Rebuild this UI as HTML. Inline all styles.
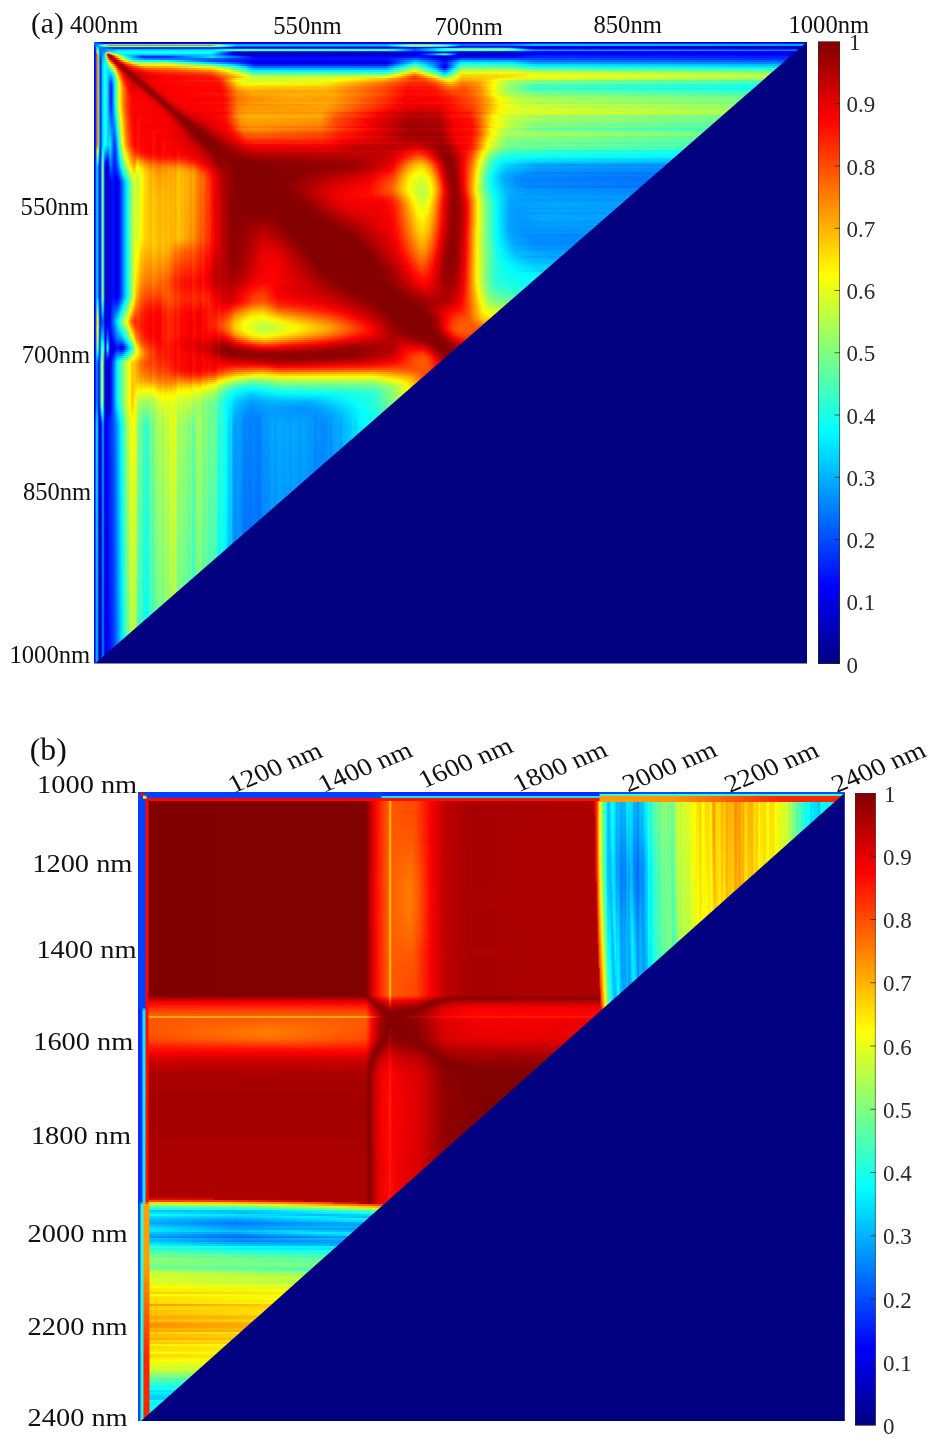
<!DOCTYPE html>
<html><head><meta charset="utf-8"><title>Figure</title>
<style>
html,body{margin:0;padding:0;background:#fff}
body{width:944px;height:1450px;position:relative;overflow:hidden;font-family:"Liberation Serif",serif}
.hm{position:absolute;overflow:hidden}
.hm i{display:block;width:100%}
svg text{font-family:"Liberation Serif",serif}
</style></head><body>
<div class="hm" style="left:93.5px;top:41.5px;width:714px;height:622px">
<i style="height:1px;background:linear-gradient(90deg,#007eff 0px,#0001ff 6px,#0000c5 9px,#0000b9 416px,#0000b4 713px)"></i>
<i style="height:1px;background:linear-gradient(90deg,#0065ff 0px,#007cff 1px,#000bff 11px,#000bff 359px,#000cff 417px,#003eff 441px,#0028ff 713px)"></i>
<i style="height:1px;background:linear-gradient(90deg,#004cff 0px,#007dff 2px,#007dff 3px,#00fdff 11px,#28ffd7 14px,#24ffdb 118px,#00fbff 125px,#0097ff 143px,#009bff 293px,#07fff8 317px,#15ffea 323px,#00f6ff 340px,#00caff 353px,#0076ff 368px,#007eff 416px,#00c5ff 440px,#00a1ff 713px)"></i>
<i style="height:1px;background:linear-gradient(90deg,#03f 0px,#009aff 3px,#0097ff 4px,#00f8ff 6px,#eaff15 11px,#ffe400 12px,#ff9400 14px,#ff8100 15px,#ff8000 117px,#fff600 124px,#c2ff3d 128px,#00feff 139px,#00cbff 142px,#00c5ff 292px,#00feff 297px,#fffe00 318px,#ffdf00 321px,#f6ff09 331px,#b7ff48 343px,#7cff83 351px,#07fff8 358px,#0070ff 367px,#0071ff 415px,#00bfff 440px,#009bff 713px)"></i>
<i style="height:1px;background:linear-gradient(90deg,#001aff 0px,#0072ff 2px,#00d2ff 3px,#00a0ff 4px,#008eff 5px,#00fcff 9px,#9eff61 15px,#adff52 17px,#adff52 117px,#01fffe 130px,#005eff 142px,#005eff 293px,#05fffa 315px,#2fffd0 321px,#00faff 342px,#00d4ff 351px,#0002ff 367px,#0000ed 712px)"></i>
<i style="height:1px;background:linear-gradient(90deg,#0001ff 0px,#006dff 2px,#0cfff3 3px,#00d4ff 4px,#008fff 5px,#007aff 8px,#0051ff 20px,#004dff 118px,#0000fb 133px,#0000c9 144px,#0000d0 302px,#0000da 334px,#0000d7 351px,#0005ff 357px,#0052ff 368px,#004cff 414px,#0000f9 429px,#0000c7 440px,#0000bd 711px)"></i>
<i style="height:1px;background:linear-gradient(90deg,#0000e7 0px,#0028ff 1px,#0068ff 2px,#4fb 3px,#0afff5 4px,#00a4ff 5px,#0079ff 6px,#0078ff 8px,#002eff 20px,#0035ff 124px,#0049ff 152px,#0041ff 302px,#0035ff 321px,#00afff 341px,#06fff9 350px,#21ffde 373px,#1dffe2 412px,#00f8ff 417px,#005dff 428px,#0000fe 435px,#0000d4 441px,#0000c9 710px)"></i>
<i style="height:1px;background:linear-gradient(90deg,#0000cf 0px,#0017ff 1px,#0063ff 2px,#7dff82 3px,#3fffc0 4px,#00b9ff 5px,#0070ff 6px,#009eff 16px,#00b2ff 24px,#00b6ff 118px,#03fffc 132px,#3bffc4 143px,#35ffca 293px,#00faff 300px,#0050ff 321px,#00deff 341px,#01fffe 344px,#6f9 354px,#cdff32 368px,#c9ff36 412px,#95ff6a 418px,#08fff7 427px,#0078ff 437px,#005eff 442px,#0045ff 708px)"></i>
<i style="height:1px;background:linear-gradient(90deg,#0000bf 0px,#0006ff 1px,#005eff 2px,#b6ff49 3px,#74ff8b 4px,#00ceff 5px,#0068ff 6px,#0084ff 8px,#008cff 11px,#00c8ff 19px,#00e5ff 24px,#00e9ff 118px,#08fff7 123px,#7aff85 143px,#79ff86 292px,#00fcff 304px,#004dff 321px,#00d7ff 341px,#03fffc 345px,#41ffbe 351px,#42ffbd 413px,#00f8ff 425px,#00a4ff 437px,#0096ff 448px,#0078ff 707px)"></i>
<i style="height:1px;background:linear-gradient(90deg,#0000bf 0px,#0000f9 1px,#0059ff 2px,#efff10 3px,#a9ff56 4px,#00e2ff 5px,#0060ff 6px,#0069ff 7px,#08f 8px,#0085ff 10px,#009dff 12px,#00d9ff 14px,#0df 19px,#0bfff4 24px,#0afff5 118px,#00d9ff 124px,#0047ff 143px,#0040ff 296px,#0015ff 322px,#005fff 343px,#0085ff 351px,#03f 368px,#002bff 421px,#0014ff 449px,#0004ff 706px)"></i>
<i style="height:1px;background:linear-gradient(90deg,#0000bf 0px,#0000f6 1px,#0054ff 2px,#ffd700 3px,#deff21 4px,#00f7ff 5px,#0057ff 6px,#0062ff 7px,#008cff 8px,#0090ff 10px,#00abff 11px,#28ffd7 12px,#6aff95 13px,#8f7 14px,#79ff86 15px,#35ffca 17px,#16ffe9 19px,#1bffe4 117px,#00f6ff 120px,#0000fd 139px,#0000d2 143px,#0000db 418px,#0000f0 449px,#0000e4 705px)"></i>
<i style="height:1px;background:linear-gradient(90deg,#0000bf 0px,#0000f6 1px,#0054ff 2px,#ff9e00 3px,#ffeb00 4px,#0dfff2 5px,#004fff 6px,#005bff 7px,#0090ff 8px,#009eff 10px,#00dfff 11px,#b7ff48 12px,#ff9d00 13px,#ff7e00 14px,#ff9000 15px,#ffc900 16px,#e6ff19 17px,#af5 18px,#84ff7b 19px,#40ffbf 23px,#02fffd 28px,#00fbff 117px,#0001ff 137px,#0000bd 143px,#0000c4 300px,#0000df 322px,#0008ff 328px,#0067ff 341px,#00cdff 351px,#0000fc 364px,#0000cd 367px,#0000cf 417px,#0000fd 442px,#0000ef 704px)"></i>
<i style="height:1px;background:linear-gradient(90deg,#0000bf 0px,#0000f6 1px,#05f 2px,#ff8100 3px,#ffb600 4px,#21ffde 5px,#0046ff 6px,#0054ff 7px,#0094ff 8px,#00b8ff 10px,#13ffec 11px,#e8ff17 12px,#ff4600 13px,#c70000 14px,#c20000 15px,#f80000 16px,#ff9600 18px,#ffd500 19px,#faff05 20px,#7fff80 24px,#00f9ff 29px,#00e8ff 30px,#00cbff 49px,#00cbff 117px,#0002ff 136px,#0000be 143px,#0000c5 300px,#0000dc 321px,#0001ff 325px,#0090ff 340px,#00faff 347px,#2effd1 351px,#01fffe 353px,#0004ff 364px,#0000c0 367px,#0000bf 415px,#0004ff 436px,#0009ff 491px,#0000fc 703px)"></i>
<i style="height:1px;background:linear-gradient(90deg,#0000bf 0px,#0000f6 1px,#05f 2px,#ff8000 3px,#ff8d00 4px,#36ffc9 5px,#003eff 6px,#004dff 7px,#0098ff 8px,#00c5ff 10px,#10ffef 11px,#d2ff2d 12px,#ff5300 13px,#b70000 14px,#900000 15px,#9f0000 16px,#c80000 17px,#ff0500 18px,#ff8200 20px,#ffde00 22px,#fbff04 23px,#12ffed 30px,#00f4ff 31px,#00c9ff 36px,#008bff 47px,#0092ff 75px,#00d1ff 118px,#000bff 144px,#0000e8 154px,#0000d3 163px,#0000db 305px,#0000ef 324px,#000bff 332px,#0048ff 346px,#005fff 351px,#0001ff 361px,#0000c6 368px,#0000cd 416px,#0006ff 432px,#0019ff 445px,#0009ff 702px)"></i>
<i style="height:2px;background:linear-gradient(90deg,#0000bf 0px,#0000f6 1px,#05f 2px,#ff8000 3px,#ff8b00 4px,#48ffb7 5px,#0032ff 6px,#0042ff 7px,#009eff 8px,#00c8ff 10px,#00f5ff 11px,#80ff7f 12px,#ffca00 13px,#f92600 14px,#be0000 15px,#9b0000 16px,#950000 17px,#a90000 18px,#d20000 19px,#f21800 20px,#ff7c00 22px,#ffd300 24px,#e5ff1a 26px,#23ffdc 32px,#0ef 34px,#0049ff 46px,#002bff 50px,#002fff 72px,#00deff 118px,#0053ff 146px,#0003f8 159px,#0007f9 300px,#001aff 323px,#00e 341px,#0000ce 352px,#0009f5 367px,#000efd 421px,#002dff 444px,#001bff 700px)"></i>
<i style="height:2px;background:linear-gradient(90deg,#0000bf 0px,#0000f6 1px,#05f 2px,#ff7f00 3px,#ff8b00 4px,#49ffb6 5px,#0029ff 6px,#0035ff 7px,#00a6ff 8px,#00efff 11px,#3cffc3 12px,#abff54 13px,#ffbe00 14px,#ff4600 15px,#ec1000 16px,#c40000 17px,#9f0000 18px,#930000 19px,#9e0000 20px,#e60900 22px,#ff2700 23px,#ffb400 26px,#f6f009 28px,#e5ff1a 29px,#15fbea 36px,#00e4ff 38px,#0086ff 51px,#0061ff 119px,#000dff 164px,#0013ff 294px,#006aff 321px,#0003f7 344px,#0000cd 351px,#000afb 358px,#0051ff 368px,#0032ff 698px)"></i>
<i style="height:2px;background:linear-gradient(90deg,#0000bf 0px,#0000f6 1px,#05f 2px,#ff7f00 3px,#ff8b00 4px,#49ffb6 5px,#0029ff 6px,#03f 7px,#00acff 8px,#00d3ff 9px,#02fdfd 11px,#2affd5 12px,#6fff90 13px,#dcff23 14px,#ffc100 15px,#ff4500 17px,#f11400 18px,#c00 19px,#a40000 20px,#910000 21px,#950000 22px,#ac0000 23px,#d20000 24px,#ff3100 26px,#ffa500 29px,#fede01 31px,#d0ff2f 34px,#39ffc6 40px,#23ffdc 42px,#18f3e7 74px,#00cbff 88px,#0042ff 120px,#0000f7 158px,#0000f7 293px,#00aeff 321px,#0045ff 341px,#0003f7 350px,#000eff 353px,#00aeff 367px,#00abff 416px,#0070ff 441px,#0056ff 696px)"></i>
<i style="height:2px;background:linear-gradient(90deg,#0000bf 0px,#0000f6 1px,#05f 2px,#ff8000 3px,#ff8b00 4px,#49ffb6 5px,#0029ff 6px,#03f 7px,#00adff 8px,#01fdfe 10px,#2fd 12px,#47ffb8 13px,#e6ff19 15px,#ffe500 16px,#ff4900 19px,#f51500 20px,#d00000 21px,#a70000 22px,#920000 23px,#900000 24px,#b90000 26px,#db0000 27px,#ff2300 29px,#ff8a00 33px,#f8e007 38px,#beff41 43px,#a9ff56 46px,#a3ff5c 72px,#1df9e2 102px,#00c7ff 119px,#0042ff 146px,#0002f7 157px,#0000e4 162px,#0000e6 292px,#0009ff 296px,#01effe 321px,#0070ff 341px,#01f 351px,#04f7fb 367px,#00f1ff 418px,#00a3ff 440px,#0083ff 694px)"></i>
<i style="height:2px;background:linear-gradient(90deg,#0000bf 0px,#0000f6 1px,#05f 2px,#ff8000 3px,#ff8b00 4px,#49ffb6 5px,#0029ff 6px,#03f 7px,#00adff 8px,#03fffc 10px,#1fffe0 11px,#21ffde 13px,#9f6 15px,#f0fb0f 17px,#ffde00 18px,#ff7d00 20px,#f30e00 22px,#cd0000 23px,#a80000 24px,#930000 25px,#950000 27px,#f10800 31px,#ff2b00 33px,#ffa100 41px,#fce803 47px,#faf105 60px,#f0f90f 76px,#57ffa8 119px,#18f7e7 130px,#00d5ff 139px,#001fff 161px,#0021ff 292px,#07f3f8 314px,#36ffc9 320px,#34ffcb 322px,#01f3fe 329px,#008fff 340px,#0003fb 350px,#000bff 352px,#00f4ff 364px,#2effd1 367px,#2cffd3 416px,#05f3fa 431px,#00e0ff 447px,#00bcff 691px)"></i>
<i style="height:2px;background:linear-gradient(90deg,#0000bf 0px,#0000f6 1px,#05f 2px,#ff8000 3px,#ff8b00 4px,#49ffb6 5px,#0029ff 6px,#03f 7px,#00adff 8px,#03fffc 10px,#1fffe0 11px,#02fbfd 13px,#16ffe9 14px,#af5 17px,#f5f60a 19px,#ffd300 20px,#ff2600 23px,#ee0300 24px,#a80000 26px,#8c0000 28px,#9b0000 30px,#ef0100 34px,#ff2000 37px,#ff9f00 51px,#ffac00 74px,#f6f209 103px,#d7ff28 118px,#0ef9f1 145px,#00d4ff 150px,#006eff 160px,#006cff 292px,#08f5f7 307px,#43ffbc 314px,#81ff7e 321px,#04f7fb 333px,#00a7ff 340px,#0003fc 349px,#0000e5 351px,#0001fa 352px,#07fbf8 363px,#60ff9f 367px,#61ff9e 415px,#12ffed 441px,#00e5ff 689px)"></i>
<i style="height:2px;background:linear-gradient(90deg,#0000bf 0px,#0000f6 1px,#05f 2px,#ff8000 3px,#ff8b00 4px,#49ffb6 5px,#0029ff 6px,#03f 7px,#00adff 8px,#03fffc 10px,#1fffe0 11px,#00f3ff 13px,#00e8ff 14px,#0af9f5 15px,#e3ff1c 20px,#ffe300 21px,#ff3a00 24px,#fe0f00 25px,#e70000 26px,#a70000 28px,#8c0000 30px,#930000 32px,#f30100 38px,#ff2600 44px,#f60 55px,#ff7000 75px,#ffd200 118px,#ecfc13 126px,#60ff9f 144px,#0ffbf0 152px,#00d4ff 157px,#00b2ff 161px,#00b3ff 292px,#08f5f7 300px,#42ffbd 307px,#c2ff3d 321px,#0bf8f4 338px,#00d5ff 341px,#002fff 350px,#0026ff 351px,#03f2fc 360px,#24ffdb 362px,#97ff68 367px,#97ff68 416px,#57ffa8 441px,#27ffd8 687px)"></i>
<i style="height:2px;background:linear-gradient(90deg,#0000bf 0px,#0000f6 1px,#05f 2px,#ff8000 3px,#ff8b00 4px,#49ffb6 5px,#0029ff 6px,#03f 7px,#00adff 8px,#03fffc 10px,#1fffe0 11px,#00f3ff 13px,#00e0ff 14px,#00deff 15px,#0ef 16px,#17ffe8 17px,#a0ff5f 20px,#dcff23 21px,#ffe300 22px,#ff6f00 24px,#f80600 27px,#a70000 30px,#8c0000 32px,#980000 35px,#e70000 41px,#ff0b00 47px,#ff3b00 60px,#ff4700 79px,#ff8900 118px,#f8f807 133px,#a5ff5a 144px,#09f7f6 159px,#06f4f9 293px,#40ffbf 301px,#e5ff1a 321px,#20ffdf 340px,#00edff 343px,#0079ff 350px,#0072ff 351px,#00f0ff 357px,#31ffce 360px,#c5ff3a 367px,#c5ff3a 417px,#96ff69 443px,#5fffa0 684px)"></i>
<i style="height:2px;background:linear-gradient(90deg,#0000bf 0px,#0000f6 1px,#05f 2px,#ff8000 3px,#ff8b00 4px,#49ffb6 5px,#0029ff 6px,#03f 7px,#00adff 8px,#03fffc 10px,#1fffe0 11px,#00f2ff 13px,#00cfff 15px,#00cdff 16px,#07f6f8 18px,#2bffd4 19px,#5cffa3 20px,#e4ff1b 22px,#ffd400 23px,#f90 24px,#ff0a00 28px,#ba0000 31px,#8c0000 34px,#920000 37px,#de0000 44px,#fe0600 54px,#ff1d00 66px,#ff3b00 97px,#ff5900 118px,#f9f606 140px,#d6ff29 145px,#3fffc0 160px,#3effc1 292px,#eafa15 311px,#fc0 318px,#ffb800 321px,#f6ed09 327px,#d1ff2e 332px,#72ff8d 340px,#0ef8f1 346px,#00c0ff 350px,#00b8ff 351px,#09f8f6 355px,#e6ff19 367px,#e6ff19 418px,#c0ff3f 446px,#85ff7a 682px)"></i>
<i style="height:2px;background:linear-gradient(90deg,#0000bf 0px,#0000f6 1px,#05f 2px,#ff8000 3px,#ff8b00 4px,#49ffb6 5px,#0029ff 6px,#03f 7px,#00adff 8px,#03fffc 10px,#1fffe0 11px,#00f1ff 13px,#00c1ff 15px,#00b3ff 16px,#00b7ff 17px,#00edff 19px,#1affe5 20px,#f8fb07 23px,#ff9100 25px,#ff0f00 29px,#f70000 30px,#970000 35px,#890000 38px,#d70000 47px,#ff0500 64px,#ff1d00 102px,#ff3100 118px,#fe0 145px,#e2ff1d 150px,#87ff78 161px,#8eff71 292px,#f6fb09 304px,#ffa500 314px,#ff6e00 321px,#f7fa08 335px,#bfff40 340px,#1fe 350px,#0dfbf2 351px,#a5ff5a 360px,#f8f707 365px,#ffd600 368px,#ffe000 419px,#fbfd04 442px,#beff41 680px)"></i>
<i style="height:2px;background:linear-gradient(90deg,#0000bf 0px,#0000f6 1px,#05f 2px,#ff8000 3px,#ff8b00 4px,#49ffb6 5px,#0029ff 6px,#03f 7px,#00adff 8px,#03fffc 10px,#1fffe0 11px,#14ffeb 12px,#00f1ff 13px,#09f 16px,#0095ff 17px,#00efff 20px,#27ffd8 21px,#ceff31 23px,#ffe700 24px,#ff8b00 26px,#ff2700 29px,#fa0100 31px,#970000 37px,#800 40px,#d70000 50px,#fd0000 71px,#ff1400 118px,#ffa100 140px,#f7f708 152px,#c3ff3c 161px,#d0ff2f 276px,#deff21 293px,#ffdc00 301px,#ff3b00 320px,#ff5000 324px,#f7ef08 340px,#d7ff28 343px,#6aff95 350px,#62ff9d 351px,#d0ff2f 360px,#faff05 363px,#ffca00 368px,#ffd500 405px,#f7ff08 438px,#b7ff48 677px)"></i>
<i style="height:2px;background:linear-gradient(90deg,#0000bf 0px,#0000f6 1px,#05f 2px,#ff8000 3px,#ff8b00 4px,#49ffb6 5px,#0029ff 6px,#03f 7px,#00adff 8px,#03fffc 10px,#1fffe0 11px,#14ffeb 12px,#00f0ff 13px,#0080ff 16px,#0072ff 17px,#00e5ff 20px,#1fe 21px,#4dffb2 22px,#f0ff0f 24px,#ffd500 25px,#ff5800 28px,#ff0e00 31px,#ec0000 33px,#8f0000 40px,#8c0000 43px,#e20000 51px,#fa0000 66px,#ff0f00 120px,#ff2c00 127px,#ffd200 141px,#edf912 149px,#c9ff36 163px,#df2 230px,#fdfb02 252px,#ffc100 290px,#ff3000 320px,#ff4b00 330px,#ffab00 342px,#fbe704 347px,#deff21 353px,#e3ff1c 356px,#ffec00 361px,#ffae00 368px,#ffc200 389px,#f6fc09 406px,#d9ff26 417px,#94ff6b 675px)"></i>
<i style="height:2px;background:linear-gradient(90deg,#0000bf 0px,#0000f6 1px,#05f 2px,#ff8000 3px,#ff8b00 4px,#49ffb6 5px,#0029ff 6px,#03f 7px,#00adff 8px,#03fffc 10px,#1fffe0 11px,#14ffeb 12px,#00efff 13px,#06f 16px,#0050ff 17px,#00deff 20px,#0efff1 21px,#87ff78 23px,#cf3 24px,#fff600 25px,#ff6d00 28px,#ff1c00 31px,#fa0000 33px,#9c0000 41px,#8d0000 45px,#e90000 53px,#fb0000 63px,#ff2000 124px,#ff3a00 128px,#ffe800 141px,#f5ff0a 145px,#cfff30 154px,#d2ff2d 198px,#e3ff1c 230px,#fff900 244px,#ffa500 287px,#ff3c00 318px,#ff4100 330px,#ff8300 342px,#fff100 354px,#ffe900 358px,#ff9800 368px,#ffb200 385px,#f7ff08 401px,#abff54 415px,#7fff80 445px,#4bffb4 673px)"></i>
<i style="height:2px;background:linear-gradient(90deg,#0000bf 0px,#0000f6 1px,#05f 2px,#ff7f00 3px,#ff8b00 4px,#49ffb6 5px,#0029ff 6px,#03f 7px,#00adff 8px,#03fffc 10px,#1fffe0 11px,#14ffeb 12px,#00efff 13px,#008bff 15px,#004eff 16px,#002eff 17px,#00d8ff 20px,#0cfff3 21px,#c2ff3d 24px,#efff10 25px,#ffe400 26px,#ff8200 28px,#ff2a00 31px,#ff0600 33px,#8d0000 46px,#9b0000 49px,#e80000 55px,#fb0000 63px,#ff0a00 124px,#ff2800 129px,#ffcf00 142px,#fef701 148px,#f6fc09 181px,#fe0 231px,#ff7300 289px,#ff2100 317px,#ff2700 332px,#ff5a00 343px,#ffb700 355px,#ffb000 359px,#ff7500 368px,#ff8f00 382px,#ffc000 392px,#fdff02 401px,#a8ff57 415px,#76ff89 442px,#46ffb9 671px)"></i>
<i style="height:2px;background:linear-gradient(90deg,#0000bf 0px,#0000f6 1px,#05f 2px,#ff8000 3px,#ff8b00 4px,#49ffb6 5px,#0029ff 6px,#03f 7px,#00adff 8px,#03fffc 10px,#1fffe0 11px,#14ffeb 12px,#00efff 13px,#008aff 15px,#0045ff 16px,#0013ff 17px,#0049ff 18px,#00d1ff 20px,#0afff5 21px,#c1ff3e 24px,#ebff14 25px,#fff300 26px,#ff7100 29px,#ff2000 32px,#ff0200 34px,#cf0000 40px,#cb0000 43px,#8e0000 48px,#980000 51px,#e70000 57px,#fb0000 64px,#ff0f00 125px,#ff2f00 130px,#fc0 143px,#ffef00 150px,#fe0 200px,#ffdf00 231px,#ff6500 289px,#ff1f00 316px,#ff2600 335px,#ff5800 346px,#ff9b00 356px,#ff8900 362px,#ff6b00 369px,#ff9800 385px,#fdff02 399px,#97ff68 414px,#47ffb8 440px,#1affe5 668px)"></i>
<i style="height:2px;background:linear-gradient(90deg,#0000bf 0px,#0000f6 1px,#05f 2px,#ff8000 3px,#ff8b00 4px,#49ffb6 5px,#0029ff 6px,#03f 7px,#00adff 8px,#03fffc 10px,#1fffe0 11px,#14ffeb 12px,#00efff 13px,#008aff 15px,#0045ff 16px,#000fff 17px,#003cff 18px,#00caff 20px,#08fff7 21px,#c1ff3e 24px,#ebff14 25px,#fff400 26px,#ff6200 30px,#ff1a00 33px,#fc0000 35px,#da0000 40px,#e40000 43px,#8f0000 50px,#950000 53px,#ed0000 60px,#fb0000 69px,#ff0700 127px,#ff3b00 133px,#ffab00 143px,#ffce00 151px,#ffc200 231px,#ff4e00 289px,#ff0c00 315px,#ff1200 337px,#ff4500 348px,#ff7400 357px,#ff5400 370px,#ff8c00 386px,#fbff04 400px,#97ff68 415px,#42ffbd 439px,#16ffe9 666px)"></i>
<i style="height:2px;background:linear-gradient(90deg,#0000bf 0px,#0000f6 1px,#05f 2px,#ff8000 3px,#ff8b00 4px,#49ffb6 5px,#0029ff 6px,#03f 7px,#00adff 8px,#03fffc 10px,#1fffe0 11px,#14ffeb 12px,#00efff 13px,#008aff 15px,#0045ff 16px,#000fff 17px,#003cff 18px,#00c6ff 20px,#06fff9 21px,#c1ff3e 24px,#ebff14 25px,#fff400 26px,#ff8b00 29px,#ff2400 33px,#ff0400 35px,#e00000 40px,#ed0000 44px,#c70000 48px,#920000 52px,#930000 55px,#ea0000 62px,#fb0000 70px,#ff0800 126px,#ff2d00 132px,#ff9f00 143px,#ffc100 152px,#ffbc00 232px,#ff4d00 290px,#ff0e00 315px,#ff1600 339px,#ff6400 357px,#ff5700 371px,#ff9600 387px,#faff05 399px,#94ff6b 414px,#31ffce 439px,#07fdf8 664px)"></i>
<i style="height:2px;background:linear-gradient(90deg,#0000bf 0px,#0000f6 1px,#05f 2px,#ff8000 3px,#ff8b00 4px,#49ffb6 5px,#0029ff 6px,#03f 7px,#00adff 8px,#03fffc 10px,#1fffe0 11px,#14ffeb 12px,#00efff 13px,#008aff 15px,#0045ff 16px,#000fff 17px,#003cff 18px,#00c5ff 20px,#06fff9 21px,#c1ff3e 24px,#ebff14 25px,#fff400 26px,#ff8b00 29px,#ff1b00 34px,#fe0100 36px,#e50000 40px,#f50000 44px,#d90000 49px,#940000 54px,#900000 57px,#e80000 64px,#fa0000 71px,#fb0400 128px,#f20 133px,#ff8200 143px,#ffa300 153px,#ffa700 233px,#ff3e00 290px,#fb0400 312px,#ff0a00 342px,#ff4500 357px,#ff4500 371px,#ff8600 387px,#fbfb04 400px,#a2ff5d 415px,#68ff97 440px,#3bffc4 661px)"></i>
<i style="height:2px;background:linear-gradient(90deg,#0000bf 0px,#0000f6 1px,#05f 2px,#ff8000 3px,#ff8b00 4px,#49ffb6 5px,#0029ff 6px,#03f 7px,#00adff 8px,#03fffc 10px,#1fffe0 11px,#14ffeb 12px,#00efff 13px,#008aff 15px,#0045ff 16px,#000fff 17px,#003cff 18px,#00c5ff 20px,#06fff9 21px,#c1ff3e 24px,#ebff14 25px,#fff400 26px,#ff8b00 29px,#ff2400 34px,#fb0000 37px,#ec0000 41px,#f80000 45px,#e70000 50px,#8f0000 57px,#960000 60px,#ec0000 67px,#fa0000 77px,#ff0d00 129px,#ff5000 137px,#ff8d00 145px,#ffa700 159px,#ffae00 234px,#f40 291px,#fc0a00 313px,#ff0f00 342px,#ff4000 357px,#ff5100 373px,#ff8d00 387px,#fbf704 399px,#a2ff5d 415px,#71ff8e 443px,#43ffbc 659px)"></i>
<i style="height:2px;background:linear-gradient(90deg,#0000bf 0px,#0000f6 1px,#05f 2px,#ff8000 3px,#ff8b00 4px,#49ffb6 5px,#0029ff 6px,#03f 7px,#00adff 8px,#03fffc 10px,#1fffe0 11px,#14ffeb 12px,#00efff 13px,#008aff 15px,#0045ff 16px,#000fff 17px,#003cff 18px,#00c5ff 20px,#06fff9 21px,#c1ff3e 24px,#ebff14 25px,#fff400 26px,#ff8b00 29px,#ff3800 33px,#ff0100 37px,#f00000 41px,#f90000 47px,#e90000 52px,#910000 59px,#930000 62px,#ea0000 69px,#fa0000 77px,#ff0e00 129px,#f40 136px,#ff8500 144px,#ffa300 158px,#ffb300 207px,#ffa900 240px,#ff4200 292px,#fe0700 314px,#ff0f00 343px,#ff3a00 359px,#ff5a00 376px,#ff9a00 389px,#fbfa04 400px,#acff53 415px,#7bff84 443px,#4cffb3 657px)"></i>
<i style="height:2px;background:linear-gradient(90deg,#0000bf 0px,#0000f6 1px,#05f 2px,#ff8000 3px,#ff8b00 4px,#49ffb6 5px,#0029ff 6px,#03f 7px,#00adff 8px,#03fffc 10px,#1fffe0 11px,#14ffeb 12px,#00efff 13px,#008aff 15px,#0045ff 16px,#000fff 17px,#003cff 18px,#00c5ff 20px,#06fff9 21px,#c1ff3e 24px,#ebff14 25px,#fff400 26px,#ff8b00 29px,#ff3800 33px,#fc0000 38px,#f30000 41px,#f80000 51px,#d70000 56px,#930000 61px,#910000 64px,#e70000 71px,#fa0000 78px,#ff0600 130px,#ff7800 144px,#ff9700 161px,#ffa800 201px,#ffa100 239px,#ff3100 293px,#fc0000 311px,#fd0100 343px,#ff5600 379px,#f90 391px,#fcfd03 403px,#b9ff46 419px,#9f6 446px,#6aff95 655px)"></i>
<i style="height:2px;background:linear-gradient(90deg,#0000bf 0px,#0000f6 1px,#05f 2px,#ff8000 3px,#ff8b00 4px,#49ffb6 5px,#0029ff 6px,#03f 7px,#00adff 8px,#03fffc 10px,#1fffe0 11px,#14ffeb 12px,#00efff 13px,#008aff 15px,#0045ff 16px,#000fff 17px,#003cff 18px,#00c5ff 20px,#06fff9 21px,#c1ff3e 24px,#ebff14 25px,#fff400 26px,#ff8b00 29px,#ff3800 33px,#ff0100 38px,#fa0000 42px,#f20000 55px,#cd0000 59px,#8e0000 64px,#970000 67px,#ec0000 74px,#fa0000 84px,#fa0000 128px,#ff1500 133px,#ff7000 143px,#ff8e00 156px,#ffa400 193px,#ff9e00 239px,#ff2b00 293px,#fa0000 309px,#f20000 338px,#ff0900 350px,#ff5300 380px,#ff9f00 393px,#fdff02 405px,#c1ff3e 422px,#a7ff58 449px,#79ff86 652px)"></i>
<i style="height:2px;background:linear-gradient(90deg,#0000bf 0px,#0000f6 1px,#05f 2px,#ff8000 3px,#ff8b00 4px,#49ffb6 5px,#0029ff 6px,#03f 7px,#00adff 8px,#03fffc 10px,#1fffe0 11px,#14ffeb 12px,#00efff 13px,#008aff 15px,#0045ff 16px,#000fff 17px,#003cff 18px,#00c5ff 20px,#06fff9 21px,#c1ff3e 24px,#ebff14 25px,#fff400 26px,#ff8b00 29px,#ff3800 33px,#ff0300 38px,#f30000 57px,#d10000 61px,#900000 66px,#940000 69px,#e90000 76px,#fa0000 84px,#fa0100 129px,#ff1a00 134px,#ff6e00 143px,#ff8900 154px,#ffa000 194px,#ff9c00 238px,#ff2100 294px,#f70000 308px,#eb0000 331px,#ff0900 353px,#ff4d00 380px,#ff9f00 394px,#fffb00 406px,#c8ff37 425px,#b3ff4c 458px,#86ff79 650px)"></i>
<i style="height:2px;background:linear-gradient(90deg,#0000bf 0px,#0000f6 1px,#05f 2px,#ff8000 3px,#ff8b00 4px,#49ffb6 5px,#0029ff 6px,#03f 7px,#00adff 8px,#03fffc 10px,#1fffe0 11px,#14ffeb 12px,#00efff 13px,#008aff 15px,#0045ff 16px,#000fff 17px,#003cff 18px,#00c5ff 20px,#06fff9 21px,#c1ff3e 24px,#ebff14 25px,#fff400 26px,#ff8c00 29px,#ff3800 33px,#ff0300 38px,#f40000 59px,#d40000 63px,#920000 68px,#920000 71px,#e60000 78px,#f90000 85px,#ff0c00 129px,#ff3200 135px,#ff8500 144px,#ff9d00 159px,#ffb000 215px,#ffa600 240px,#ff2600 296px,#fa0200 312px,#ff0800 348px,#ff5900 380px,#fa0 394px,#fdf902 404px,#bcff43 425px,#9fff60 446px,#6fff90 648px)"></i>
<i style="height:2px;background:linear-gradient(90deg,#0000bf 0px,#0000f6 1px,#05f 2px,#ff8000 3px,#ff8b00 4px,#49ffb6 5px,#0029ff 6px,#03f 7px,#00adff 8px,#03fffc 10px,#1fffe0 11px,#14ffeb 12px,#00efff 13px,#008dff 15px,#0049ff 16px,#0013ff 17px,#003dff 18px,#02fefd 21px,#bdff42 24px,#e7ff18 25px,#fff700 26px,#ff8e00 29px,#ff3900 33px,#ff0400 38px,#f10000 62px,#bc0000 67px,#8d0000 71px,#970000 74px,#e90000 81px,#f90000 91px,#fb0000 129px,#ff1800 134px,#f70 144px,#ff8c00 156px,#ff9d00 231px,#ff2000 290px,#f80000 304px,#e30000 320px,#ed0000 346px,#ff0b00 357px,#ff4500 380px,#ff9700 394px,#fff200 406px,#f0ff0f 413px,#d3ff2c 429px,#9aff65 645px)"></i>
<i style="height:2px;background:linear-gradient(90deg,#0000bf 0px,#0000f6 1px,#05f 2px,#ff8000 3px,#ff8b00 4px,#49ffb6 5px,#0029ff 6px,#03f 7px,#00adff 8px,#03fffc 10px,#1fffe0 11px,#14ffeb 12px,#00efff 13px,#0090ff 15px,#001dff 17px,#0042ff 18px,#00f6ff 21px,#b3ff4c 24px,#fefe01 26px,#ff9400 29px,#ff3c00 33px,#ff0900 37px,#ff0100 44px,#f20000 64px,#ce0000 68px,#8f0000 73px,#940000 76px,#e30000 83px,#f70000 91px,#ff0700 129px,#ff2c00 135px,#ff8400 144px,#ff9800 154px,#ffa400 231px,#f10 296px,#f30000 307px,#e60000 328px,#f30000 347px,#ff1400 358px,#ff4a00 380px,#ffab00 395px,#fefb01 406px,#d2ff2d 423px,#bf4 468px,#90ff6f 643px)"></i>
<i style="height:2px;background:linear-gradient(90deg,#0000bf 0px,#0000f6 1px,#05f 2px,#ff8000 3px,#ff8b00 4px,#49ffb6 5px,#0029ff 6px,#03f 7px,#00adff 8px,#03fffc 10px,#1fffe0 11px,#14ffeb 12px,#00efff 13px,#0094ff 15px,#0027ff 17px,#0047ff 18px,#00ecff 21px,#2bffd4 22px,#a8ff57 24px,#f7ff08 26px,#ff9a00 29px,#ff5000 32px,#ff0900 37px,#ff0200 43px,#f20000 66px,#d10000 70px,#900000 75px,#900000 78px,#e20000 86px,#f50000 96px,#ff0600 130px,#ff3200 136px,#ff8200 144px,#ff9600 153px,#ff9e00 229px,#f80200 298px,#d70000 318px,#e10000 346px,#ff0b00 358px,#ff3a00 379px,#ffa900 395px,#fff900 406px,#df2 422px,#a7ff58 641px)"></i>
<i style="height:2px;background:linear-gradient(90deg,#0000bf 0px,#0000f6 1px,#05f 2px,#ff8000 3px,#ff8b00 4px,#49ffb6 5px,#0029ff 6px,#03f 7px,#00adff 8px,#03fffc 10px,#1fffe0 11px,#14ffeb 12px,#00efff 13px,#0065ff 16px,#0031ff 17px,#004cff 18px,#00e2ff 21px,#20ffdf 22px,#9dff62 24px,#efff10 26px,#ffe700 27px,#ffa000 29px,#ff5300 32px,#ff0900 37px,#fe0000 42px,#f30000 68px,#d20000 72px,#900000 77px,#8c0000 80px,#e10000 89px,#f30000 101px,#ff0800 130px,#ff4200 137px,#ff8900 144px,#ff9d00 153px,#ffa100 228px,#ff2500 277px,#f80000 295px,#cf0000 316px,#d60000 345px,#ff0400 356px,#ff3100 378px,#ffa100 393px,#fff700 404px,#d9ff26 420px,#a7ff58 638px)"></i>
<i style="height:2px;background:linear-gradient(90deg,#0000bf 0px,#0000f6 1px,#05f 2px,#ff8000 3px,#ff8b00 4px,#49ffb6 5px,#0029ff 6px,#03f 7px,#00adff 8px,#03fffc 10px,#1fffe0 11px,#14ffeb 12px,#00efff 13px,#003bff 17px,#0052ff 18px,#00d8ff 21px,#14ffeb 22px,#92ff6d 24px,#e7ff18 26px,#fe0 27px,#ffa600 29px,#ff5700 32px,#ff0b00 37px,#f60000 41px,#fe0000 49px,#f30000 70px,#d20000 74px,#900000 79px,#890000 82px,#df0000 92px,#f20000 107px,#f60000 129px,#ff0c00 133px,#ff7e00 144px,#ff9300 152px,#ff9300 227px,#ff4b00 248px,#f80000 283px,#b40000 315px,#b00 345px,#f80000 359px,#ff1200 376px,#ff4e00 385px,#ffe400 402px,#f9ff06 409px,#e2ff1d 422px,#e3ff1c 467px,#b9ff46 636px)"></i>
<i style="height:2px;background:linear-gradient(90deg,#0000bf 0px,#0000f6 1px,#05f 2px,#ff7f00 3px,#ff8b00 4px,#49ffb6 5px,#0029ff 6px,#03f 7px,#00adff 8px,#03fffc 10px,#1fffe0 11px,#14ffeb 12px,#00efff 13px,#07f 16px,#04f 17px,#0057ff 18px,#009eff 20px,#09fff6 22px,#8f7 24px,#dfff20 26px,#fff500 27px,#ffac00 29px,#ff5b00 32px,#ff0d00 37px,#f50000 41px,#ff0600 45px,#f20000 72px,#c30000 77px,#8a0000 82px,#910000 86px,#d80000 94px,#f00000 109px,#ff0500 129px,#ff2f00 135px,#ff9400 144px,#ffab00 152px,#ffa900 226px,#ff5d00 244px,#f80000 286px,#bd0000 315px,#c40000 345px,#ff0400 357px,#f20 377px,#ff6b00 386px,#fff300 400px,#e6ff19 407px,#c5ff3a 421px,#adff52 463px,#84ff7b 634px)"></i>
<i style="height:2px;background:linear-gradient(90deg,#0000bf 0px,#0000f6 1px,#05f 2px,#ff8000 3px,#ff8b00 4px,#49ffb6 5px,#0029ff 6px,#03f 7px,#00adff 8px,#03fffc 10px,#1fffe0 11px,#14ffeb 12px,#00efff 13px,#0081ff 16px,#004eff 17px,#005cff 18px,#0097ff 20px,#00fdff 22px,#7dff82 24px,#fffc00 27px,#ffb200 29px,#ff5f00 32px,#ff0f00 37px,#f50000 41px,#ff0800 45px,#fb0000 59px,#f00000 74px,#c10000 79px,#890000 84px,#8c0000 88px,#d50000 97px,#f40000 118px,#ff0c00 130px,#ff4a00 137px,#ffa100 145px,#ffb400 153px,#ffad00 226px,#ff6000 242px,#f90300 283px,#b00 316px,#c20000 345px,#fd0600 356px,#ff2300 377px,#f60 385px,#fff900 399px,#beff41 416px,#94ff6b 446px,#68ff97 632px)"></i>
<i style="height:2px;background:linear-gradient(90deg,#0000bf 0px,#0000f6 1px,#05f 2px,#ff8000 3px,#ff8b00 4px,#49ffb6 5px,#0029ff 6px,#03f 7px,#00adff 8px,#03fffc 10px,#1fffe0 11px,#14ffeb 12px,#00efff 13px,#00a7ff 15px,#008aff 16px,#0058ff 17px,#07f 19px,#0090ff 20px,#00f2ff 22px,#72ff8d 24px,#fbff04 27px,#ff7c00 31px,#ff1f00 36px,#f80000 40px,#f40000 41px,#ff0b00 44px,#fa0000 51px,#f20000 75px,#c00 80px,#890000 86px,#890000 90px,#d00000 100px,#ed0000 116px,#ff0800 132px,#ff5800 140px,#ff9000 146px,#ffa100 156px,#ff9500 226px,#ff4700 242px,#fa0000 273px,#a40000 315px,#a00 345px,#f70000 359px,#ff0b00 377px,#ff4500 384px,#ffe300 398px,#f9fe06 403px,#c5ff3a 419px,#af5 450px,#81ff7e 629px)"></i>
<i style="height:2px;background:linear-gradient(90deg,#0000bf 0px,#0000f6 1px,#05f 2px,#ff8000 3px,#ff8b00 4px,#49ffb6 5px,#0029ff 6px,#03f 7px,#00adff 8px,#03fffc 10px,#1fffe0 11px,#14ffeb 12px,#00efff 13px,#0af 15px,#0094ff 16px,#0062ff 17px,#0075ff 19px,#08f 20px,#00b0ff 21px,#00e7ff 22px,#2affd5 23px,#9aff65 25px,#f5ff0a 27px,#ffa100 30px,#ff6700 32px,#ff1300 37px,#f40000 41px,#ff0900 43px,#fc0000 60px,#ef0000 77px,#c90000 82px,#890000 88px,#8b0000 93px,#cf0000 104px,#ed0000 119px,#ff0400 131px,#ff4000 138px,#ff9000 146px,#ffa400 155px,#ff9400 226px,#ff4900 242px,#f80000 275px,#a60000 315px,#ac0000 345px,#fa0000 359px,#ff0e00 377px,#ff4700 384px,#ffe200 397px,#f7ff08 402px,#bdff42 417px,#94ff6b 444px,#6bff94 627px)"></i>
<i style="height:2px;background:linear-gradient(90deg,#0000bf 0px,#0000f6 1px,#05f 2px,#ff8000 3px,#ff8b00 4px,#49ffb6 5px,#0029ff 6px,#03f 7px,#00adff 8px,#03fffc 10px,#1fffe0 11px,#14ffeb 12px,#00efff 13px,#00c7ff 14px,#009dff 16px,#006cff 17px,#0074ff 19px,#0081ff 20px,#00a6ff 21px,#00dcff 22px,#1fffe0 23px,#91ff6e 25px,#ef1 27px,#ffe400 28px,#ff6b00 32px,#ff1600 37px,#f40000 41px,#ff0a00 43px,#ff0d00 45px,#fe0000 48px,#f00000 78px,#c70000 84px,#890000 90px,#870000 95px,#db0000 111px,#ff0400 132px,#ff5900 141px,#ff9200 148px,#ff9d00 162px,#ff8b00 226px,#ff4200 243px,#f80000 274px,#a30000 315px,#a00 346px,#f60000 359px,#ff0900 377px,#ff4200 384px,#ffe200 397px,#f7ff08 402px,#b7ff48 418px,#8aff75 443px,#63ff9c 625px)"></i>
<i style="height:2px;background:linear-gradient(90deg,#0000bf 0px,#0000f6 1px,#05f 2px,#ff8000 3px,#ff8b00 4px,#49ffb6 5px,#0029ff 6px,#03f 7px,#00adff 8px,#03fffc 10px,#1fffe0 11px,#14ffeb 12px,#00efff 13px,#00c7ff 14px,#00a6ff 16px,#0076ff 17px,#0073ff 19px,#007aff 20px,#009cff 21px,#00d0ff 22px,#14ffeb 23px,#87ff78 25px,#e7ff18 27px,#ffeb00 28px,#ff6f00 32px,#ff1800 37px,#f40000 41px,#ff0b00 43px,#ff0f00 45px,#f80000 47px,#f80000 73px,#e40000 82px,#890000 92px,#800 98px,#e00000 116px,#f90000 131px,#ff1d00 136px,#ff8900 147px,#ff9b00 156px,#ff8600 226px,#ff4000 244px,#f90000 275px,#a50000 315px,#ab0000 346px,#fa0000 360px,#ff0a00 377px,#ff3600 383px,#ffe600 397px,#f9ff06 401px,#b1ff4e 417px,#78ff87 442px,#51ffae 622px)"></i>
<i style="height:2px;background:linear-gradient(90deg,#0000bf 0px,#0000f6 1px,#05f 2px,#ff8000 3px,#ff8b00 4px,#49ffb6 5px,#0029ff 6px,#03f 7px,#00adff 8px,#03fffc 10px,#1fffe0 11px,#14ffeb 12px,#00efff 13px,#00c7ff 14px,#00b0ff 16px,#0080ff 17px,#0073ff 20px,#0092ff 21px,#09fff6 23px,#7eff81 25px,#e0ff1f 27px,#fff100 28px,#ff7300 32px,#ff1a00 37px,#f50000 41px,#f10 44px,#f00 48px,#f40000 57px,#f00 60px,#ec0000 81px,#bf0000 88px,#800 94px,#800 101px,#de0000 118px,#f70000 133px,#ff1500 137px,#ff7500 147px,#ff8700 156px,#ff6d00 227px,#ff2d00 245px,#f80000 269px,#970000 315px,#9c0000 346px,#eb0000 360px,#ff0500 379px,#ff4b00 386px,#ffdb00 397px,#fdff02 402px,#b9ff46 417px,#8bff74 442px,#6f9 620px)"></i>
<i style="height:2px;background:linear-gradient(90deg,#0000bf 0px,#0000f6 1px,#05f 2px,#ff8000 3px,#ff8b00 4px,#49ffb6 5px,#0029ff 6px,#03f 7px,#00adff 8px,#03fffc 10px,#1fffe0 11px,#14ffeb 12px,#00efff 13px,#00c8ff 14px,#00b9ff 15px,#00b9ff 16px,#0089ff 17px,#006bff 20px,#08f 21px,#00baff 22px,#00fdff 23px,#a7ff58 26px,#fff700 28px,#f70 32px,#ff1d00 37px,#fd0000 40px,#f60000 41px,#f10 45px,#f80000 47px,#fb0000 50px,#fc0000 55px,#f30000 57px,#ff0100 60px,#ec0000 82px,#c40000 89px,#870000 96px,#870000 104px,#de0000 121px,#ff0500 135px,#ff8600 148px,#ff9800 157px,#ff7c00 227px,#ff4000 246px,#f70000 281px,#af0000 315px,#b60000 347px,#ff0100 359px,#ff1800 378px,#ff4b00 384px,#fff700 397px,#a3ff5c 414px,#60ff9f 442px,#3bffc4 618px)"></i>
<i style="height:2px;background:linear-gradient(90deg,#0000bf 0px,#0000f6 1px,#05f 2px,#ff8000 3px,#ff8b00 4px,#49ffb6 5px,#0029ff 6px,#03f 7px,#00adff 8px,#03fffc 10px,#1fffe0 11px,#14ffeb 12px,#00efff 13px,#00c8ff 14px,#00bdff 15px,#00c2ff 16px,#0093ff 17px,#0064ff 20px,#007eff 21px,#00afff 22px,#00f2ff 23px,#6bff94 25px,#fffe00 28px,#ff7b00 32px,#ff1f00 37px,#fe0000 40px,#f70000 41px,#f10 45px,#f80000 47px,#fb0000 50px,#fc0000 55px,#f20000 57px,#ff0800 59px,#f20000 80px,#ce0000 89px,#860000 98px,#870000 107px,#db0000 123px,#ff0600 137px,#ff7200 149px,#ff8000 159px,#ff6400 227px,#ff2c00 247px,#f60000 275px,#a20000 315px,#a70000 347px,#f80000 361px,#ff0700 377px,#ff3400 383px,#ffef00 397px,#f5ff0a 400px,#af5 414px,#83ff7c 446px,#5effa1 615px)"></i>
<i style="height:2px;background:linear-gradient(90deg,#0000bf 0px,#0000f6 1px,#05f 2px,#ff8000 3px,#ff8b00 4px,#49ffb6 5px,#0029ff 6px,#03f 7px,#00adff 8px,#03fffc 10px,#1fffe0 11px,#14ffeb 12px,#00efff 13px,#00c8ff 14px,#00c1ff 15px,#0cf 16px,#009dff 17px,#005dff 20px,#0074ff 21px,#00a4ff 22px,#00e7ff 23px,#27ffd8 24px,#faff05 28px,#ff7e00 32px,#ff2100 37px,#f00 40px,#f80000 41px,#ff1200 45px,#f80000 47px,#fb0000 50px,#fc0000 55px,#f10000 57px,#ff0900 59px,#f60000 66px,#fb0000 70px,#e10000 87px,#850000 100px,#800 110px,#d80000 125px,#ff0800 139px,#ff6000 150px,#ff6a00 163px,#ff4e00 228px,#ff1b00 248px,#f60000 270px,#9a0000 316px,#a10000 348px,#ef0000 361px,#ff0600 378px,#ff4900 385px,#ffed00 397px,#f7ff08 400px,#a9ff56 414px,#7f8 613px)"></i>
<i style="height:2px;background:linear-gradient(90deg,#0000bf 0px,#0000f6 1px,#05f 2px,#ff8000 3px,#ff8b00 4px,#49ffb6 5px,#0029ff 6px,#03f 7px,#00adff 8px,#03fffc 10px,#1fffe0 11px,#14ffeb 12px,#00efff 13px,#00c9ff 14px,#00c4ff 15px,#00d5ff 16px,#00a7ff 17px,#0056ff 20px,#006aff 21px,#09f 22px,#00dcff 23px,#1dffe2 24px,#f4ff0b 28px,#ffc600 30px,#ff8200 32px,#ff2400 37px,#ff0100 40px,#ff1200 45px,#f80000 47px,#fb0000 50px,#fc0000 55px,#f00000 57px,#f00 58px,#ff0b00 59px,#f60000 64px,#fc0000 70px,#e20000 88px,#840000 102px,#870000 112px,#d50000 127px,#fe0400 140px,#ff5100 151px,#ff5700 167px,#ff3f00 228px,#ff0f00 249px,#e60000 276px,#980000 316px,#9c0000 348px,#eb0000 361px,#ff0500 378px,#ff4b00 385px,#fff100 397px,#f3ff0c 400px,#a6ff59 413px,#a2ff5d 427px,#a2ff5d 474px,#83ff7c 611px)"></i>
<i style="height:2px;background:linear-gradient(90deg,#0000bf 0px,#0000f6 1px,#05f 2px,#ff8000 3px,#ff8b00 4px,#49ffb6 5px,#0029ff 6px,#03f 7px,#00adff 8px,#03fffc 10px,#1fffe0 11px,#14ffeb 12px,#00efff 13px,#00c9ff 14px,#00c8ff 15px,#00dfff 16px,#008eff 18px,#004eff 20px,#0060ff 21px,#008dff 22px,#00d1ff 23px,#12ffed 24px,#beff41 27px,#edff12 28px,#ffec00 29px,#ff8600 32px,#ff2600 37px,#f90000 41px,#ff1300 45px,#f90000 47px,#fb0000 50px,#fc0000 55px,#ef0000 57px,#f00 58px,#ff0c00 59px,#f80000 63px,#f30000 67px,#fd0000 70px,#df0000 90px,#840000 104px,#890000 115px,#d30000 130px,#ff0800 142px,#ff4c00 152px,#ff5600 167px,#ff4000 228px,#ff1200 251px,#e50000 285px,#a00 315px,#a90000 348px,#f60200 361px,#ff1000 377px,#ff4600 383px,#fff000 395px,#df2 400px,#8fff70 413px,#82ff7d 452px,#5fffa0 609px)"></i>
<i style="height:2px;background:linear-gradient(90deg,#0000bf 0px,#0000f6 1px,#05f 2px,#ff8000 3px,#ff8b00 4px,#49ffb6 5px,#0029ff 6px,#03f 7px,#00adff 8px,#03fffc 10px,#1fffe0 11px,#14ffeb 12px,#00efff 13px,#00c9ff 14px,#0cf 15px,#00e8ff 16px,#0047ff 20px,#05f 21px,#0082ff 22px,#07fff8 24px,#b7ff48 27px,#e7ff18 28px,#fff200 29px,#ff8a00 32px,#ff2800 37px,#fa0000 41px,#ff1300 45px,#f90000 47px,#ff0700 49px,#f70000 51px,#fc0000 55px,#ef0000 57px,#f00 58px,#ff0e00 59px,#f70000 63px,#f20000 67px,#fd0000 70px,#e10000 91px,#840000 106px,#800 117px,#ff0600 144px,#ff3b00 154px,#ff3900 207px,#ff2a00 230px,#fc0600 251px,#cf0000 292px,#ab0000 316px,#a30000 348px,#d20000 356px,#f60000 363px,#ff0d00 377px,#ff4700 383px,#fff400 395px,#daff25 400px,#8bff74 413px,#85ff7a 431px,#60ff9f 606px)"></i>
<i style="height:2px;background:linear-gradient(90deg,#0000bf 0px,#0000f6 1px,#05f 2px,#ff8000 3px,#ff8b00 4px,#49ffb6 5px,#0029ff 6px,#03f 7px,#00adff 8px,#03fffc 10px,#1fffe0 11px,#14ffeb 12px,#00efff 13px,#00caff 14px,#00d0ff 15px,#00f1ff 16px,#0040ff 20px,#004bff 21px,#07f 22px,#00fcff 24px,#b0ff4f 27px,#e1ff1e 28px,#fff800 29px,#ff8e00 32px,#ff2b00 37px,#fc0000 41px,#ff1400 45px,#f90000 47px,#ff0700 49px,#f70000 51px,#fc0000 55px,#ef0000 57px,#ff0100 58px,#ff0e00 59px,#fa0000 62px,#f10000 67px,#ff0600 69px,#f10000 81px,#df0000 93px,#850000 108px,#860000 119px,#ff0500 147px,#ff2800 157px,#ff1a00 229px,#f90000 245px,#ae0000 315px,#9b0000 348px,#c60000 356px,#f10000 364px,#ff0400 376px,#ff3a00 382px,#fff800 395px,#92ff6d 411px,#81ff7e 421px,#76ff89 514px,#62ff9d 604px)"></i>
<i style="height:2px;background:linear-gradient(90deg,#0000bf 0px,#0000f6 1px,#05f 2px,#ff8000 3px,#ff8b00 4px,#49ffb6 5px,#0029ff 6px,#03f 7px,#00adff 8px,#03fffc 10px,#1fffe0 11px,#14ffeb 12px,#00efff 13px,#00caff 14px,#00d4ff 15px,#00fbff 16px,#0039ff 20px,#0041ff 21px,#006cff 22px,#00f1ff 24px,#31ffce 25px,#a9ff56 27px,#fffe00 29px,#ff9200 32px,#ff2e00 37px,#fd0000 41px,#ff1600 44px,#fa0000 47px,#ff0800 49px,#f70000 51px,#fd0000 55px,#ef0000 57px,#ff0100 58px,#ff0f00 59px,#fa0000 62px,#f00000 67px,#ff0800 69px,#f90000 73px,#fb0000 76px,#de0000 95px,#860000 110px,#870000 122px,#e20000 144px,#ff0a00 151px,#ff2400 163px,#ff1900 230px,#f70000 249px,#c60000 311px,#c50000 328px,#a70000 346px,#bf0000 354px,#fe0000 364px,#ff1500 376px,#ff4f00 382px,#fff800 393px,#a4ff5b 404px,#6eff91 415px,#54ffab 482px,#3bffc4 602px)"></i>
<i style="height:2px;background:linear-gradient(90deg,#0000bf 0px,#0000f6 1px,#05f 2px,#ff8900 3px,#ff9500 4px,#42ffbd 5px,#0026ff 6px,#03f 7px,#00afff 8px,#00e0ff 9px,#01fefe 10px,#18ffe7 11px,#0dfff2 12px,#00c5ff 14px,#00d2ff 15px,#01fefe 16px,#009fff 18px,#03f 20px,#0039ff 21px,#0062ff 22px,#00e6ff 24px,#27ffd8 25px,#a0ff5f 27px,#f7ff08 29px,#ffe400 30px,#f90 32px,#f30 37px,#ff0200 41px,#ff1700 44px,#fb0000 47px,#ff0800 49px,#f70000 51px,#fd0000 55px,#ef0000 57px,#ff0100 58px,#ff0f00 59px,#fa0000 62px,#ef0000 67px,#ff0900 69px,#f90000 73px,#fb0000 76px,#f20000 82px,#e90000 92px,#c40000 102px,#860000 112px,#860000 124px,#c90000 143px,#fb0000 155px,#f70000 231px,#c40000 268px,#ba0000 307px,#c40000 326px,#930000 346px,#a50000 354px,#ec0000 365px,#ff0600 376px,#ff4300 382px,#fdfd02 394px,#a7ff58 405px,#7f8 416px,#57ffa8 599px)"></i>
<i style="height:2px;background:linear-gradient(90deg,#0000be 0px,#0000f6 1px,#0057ff 2px,#ffad00 3px,#ffbc00 4px,#2affd5 5px,#001dff 6px,#0036ff 7px,#00baff 8px,#00f5ff 9px,#02f9fd 11px,#00efff 12px,#00aeff 14px,#00c1ff 15px,#00f3ff 16px,#09f 18px,#0030ff 20px,#0036ff 21px,#005cff 22px,#00daff 24px,#19ffe6 25px,#90ff6f 27px,#e7ff18 29px,#fff500 30px,#ffab00 32px,#ff4100 37px,#ff0a00 41px,#ff1800 45px,#fc0000 47px,#ff0900 49px,#f00 52px,#fd0000 55px,#ef0000 57px,#ff0100 58px,#ff0f00 59px,#fa0000 62px,#ef0000 67px,#fe0000 68px,#ff0a00 69px,#f50000 72px,#fc0000 76px,#f20000 82px,#f40000 86px,#d50000 101px,#840000 115px,#8b0000 129px,#c30000 145px,#ec0000 157px,#ea0000 232px,#bd0000 268px,#bf0000 304px,#d90000 325px,#930000 346px,#a00000 354px,#ed0000 366px,#ff0b00 376px,#ff4d00 382px,#fdff02 393px,#b2ff4d 401px,#6fff90 414px,#48ffb7 597px)"></i>
<i style="height:2px;background:linear-gradient(90deg,#0000bd 0px,#0000f7 1px,#0059ff 2px,#ffd400 3px,#ffe600 4px,#10ffef 5px,#0014ff 6px,#0039ff 7px,#00c5ff 8px,#0bfff4 9px,#00deff 11px,#00d1ff 12px,#0096ff 14px,#00afff 15px,#00e6ff 16px,#0092ff 18px,#002eff 20px,#03f 21px,#0057ff 22px,#00ceff 24px,#0cfff3 25px,#b0ff4f 28px,#f8ff07 30px,#ffbd00 32px,#ff5000 37px,#ff3a00 39px,#ff1400 41px,#ff1b00 45px,#f00 47px,#ff0b00 49px,#fa0000 51px,#fe0000 55px,#ef0000 57px,#ff0100 58px,#ff0f00 59px,#fa0000 62px,#ef0000 67px,#fe0000 68px,#ff0b00 69px,#f50000 72px,#fd0000 76px,#e00 81px,#fc0000 85px,#ef0000 88px,#d40000 103px,#840000 117px,#8a0000 131px,#d90000 157px,#d70000 234px,#b30000 268px,#bd0000 302px,#eb0000 324px,#c10000 335px,#8d0000 347px,#900 355px,#e90000 367px,#ff0700 375px,#f40 381px,#fbfa04 392px,#a5ff5a 401px,#64ff9b 414px,#41ffbe 595px)"></i>
<i style="height:2px;background:linear-gradient(90deg,#0000bc 0px,#0000f7 1px,#005cff 2px,#fdf802 3px,#ef1 4px,#00f6ff 5px,#000aff 6px,#003bff 7px,#00cfff 8px,#21ffde 9px,#00e4ff 10px,#00c0ff 11px,#00b3ff 12px,#007fff 14px,#009dff 15px,#00d9ff 16px,#008bff 18px,#002cff 20px,#0030ff 21px,#0051ff 22px,#01fcfe 25px,#a0ff5f 28px,#e6ff19 30px,#fff000 31px,#ffa100 34px,#ff6000 37px,#ff4800 39px,#ff1f00 41px,#ff2100 45px,#ff0500 47px,#ff1000 49px,#fd0000 51px,#ff0100 55px,#f10000 57px,#f10 59px,#fc0000 62px,#ef0000 67px,#f00 68px,#ff0c00 69px,#f60000 72px,#f00 76px,#f90000 78px,#f30000 82px,#ff0100 85px,#f10000 88px,#d80000 104px,#870000 118px,#800 131px,#ba0000 150px,#d50000 166px,#d00 235px,#c40000 270px,#d30000 301px,#fe0a00 317px,#ff1400 326px,#ed0000 334px,#a20000 346px,#a10000 354px,#fb0100 368px,#ff2800 376px,#ff7300 382px,#f8fc07 390px,#96ff69 398px,#4dffb2 410px,#36ffc9 424px,#2fd 463px,#0dfbf2 593px)"></i>
<i style="height:2px;background:linear-gradient(90deg,#00b 0px,#0000f7 1px,#005eff 2px,#df2 3px,#c4ff3b 4px,#00dcff 5px,#0002fe 6px,#003eff 7px,#00daff 8px,#37ffc8 9px,#00daff 10px,#00a3ff 11px,#0095ff 12px,#0067ff 14px,#008bff 15px,#0cf 16px,#0085ff 18px,#002aff 20px,#002dff 21px,#004bff 22px,#00f0ff 25px,#2affd5 26px,#8fff70 28px,#fbfe04 31px,#ff6f00 37px,#ff5600 39px,#ff2d00 41px,#ff2d00 45px,#ff1000 47px,#ff1900 49px,#ff0600 51px,#ff0600 55px,#f60000 57px,#ff1500 59px,#fe0100 62px,#f20000 67px,#ff0f00 69px,#f90000 72px,#ff0a00 75px,#fc0000 78px,#f10000 81px,#ff0700 85px,#f50000 88px,#d70000 106px,#870000 120px,#870000 132px,#bf0000 162px,#c40000 239px,#b00 275px,#ce0000 300px,#ff0700 314px,#ff2600 324px,#ff0900 332px,#e10000 337px,#960000 347px,#910000 354px,#c30000 362px,#fd0500 371px,#ff3c00 378px,#ffae00 385px,#fff900 389px,#8bff74 398px,#4affb5 408px,#32ffcd 419px,#13ffec 590px)"></i>
<i style="height:2px;background:linear-gradient(90deg,#0000ba 0px,#0000f7 1px,#0060ff 2px,#b7ff48 3px,#9bff64 4px,#00c2ff 5px,#0000f6 6px,#0041ff 7px,#00e5ff 8px,#4dffb2 9px,#00d1ff 10px,#0085ff 11px,#004fff 14px,#0078ff 15px,#00bfff 16px,#007eff 18px,#0028ff 20px,#002aff 21px,#0046ff 22px,#00e2ff 25px,#1bffe4 26px,#7eff81 28px,#eaff15 31px,#fff300 32px,#ff7f00 37px,#ff4000 41px,#ff4a00 44px,#ff3200 46px,#ff2300 47px,#ff2a00 49px,#ff1500 51px,#f10 55px,#fd0100 57px,#ff1d00 59px,#ff0400 63px,#f90000 67px,#ff1500 69px,#fd0000 71px,#ff1000 75px,#fd0000 77px,#ff0900 79px,#f70000 81px,#ff1000 85px,#fd0000 88px,#da0000 107px,#8a0000 121px,#860000 133px,#b10000 163px,#b80000 246px,#c70000 293px,#e70000 304px,#ff0b00 311px,#ff4200 324px,#ff2b00 331px,#f70100 337px,#900 347px,#8d0000 354px,#b20000 361px,#ff0600 371px,#ff5600 379px,#fff800 388px,#80ff7f 397px,#41ffbe 405px,#1effe1 417px,#07faf8 588px)"></i>
<i style="height:2px;background:linear-gradient(90deg,#0000b9 0px,#0000f7 1px,#0062ff 2px,#90ff6f 3px,#71ff8e 4px,#00a8ff 5px,#0000ed 6px,#04f 7px,#00f0ff 8px,#63ff9c 9px,#00c7ff 10px,#0068ff 11px,#0040ff 13px,#0037ff 14px,#06f 15px,#00b2ff 16px,#07f 18px,#0026ff 20px,#0027ff 21px,#0040ff 22px,#00d4ff 25px,#0cfff3 26px,#6dff92 28px,#f9ff06 32px,#ff8f00 37px,#ff5300 41px,#ff6c00 43px,#ff6300 45px,#ff4000 47px,#ff4300 49px,#ff2a00 51px,#ff2100 55px,#ff0f00 57px,#ff2b00 59px,#f10 63px,#ff0500 67px,#ff2000 69px,#ff0900 71px,#ff1b00 75px,#ff0900 77px,#ff1500 79px,#ff0300 81px,#ff1e00 85px,#ff0700 87px,#ff0a00 90px,#e60000 105px,#b80000 114px,#8d0000 122px,#860000 135px,#a40000 163px,#b80000 275px,#d50000 299px,#ff0700 308px,#ff5900 323px,#ff5000 329px,#fd0400 338px,#9c0000 347px,#870000 354px,#a70000 361px,#ff0500 371px,#ff5e00 379px,#f8ff07 388px,#7cff83 396px,#3bffc4 403px,#12ffed 414px,#01f9fe 586px)"></i>
<i style="height:2px;background:linear-gradient(90deg,#0000b8 0px,#0000f7 1px,#0065ff 2px,#6aff95 3px,#47ffb8 4px,#008eff 5px,#0000e3 6px,#0047ff 7px,#00fbff 8px,#79ff86 9px,#00beff 10px,#004bff 11px,#0024ff 13px,#001fff 14px,#0054ff 15px,#00a5ff 16px,#0070ff 18px,#0024ff 20px,#0024ff 21px,#003bff 22px,#00c7ff 25px,#00fcff 26px,#80ff7f 29px,#e7ff18 32px,#fcfd03 33px,#ff9f00 37px,#ff8500 39px,#ff6d00 40px,#ff6800 41px,#ff8d00 43px,#ff8400 45px,#ff5f00 47px,#ff6000 49px,#ff4600 51px,#ff3800 55px,#ff2500 57px,#ff4000 59px,#ff2800 62px,#ff1800 67px,#ff3200 69px,#ff1a00 71px,#ff2c00 75px,#ff1b00 77px,#ff2700 79px,#ff1500 81px,#ff3200 85px,#ff1900 87px,#ff1b00 90px,#fe0200 98px,#d50000 111px,#920000 122px,#850000 137px,#9a0000 164px,#b10000 268px,#d80000 298px,#ff0400 305px,#ff7200 322px,#ff7300 328px,#ff3f00 335px,#fc0300 340px,#9f0000 348px,#800 355px,#a30000 361px,#fd0000 370px,#ff5b00 378px,#faff05 387px,#7f8 395px,#2fffd0 402px,#03fefc 412px,#00e6ff 459px,#00d3ff 583px)"></i>
<i style="height:2px;background:linear-gradient(90deg,#0000b7 0px,#0000f7 1px,#0067ff 2px,#43ffbc 3px,#1dffe2 4px,#0075ff 5px,#0000da 6px,#0049ff 7px,#07fff8 8px,#8fff70 9px,#00b5ff 10px,#002dff 11px,#0008ff 13px,#0007ff 14px,#0042ff 15px,#0098ff 16px,#0069ff 18px,#02f 20px,#0021ff 21px,#0035ff 22px,#00b9ff 25px,#00edff 26px,#20ffdf 27px,#b5ff4a 31px,#fff900 34px,#ffaf00 37px,#ff7e00 40px,#ff7c00 41px,#ff9d00 42px,#ffae00 43px,#ffa500 45px,#ff8000 47px,#ff8000 49px,#ff6300 51px,#ff5300 55px,#ff3e00 57px,#ff5800 59px,#ff4000 62px,#ff3000 67px,#ff4a00 69px,#ff3200 71px,#f40 75px,#f30 77px,#ff4000 79px,#ff2d00 81px,#ff4c00 85px,#ff3000 87px,#ff3900 89px,#ff2a00 92px,#ff1200 98px,#ff1200 100px,#f80000 105px,#c40000 115px,#940000 123px,#830000 139px,#920000 172px,#a60000 262px,#d00 298px,#ff0a00 304px,#f80 321px,#ff9200 327px,#ff6500 334px,#f80000 342px,#a10000 349px,#800 355px,#9f0000 361px,#fd0100 370px,#ff6300 378px,#fffd00 386px,#68ff97 395px,#21ffde 402px,#00fbff 409px,#00e4ff 426px,#00c7ff 581px)"></i>
<i style="height:2px;background:linear-gradient(90deg,#0000b6 0px,#0000f7 1px,#0069ff 2px,#1dffe2 3px,#00f3ff 4px,#005bff 5px,#0000d0 6px,#004cff 7px,#12ffed 8px,#a5ff5a 9px,#00abff 10px,#0010ff 11px,#0000ea 13px,#0000ef 14px,#0030ff 15px,#008bff 16px,#0062ff 18px,#0020ff 20px,#001eff 21px,#0030ff 22px,#00acff 25px,#00deff 26px,#10ffef 27px,#c2ff3d 32px,#f3ff0c 34px,#ffd700 36px,#ff8e00 40px,#ff9000 41px,#ffb900 42px,#ffce00 43px,#ffc400 45px,#ff9e00 47px,#ff9d00 49px,#ff8000 51px,#ff6d00 55px,#ff5700 57px,#ff7100 59px,#ff5900 62px,#ff4a00 67px,#ff6400 69px,#ff4c00 71px,#ff5f00 75px,#ff4e00 77px,#ff5c00 79px,#ff4a00 81px,#ff6a00 85px,#ff4c00 87px,#ff5400 89px,#f40 92px,#ff2900 98px,#ff2900 100px,#fe0300 106px,#d00 113px,#9a0000 123px,#820000 141px,#9c0000 259px,#c10000 283px,#e10000 298px,#ff0c00 303px,#ff9400 319px,#ffac00 326px,#ff9100 332px,#ff3f00 339px,#f90400 343px,#a10000 350px,#870000 356px,#a30000 362px,#fb0100 370px,#ff6a00 378px,#fff300 385px,#e2ff1d 387px,#5cffa3 395px,#0ffff0 403px,#00ebff 410px,#00beff 443px,#00adff 579px)"></i>
<i style="height:2px;background:linear-gradient(90deg,#0000b6 0px,#0000f7 1px,#006bff 2px,#00f5ff 3px,#00c9ff 4px,#0041ff 5px,#0000c7 6px,#004fff 7px,#1dffe2 8px,#bf4 9px,#00a2ff 10px,#0000f1 11px,#0000ce 13px,#0000d7 14px,#001eff 15px,#007eff 16px,#005bff 18px,#001eff 20px,#001bff 21px,#002aff 22px,#0070ff 24px,#02fdfd 27px,#b0ff4f 32px,#fbff04 35px,#ffcf00 37px,#ff9e00 40px,#ffa200 41px,#ffd200 42px,#ffea00 43px,#ffe000 45px,#ffb900 47px,#ffb800 49px,#f90 51px,#ff8300 55px,#ff6d00 57px,#ff8600 59px,#ff6f00 62px,#ff6100 67px,#ff7d00 69px,#f60 71px,#ff7900 75px,#ff6900 77px,#f70 79px,#f60 81px,#ff8900 85px,#ff6900 87px,#ff7200 89px,#ff6000 92px,#ff4e00 96px,#ff4100 97px,#ff4b00 99px,#ff0b00 107px,#f70000 111px,#9e0000 124px,#810000 143px,#9e0000 258px,#c20000 280px,#ef0000 298px,#ff0900 301px,#ff9b00 316px,#ffc800 324px,#ffbe00 330px,#ff7b00 337px,#ff0800 344px,#9f0000 352px,#8e0000 357px,#b10000 363px,#ff0500 370px,#ff8900 379px,#faff05 385px,#6f9 393px,#15ffea 400px,#00f7ff 404px,#00caff 415px,#009cff 443px,#008bff 576px)"></i>
<i style="height:2px;background:linear-gradient(90deg,#0000b5 0px,#0000f7 1px,#00dcff 3px,#00adff 4px,#0030ff 5px,#0000c0 6px,#0051ff 7px,#24ffdb 8px,#c9ff36 9px,#009cff 10px,#0000de 11px,#00b 13px,#0000c7 14px,#000fff 15px,#006fff 16px,#0053ff 18px,#001cff 20px,#0017ff 21px,#0024ff 22px,#0063ff 24px,#00ecff 27px,#16ffe9 28px,#9cff63 32px,#fffa00 36px,#ffaf00 40px,#ffb300 41px,#ffe400 42px,#fefc01 43px,#fff500 45px,#ffd000 47px,#ffce00 49px,#ffae00 51px,#ff9600 55px,#ff7e00 57px,#ff9700 59px,#ff8000 62px,#ff7400 67px,#ff9000 69px,#ff7a00 71px,#ff8f00 75px,#ff7f00 77px,#ff8e00 79px,#ff7e00 81px,#ffa300 85px,#ff8400 87px,#ff8d00 89px,#ff7900 92px,#ff7400 95px,#ff5a00 97px,#ff6800 99px,#ff1d00 107px,#ff1200 110px,#f80000 113px,#a20000 125px,#800000 144px,#980000 256px,#be0000 279px,#f40000 298px,#ff1000 301px,#ffa200 315px,#ffd700 324px,#ffcf00 330px,#f90 336px,#ff0300 345px,#9f0000 352px,#8a0000 357px,#a10000 362px,#fe0000 370px,#ff8b00 379px,#fff300 384px,#e0ff1f 386px,#51ffae 394px,#08fff7 401px,#00c6ff 414px,#00a2ff 445px,#0092ff 574px)"></i>
<i style="height:2px;background:linear-gradient(90deg,#0000b5 0px,#0000f7 1px,#00daff 3px,#00acff 4px,#002fff 5px,#0000c0 6px,#0051ff 7px,#25ffda 8px,#caff35 9px,#009bff 10px,#00d 11px,#0000ba 13px,#0000c5 14px,#0007ff 15px,#005dff 16px,#004aff 18px,#0019ff 20px,#0013ff 21px,#0032ff 23px,#007cff 25px,#02fbfd 28px,#9cff63 33px,#ef1 36px,#fff600 37px,#ffc100 40px,#ffc500 41px,#fff400 42px,#f0ff0f 43px,#f7ff08 45px,#ffe200 47px,#ffe000 49px,#ffbf00 51px,#ffa400 55px,#ff8c00 57px,#ffa400 59px,#ff8c00 62px,#ff8100 67px,#ff9d00 69px,#f80 71px,#ff9e00 75px,#ff8f00 77px,#ff9e00 79px,#ff8f00 81px,#ffb600 85px,#ff9800 87px,#ffa200 89px,#ff8e00 91px,#ff8a00 95px,#ff7000 97px,#ff8200 99px,#ff3100 107px,#ff2500 110px,#f90000 115px,#a90000 125px,#800000 144px,#8d0000 217px,#a30000 261px,#c60000 279px,#fe0300 298px,#ffba00 316px,#ffe900 325px,#ffda00 331px,#ff9e00 337px,#fc0100 346px,#a40000 352px,#8a0000 357px,#9f0000 362px,#f00 370px,#ff9100 379px,#fffb00 384px,#56ffa9 393px,#07fff8 400px,#00bfff 413px,#009aff 444px,#008bff 572px)"></i>
<i style="height:2px;background:linear-gradient(90deg,#0000b5 0px,#0000f7 1px,#00daff 3px,#00acff 4px,#002fff 5px,#0000c0 6px,#0051ff 7px,#25ffda 8px,#caff35 9px,#009bff 10px,#00d 11px,#0000ba 13px,#0000c4 14px,#0000fd 15px,#004bff 16px,#0040ff 18px,#0016ff 20px,#0014ff 22px,#0042ff 24px,#00e6ff 28px,#09fff6 29px,#83ff7c 33px,#f3ff0c 37px,#ffed00 39px,#ffd300 40px,#ffd600 41px,#faff05 42px,#e2ff1d 43px,#ebff14 45px,#fefe01 46px,#ffed00 47px,#ffeb00 49px,#ffca00 51px,#ffaf00 55px,#ff9600 57px,#ffae00 59px,#ff9500 62px,#ff8900 67px,#ffa600 69px,#ff9000 71px,#ffa700 75px,#ff9800 77px,#ffa800 79px,#f90 81px,#ffc100 85px,#ffa400 87px,#ffb000 89px,#ff9d00 91px,#ff9b00 95px,#ff8000 97px,#ff9500 99px,#ff4300 107px,#ff3700 110px,#fd0200 116px,#ac0000 126px,#800000 144px,#890000 204px,#ae0000 263px,#d40000 280px,#fc0100 294px,#ff1600 299px,#ffc100 315px,#fff500 324px,#ffef00 330px,#fb0 336px,#ff4600 343px,#f70000 347px,#a90000 352px,#8a0000 357px,#9e0000 362px,#f00 370px,#ff9600 379px,#fcff03 384px,#5effa1 392px,#08fff7 399px,#00b9ff 412px,#0096ff 441px,#0087ff 570px)"></i>
<i style="height:2px;background:linear-gradient(90deg,#0000b5 0px,#0000f7 1px,#00daff 3px,#00acff 4px,#002fff 5px,#0000c0 6px,#0051ff 7px,#25ffda 8px,#caff35 9px,#009bff 10px,#00d 11px,#0000ba 13px,#0000c4 14px,#0000f6 15px,#0039ff 16px,#0036ff 18px,#000bff 21px,#0019ff 23px,#0056ff 25px,#00efff 29px,#1fe 30px,#df2 37px,#fcfd03 39px,#ffe500 40px,#ffe600 41px,#ecff13 42px,#d5ff2a 43px,#e1ff1e 45px,#fff500 47px,#fff200 49px,#ffd100 51px,#ffb600 55px,#ff9e00 57px,#ffb500 59px,#ff9c00 62px,#ff8f00 67px,#ffab00 69px,#ff9500 71px,#ffac00 75px,#ff9d00 77px,#ffad00 79px,#ff9f00 81px,#ffc800 85px,#ffac00 87px,#ffb800 89px,#ffa600 91px,#ffa600 95px,#ff8b00 97px,#ffa300 99px,#ff5100 107px,#ff5300 109px,#ff1d00 114px,#f40000 118px,#a80000 128px,#800000 144px,#890000 201px,#c10000 269px,#ff0600 290px,#ff2500 299px,#ffcf00 315px,#fdfe02 323px,#fff800 331px,#ffbe00 337px,#ff4100 344px,#ff0300 347px,#a30000 353px,#8b0000 358px,#a60000 363px,#f00 370px,#ff9c00 379px,#fff400 383px,#deff21 385px,#45ffba 393px,#01fefe 399px,#00b7ff 410px,#0085ff 436px,#0073ff 567px)"></i>
<i style="height:2px;background:linear-gradient(90deg,#0000b5 0px,#0000f7 1px,#00daff 3px,#00acff 4px,#002fff 5px,#0000c0 6px,#0051ff 7px,#25ffda 8px,#caff35 9px,#009bff 10px,#00d 11px,#0000ba 13px,#0000c3 14px,#00e 15px,#0026ff 16px,#002dff 18px,#0006ff 21px,#000cff 23px,#0043ff 25px,#00d7ff 29px,#00f7ff 30px,#c8ff37 37px,#fff700 40px,#fff600 41px,#cbff34 43px,#d9ff26 45px,#fffa00 47px,#fff600 49px,#ffd500 51px,#fb0 55px,#ffa300 57px,#fb0 59px,#ffa100 62px,#ff9300 67px,#ffaf00 69px,#f90 71px,#ffaf00 75px,#ffa000 77px,#ffb000 79px,#ffa200 81px,#ffcb00 85px,#ffaf00 87px,#ffbc00 89px,#ffab00 91px,#ffac00 95px,#ff9100 97px,#fa0 99px,#ff5a00 107px,#ff6000 109px,#ff2f00 113px,#ff1a00 116px,#fd0000 118px,#a80000 129px,#810000 144px,#800 200px,#d30000 273px,#ff0900 287px,#ff3200 299px,#ffdc00 315px,#fbff04 321px,#ef1 328px,#fff700 333px,#ffae00 339px,#f80000 348px,#a70000 353px,#8c0000 357px,#9c0000 362px,#f00000 369px,#f00 370px,#ffa100 379px,#fffa00 383px,#4effb1 392px,#03fffc 398px,#00b1ff 410px,#008eff 430px,#007bff 565px)"></i>
<i style="height:2px;background:linear-gradient(90deg,#0000b5 0px,#0000f7 1px,#00daff 3px,#00acff 4px,#002fff 5px,#0000c0 6px,#0051ff 7px,#25ffda 8px,#caff35 9px,#009bff 10px,#00d 11px,#0000ba 13px,#0000c2 14px,#0000e6 15px,#0014ff 16px,#0023ff 18px,#0000fc 22px,#0001fd 23px,#01f 24px,#00dfff 30px,#03fcfc 31px,#b3ff4c 37px,#d8ff27 39px,#f6ff09 40px,#fbff04 41px,#d8ff27 42px,#c6ff39 43px,#d6ff29 45px,#fffd00 47px,#fff800 49px,#ffd700 51px,#ffbf00 55px,#ffa700 57px,#ffbf00 59px,#ffa600 62px,#ff9700 67px,#ffb200 69px,#ff9c00 71px,#ffb100 75px,#ffa200 77px,#ffb200 79px,#ffa400 81px,#ffcd00 85px,#ffb100 87px,#ffbe00 89px,#ffad00 91px,#ffae00 95px,#ff9300 97px,#ffae00 99px,#ff5f00 107px,#ff6800 109px,#ff3700 113px,#ff2300 116px,#ff0500 118px,#f30000 120px,#ac0000 129px,#820000 143px,#800 199px,#b60000 238px,#e20000 275px,#ff0700 284px,#ff3f00 299px,#ffe700 315px,#fbff04 319px,#e2ff1d 327px,#fffa00 334px,#fa0 340px,#ff0200 348px,#ab0000 353px,#8d0000 357px,#9b0000 362px,#ef0000 369px,#f00 370px,#ffa600 379px,#fefe01 383px,#59ffa6 391px,#08fff7 397px,#00baff 407px,#0090ff 422px,#007fff 482px,#0076ff 563px)"></i>
<i style="height:2px;background:linear-gradient(90deg,#0000b5 0px,#0000f7 1px,#00daff 3px,#00acff 4px,#002fff 5px,#0000c0 6px,#0051ff 7px,#25ffda 8px,#caff35 9px,#009bff 10px,#00d 11px,#0000ba 13px,#0000c1 14px,#0003fe 16px,#0019ff 18px,#0000f4 22px,#0000f1 23px,#0002fd 24px,#00e6ff 31px,#05fefa 32px,#9eff61 37px,#c6ff39 39px,#e5ff1a 40px,#ef1 41px,#d1ff2e 42px,#c3ff3c 43px,#d4ff2b 45px,#fffe00 47px,#fff900 49px,#ffd800 51px,#ffc100 55px,#ffa900 57px,#ffc200 59px,#ffa900 62px,#ff9a00 67px,#ffb500 69px,#ff9e00 71px,#ffb300 75px,#ffa400 77px,#ffb400 79px,#ffa500 81px,#ffce00 85px,#ffb200 87px,#ffbf00 89px,#ffaf00 91px,#ffb000 95px,#ff9500 97px,#ffaf00 99px,#ff6200 107px,#ff6e00 109px,#ff4300 112px,#ff2a00 116px,#ff0900 118px,#f80000 120px,#ae0000 129px,#820000 143px,#800 198px,#bd0000 236px,#eb0000 275px,#ff0800 282px,#ff4900 299px,#fff000 315px,#f3ff0c 319px,#d9ff26 327px,#f0ff0f 333px,#fff000 336px,#ff8f00 342px,#ff0b00 348px,#e10000 350px,#9b0000 355px,#8f0000 360px,#b70000 365px,#fe0000 370px,#fa0 379px,#faff05 383px,#56ffa9 391px,#05fffa 397px,#0af 410px,#0084ff 429px,#0072ff 560px)"></i>
<i style="height:2px;background:linear-gradient(90deg,#0000b5 0px,#0000f7 1px,#00daff 3px,#00acff 4px,#002fff 5px,#0000c0 6px,#0051ff 7px,#25ffda 8px,#caff35 9px,#009bff 10px,#00d 11px,#0000ba 13px,#0000c1 14px,#0002fe 17px,#0013ff 19px,#0000ec 22px,#0000e4 23px,#000aff 25px,#00e9ff 32px,#06fff9 33px,#89ff76 37px,#b5ff4a 39px,#d6ff29 40px,#e2ff1d 41px,#c1ff3e 43px,#d2ff2d 45px,#ff0 47px,#fff900 49px,#ffd800 51px,#ffc200 55px,#ffab00 57px,#ffc500 59px,#ffac00 62px,#ff9d00 67px,#ffb800 69px,#ffa100 71px,#ffb500 75px,#ffa500 77px,#ffb500 79px,#ffa600 81px,#ffcf00 85px,#ffb300 87px,#ffc000 89px,#ffaf00 91px,#ffb000 95px,#ff9500 97px,#ffb000 99px,#ff7d00 104px,#ff7300 106px,#ff6200 107px,#ff7000 109px,#ff4500 112px,#ff2e00 116px,#ff0c00 118px,#fb0000 120px,#d00 123px,#a50000 131px,#810000 144px,#890000 197px,#c50000 237px,#f20000 275px,#ff0f00 282px,#ff5200 299px,#fff700 315px,#d2ff2d 326px,#e0ff1f 332px,#fffa00 336px,#f90 342px,#fd0000 349px,#a90000 354px,#8e0000 358px,#a10000 363px,#fe0000 370px,#ffae00 379px,#f6ff09 383px,#5fa 391px,#06fff9 397px,#00abff 410px,#0086ff 428px,#0075ff 558px)"></i>
<i style="height:2px;background:linear-gradient(90deg,#0000b5 0px,#0000f7 1px,#00daff 3px,#00acff 4px,#002fff 5px,#0000c0 6px,#0051ff 7px,#25ffda 8px,#caff35 9px,#009bff 10px,#00d 11px,#0000ba 13px,#0000d3 15px,#0000f9 17px,#0010ff 19px,#0000f7 21px,#0000de 23px,#0000e7 24px,#0001ff 25px,#0df 32px,#00f9ff 33px,#38ffc7 35px,#7fff80 37px,#acff53 39px,#ceff31 40px,#dcff23 41px,#bfff40 43px,#d1ff2e 45px,#ff0 47px,#fff900 49px,#ffd800 51px,#ffc300 55px,#ffad00 57px,#ffc700 59px,#ffaf00 62px,#ff9f00 67px,#ffba00 69px,#ffa300 71px,#ffb600 75px,#ffa600 77px,#ffb600 79px,#ffa700 81px,#ffcf00 85px,#ffb400 87px,#ffc000 89px,#ffaf00 91px,#ffb000 95px,#ff9500 97px,#ffb000 99px,#ff7c00 104px,#ff7300 106px,#ff6200 107px,#ff7200 109px,#ff4600 112px,#ff3100 116px,#ff0d00 118px,#fc0000 120px,#e30000 122px,#a10000 132px,#810000 145px,#890000 195px,#ce0000 238px,#f80000 275px,#ff5200 298px,#fffc00 315px,#cbff34 326px,#d9ff26 332px,#fcff03 336px,#ffb600 341px,#ff0700 349px,#a30000 355px,#8f0000 359px,#a90000 364px,#fd0000 370px,#ffb100 379px,#fff500 382px,#c7ff38 385px,#46ffb9 392px,#00feff 398px,#00afff 410px,#008aff 427px,#0079ff 556px)"></i>
<i style="height:2px;background:linear-gradient(90deg,#0000b5 0px,#0000f7 1px,#00daff 3px,#00acff 4px,#002fff 5px,#0000c0 6px,#0051ff 7px,#25ffda 8px,#caff35 9px,#009bff 10px,#00d 11px,#0000ba 13px,#0000d3 15px,#0000f9 17px,#0010ff 19px,#0000f7 21px,#0000de 23px,#0000e7 24px,#0001ff 25px,#0df 32px,#00f9ff 33px,#37ffc8 35px,#7eff81 37px,#abff54 39px,#cdff32 40px,#dbff24 41px,#bfff40 43px,#d1ff2e 45px,#ff0 47px,#fff900 49px,#ffd800 51px,#ffc300 55px,#ffae00 57px,#ffc800 59px,#ffb100 62px,#ffa200 67px,#ffbc00 69px,#ffa400 71px,#ffb700 75px,#ffa700 77px,#ffb600 79px,#ffa700 81px,#ffd000 85px,#ffb400 87px,#ffc000 89px,#ffaf00 91px,#ffb000 95px,#ff9400 97px,#ffaf00 99px,#ff7c00 104px,#ff7200 106px,#ff6100 107px,#ff7200 109px,#ff4600 112px,#f30 116px,#ff0d00 118px,#fd0000 120px,#e30000 122px,#c00 126px,#b20000 129px,#850000 141px,#870000 193px,#d50000 239px,#ff0500 277px,#ff5f00 299px,#feff01 315px,#c8ff37 325px,#cf3 331px,#fffd00 337px,#ff9500 343px,#fa0000 350px,#a80000 355px,#900000 359px,#a70000 364px,#fc0000 370px,#ff9e00 378px,#fff800 382px,#48ffb7 392px,#02fffd 398px,#00b0ff 411px,#0089ff 429px,#0076ff 553px)"></i>
<i style="height:2px;background:linear-gradient(90deg,#0000b5 0px,#0000f7 1px,#00daff 3px,#00acff 4px,#002fff 5px,#0000c0 6px,#0051ff 7px,#25ffda 8px,#caff35 9px,#009bff 10px,#00d 11px,#0000ba 13px,#0000d3 15px,#0000f9 17px,#0010ff 19px,#0000f7 21px,#0000de 23px,#0000e7 24px,#0001ff 25px,#0df 32px,#00f9ff 33px,#37ffc8 35px,#7eff81 37px,#af5 39px,#cf3 40px,#daff25 41px,#bfff40 43px,#d2ff2d 45px,#ff0 47px,#fff900 49px,#ffd800 51px,#ffc400 55px,#ffaf00 57px,#ffca00 59px,#ffb300 62px,#ffa400 67px,#ffbe00 69px,#ffa600 71px,#ffb800 75px,#ffa800 77px,#ffb700 79px,#ffa700 81px,#ffd000 85px,#ffb400 87px,#ffc000 89px,#ffaf00 91px,#ffaf00 95px,#ff9400 97px,#ffae00 99px,#ff7b00 104px,#ff7200 106px,#ff6000 107px,#ff7200 109px,#ff4500 112px,#ff3400 116px,#ff1900 117px,#fd0000 120px,#e20000 122px,#ce0000 126px,#b40000 128px,#840000 142px,#860000 193px,#db0000 238px,#ff0600 276px,#ff6300 299px,#fffa00 314px,#c1ff3e 326px,#cf3 332px,#fbff04 337px,#ffb000 342px,#ff0200 350px,#ac0000 355px,#910000 359px,#a60000 364px,#fb0000 370px,#ffa000 378px,#fffa00 382px,#5affa5 391px,#07fff8 398px,#00adff 413px,#007fff 434px,#006eff 551px)"></i>
<i style="height:2px;background:linear-gradient(90deg,#0000b5 0px,#0000f7 1px,#00daff 3px,#00acff 4px,#002fff 5px,#0000c0 6px,#0051ff 7px,#25ffda 8px,#caff35 9px,#009bff 10px,#00d 11px,#0000ba 13px,#0000d3 15px,#0000f9 17px,#0010ff 19px,#0000f7 21px,#0000de 23px,#0000e7 24px,#0001ff 25px,#0df 32px,#00f9ff 33px,#37ffc8 35px,#7eff81 37px,#af5 39px,#cf3 40px,#daff25 41px,#c0ff3f 43px,#d2ff2d 45px,#fffe00 47px,#fff800 49px,#ffd800 51px,#ffc400 55px,#ffaf00 57px,#ffcb00 59px,#ffb500 62px,#ffa600 67px,#ffc000 69px,#ffa700 71px,#ffb900 75px,#ffa800 77px,#ffb700 79px,#ffa800 81px,#ffd000 85px,#ffb300 87px,#ffc000 89px,#ffaf00 91px,#ffaf00 95px,#ff9300 97px,#ffae00 99px,#ff7a00 104px,#ff7100 106px,#ff6000 107px,#ff7100 109px,#f40 112px,#ff3400 116px,#ff1800 117px,#ff0b00 118px,#ff0d00 119px,#fd0000 120px,#e80000 121px,#d00000 126px,#b30000 128px,#840000 142px,#860000 194px,#e00000 238px,#ff0600 275px,#ff5d00 298px,#fdff02 315px,#c1ff3e 325px,#c3ff3c 331px,#fffa00 338px,#ff7500 345px,#ff0700 350px,#a40000 356px,#910000 360px,#ae0000 365px,#f90000 370px,#ff7300 376px,#fffa00 382px,#5dffa2 391px,#03fffc 399px,#00aeff 414px,#0093ff 433px,#0086ff 549px)"></i>
<i style="height:2px;background:linear-gradient(90deg,#0000b5 0px,#0000f7 1px,#00daff 3px,#00acff 4px,#002fff 5px,#0000c0 6px,#0051ff 7px,#25ffda 8px,#caff35 9px,#009bff 10px,#00d 11px,#0000ba 13px,#0000d3 15px,#0000f9 17px,#0010ff 19px,#0000f7 21px,#0000de 23px,#0000e7 24px,#0001ff 25px,#0df 32px,#00f9ff 33px,#37ffc8 35px,#7eff81 37px,#af5 39px,#cf3 40px,#daff25 41px,#c0ff3f 43px,#d3ff2c 45px,#fffe00 47px,#fff800 49px,#ffd800 51px,#ffc400 55px,#ffb000 57px,#fc0 59px,#ffb700 62px,#ffa800 67px,#ffc200 69px,#ffa900 71px,#ffb900 75px,#ffa900 77px,#ffb800 79px,#ffa800 81px,#ffd000 85px,#ffb300 87px,#ffc000 89px,#ffae00 91px,#ffae00 95px,#ff9300 97px,#ffad00 99px,#ff7a00 104px,#ff7000 106px,#ff5f00 107px,#ff7100 109px,#f40 112px,#ff3500 116px,#ff1800 117px,#ff0b00 118px,#ff0d00 119px,#fd0000 120px,#e70000 121px,#d10000 126px,#b30000 128px,#860000 141px,#860000 195px,#e70000 240px,#ff0800 275px,#ff5900 298px,#fffe00 315px,#bdff42 326px,#c6ff39 332px,#fffb00 338px,#f70 345px,#ff0a00 350px,#d00000 353px,#9d0000 357px,#920000 361px,#b80000 366px,#ff0800 371px,#fff800 382px,#62ff9d 391px,#08fff7 399px,#00c2ff 410px,#009aff 424px,#0084ff 547px)"></i>
<i style="height:2px;background:linear-gradient(90deg,#0000b5 0px,#0000f7 1px,#00daff 3px,#00acff 4px,#002fff 5px,#0000c0 6px,#0051ff 7px,#25ffda 8px,#caff35 9px,#009bff 10px,#00d 11px,#0000ba 13px,#0000d3 15px,#0000f9 17px,#0010ff 19px,#0000f7 21px,#0000de 23px,#0000e7 24px,#0001ff 25px,#0df 32px,#00f9ff 33px,#37ffc8 35px,#7eff81 37px,#af5 39px,#cf3 40px,#dbff24 41px,#c1ff3e 43px,#d3ff2c 45px,#fffd00 47px,#fff700 49px,#ffd700 51px,#ffc500 55px,#ffb100 57px,#ffcd00 59px,#ffb900 62px,#fa0 67px,#ffc300 69px,#fa0 71px,#ffba00 75px,#ffa900 77px,#ffb800 79px,#ffa800 81px,#ffd000 85px,#ffb300 87px,#ffbf00 89px,#ffae00 91px,#ffae00 95px,#ff9200 97px,#ffac00 99px,#ff7900 104px,#ff7000 106px,#ff5e00 107px,#ff7000 109px,#f40 112px,#ff3500 116px,#ff1800 117px,#ff0b00 118px,#ff0e00 119px,#fe0000 120px,#e60000 121px,#d30000 126px,#b20000 128px,#860000 141px,#870000 197px,#ed0000 242px,#ff0900 275px,#ff5000 298px,#fefe01 316px,#beff41 326px,#c2ff3d 331px,#fff800 338px,#ff7500 345px,#ff0900 350px,#c00000 354px,#970000 358px,#900 363px,#cf0000 368px,#ff0200 371px,#fff400 382px,#e0ff1f 384px,#69ff96 391px,#06fff9 400px,#00abff 416px,#0098ff 437px,#008cff 544px)"></i>
<i style="height:2px;background:linear-gradient(90deg,#0000b5 0px,#0000f7 1px,#00daff 3px,#00acff 4px,#002fff 5px,#0000c0 6px,#0051ff 7px,#25ffda 8px,#caff35 9px,#009bff 10px,#00d 11px,#0000ba 13px,#0000d3 15px,#0000f9 17px,#0010ff 19px,#0000f7 21px,#0000de 23px,#0000e7 24px,#0001ff 25px,#0df 32px,#00f9ff 33px,#37ffc8 35px,#7eff81 37px,#af5 39px,#cf3 40px,#dbff24 41px,#c2ff3d 43px,#d4ff2b 45px,#fffc00 47px,#fff700 49px,#ffd700 51px,#ffc500 55px,#ffb200 57px,#ffcf00 59px,#ffba00 62px,#ffac00 67px,#ffc500 69px,#ffab00 71px,#fb0 75px,#fa0 77px,#ffb800 79px,#ffa800 81px,#ffd000 85px,#ffb300 87px,#ffbf00 89px,#ffae00 91px,#ffad00 95px,#ff9100 97px,#ffac00 99px,#ff7800 104px,#ff6f00 106px,#ff5e00 107px,#ff6f00 109px,#ff4300 112px,#ff3500 116px,#ff1800 117px,#ff0b00 118px,#ff0e00 119px,#fe0000 120px,#e60000 121px,#d40000 126px,#b20000 128px,#8a0000 140px,#800000 166px,#890000 200px,#f10000 244px,#ff0b00 278px,#ff3d00 297px,#ff8d00 306px,#fefd01 317px,#c2ff3d 326px,#c5ff3a 331px,#fdff02 337px,#f90 343px,#ff0500 350px,#a70000 356px,#910000 361px,#b00000 366px,#f90000 371px,#ff6200 376px,#fcff03 383px,#7fff80 390px,#14ffeb 399px,#00faff 402px,#00adff 415px,#009aff 432px,#0090ff 542px)"></i>
<i style="height:2px;background:linear-gradient(90deg,#0000b5 0px,#0000f7 1px,#00daff 3px,#00acff 4px,#002fff 5px,#0000c0 6px,#0051ff 7px,#25ffda 8px,#caff35 9px,#009bff 10px,#00d 11px,#0000ba 13px,#0000d3 15px,#0000f9 17px,#0010ff 19px,#0000f7 21px,#0000de 23px,#0000e7 24px,#0001ff 25px,#0df 32px,#00f9ff 33px,#37ffc8 35px,#7eff81 37px,#af5 39px,#cf3 40px,#dbff24 41px,#c2ff3d 43px,#d5ff2a 45px,#fffc00 47px,#fff600 49px,#ffd700 51px,#ffc500 55px,#ffb200 57px,#ffcf00 59px,#ffb800 63px,#ffad00 67px,#ffc600 69px,#ffac00 71px,#fb0 75px,#fa0 77px,#ffb900 79px,#ffa900 81px,#ffd000 85px,#ffb300 87px,#ffbf00 89px,#ffad00 91px,#ffad00 95px,#ff9100 97px,#ffab00 99px,#ff7800 104px,#ff6e00 106px,#ff5d00 107px,#ff6f00 109px,#ff4300 112px,#ff3500 116px,#ff1800 117px,#ff0b00 118px,#ff0e00 119px,#fe0000 120px,#e60000 121px,#d60000 126px,#b10000 128px,#b10000 130px,#890000 138px,#800000 172px,#890000 202px,#f20000 245px,#ff0e00 286px,#ff3400 298px,#ff8700 307px,#fffc00 318px,#c4ff3b 327px,#d0ff2f 332px,#fffa00 337px,#ff9100 343px,#fe0000 350px,#b10000 355px,#920000 360px,#a30000 365px,#e00000 370px,#ff0300 372px,#fffb00 383px,#79ff86 391px,#07fff8 401px,#00a9ff 416px,#00a3ff 433px,#009bff 540px)"></i>
<i style="height:2px;background:linear-gradient(90deg,#0000b5 0px,#0000f7 1px,#00daff 3px,#00acff 4px,#002fff 5px,#0000c0 6px,#0051ff 7px,#25ffda 8px,#caff35 9px,#009bff 10px,#00d 11px,#0000ba 13px,#0000d3 15px,#0000f9 17px,#0010ff 19px,#0000f7 21px,#0000de 23px,#0000e7 24px,#0001ff 25px,#0df 32px,#00f9ff 33px,#37ffc8 35px,#7eff81 37px,#af5 39px,#cf3 40px,#dbff24 41px,#c3ff3c 43px,#d5ff2a 45px,#fffb00 47px,#fff600 49px,#ffd600 51px,#ffc500 55px,#ffb200 57px,#ffd000 59px,#ffb900 63px,#ffae00 67px,#ffc700 69px,#ffad00 71px,#ffbc00 75px,#ffab00 77px,#ffb900 79px,#ffa900 81px,#ffd000 85px,#ffb300 87px,#ffbf00 89px,#ffad00 91px,#ffac00 95px,#ff9000 97px,#fa0 99px,#f70 104px,#ff6e00 106px,#ff5c00 107px,#ff6e00 109px,#ff4200 112px,#ff3400 116px,#ff1800 117px,#ff0b00 118px,#ff0e00 119px,#fe0000 120px,#e60000 121px,#d70000 126px,#b10000 128px,#b10000 130px,#890000 138px,#800000 176px,#8a0000 205px,#f10000 245px,#fe0100 283px,#ff1c00 296px,#ff5700 304px,#fffb00 319px,#caff35 327px,#d7ff28 332px,#fefe01 336px,#ff9e00 342px,#ff0c00 349px,#e60000 351px,#a50000 356px,#910000 361px,#a80000 366px,#e90000 371px,#fa0000 372px,#ff6700 377px,#fff300 383px,#e2ff1d 385px,#65ff9a 393px,#02fffd 402px,#00a7ff 416px,#009cff 433px,#0093ff 537px)"></i>
<i style="height:2px;background:linear-gradient(90deg,#0000b5 0px,#0000f7 1px,#00daff 3px,#00acff 4px,#002fff 5px,#0000c0 6px,#0051ff 7px,#25ffda 8px,#caff35 9px,#009bff 10px,#00d 11px,#0000ba 13px,#0000d3 15px,#0000f9 17px,#0010ff 19px,#0000f7 21px,#0000de 23px,#0000e7 24px,#0001ff 25px,#0df 32px,#00f9ff 33px,#37ffc8 35px,#7eff81 37px,#af5 39px,#cdff32 40px,#dcff23 41px,#c4ff3b 43px,#d6ff29 45px,#fffb00 47px,#fff500 49px,#ffd600 51px,#ffc500 55px,#ffb300 57px,#ffd000 59px,#ffba00 63px,#ffaf00 67px,#ffc800 69px,#ffae00 71px,#ffbc00 75px,#ffab00 77px,#ffb900 79px,#ffa900 81px,#ffd000 85px,#ffb300 87px,#ffbf00 89px,#ffad00 91px,#ffac00 95px,#ff8f00 97px,#fa0 99px,#ff7600 104px,#ff6d00 106px,#ff5c00 107px,#ff6e00 109px,#ff4200 112px,#ff3400 116px,#ff1800 117px,#ff0b00 118px,#ff0e00 119px,#fe0000 120px,#e60000 121px,#d70000 126px,#b10000 128px,#b20000 130px,#890000 138px,#800000 179px,#8a0000 207px,#f00000 246px,#fb0000 278px,#ff0700 293px,#ff3700 302px,#fffc00 320px,#d0ff2f 327px,#df2 332px,#fff800 336px,#ff9700 342px,#ff0600 349px,#a50000 356px,#910000 361px,#a50000 366px,#e30000 371px,#ff0800 373px,#fbff04 384px,#7f8 392px,#05fffa 402px,#00a5ff 416px,#009cff 431px,#0095ff 535px)"></i>
<i style="height:2px;background:linear-gradient(90deg,#0000b5 0px,#0000f7 1px,#00daff 3px,#00acff 4px,#002fff 5px,#0000c0 6px,#0051ff 7px,#25ffda 8px,#caff35 9px,#009bff 10px,#00d 11px,#0000ba 13px,#0000d3 15px,#0000f9 17px,#0010ff 19px,#0000f7 21px,#0000de 23px,#0000e7 24px,#0001ff 25px,#0df 32px,#00f9ff 33px,#37ffc8 35px,#7eff81 37px,#af5 39px,#cdff32 40px,#dcff23 41px,#c4ff3b 43px,#d6ff29 45px,#fffa00 47px,#fff500 49px,#ffd600 51px,#ffc500 55px,#ffb300 57px,#ffd000 59px,#ffba00 63px,#ffaf00 67px,#ffc800 69px,#ffae00 71px,#ffbd00 75px,#ffac00 77px,#ffba00 79px,#ffa900 81px,#ffd000 85px,#ffb300 87px,#ffbe00 89px,#ffac00 91px,#ffab00 95px,#ff8f00 97px,#ffa900 99px,#ff7500 104px,#ff6c00 106px,#ff5b00 107px,#ff6d00 109px,#ff4100 112px,#ff3400 116px,#ff1800 117px,#ff0b00 118px,#ff0e00 119px,#fe0000 120px,#e60000 121px,#d80000 126px,#b20000 128px,#b30000 130px,#890000 138px,#800000 183px,#8b0000 210px,#ed0000 247px,#f90000 277px,#f80000 290px,#ff1400 298px,#ff5600 306px,#fffe00 321px,#d6ff29 327px,#e3ff1c 332px,#fffe00 335px,#ffa400 341px,#ff0200 349px,#ac0000 355px,#910000 361px,#a40000 366px,#df0000 371px,#ff0400 373px,#feff01 384px,#7aff85 392px,#06fff9 402px,#00a4ff 416px,#00a2ff 430px,#0af 460px,#00a0ff 533px)"></i>
<i style="height:2px;background:linear-gradient(90deg,#0000b5 0px,#0000f7 1px,#00daff 3px,#00acff 4px,#002fff 5px,#0000c0 6px,#0051ff 7px,#25ffda 8px,#caff35 9px,#009bff 10px,#00d 11px,#0000ba 13px,#0000d3 15px,#0000f9 17px,#0010ff 19px,#0000f7 21px,#0000de 23px,#0000e7 24px,#0001ff 25px,#0df 32px,#00f9ff 33px,#37ffc8 35px,#7eff81 37px,#af5 39px,#cdff32 40px,#dcff23 41px,#c5ff3a 43px,#d7ff28 45px,#fffa00 47px,#fff400 49px,#ffd500 51px,#ffc500 55px,#ffb300 57px,#ffd100 59px,#ffba00 63px,#ffaf00 67px,#ffc800 69px,#ffae00 71px,#ffbd00 75px,#ffac00 77px,#ffba00 79px,#ffa900 81px,#ffd000 85px,#ffb300 87px,#ffbe00 89px,#ffac00 91px,#fa0 95px,#ff8e00 97px,#ffa800 99px,#ff7500 104px,#ff6b00 106px,#ff5a00 107px,#ff6c00 109px,#ff4100 112px,#ff3400 116px,#ff1700 117px,#ff0b00 118px,#ff0e00 119px,#fe0000 120px,#e60000 121px,#d80000 126px,#b20000 128px,#b30000 130px,#800 138px,#800000 190px,#8e0000 214px,#e90000 248px,#f60000 277px,#f40000 290px,#ff0b00 297px,#ff4500 305px,#fdff02 322px,#dbff24 328px,#f2ff0d 333px,#ffec00 336px,#ff7800 343px,#fe0000 349px,#ac0000 355px,#910000 361px,#a30000 366px,#de0000 371px,#ff0200 373px,#fffe00 384px,#7cff83 392px,#07fff8 402px,#00a3ff 416px,#00a0ff 430px,#00a7ff 461px,#009eff 531px)"></i>
<i style="height:2px;background:linear-gradient(90deg,#0000b5 0px,#0000f7 1px,#00daff 3px,#00acff 4px,#002fff 5px,#0000c0 6px,#0051ff 7px,#25ffda 8px,#caff35 9px,#009bff 10px,#00d 11px,#0000ba 13px,#0000d3 15px,#0000f9 17px,#0010ff 19px,#0000f7 21px,#0000de 23px,#0000e7 24px,#0001ff 25px,#0df 32px,#00f9ff 33px,#37ffc8 35px,#7eff81 37px,#af5 39px,#cdff32 40px,#dcff23 41px,#c6ff39 43px,#d8ff27 45px,#fff900 47px,#fff400 49px,#ffd500 51px,#ffc500 55px,#ffb300 57px,#ffd100 59px,#ffba00 63px,#ffaf00 67px,#ffc800 69px,#ffaf00 71px,#ffbe00 75px,#ffac00 77px,#ffba00 79px,#fa0 81px,#ffd000 85px,#ffb200 87px,#ffbe00 89px,#ffac00 91px,#fa0 95px,#ff8d00 97px,#ffa700 99px,#ff7400 104px,#ff6b00 106px,#ff5a00 107px,#ff6c00 109px,#ff4100 112px,#ff3400 116px,#ff1700 117px,#ff0b00 118px,#ff0e00 119px,#fe0000 120px,#e70000 121px,#d90000 126px,#b30000 128px,#b40000 130px,#800 138px,#890000 141px,#820000 159px,#870000 213px,#e60000 250px,#f20000 278px,#f40000 291px,#ff0c00 298px,#ff4c00 306px,#fffb00 322px,#e2ff1d 328px,#fffc00 334px,#ff9a00 341px,#fc0000 349px,#ab0000 355px,#910000 361px,#a20000 366px,#d00 371px,#ff0100 373px,#fffe00 384px,#7dff82 392px,#07fff8 402px,#00a2ff 416px,#009eff 429px,#00a6ff 457px,#009eff 528px)"></i>
<i style="height:2px;background:linear-gradient(90deg,#0000b5 0px,#0000f7 1px,#00daff 3px,#00acff 4px,#002fff 5px,#0000c0 6px,#0051ff 7px,#25ffda 8px,#caff35 9px,#009bff 10px,#00d 11px,#0000ba 13px,#0000d3 15px,#0000f9 17px,#0010ff 19px,#0000f7 21px,#0000de 23px,#0000e7 24px,#0001ff 25px,#0df 32px,#00f9ff 33px,#37ffc8 35px,#7eff81 37px,#abff54 39px,#cdff32 40px,#df2 41px,#c6ff39 43px,#d8ff27 45px,#fff800 47px,#fff300 49px,#ffd500 51px,#ffc500 55px,#ffb300 57px,#ffd100 59px,#fb0 63px,#ffb000 67px,#ffc900 69px,#ffaf00 71px,#ffbe00 75px,#ffad00 77px,#ffba00 79px,#fa0 81px,#ffd000 85px,#ffb200 87px,#ffbe00 89px,#ffab00 91px,#ffa900 95px,#ff8d00 97px,#ffa700 99px,#ff7300 104px,#ff6a00 106px,#ff5900 107px,#ff6b00 109px,#ff4000 112px,#ff3400 116px,#ff1700 117px,#ff0b00 118px,#ff0e00 119px,#f00 120px,#e70000 121px,#d90000 126px,#b30000 128px,#b40000 130px,#800 138px,#8a0000 141px,#820000 156px,#870000 215px,#e30000 252px,#ef0000 279px,#f60000 292px,#ff0f00 299px,#ff5300 307px,#fffd00 323px,#e9ff16 329px,#fff600 334px,#ff9500 341px,#fa0000 349px,#ab0000 355px,#910000 361px,#a20000 366px,#d00 371px,#ff0100 373px,#fffd00 384px,#7dff82 392px,#07fff8 402px,#00a0ff 416px,#009aff 430px,#009eff 473px,#0098ff 526px)"></i>
<i style="height:2px;background:linear-gradient(90deg,#0000b5 0px,#0000f7 1px,#00daff 3px,#00acff 4px,#002fff 5px,#0000c0 6px,#0051ff 7px,#25ffda 8px,#caff35 9px,#009bff 10px,#00d 11px,#0000ba 13px,#0000d3 15px,#0000f9 17px,#0010ff 19px,#0000f7 21px,#0000de 23px,#0000e7 24px,#0001ff 25px,#0df 32px,#00f9ff 33px,#37ffc8 35px,#7eff81 37px,#abff54 39px,#cdff32 40px,#df2 41px,#c7ff38 43px,#d9ff26 45px,#fff800 47px,#fff300 49px,#ffd400 51px,#ffc500 55px,#ffb300 57px,#ffd100 59px,#fb0 63px,#ffb000 67px,#ffc900 69px,#ffaf00 71px,#ffbe00 75px,#ffad00 77px,#fb0 79px,#fa0 81px,#ffd000 85px,#ffb200 87px,#ffbd00 89px,#ffab00 91px,#ffa900 95px,#ff8c00 97px,#ffa600 99px,#ff7200 104px,#ff6900 106px,#ff5800 107px,#ff6b00 109px,#ff4000 112px,#f30 116px,#ff1700 117px,#ff0b00 118px,#ff0e00 119px,#f00 120px,#e70000 121px,#d90000 126px,#b30000 128px,#b50000 130px,#890000 138px,#8a0000 141px,#830000 156px,#870000 218px,#df0000 254px,#eb0000 281px,#ff0800 298px,#ff4500 306px,#fff700 323px,#f0ff0f 329px,#fff900 333px,#ffa200 340px,#f80000 349px,#a00 355px,#910000 361px,#a20000 366px,#d00 371px,#ff0100 373px,#fffd00 384px,#7dff82 392px,#07fff8 402px,#00a4ff 415px,#009bff 426px,#0af 450px,#00a1ff 524px)"></i>
<i style="height:2px;background:linear-gradient(90deg,#0000b5 0px,#0000f7 1px,#00daff 3px,#00acff 4px,#002fff 5px,#0000c0 6px,#0051ff 7px,#25ffda 8px,#caff35 9px,#009bff 10px,#00d 11px,#0000ba 13px,#0000d3 15px,#0000f9 17px,#0010ff 19px,#0000f7 21px,#0000de 23px,#0000e7 24px,#0001ff 25px,#0df 32px,#00f9ff 33px,#37ffc8 35px,#7eff81 37px,#abff54 39px,#cdff32 40px,#df2 41px,#c8ff37 43px,#daff25 45px,#fff700 47px,#fff300 49px,#ffd400 51px,#ffc500 55px,#ffb300 57px,#ffd100 59px,#fb0 63px,#ffb000 67px,#ffc900 69px,#ffb000 71px,#ffbf00 75px,#ffad00 77px,#fb0 79px,#fa0 81px,#ffd000 85px,#ffb200 87px,#ffbd00 89px,#ffab00 91px,#ffa800 95px,#ff8c00 97px,#ffa500 99px,#ff7200 104px,#ff6900 106px,#ff5800 107px,#ff6a00 109px,#ff3f00 112px,#f30 116px,#ff1700 117px,#ff0b00 118px,#ff0f00 119px,#f00 120px,#e70000 121px,#da0000 126px,#b40000 128px,#b50000 130px,#890000 138px,#8b0000 141px,#850000 155px,#840000 174px,#800 221px,#db0000 255px,#f60000 293px,#ff1000 300px,#ff6200 309px,#fff100 323px,#f7ff08 327px,#fffb00 332px,#ffad00 339px,#ff0900 348px,#ca0000 352px,#970000 358px,#970000 364px,#c00000 369px,#ff0100 373px,#fffe00 384px,#7dff82 392px,#07fff8 402px,#009eff 416px,#0096ff 430px,#0098ff 487px,#0094ff 521px)"></i>
<i style="height:2px;background:linear-gradient(90deg,#0000b5 0px,#0000f7 1px,#00daff 3px,#00acff 4px,#002fff 5px,#0000c0 6px,#0051ff 7px,#25ffda 8px,#caff35 9px,#009bff 10px,#00d 11px,#0000ba 13px,#0000d3 15px,#0000f9 17px,#0010ff 19px,#0000f7 21px,#0000de 23px,#0000e7 24px,#0001ff 25px,#0df 32px,#00f9ff 33px,#37ffc8 35px,#7eff81 37px,#abff54 39px,#cdff32 40px,#df2 41px,#c8ff37 43px,#daff25 45px,#fff700 47px,#fff200 49px,#ffd400 51px,#ffc500 55px,#ffb300 57px,#ffd100 59px,#fb0 63px,#ffb000 67px,#ffca00 69px,#ffb000 71px,#ffbf00 75px,#ffae00 77px,#fb0 79px,#fa0 81px,#ffd000 85px,#ffb200 87px,#ffbd00 89px,#fa0 91px,#ffa800 95px,#ff8b00 97px,#ffa500 99px,#ff7100 104px,#ff6800 106px,#ff5700 107px,#ff6a00 109px,#ff3f00 112px,#f30 116px,#ff1700 117px,#ff0b00 118px,#ff0f00 119px,#f00 120px,#e70000 121px,#da0000 126px,#b40000 128px,#b60000 130px,#890000 138px,#8b0000 141px,#870000 155px,#8a0000 172px,#800000 213px,#9b0000 233px,#d60000 256px,#f70000 294px,#ff0e00 300px,#ff5f00 309px,#fff200 324px,#fcff03 329px,#ffe400 334px,#f80 341px,#ff0600 348px,#a90000 355px,#910000 361px,#a20000 366px,#d00 371px,#ff0200 373px,#fffe00 384px,#7dff82 392px,#07fff8 402px,#00a2ff 415px,#09f 426px,#00a8ff 450px,#009fff 519px)"></i>
<i style="height:2px;background:linear-gradient(90deg,#0000b5 0px,#0000f7 1px,#00daff 3px,#00acff 4px,#002fff 5px,#0000c0 6px,#0051ff 7px,#25ffda 8px,#caff35 9px,#009bff 10px,#00d 11px,#0000ba 13px,#0000d3 15px,#0000f9 17px,#0010ff 19px,#0000f7 21px,#0000de 23px,#0000e7 24px,#0001ff 25px,#0df 32px,#00f9ff 33px,#37ffc8 35px,#7eff81 37px,#abff54 39px,#cdff32 40px,#deff21 41px,#c9ff36 43px,#dbff24 45px,#fff600 47px,#fff200 49px,#ffd300 51px,#ffc500 55px,#ffb300 57px,#ffd100 59px,#fb0 63px,#ffb100 67px,#ffca00 69px,#ffb000 71px,#ffbf00 75px,#ffae00 77px,#ffbc00 79px,#ffab00 81px,#ffd000 85px,#ffb200 87px,#ffbd00 89px,#fa0 91px,#ffa700 95px,#ff8a00 97px,#ffa400 99px,#ff7000 104px,#ff6700 106px,#ff5600 107px,#ff6900 109px,#ff3e00 112px,#f30 116px,#ff1700 117px,#ff0b00 118px,#ff0f00 119px,#f00 120px,#e80000 121px,#db0000 126px,#b50000 128px,#b60000 130px,#8a0000 138px,#8c0000 141px,#8a0000 154px,#8f0000 172px,#800000 196px,#8a0000 228px,#d30000 259px,#f50000 294px,#ff0c00 300px,#ff5b00 309px,#ffec00 324px,#fffc00 329px,#ffd500 335px,#ff7200 342px,#ff0400 348px,#a90000 355px,#910000 361px,#a30000 366px,#de0000 371px,#ff0200 373px,#fffe00 384px,#7dff82 392px,#07fff8 402px,#00a2ff 415px,#0098ff 425px,#00a8ff 449px,#00a0ff 517px)"></i>
<i style="height:2px;background:linear-gradient(90deg,#0000b5 0px,#0000f7 1px,#00daff 3px,#00acff 4px,#002fff 5px,#0000c0 6px,#0051ff 7px,#25ffda 8px,#caff35 9px,#009bff 10px,#00d 11px,#0000ba 13px,#0000d3 15px,#0000f9 17px,#0010ff 19px,#0000f7 21px,#0000de 23px,#0000e7 24px,#0001ff 25px,#0df 32px,#00f9ff 33px,#37ffc8 35px,#7eff81 37px,#abff54 39px,#cdff32 40px,#deff21 41px,#caff35 43px,#dbff24 45px,#fff500 47px,#fff100 49px,#ffd300 51px,#ffc500 55px,#ffb300 57px,#ffd100 59px,#fb0 63px,#ffb100 67px,#ffca00 69px,#ffb100 71px,#ffc000 75px,#ffae00 77px,#ffbc00 79px,#ffab00 81px,#ffd000 85px,#ffb200 87px,#ffbd00 89px,#fa0 91px,#ffa600 95px,#ff8a00 97px,#ffa300 99px,#ff7000 104px,#ff6700 106px,#ff5600 107px,#ff6800 109px,#ff3e00 112px,#f30 116px,#ff1700 117px,#ff0b00 118px,#ff0f00 119px,#f00 120px,#e80000 121px,#db0000 126px,#b50000 128px,#b70000 130px,#8a0000 138px,#8c0000 141px,#8c0000 152px,#940000 172px,#800000 193px,#890000 230px,#d00000 262px,#f60000 295px,#ff0a00 300px,#ff5700 309px,#ffe700 324px,#fff600 329px,#ffcf00 335px,#ff6e00 342px,#ff0200 348px,#b00000 354px,#910000 360px,#a30000 366px,#de0000 371px,#ff0300 373px,#ff0 384px,#7cff83 392px,#07fff8 402px,#00a2ff 415px,#009aff 425px,#00abff 448px,#00a3ff 514px)"></i>
<i style="height:2px;background:linear-gradient(90deg,#0000b5 0px,#0000f7 1px,#00daff 3px,#00acff 4px,#002fff 5px,#0000c0 6px,#0051ff 7px,#25ffda 8px,#caff35 9px,#009bff 10px,#00d 11px,#0000ba 13px,#0000d3 15px,#0000f9 17px,#0010ff 19px,#0000f7 21px,#0000de 23px,#0000e7 24px,#0001ff 25px,#0df 32px,#00f9ff 33px,#37ffc8 35px,#7eff81 37px,#abff54 39px,#cdff32 40px,#deff21 41px,#caff35 43px,#dcff23 45px,#fff500 47px,#fff100 49px,#ffd300 51px,#ffc500 55px,#ffb300 57px,#ffd100 59px,#fb0 63px,#ffb100 67px,#ffca00 69px,#ffb100 71px,#ffc000 75px,#ffaf00 77px,#ffbc00 79px,#ffab00 81px,#ffd000 85px,#ffb200 87px,#ffbc00 89px,#ffa900 91px,#ffa600 95px,#ff8900 97px,#ffa200 99px,#ff6f00 104px,#f60 106px,#f50 107px,#ff6800 109px,#ff3e00 112px,#f30 116px,#ff1700 117px,#ff0b00 118px,#ff0f00 119px,#f00 120px,#e80000 121px,#dc0000 126px,#b60000 128px,#b70000 130px,#8a0000 138px,#8d0000 141px,#8d0000 150px,#9a0000 172px,#800000 192px,#890000 233px,#d00000 267px,#f70000 296px,#ff0d00 301px,#ff7e00 313px,#ffe800 325px,#fe0 330px,#ffc000 336px,#ff5800 343px,#fe0000 348px,#af0000 354px,#910000 360px,#a40000 366px,#df0000 371px,#ff0400 373px,#feff01 384px,#7cff83 392px,#00fcff 403px,#00a2ff 415px,#0096ff 426px,#00a1ff 455px,#009aff 512px)"></i>
<i style="height:2px;background:linear-gradient(90deg,#0000b5 0px,#0000f7 1px,#00daff 3px,#00acff 4px,#002fff 5px,#0000c0 6px,#0051ff 7px,#25ffda 8px,#caff35 9px,#009bff 10px,#00d 11px,#0000ba 13px,#0000d3 15px,#0000f9 17px,#0010ff 19px,#0000f7 21px,#0000de 23px,#0000e7 24px,#0001ff 25px,#0df 32px,#00f9ff 33px,#37ffc8 35px,#7eff81 37px,#abff54 39px,#ceff31 40px,#deff21 41px,#cbff34 43px,#df2 45px,#fff400 47px,#fff000 49px,#ffd200 51px,#ffc500 55px,#ffb300 57px,#ffd200 59px,#fb0 63px,#ffb100 67px,#ffcb00 69px,#ffb100 71px,#ffc100 75px,#ffaf00 77px,#ffbc00 79px,#ffab00 81px,#ffd000 85px,#ffb200 87px,#ffbc00 89px,#ffa900 91px,#ffa500 95px,#f80 97px,#ffa200 99px,#ff6e00 104px,#ff6500 106px,#ff5400 107px,#ff6700 109px,#ff3d00 112px,#f30 116px,#ff1700 117px,#ff0b00 118px,#ff0f00 119px,#ff0100 120px,#e80000 121px,#dc0000 126px,#b60000 128px,#b80000 130px,#8b0000 138px,#8d0000 141px,#8e0000 149px,#a20000 171px,#800000 193px,#890000 236px,#d40000 275px,#fc0000 298px,#ff2900 305px,#fd0 324px,#ffec00 329px,#ffc500 335px,#ff6500 342px,#fb0000 348px,#ae0000 354px,#900000 360px,#a40000 366px,#e10000 371px,#ff0600 373px,#fcff03 384px,#7cff83 392px,#00fcff 403px,#00a3ff 415px,#0095ff 426px,#009dff 461px,#0097ff 510px)"></i>
<i style="height:2px;background:linear-gradient(90deg,#0000b5 0px,#0000f7 1px,#00daff 3px,#00acff 4px,#002fff 5px,#0000c0 6px,#0051ff 7px,#25ffda 8px,#caff35 9px,#009bff 10px,#00d 11px,#0000ba 13px,#0000d3 15px,#0000f9 17px,#0010ff 19px,#0000f7 21px,#0000de 23px,#0000e7 24px,#0001ff 25px,#0df 32px,#00f9ff 33px,#37ffc8 35px,#7eff81 37px,#abff54 39px,#ceff31 40px,#dfff20 41px,#cf3 43px,#df2 45px,#f5ff0a 46px,#fff000 49px,#ffd200 51px,#ffc500 55px,#ffb400 57px,#ffd200 59px,#ffbc00 63px,#ffb100 67px,#ffcb00 69px,#ffb200 71px,#ffc100 75px,#ffaf00 77px,#ffbd00 79px,#ffab00 81px,#ffd000 85px,#ffb100 87px,#ffbc00 89px,#ffa900 91px,#ffa500 95px,#f80 97px,#ffa100 99px,#ff6d00 104px,#ff6500 106px,#ff5400 107px,#ff6700 109px,#ff3d00 112px,#f30 116px,#ff1700 117px,#ff0b00 118px,#ff0f00 119px,#ff0100 120px,#e90000 121px,#dc0000 126px,#b70000 128px,#b80000 130px,#8b0000 138px,#8e0000 141px,#900000 149px,#a80000 171px,#800000 194px,#890000 239px,#ff0300 300px,#ff4d00 309px,#ffd800 324px,#ffe700 329px,#ffc100 335px,#ff6100 342px,#f80000 348px,#ac0000 354px,#900000 360px,#a50000 366px,#e20000 371px,#ff0800 373px,#ffef00 383px,#fbff04 384px,#7cff83 392px,#00fcff 403px,#00a4ff 415px,#0098ff 426px,#00a1ff 457px,#009bff 508px)"></i>
<i style="height:2px;background:linear-gradient(90deg,#0000b5 0px,#0000f7 1px,#00daff 3px,#00acff 4px,#002fff 5px,#0000c0 6px,#0051ff 7px,#25ffda 8px,#caff35 9px,#009bff 10px,#00d 11px,#0000ba 13px,#0000d3 15px,#0000f9 17px,#0010ff 19px,#0000f7 21px,#0000de 23px,#0000e7 24px,#0001ff 25px,#0df 32px,#00f9ff 33px,#37ffc8 35px,#7eff81 37px,#abff54 39px,#ceff31 40px,#dfff20 41px,#cf3 43px,#deff21 45px,#f6ff09 46px,#ffef00 49px,#ffd200 51px,#ffc500 55px,#ffb400 57px,#ffd200 59px,#ffbc00 63px,#ffb200 67px,#ffcb00 69px,#ffb200 71px,#ffc100 75px,#ffb000 77px,#ffbd00 79px,#ffac00 81px,#ffd000 85px,#ffb100 87px,#ffbc00 89px,#ffa800 91px,#ffa400 95px,#ff8700 97px,#ffa000 99px,#ff6d00 104px,#ff6400 106px,#ff5300 107px,#f60 109px,#ff3c00 112px,#ff3200 116px,#ff1700 117px,#ff0b00 118px,#ff0f00 119px,#ff0100 120px,#e90000 121px,#d00 126px,#b70000 128px,#b90000 130px,#8b0000 138px,#8e0000 141px,#8f0000 148px,#ae0000 171px,#800000 195px,#800 242px,#fc0000 299px,#ff2c00 306px,#ffd300 324px,#ffe200 329px,#ffbc00 335px,#ff5c00 342px,#ff0700 347px,#a30000 355px,#900000 361px,#ae0000 367px,#f50000 372px,#ff1e00 374px,#fff100 383px,#f9ff06 384px,#7cff83 392px,#00fdff 403px,#00a4ff 415px,#0095ff 426px,#09f 478px,#0096ff 505px)"></i>
<i style="height:2px;background:linear-gradient(90deg,#0000b5 0px,#0000f7 1px,#00daff 3px,#00acff 4px,#002fff 5px,#0000c0 6px,#0051ff 7px,#25ffda 8px,#caff35 9px,#009bff 10px,#00d 11px,#0000ba 13px,#0000d3 15px,#0000f9 17px,#0010ff 19px,#0000f7 21px,#0000de 23px,#0000e7 24px,#0001ff 25px,#0df 32px,#00f9ff 33px,#37ffc8 35px,#7eff81 37px,#abff54 39px,#ceff31 40px,#dfff20 41px,#cdff32 43px,#dfff20 45px,#f7ff08 46px,#ffef00 49px,#ffd200 51px,#ffc500 55px,#ffb400 57px,#ffd200 59px,#ffbc00 63px,#ffb200 67px,#ffcb00 69px,#ffb200 71px,#ffc200 75px,#ffb000 77px,#ffbd00 79px,#ffac00 81px,#ffd000 85px,#ffb100 87px,#fb0 89px,#ffa800 91px,#ffa400 95px,#ff8600 97px,#ffa000 99px,#ff6c00 104px,#ff6300 106px,#ff5200 107px,#f60 109px,#ff3c00 112px,#ff3200 116px,#ff1700 117px,#ff0b00 118px,#ff0f00 119px,#ff0100 120px,#e90000 121px,#d00 126px,#b80000 128px,#b90000 130px,#8c0000 138px,#8e0000 141px,#910000 148px,#b40000 170px,#800000 197px,#890000 246px,#fa0000 299px,#ff2100 305px,#ffcf00 324px,#fd0 329px,#ffb700 335px,#ff5800 342px,#ff0300 347px,#a00 354px,#8f0000 360px,#a60000 366px,#e50000 371px,#ff0b00 373px,#fff200 383px,#e5ff1a 385px,#5fa 395px,#00fdff 403px,#00a6ff 415px,#0096ff 427px,#0098ff 492px,#0096ff 503px)"></i>
<i style="height:2px;background:linear-gradient(90deg,#0000b5 0px,#0000f7 1px,#00daff 3px,#00acff 4px,#002fff 5px,#0000c0 6px,#0051ff 7px,#25ffda 8px,#caff35 9px,#009bff 10px,#00d 11px,#0000ba 13px,#0000d3 15px,#0000f9 17px,#0010ff 19px,#0000f7 21px,#0000de 23px,#0000e7 24px,#0001ff 25px,#0df 32px,#00f9ff 33px,#37ffc8 35px,#7eff81 37px,#dfff20 41px,#ceff31 43px,#dfff20 45px,#f7ff08 46px,#fff100 48px,#fe0 49px,#ffd100 51px,#ffc500 55px,#ffb400 57px,#ffd200 59px,#ffbc00 63px,#ffb200 67px,#fc0 69px,#ffb300 71px,#ffc200 75px,#ffb000 77px,#ffbe00 79px,#ffac00 81px,#ffd000 85px,#ffb100 87px,#fb0 89px,#ffa800 91px,#ffa300 95px,#ff8600 97px,#ff9f00 99px,#ff6b00 104px,#ff6300 106px,#ff5200 107px,#ff6500 109px,#ff3c00 112px,#ff3200 116px,#ff1700 117px,#ff0b00 118px,#ff0f00 119px,#ff0100 120px,#e90000 121px,#de0000 126px,#b80000 128px,#ba0000 130px,#8c0000 138px,#8f0000 141px,#920000 148px,#ba0000 170px,#810000 198px,#890000 250px,#f80000 299px,#ff1600 304px,#ffd000 325px,#ffd600 330px,#ffa700 336px,#ff3200 344px,#f00 347px,#a80000 354px,#8f0000 360px,#a70000 366px,#e60000 371px,#ff0d00 373px,#fff400 383px,#e4ff1b 385px,#5fa 395px,#00feff 403px,#00a6ff 415px,#0093ff 427px,#0090ff 501px)"></i>
<i style="height:2px;background:linear-gradient(90deg,#0000b5 0px,#0000f7 1px,#00daff 3px,#00acff 4px,#002fff 5px,#0000c0 6px,#0051ff 7px,#25ffda 8px,#caff35 9px,#009bff 10px,#00d 11px,#0000ba 13px,#0000d3 15px,#0000f9 17px,#0010ff 19px,#0000f7 21px,#0000de 23px,#0000e7 24px,#0001ff 25px,#0df 32px,#00f9ff 33px,#37ffc8 35px,#7eff81 37px,#e0ff1f 41px,#ceff31 43px,#e0ff1f 45px,#f8ff07 46px,#fff000 48px,#fe0 49px,#ffd100 51px,#ffc500 55px,#ffb400 57px,#ffd200 59px,#ffbc00 63px,#ffb200 67px,#fc0 69px,#ffb300 71px,#ffc300 75px,#ffb100 77px,#ffbe00 79px,#ffac00 81px,#ffd000 85px,#ffb100 87px,#fb0 89px,#ffa700 91px,#ffa200 95px,#ff8500 97px,#ff9e00 99px,#ff6a00 104px,#ff6200 106px,#ff5100 107px,#ff6400 109px,#ff3b00 112px,#ff3200 116px,#ff1700 117px,#ff0b00 118px,#ff0f00 119px,#ff0100 120px,#e90000 121px,#de0000 126px,#b90000 128px,#ba0000 130px,#8c0000 138px,#8f0000 141px,#940000 148px,#c00000 170px,#810000 200px,#890000 254px,#f20000 298px,#ff0c00 303px,#ffca00 325px,#ffd000 330px,#ffa200 336px,#ff1c00 345px,#fb0000 347px,#a60000 354px,#8e0000 360px,#a70000 366px,#e80000 371px,#fa0000 372px,#ff6a00 377px,#fff500 383px,#d2ff2d 386px,#3effc1 397px,#00feff 403px,#00a9ff 415px,#0097ff 427px,#0095ff 498px)"></i>
<i style="height:2px;background:linear-gradient(90deg,#0000b5 0px,#0000f7 1px,#00daff 3px,#00acff 4px,#002fff 5px,#0000c0 6px,#0051ff 7px,#25ffda 8px,#caff35 9px,#009bff 10px,#00d 11px,#0000ba 13px,#0000d3 15px,#0000f9 17px,#0010ff 19px,#0000f7 21px,#0000de 23px,#0000e7 24px,#0001ff 25px,#0df 32px,#00f9ff 33px,#37ffc8 35px,#7eff81 37px,#e0ff1f 41px,#cfff30 43px,#e1ff1e 45px,#f9ff06 46px,#fff000 48px,#ffed00 49px,#ffd000 51px,#ffc500 55px,#ffb400 57px,#ffd200 59px,#ffbc00 63px,#ffb200 67px,#fc0 69px,#ffb300 71px,#ffc300 75px,#ffb100 77px,#ffbe00 79px,#ffac00 81px,#ffcf00 85px,#ffb000 87px,#ffba00 89px,#ffa600 91px,#ffa100 95px,#ff8400 97px,#ff9d00 99px,#ff6900 104px,#ff6100 106px,#ff5000 107px,#ff6400 109px,#ff3b00 112px,#ff3200 116px,#ff1600 117px,#ff0b00 118px,#ff0f00 119px,#ff0100 120px,#e90000 121px,#df0000 126px,#b90000 128px,#b00 130px,#8d0000 138px,#900000 141px,#950000 148px,#c50000 169px,#a90000 183px,#810000 202px,#890000 257px,#ec0000 297px,#ff0900 303px,#ffc400 325px,#ffcb00 330px,#ff9c00 336px,#ff1700 345px,#f70000 347px,#a40000 354px,#8e0000 360px,#a80000 366px,#e90000 371px,#fb0000 372px,#ff6b00 377px,#fff600 383px,#c2ff3d 387px,#28ffd7 399px,#01fffe 403px,#00a5ff 416px,#0089ff 433px,#0082ff 496px)"></i>
<i style="height:2px;background:linear-gradient(90deg,#0000b5 0px,#0000f7 1px,#00daff 3px,#00acff 4px,#002fff 5px,#0000c0 6px,#0051ff 7px,#25ffda 8px,#caff35 9px,#009bff 10px,#00d 11px,#0000ba 13px,#0000d3 15px,#0000f9 17px,#0010ff 19px,#0000f7 21px,#0000de 23px,#0000e7 24px,#0001ff 25px,#0df 32px,#00f9ff 33px,#37ffc8 35px,#7eff81 37px,#e0ff1f 41px,#d0ff2f 43px,#e2ff1d 45px,#faff05 46px,#fff000 47px,#ffec00 49px,#ffd000 51px,#ffc500 55px,#ffb400 57px,#ffd200 59px,#ffbc00 63px,#ffb300 67px,#fc0 69px,#ffb400 71px,#ffc300 75px,#ffb100 77px,#ffbd00 79px,#ffab00 81px,#ffcd00 85px,#ffae00 87px,#ffb800 89px,#ffa400 91px,#ffa000 95px,#ff8200 97px,#ff9b00 99px,#ff6800 104px,#ff5f00 106px,#ff4f00 107px,#ff6200 109px,#ff3a00 112px,#ff3100 116px,#ff1600 117px,#ff0a00 118px,#ff0f00 119px,#ff0100 120px,#e90000 121px,#df0000 126px,#b90000 128px,#b00 130px,#8d0000 138px,#900000 141px,#960000 148px,#c90000 169px,#b30000 182px,#820000 202px,#870000 259px,#e30000 295px,#ff0600 303px,#ffbe00 325px,#ffc400 330px,#ff9500 336px,#ff0200 346px,#a00 353px,#8d0000 359px,#a10000 365px,#da0000 370px,#fc0000 372px,#ff9d00 379px,#fff600 383px,#b2ff4d 388px,#1fffe0 400px,#00f9ff 404px,#00a5ff 417px,#008eff 437px,#08f 494px)"></i>
<i style="height:2px;background:linear-gradient(90deg,#0000b5 0px,#0000f7 1px,#00daff 3px,#00acff 4px,#002fff 5px,#0000c0 6px,#0051ff 7px,#25ffda 8px,#caff35 9px,#009bff 10px,#00d 11px,#0000ba 13px,#0000d3 15px,#0000f9 17px,#0010ff 19px,#0000f7 21px,#0000de 23px,#0000e7 24px,#0001ff 25px,#0df 32px,#00f9ff 33px,#37ffc8 35px,#7eff81 37px,#e1ff1e 41px,#d1ff2e 43px,#e3ff1c 45px,#fbff04 46px,#fe0 47px,#ffeb00 49px,#ffce00 51px,#ffc400 55px,#ffb400 57px,#ffd200 59px,#ffbc00 63px,#ffb300 67px,#ffcd00 69px,#ffb400 71px,#ffc200 75px,#ffb000 77px,#fb0 79px,#ffa800 81px,#ffca00 85px,#fa0 87px,#ffb400 89px,#ffa000 91px,#ff9c00 95px,#ff7f00 97px,#ff9800 99px,#ff6500 104px,#ff5d00 106px,#ff4c00 107px,#ff6000 109px,#ff3800 112px,#ff3000 116px,#ff1500 117px,#ff0900 118px,#ff0e00 119px,#ff0100 120px,#e90000 121px,#df0000 126px,#ba0000 128px,#b00 130px,#8d0000 138px,#900000 141px,#940000 147px,#ce0000 169px,#bd0000 181px,#830000 203px,#800 262px,#e00 299px,#ff0900 304px,#ffb700 325px,#ffbd00 330px,#ff8f00 336px,#fc0000 346px,#a70000 353px,#8c0000 359px,#a10000 365px,#ec0000 371px,#fe0000 372px,#fff700 383px,#a4ff5b 389px,#17ffe8 401px,#00f3ff 405px,#00a9ff 417px,#0090ff 437px,#0089ff 492px)"></i>
<i style="height:2px;background:linear-gradient(90deg,#0000b5 0px,#0000f7 1px,#00daff 3px,#00acff 4px,#002fff 5px,#0000c0 6px,#0051ff 7px,#25ffda 8px,#caff35 9px,#009bff 10px,#00d 11px,#0000ba 13px,#0000d3 15px,#0000f9 17px,#0010ff 19px,#0000f7 21px,#0000de 23px,#0000e7 24px,#0001ff 25px,#0df 32px,#00f9ff 33px,#37ffc8 35px,#7eff81 37px,#e2ff1d 41px,#d4ff2b 43px,#e6ff19 45px,#feff01 46px,#ffeb00 47px,#ffe800 49px,#fc0 51px,#ffc300 55px,#ffb300 57px,#ffd200 59px,#ffbc00 63px,#ffb300 67px,#ffcd00 69px,#ffb300 71px,#ffc100 75px,#ffad00 77px,#ffb700 79px,#ffa300 81px,#ffc200 85px,#ffa200 87px,#ffac00 89px,#ff9800 91px,#ff9500 95px,#ff7800 97px,#ff9200 99px,#ff6000 104px,#ff5800 106px,#ff4800 107px,#ff5c00 109px,#ff3400 112px,#ff2d00 116px,#ff1300 117px,#ff0700 118px,#ff0d00 119px,#fe0000 120px,#e80000 121px,#df0000 126px,#ba0000 128px,#b00 130px,#8e0000 138px,#900000 141px,#950000 147px,#d20000 169px,#c50000 181px,#840000 204px,#870000 264px,#ef0000 300px,#ff0500 304px,#ffb000 325px,#ffb600 330px,#f80 336px,#ff0600 345px,#a30000 353px,#8b0000 359px,#a20000 365px,#ed0000 371px,#f00 372px,#fff700 383px,#a4ff5b 389px,#19ffe6 401px,#00f6ff 405px,#0af 418px,#008eff 440px,#0089ff 489px)"></i>
<i style="height:2px;background:linear-gradient(90deg,#0000b5 0px,#0000f7 1px,#00daff 3px,#00acff 4px,#002fff 5px,#0000c0 6px,#0051ff 7px,#25ffda 8px,#caff35 9px,#009bff 10px,#00d 11px,#0000ba 13px,#0000d3 15px,#0000f9 17px,#0010ff 19px,#0000f7 21px,#0000de 23px,#0000e7 24px,#0001ff 25px,#0df 32px,#00f9ff 33px,#37ffc8 35px,#7fff80 37px,#e4ff1b 41px,#dbff24 43px,#fffa00 46px,#ffe600 47px,#ffe400 49px,#ffc900 51px,#ffc200 55px,#ffb200 57px,#ffd100 59px,#ffbc00 63px,#ffb200 67px,#fc0 69px,#ffb300 71px,#ffbe00 75px,#ffa900 77px,#ffb100 79px,#ff9a00 81px,#ffb600 85px,#ff9600 87px,#ffa000 89px,#ff8d00 91px,#ff8b00 95px,#ff6f00 97px,#ff8a00 99px,#ff5900 104px,#ff5200 106px,#ff4200 107px,#ff5600 109px,#ff2f00 112px,#ff2a00 116px,#ff0f00 117px,#ff0400 118px,#ff0a00 119px,#fc0000 120px,#e60000 121px,#de0000 126px,#b90000 128px,#b00 130px,#8e0000 138px,#910000 141px,#950000 147px,#d60000 169px,#c00 181px,#840000 206px,#870000 266px,#f00000 301px,#ff0800 305px,#ffae00 326px,#ffab00 331px,#ff6800 338px,#fe0100 345px,#a80000 352px,#8b0000 358px,#9b0000 364px,#de0000 370px,#ff0100 372px,#fff700 383px,#a4ff5b 389px,#1bffe4 401px,#00f9ff 405px,#00adff 418px,#0089ff 439px,#0083ff 487px)"></i>
<i style="height:2px;background:linear-gradient(90deg,#0000b5 0px,#0000f7 1px,#00daff 3px,#00acff 4px,#002fff 5px,#0000c0 6px,#0051ff 7px,#25ffda 8px,#caff35 9px,#009bff 10px,#00d 11px,#0000ba 13px,#0000d3 15px,#0000f9 17px,#0010ff 19px,#0000f7 21px,#0000de 23px,#0000e7 24px,#0001ff 25px,#0df 32px,#00f9ff 33px,#37ffc8 35px,#7fff80 37px,#e7ff18 41px,#e8ff17 44px,#fff400 46px,#ffe000 47px,#ffdf00 49px,#ffc500 51px,#ffc000 55px,#ffb100 57px,#ffd000 59px,#fb0 63px,#ffb100 67px,#ffcb00 69px,#ffb100 71px,#ffba00 75px,#ffa300 77px,#ffa900 79px,#ff9000 81px,#ffa800 85px,#f80 87px,#ff9100 89px,#ff7f00 91px,#ff7f00 95px,#ff6500 97px,#ff8000 99px,#ff5100 104px,#ff4a00 106px,#ff3a00 107px,#ff4f00 109px,#ff2900 112px,#ff2500 116px,#ff0b00 117px,#ff0100 118px,#f90000 120px,#e30000 121px,#d00 126px,#b90000 128px,#b00 130px,#8e0000 138px,#910000 141px,#960000 147px,#d90000 169px,#d40000 181px,#850000 207px,#870000 268px,#f20000 302px,#ff0b00 306px,#ffa700 326px,#ffa400 331px,#ff6100 338px,#f80000 345px,#a40000 352px,#890000 358px,#9c0000 364px,#e00000 370px,#ff0200 372px,#fff700 383px,#a4ff5b 389px,#1dffe2 401px,#00fcff 405px,#00b2ff 418px,#0090ff 440px,#008bff 485px)"></i>
<i style="height:2px;background:linear-gradient(90deg,#0000b5 0px,#0000f7 1px,#00daff 3px,#00acff 4px,#002fff 5px,#0000c0 6px,#0051ff 7px,#25ffda 8px,#caff35 9px,#009bff 10px,#00d 11px,#0000ba 13px,#0000d3 15px,#0000f9 17px,#0010ff 19px,#0000f7 21px,#0000de 23px,#0000e7 24px,#0001ff 25px,#0df 32px,#00f9ff 33px,#37ffc8 35px,#7fff80 37px,#eaff15 41px,#faff05 45px,#ffda00 47px,#ffda00 49px,#ffc100 51px,#ffbd00 55px,#ffae00 57px,#ffcf00 59px,#ffba00 63px,#ffb000 67px,#ffc900 69px,#ffaf00 71px,#ffb600 75px,#ff9d00 77px,#ffa100 79px,#ff8600 81px,#ff9b00 85px,#ff7900 87px,#ff8300 89px,#ff7200 91px,#ff7400 95px,#ff5a00 97px,#ff7600 99px,#ff4900 104px,#ff4300 106px,#f30 107px,#ff4900 109px,#ff2400 112px,#ff2100 116px,#ff0700 117px,#f50000 120px,#e00000 121px,#db0000 126px,#b80000 128px,#b00 130px,#8e0000 138px,#910000 141px,#970000 147px,#d00 169px,#d80000 182px,#850000 209px,#870000 270px,#ef0000 302px,#ff0700 306px,#ffa000 326px,#ff9d00 331px,#ff5a00 338px,#ff0200 344px,#a10000 352px,#800 358px,#9c0000 364px,#e10000 370px,#ff0400 372px,#fff700 383px,#97ff68 390px,#17ffe8 402px,#00f8ff 406px,#00b5ff 419px,#0098ff 442px,#0093ff 482px)"></i>
<i style="height:2px;background:linear-gradient(90deg,#0000b5 0px,#0000f7 1px,#00daff 3px,#00acff 4px,#002fff 5px,#0000c0 6px,#0051ff 7px,#25ffda 8px,#caff35 9px,#009bff 10px,#00d 11px,#0000ba 13px,#0000d3 15px,#0000f9 17px,#0010ff 19px,#0000f7 21px,#0000de 23px,#0000e7 24px,#0001ff 25px,#0df 32px,#00f9ff 33px,#37ffc8 35px,#7fff80 37px,#aeff51 39px,#ecff13 41px,#fffe00 45px,#ffd400 47px,#ffd500 49px,#ffbc00 51px,#ffba00 55px,#ffac00 57px,#fc0 59px,#ffb700 63px,#ffad00 67px,#ffc600 69px,#ffac00 71px,#ffb100 75px,#ff9700 77px,#f90 79px,#ff7c00 81px,#ff8f00 85px,#ff6d00 87px,#f70 89px,#f60 91px,#ff6a00 95px,#ff5100 97px,#ff6e00 99px,#ff4200 104px,#ff3c00 106px,#ff2d00 107px,#ff4300 109px,#ff1f00 112px,#ff1c00 116px,#ff0200 117px,#f70000 118px,#fe0000 119px,#dc0000 121px,#d90000 126px,#b70000 128px,#ba0000 130px,#8f0000 138px,#920000 141px,#970000 147px,#e00000 169px,#df0000 182px,#860000 210px,#850000 271px,#de0000 299px,#ff0900 307px,#ff9800 326px,#ff9500 331px,#ff5300 338px,#fb0000 344px,#a60000 351px,#800 357px,#960000 363px,#d40000 369px,#ff0500 372px,#fff700 383px,#97ff68 390px,#21ffde 401px,#00fbff 406px,#00b5ff 420px,#0092ff 441px,#008dff 480px)"></i>
<i style="height:2px;background:linear-gradient(90deg,#0000b5 0px,#0000f7 1px,#00daff 3px,#00acff 4px,#002fff 5px,#0000c0 6px,#0051ff 7px,#25ffda 8px,#caff35 9px,#009bff 10px,#00d 11px,#0000ba 13px,#0000d3 15px,#0000f9 17px,#0010ff 19px,#0000f7 21px,#0000de 23px,#0000e7 24px,#0001ff 25px,#0df 32px,#00f9ff 33px,#37ffc8 35px,#7fff80 37px,#afff50 39px,#edff12 41px,#fffa00 45px,#ffd000 47px,#ffd000 49px,#ffb800 51px,#ffb600 55px,#ffa800 57px,#ffc900 59px,#ffb400 63px,#ffa900 67px,#ffc300 69px,#ffa800 71px,#ffac00 75px,#ff9100 77px,#ff9200 79px,#ff7400 81px,#ff8600 85px,#ff6400 87px,#ff6e00 89px,#ff5d00 91px,#ff6200 95px,#ff4900 97px,#ff6700 99px,#ff3d00 104px,#ff3700 106px,#ff2800 107px,#ff3f00 109px,#ff1a00 112px,#ff1800 116px,#fd0000 117px,#f30000 118px,#fa0000 119px,#d90000 121px,#d70000 126px,#b50000 128px,#ba0000 130px,#8f0000 138px,#920000 141px,#980000 147px,#e30000 169px,#e20000 183px,#850000 212px,#850000 273px,#e20000 301px,#ff0400 307px,#ff9000 326px,#ff8e00 331px,#ff4b00 338px,#ff0500 343px,#a20000 351px,#870000 357px,#970000 363px,#d50000 369px,#ff0600 372px,#fff700 383px,#7eff81 392px,#13ffec 403px,#00f8ff 407px,#00bcff 420px,#00a1ff 443px,#009dff 478px)"></i>
<i style="height:2px;background:linear-gradient(90deg,#0000b5 0px,#0000f7 1px,#00daff 3px,#00acff 4px,#002fff 5px,#0000c0 6px,#0051ff 7px,#25ffda 8px,#caff35 9px,#009bff 10px,#00d 11px,#0000ba 13px,#0000d3 15px,#0000f9 17px,#0010ff 19px,#0000f7 21px,#0000de 23px,#0000e7 24px,#0001ff 25px,#0df 32px,#00f9ff 33px,#37ffc8 35px,#7fff80 37px,#afff50 39px,#efff10 41px,#fff600 45px,#ffcb00 47px,#ffcb00 49px,#ffb400 51px,#ffb200 55px,#ffa400 57px,#ffc500 59px,#ffb000 63px,#ffa500 67px,#ffbe00 69px,#ffa300 71px,#ffa700 75px,#ff8b00 77px,#ff8c00 79px,#ff6e00 81px,#ff7e00 85px,#ff5c00 87px,#ff6700 89px,#ff5600 91px,#ff5c00 95px,#ff4300 97px,#ff6100 99px,#ff3800 104px,#f30 106px,#ff2400 107px,#ff3b00 109px,#ff1700 112px,#ff1400 116px,#fa0000 117px,#f00000 118px,#f60000 119px,#d50000 121px,#d50000 126px,#b40000 128px,#b90000 130px,#8f0000 138px,#920000 141px,#900 147px,#e70000 169px,#e70000 183px,#850000 214px,#860000 275px,#e20000 302px,#ff0500 308px,#f80 326px,#ff8500 331px,#f40 338px,#fe0000 343px,#a00000 351px,#870000 357px,#980000 363px,#d60000 369px,#ff0700 372px,#fff700 383px,#73ff8c 393px,#0efff1 404px,#00f0ff 409px,#00beff 422px,#00a6ff 446px,#00a3ff 475px)"></i>
<i style="height:2px;background:linear-gradient(90deg,#0000b5 0px,#0000f7 1px,#00daff 3px,#00acff 4px,#002fff 5px,#0000c0 6px,#0051ff 7px,#25ffda 8px,#caff35 9px,#009bff 10px,#00d 11px,#0000ba 13px,#0000d3 15px,#0000f9 17px,#0010ff 19px,#0000f7 21px,#0000de 23px,#0000e7 24px,#0001ff 25px,#0df 32px,#00f9ff 33px,#37ffc8 35px,#7fff80 37px,#afff50 39px,#f0ff0f 41px,#fffc00 44px,#ffdb00 46px,#ffc700 47px,#ffc700 49px,#ffb000 51px,#ffae00 55px,#ffa100 57px,#ffc100 59px,#ffab00 63px,#ffa100 67px,#ffba00 69px,#ff9e00 71px,#ffa200 75px,#ff8600 77px,#ff8600 79px,#ff6800 81px,#ff7800 85px,#ff5600 87px,#ff6000 89px,#ff5000 91px,#ff5600 95px,#ff3e00 97px,#ff5c00 99px,#ff3400 104px,#ff3000 106px,#ff2100 107px,#ff3800 109px,#ff1400 112px,#f10 116px,#f60000 117px,#ec0000 118px,#f20000 119px,#d20000 121px,#d30000 126px,#b30000 128px,#b80000 130px,#900000 138px,#930000 141px,#9a0000 147px,#ea0000 169px,#eb0000 183px,#840000 216px,#870000 277px,#e20000 303px,#ff0500 309px,#ff7f00 326px,#ff7c00 331px,#ff3c00 338px,#f80000 343px,#9e0000 351px,#870000 357px,#900 363px,#d70000 369px,#ff0800 372px,#fff800 383px,#73ff8c 393px,#17ffe8 403px,#00f9ff 408px,#00c1ff 423px,#0af 446px,#00a7ff 473px)"></i>
<i style="height:2px;background:linear-gradient(90deg,#0000b5 0px,#0000f7 1px,#00daff 3px,#00acff 4px,#002fff 5px,#0000c0 6px,#0051ff 7px,#25ffda 8px,#caff35 9px,#009bff 10px,#00d 11px,#0000ba 13px,#0000d3 15px,#0000f9 17px,#0010ff 19px,#0000f7 21px,#0000de 23px,#0000e7 24px,#0001ff 25px,#0df 32px,#00f9ff 33px,#37ffc8 35px,#80ff7f 37px,#b0ff4f 39px,#f1ff0e 41px,#fff800 44px,#ffd700 46px,#ffc300 47px,#ffc300 49px,#ffab00 51px,#fa0 55px,#ff9d00 57px,#ffbd00 59px,#ffa700 63px,#ff9c00 67px,#ffb500 69px,#ff9a00 71px,#ff9d00 75px,#ff8100 77px,#ff8100 79px,#ff6200 81px,#ff7200 85px,#ff5000 87px,#ff5a00 89px,#ff4a00 91px,#ff5000 95px,#ff3900 97px,#ff5700 99px,#ff3000 104px,#ff2c00 106px,#ff1d00 107px,#ff3400 109px,#ff1000 112px,#ff0d00 116px,#e80000 118px,#ef0000 119px,#ce0000 121px,#d10000 126px,#b20000 128px,#b80000 130px,#900000 138px,#930000 141px,#9b0000 147px,#ed0000 169px,#ef0000 183px,#840000 217px,#860000 278px,#d00000 300px,#ff0500 310px,#ff7600 326px,#ff7300 331px,#ff3500 338px,#ff0100 342px,#a40000 350px,#800 357px,#a20000 364px,#e70000 370px,#ff0900 372px,#fff800 383px,#73ff8c 393px,#18ffe7 403px,#00f7ff 409px,#00b2ff 429px,#009fff 447px,#009cff 471px)"></i>
<i style="height:2px;background:linear-gradient(90deg,#0000b5 0px,#0000f7 1px,#00daff 3px,#00acff 4px,#002fff 5px,#0000c0 6px,#0051ff 7px,#25ffda 8px,#caff35 9px,#009bff 10px,#00d 11px,#0000ba 13px,#0000d3 15px,#0000f9 17px,#0010ff 19px,#0000f7 21px,#0000de 23px,#0000e7 24px,#0001ff 25px,#0df 32px,#00f9ff 33px,#37ffc8 35px,#80ff7f 37px,#b0ff4f 39px,#f3ff0c 41px,#fffa00 43px,#ffea00 45px,#ffbf00 47px,#ffbf00 49px,#ffa700 51px,#ffa600 55px,#f90 57px,#ffb900 59px,#ffa300 63px,#ff9700 67px,#ffb000 69px,#ff9500 71px,#ff9800 75px,#ff7b00 77px,#ff7b00 79px,#ff5c00 81px,#ff6c00 85px,#ff4a00 87px,#ff5400 89px,#f40 91px,#ff4b00 95px,#ff3400 97px,#ff5300 99px,#ff2c00 104px,#ff2900 106px,#ff1a00 107px,#ff3100 109px,#ff0d00 112px,#ff0a00 116px,#e50000 118px,#eb0000 119px,#cb0000 121px,#cf0000 126px,#b00000 128px,#b80000 130px,#910000 138px,#940000 141px,#9c0000 147px,#ef0000 169px,#f10000 183px,#ae0000 205px,#830000 219px,#870000 280px,#ce0000 301px,#ff0500 311px,#ff6c00 326px,#ff6a00 331px,#ff2d00 338px,#fa0000 342px,#a20000 350px,#800 357px,#a30000 364px,#e80000 370px,#ff0a00 372px,#fff800 383px,#73ff8c 393px,#19ffe6 403px,#00f7ff 410px,#00c1ff 429px,#00b1ff 455px,#00afff 469px)"></i>
<i style="height:2px;background:linear-gradient(90deg,#0000b5 0px,#0000f7 1px,#00daff 3px,#00acff 4px,#002fff 5px,#0000c0 6px,#0051ff 7px,#25ffda 8px,#caff35 9px,#009bff 10px,#00d 11px,#0000ba 13px,#0000d3 15px,#0000f9 17px,#0010ff 19px,#0000f7 21px,#0000de 23px,#0000e7 24px,#0001ff 25px,#0df 32px,#00f9ff 33px,#37ffc8 35px,#80ff7f 37px,#b0ff4f 39px,#f4ff0b 41px,#fff600 43px,#ffe600 45px,#fb0 47px,#fb0 49px,#ffa300 51px,#ffa200 55px,#ff9400 57px,#ffb500 59px,#ff9e00 63px,#ff9300 67px,#ffab00 69px,#ff9000 71px,#ff9300 75px,#ff7600 77px,#ff7600 79px,#ff5600 81px,#f60 85px,#f40 87px,#ff4e00 89px,#ff3f00 91px,#ff4600 95px,#ff2f00 97px,#ff4e00 99px,#ff2900 104px,#ff2500 106px,#ff1700 107px,#ff2e00 109px,#ff0a00 112px,#ff0600 116px,#e10000 118px,#e80000 119px,#c70000 121px,#cd0000 126px,#af0000 128px,#b70000 130px,#920000 138px,#960000 141px,#9e0000 147px,#f10000 169px,#f40000 183px,#b00000 206px,#830000 221px,#870000 281px,#c40000 300px,#ff0400 312px,#ff6300 326px,#ff6100 331px,#ff1a00 339px,#ff0200 341px,#a10000 350px,#890000 357px,#a50000 364px,#e90000 370px,#ff0c00 372px,#fff900 383px,#73ff8c 393px,#1bffe4 403px,#00f8ff 411px,#00beff 434px,#00b3ff 466px)"></i>
<i style="height:2px;background:linear-gradient(90deg,#0000b5 0px,#0000f7 1px,#00daff 3px,#00acff 4px,#002fff 5px,#0000c0 6px,#0051ff 7px,#25ffda 8px,#caff35 9px,#009bff 10px,#00d 11px,#0000ba 13px,#0000d3 15px,#0000f9 17px,#0010ff 19px,#0000f7 21px,#0000de 23px,#0000e7 24px,#0001ff 25px,#0df 32px,#00f9ff 33px,#37ffc8 35px,#80ff7f 37px,#b1ff4e 39px,#f6ff09 41px,#ffed00 44px,#ffca00 46px,#ffb700 47px,#ffb600 49px,#ff9f00 51px,#ff9e00 55px,#ff9000 57px,#ffb000 59px,#ff9a00 63px,#ff8e00 67px,#ffa700 69px,#ff8b00 71px,#ff8e00 75px,#ff7100 77px,#ff7000 79px,#ff5100 81px,#ff6000 85px,#ff3e00 87px,#ff4800 89px,#ff3900 91px,#ff4000 95px,#ff2900 97px,#ff4900 99px,#ff2500 104px,#f20 106px,#ff1300 107px,#ff2b00 109px,#ff0700 112px,#ff0300 116px,#de0000 118px,#e40000 119px,#c40000 121px,#c00 126px,#ae0000 128px,#b70000 130px,#940000 138px,#980000 141px,#a00000 147px,#f10000 168px,#f70000 182px,#b60000 206px,#830000 222px,#870000 283px,#c60000 302px,#ff0300 313px,#ff5a00 326px,#ff5700 331px,#ff1300 339px,#ef0000 342px,#9f0000 350px,#8a0000 357px,#a60000 364px,#ea0000 370px,#ff0d00 372px,#fff900 383px,#73ff8c 393px,#2fd 402px,#00faff 412px,#00c1ff 437px,#0bf 464px)"></i>
<i style="height:2px;background:linear-gradient(90deg,#0000b5 0px,#0000f7 1px,#00daff 3px,#00acff 4px,#002fff 5px,#0000c0 6px,#0051ff 7px,#25ffda 8px,#caff35 9px,#009bff 10px,#00d 11px,#0000ba 13px,#0000d3 15px,#0000f9 17px,#0010ff 19px,#0000f7 21px,#0000de 23px,#0000e7 24px,#0001ff 25px,#0df 32px,#00f9ff 33px,#37ffc8 35px,#80ff7f 37px,#b1ff4e 39px,#f7ff08 41px,#ffde00 45px,#ffb200 47px,#ffb200 49px,#ff9b00 51px,#ff9a00 55px,#ff8c00 57px,#ffac00 59px,#ff9500 63px,#ff8900 67px,#ffa200 69px,#ff8600 71px,#ff8900 75px,#ff6b00 77px,#ff6b00 79px,#ff4b00 81px,#ff5a00 85px,#ff3800 87px,#ff4300 89px,#f30 91px,#ff3b00 95px,#ff2400 97px,#f40 99px,#ff2100 104px,#ff1e00 106px,#ff1000 107px,#ff2800 109px,#ff0400 112px,#fe0000 116px,#e40000 117px,#da0000 118px,#e10000 119px,#c10000 121px,#ca0000 126px,#ae0000 128px,#b70000 130px,#960000 138px,#9a0000 141px,#a30000 147px,#f20000 168px,#f70000 183px,#b70000 207px,#840000 223px,#870000 284px,#c40000 303px,#ff0200 314px,#ff5000 326px,#ff4e00 331px,#ff0c00 339px,#e90000 342px,#9e0000 350px,#8b0000 357px,#a80000 364px,#eb0000 370px,#ff0e00 372px,#fffa00 383px,#73ff8c 393px,#23ffdc 402px,#00fcff 413px,#0cf 439px,#00c8ff 462px)"></i>
<i style="height:2px;background:linear-gradient(90deg,#0000b5 0px,#0000f7 1px,#00daff 3px,#00acff 4px,#002fff 5px,#0000c0 6px,#0051ff 7px,#25ffda 8px,#caff35 9px,#009bff 10px,#00d 11px,#0000ba 13px,#0000d3 15px,#0000f9 17px,#0010ff 19px,#0000f7 21px,#0000de 23px,#0000e7 24px,#0001ff 25px,#0df 32px,#00f9ff 33px,#38ffc7 35px,#80ff7f 37px,#b1ff4e 39px,#f8ff07 41px,#ffda00 45px,#ffae00 47px,#ffae00 49px,#ff9700 51px,#ff9600 55px,#f80 57px,#ffa800 59px,#ff9100 63px,#ff8500 67px,#ff9d00 69px,#ff8100 71px,#ff8300 75px,#f60 77px,#ff6500 79px,#ff4500 81px,#ff5400 85px,#ff3200 87px,#ff3d00 89px,#ff2d00 91px,#ff3600 95px,#ff1f00 97px,#ff4000 99px,#ff1d00 104px,#ff1b00 106px,#ff0d00 107px,#ff2500 109px,#ff0100 112px,#fc0000 116px,#e10000 117px,#d70000 118px,#de0000 119px,#be0000 121px,#c90000 126px,#ad0000 128px,#b70000 130px,#980000 138px,#9d0000 141px,#a60000 147px,#f10000 167px,#fa0000 182px,#b00 207px,#850000 224px,#860000 285px,#c20000 304px,#ff0200 315px,#ff4a00 327px,#ff3b00 333px,#fa0000 340px,#9d0000 350px,#8c0000 357px,#a90000 364px,#ec0000 370px,#fc0000 371px,#ff7900 377px,#fffa00 383px,#73ff8c 393px,#24ffdb 402px,#00fcff 415px,#00d4ff 442px,#00d1ff 459px)"></i>
<i style="height:2px;background:linear-gradient(90deg,#0000b5 0px,#0000f7 1px,#00daff 3px,#00acff 4px,#002fff 5px,#0000c0 6px,#0051ff 7px,#25ffda 8px,#caff35 9px,#009bff 10px,#00d 11px,#0000ba 13px,#0000d3 15px,#0000f9 17px,#0010ff 19px,#0000f7 21px,#0000de 23px,#0000e7 24px,#0001ff 25px,#0df 32px,#00f9ff 33px,#38ffc7 35px,#80ff7f 37px,#b2ff4d 39px,#faff05 41px,#ffd600 45px,#fa0 47px,#fa0 49px,#ff9300 51px,#ff9200 55px,#ff8400 57px,#ffa400 59px,#ff8d00 63px,#ff8000 67px,#ff9800 69px,#ff7d00 71px,#ff7e00 75px,#ff6100 77px,#ff6000 79px,#ff4000 81px,#ff4e00 85px,#ff2c00 87px,#ff3700 89px,#ff2800 91px,#ff3100 95px,#ff1a00 97px,#ff3b00 99px,#ff1900 104px,#ff1700 106px,#ff0a00 107px,#f20 109px,#fe0000 112px,#f90000 116px,#df0000 117px,#d40000 118px,#db0000 119px,#bc0000 121px,#c80000 126px,#ad0000 128px,#b80000 130px,#9a0000 138px,#9f0000 141px,#a80000 147px,#f00000 166px,#fc0000 181px,#bf0000 207px,#860000 225px,#860000 286px,#bd0000 304px,#ff0800 317px,#ff4000 327px,#f30 333px,#fe0100 339px,#9c0000 350px,#8e0000 357px,#ab0000 364px,#e00 370px,#fe0000 371px,#ff9000 378px,#fffa00 383px,#73ff8c 393px,#24ffdb 402px,#00fcff 417px,#00d7ff 444px,#00d5ff 457px)"></i>
<i style="height:2px;background:linear-gradient(90deg,#0000b5 0px,#0000f7 1px,#00daff 3px,#00acff 4px,#002fff 5px,#0000c0 6px,#0051ff 7px,#25ffda 8px,#caff35 9px,#009bff 10px,#00d 11px,#0000ba 13px,#0000d3 15px,#0000f9 17px,#0010ff 19px,#0000f7 21px,#0000de 23px,#0000e7 24px,#0001ff 25px,#0df 32px,#00f9ff 33px,#38ffc7 35px,#80ff7f 37px,#b2ff4d 39px,#fbff04 41px,#ffd200 45px,#ffa600 47px,#ffa600 49px,#ff8e00 51px,#ff8e00 55px,#ff8000 57px,#ffa000 59px,#f80 63px,#ff7b00 67px,#ff9400 69px,#ff7800 71px,#ff7900 75px,#ff5c00 77px,#ff5a00 79px,#ff3a00 81px,#ff4900 85px,#ff2700 87px,#ff3200 89px,#f20 91px,#ff2b00 95px,#ff1500 97px,#ff3600 99px,#ff1600 104px,#ff1400 106px,#ff0700 107px,#ff2000 109px,#fb0000 112px,#f70000 116px,#d00 117px,#d20000 118px,#d90000 119px,#ba0000 121px,#c70000 126px,#ad0000 128px,#b80000 130px,#9c0000 138px,#a20000 141px,#ab0000 147px,#f20000 166px,#fd0000 181px,#c30000 207px,#860000 227px,#860000 287px,#bc0000 305px,#ff0700 318px,#ff3700 328px,#ff2600 334px,#fb0000 339px,#9d0000 350px,#8f0000 357px,#ad0000 364px,#ef0000 370px,#f00 371px,#fffa00 383px,#73ff8c 393px,#25ffda 402px,#00fbff 419px,#00d8ff 444px,#00d7ff 455px)"></i>
<i style="height:2px;background:linear-gradient(90deg,#0000b5 0px,#0000f7 1px,#00daff 3px,#00acff 4px,#002fff 5px,#0000c0 6px,#0051ff 7px,#25ffda 8px,#caff35 9px,#009bff 10px,#00d 11px,#0000ba 13px,#0000d3 15px,#0000f9 17px,#0010ff 19px,#0000f7 21px,#0000de 23px,#0000e7 24px,#0001ff 25px,#0df 32px,#00f9ff 33px,#38ffc7 35px,#80ff7f 37px,#b2ff4d 39px,#fcff03 41px,#ffdf00 43px,#ffce00 45px,#ffa200 47px,#ffa100 49px,#ff8a00 51px,#ff8a00 55px,#ff7c00 57px,#ff9c00 59px,#ff8400 63px,#f70 67px,#ff8f00 69px,#ff7300 71px,#ff7400 75px,#ff5700 77px,#f50 79px,#ff3500 81px,#ff4300 85px,#ff2100 87px,#ff2c00 89px,#ff1d00 91px,#ff2600 95px,#f10 97px,#ff3200 99px,#ff1200 104px,#f10 106px,#ff0300 107px,#ff1d00 109px,#ff0100 111px,#f40000 114px,#f50000 116px,#db0000 117px,#d10000 118px,#d80000 119px,#b90000 121px,#c70000 126px,#ad0000 128px,#b90000 130px,#9f0000 138px,#a40000 141px,#ae0000 147px,#f10000 165px,#fe0000 180px,#c60000 207px,#800 228px,#820000 282px,#9e0000 298px,#ec0000 315px,#ff0b00 320px,#ff2e00 329px,#ff1900 335px,#f70000 339px,#9d0000 350px,#910000 357px,#b00000 364px,#ff0200 371px,#fffa00 383px,#73ff8c 393px,#25ffda 402px,#01fefe 421px,#0ef 452px)"></i>
<i style="height:2px;background:linear-gradient(90deg,#0000b5 0px,#0000f7 1px,#00daff 3px,#00acff 4px,#002fff 5px,#0000c0 6px,#0051ff 7px,#25ffda 8px,#caff35 9px,#009bff 10px,#00d 11px,#0000ba 13px,#0000d3 15px,#0000f9 17px,#0010ff 19px,#0000f7 21px,#0000de 23px,#0000e7 24px,#0001ff 25px,#0df 32px,#00f9ff 33px,#38ffc7 35px,#80ff7f 37px,#b3ff4c 39px,#feff01 41px,#ffdb00 43px,#ffca00 45px,#ff9e00 47px,#ff9d00 49px,#ff8600 51px,#ff8600 55px,#ff7800 57px,#ff9700 59px,#ff7f00 63px,#ff7200 67px,#ff8a00 69px,#ff6e00 71px,#ff6f00 75px,#ff5100 77px,#ff5000 79px,#ff3000 81px,#ff3e00 85px,#ff1c00 87px,#ff2700 89px,#ff1800 91px,#ff2100 95px,#ff0b00 97px,#ff2d00 99px,#ff0e00 104px,#ff0d00 106px,#f00 107px,#ff1a00 109px,#fe0000 111px,#f20000 114px,#f40000 116px,#da0000 117px,#d00000 118px,#d70000 119px,#b90000 121px,#c80000 126px,#ae0000 128px,#ba0000 130px,#a10000 138px,#a70000 141px,#b10000 147px,#f30000 165px,#f00 181px,#c60000 208px,#890000 230px,#800000 279px,#980000 297px,#e60000 315px,#ff0900 321px,#ff2400 330px,#fc0000 338px,#9e0000 350px,#950000 358px,#ba0000 365px,#ff0400 371px,#fffa00 383px,#73ff8c 393px,#2bffd4 401px,#10ffef 412px,#00f6ff 437px,#00f3ff 450px)"></i>
<i style="height:2px;background:linear-gradient(90deg,#0000b5 0px,#0000f7 1px,#00daff 3px,#00acff 4px,#002fff 5px,#0000c0 6px,#0051ff 7px,#25ffda 8px,#caff35 9px,#009bff 10px,#00d 11px,#0000ba 13px,#0000d3 15px,#0000f9 17px,#0010ff 19px,#0000f7 21px,#0000de 23px,#0000e7 24px,#0001ff 25px,#0df 32px,#00f9ff 33px,#38ffc7 35px,#81ff7e 37px,#b3ff4c 39px,#ff0 41px,#ffd700 43px,#ffc600 45px,#f90 47px,#f90 49px,#ff8100 51px,#ff8100 55px,#ff7300 57px,#ff9300 59px,#ff7a00 63px,#ff6d00 67px,#ff8400 69px,#ff6800 71px,#ff6900 75px,#ff4c00 77px,#ff4a00 79px,#ff2a00 81px,#ff3800 85px,#ff1600 87px,#ff2100 89px,#ff1200 91px,#ff1c00 95px,#ff0600 97px,#ff2700 99px,#fb0000 107px,#ff1700 109px,#fb0000 111px,#f00000 114px,#f20000 116px,#d80000 117px,#cf0000 118px,#d60000 119px,#b80000 121px,#c80000 126px,#af0000 128px,#b00 130px,#a30000 138px,#a90000 141px,#b40000 147px,#f30000 164px,#ff0100 180px,#cd0000 207px,#8a0000 232px,#800000 277px,#950000 297px,#e60000 316px,#ff0700 322px,#ff1b00 331px,#f80000 338px,#a00000 350px,#980000 358px,#bc0000 365px,#ff0500 371px,#fffa00 383px,#73ff8c 393px,#2bffd4 401px,#13ffec 411px,#01fefe 448px)"></i>
<i style="height:2px;background:linear-gradient(90deg,#0000b5 0px,#0000f7 1px,#00daff 3px,#00acff 4px,#002fff 5px,#0000c0 6px,#0051ff 7px,#25ffda 8px,#caff35 9px,#009bff 10px,#00d 11px,#0000ba 13px,#0000d3 15px,#0000f9 17px,#0010ff 19px,#0000f7 21px,#0000de 23px,#0000e7 24px,#0001ff 25px,#0df 32px,#00f9ff 33px,#38ffc7 35px,#81ff7e 37px,#b4ff4b 39px,#fffd00 41px,#ffd300 43px,#ffc100 45px,#ff9500 47px,#ff9400 49px,#ff7d00 51px,#ff7d00 55px,#ff6f00 57px,#ff8e00 59px,#ff7500 63px,#ff6700 67px,#ff7f00 69px,#ff6300 71px,#ff6400 75px,#ff4600 77px,#ff4500 79px,#ff2400 81px,#f30 85px,#ff1000 87px,#ff1c00 89px,#ff0d00 91px,#ff1600 95px,#ff0100 97px,#f20 99px,#ff0500 104px,#f80000 107px,#ff0100 108px,#ff1300 109px,#f20000 112px,#f00000 116px,#d70000 117px,#cd0000 118px,#d50000 119px,#b80000 121px,#c90000 126px,#b00000 128px,#bc0000 130px,#a60000 138px,#ad0000 141px,#b80000 147px,#f60000 164px,#fe0000 183px,#c50000 211px,#860000 237px,#860000 290px,#b00000 306px,#ff0500 323px,#ff1300 331px,#fa0000 337px,#a10000 350px,#9a0000 358px,#bf0000 365px,#ff0700 371px,#ffa800 379px,#fffa00 383px,#73ff8c 393px,#2cffd3 401px,#15ffea 411px,#00feff 446px)"></i>
<i style="height:2px;background:linear-gradient(90deg,#0000b5 0px,#0000f7 1px,#00daff 3px,#00acff 4px,#002fff 5px,#0000c0 6px,#0051ff 7px,#25ffda 8px,#caff35 9px,#009bff 10px,#00d 11px,#0000ba 13px,#0000d3 15px,#0000f9 17px,#0010ff 19px,#0000f7 21px,#0000de 23px,#0000e7 24px,#0001ff 25px,#0df 32px,#00f9ff 33px,#38ffc7 35px,#81ff7e 37px,#b4ff4b 39px,#fffc00 41px,#ffde00 42px,#ffbd00 45px,#ff9000 47px,#ff8f00 49px,#ff7800 51px,#f70 55px,#ff6900 57px,#f80 59px,#ff6f00 63px,#ff6200 67px,#ff7a00 69px,#ff5e00 71px,#ff5f00 75px,#ff4200 77px,#ff4100 79px,#ff2100 81px,#ff2f00 85px,#ff0d00 87px,#ff1800 89px,#ff0900 91px,#ff1300 95px,#fc0000 97px,#ff1f00 99px,#ff0300 104px,#f60000 107px,#fe0000 108px,#ff1200 109px,#f10000 112px,#f10000 116px,#d80000 117px,#ce0000 118px,#d60000 119px,#b90000 121px,#ca0000 126px,#b10000 128px,#be0000 130px,#a90000 138px,#b10000 141px,#c10000 148px,#fb0000 164px,#f80000 187px,#c00000 214px,#830000 243px,#870000 292px,#b40000 308px,#ff0300 324px,#ff0b00 332px,#f50000 337px,#a20000 350px,#9d0000 358px,#c10000 365px,#f90000 370px,#ff3e00 374px,#fffa00 383px,#74ff8b 393px,#2dffd2 401px,#17ffe8 411px,#08fff7 443px)"></i>
<i style="height:2px;background:linear-gradient(90deg,#0000b5 0px,#0000f7 1px,#00daff 3px,#00acff 4px,#002fff 5px,#0000c0 6px,#0051ff 7px,#25ffda 8px,#caff35 9px,#009bff 10px,#00d 11px,#0000ba 13px,#0000d3 15px,#0000f9 17px,#0010ff 19px,#0000f7 21px,#0000de 23px,#0000e7 24px,#0001ff 25px,#0df 32px,#00f9ff 33px,#38ffc7 35px,#81ff7e 37px,#b4ff4b 39px,#fffa00 41px,#ffda00 42px,#ffb700 45px,#ff8b00 47px,#ff8a00 49px,#ff7200 51px,#ff7200 55px,#ff6400 57px,#ff8300 59px,#ff6a00 63px,#ff5d00 67px,#ff7500 69px,#ff5a00 71px,#ff5d00 75px,#ff4000 77px,#ff3f00 79px,#ff2000 81px,#ff2e00 85px,#ff0c00 87px,#ff1700 89px,#ff0800 91px,#ff1200 95px,#fb0000 97px,#ff1e00 99px,#ff0300 104px,#f70000 107px,#ff0100 108px,#ff1400 109px,#f30000 112px,#f40000 116px,#db0000 117px,#d20000 118px,#d90000 119px,#bc0000 121px,#cd0000 126px,#b40000 128px,#c00000 130px,#ae0000 138px,#b60000 141px,#c80000 148px,#fd0000 162px,#ff0700 176px,#d40000 208px,#850000 245px,#870000 293px,#b20000 309px,#ff0200 326px,#f50000 336px,#a20000 350px,#9f0000 358px,#cd0000 366px,#fb0000 370px,#ff5300 375px,#fff900 383px,#6aff95 394px,#2affd5 402px,#0efff1 426px,#05fcfa 441px)"></i>
<i style="height:2px;background:linear-gradient(90deg,#0000b5 0px,#0000f7 1px,#00daff 3px,#00acff 4px,#002fff 5px,#0000c0 6px,#0051ff 7px,#25ffda 8px,#caff35 9px,#009bff 10px,#00d 11px,#0000ba 13px,#0000d3 15px,#0000f9 17px,#0010ff 19px,#0000f7 21px,#0000de 23px,#0000e7 24px,#0001ff 25px,#0df 32px,#00f9ff 33px,#38ffc7 35px,#81ff7e 37px,#b5ff4a 39px,#fff800 41px,#ffd600 42px,#ffb200 45px,#ff8500 47px,#ff8400 49px,#ff6d00 51px,#ff6d00 55px,#ff5e00 57px,#ff7d00 59px,#ff6400 63px,#ff5800 67px,#ff7100 69px,#ff5700 71px,#ff5c00 75px,#ff4000 77px,#ff4000 79px,#ff2000 81px,#ff2f00 85px,#ff0d00 87px,#ff1800 89px,#ff0900 91px,#ff1300 95px,#fc0000 97px,#ff2000 99px,#fa0000 107px,#ff0400 108px,#ff1700 109px,#fe0000 111px,#f50000 114px,#f90000 116px,#e00000 117px,#d70000 118px,#de0000 119px,#c10000 121px,#d10000 126px,#b70000 128px,#c30000 130px,#b20000 138px,#bc0000 141px,#d00000 148px,#ff0200 160px,#ff1000 173px,#f60000 185px,#c70000 215px,#850000 249px,#870000 295px,#b40000 311px,#fd0000 328px,#f00000 336px,#a30000 350px,#a50000 359px,#d00000 366px,#fe0000 370px,#ff6800 376px,#fff600 383px,#c6ff39 387px,#58ffa7 396px,#2affd5 403px,#07fff8 439px)"></i>
<i style="height:2px;background:linear-gradient(90deg,#0000b5 0px,#0000f7 1px,#00daff 3px,#00acff 4px,#002fff 5px,#0000c0 6px,#0051ff 7px,#25ffda 8px,#caff35 9px,#009bff 10px,#00d 11px,#0000ba 13px,#0000d3 15px,#0000f9 17px,#0010ff 19px,#0000f7 21px,#0000de 23px,#0000e7 24px,#0001ff 25px,#0df 32px,#00f9ff 33px,#38ffc7 35px,#81ff7e 37px,#b5ff4a 39px,#fff600 41px,#ffd100 42px,#ffac00 45px,#ff7f00 47px,#ff7e00 49px,#ff6700 51px,#ff6700 55px,#ff5900 57px,#f70 59px,#ff5e00 63px,#ff5400 67px,#ff6e00 69px,#f50 71px,#ff5c00 75px,#ff4100 77px,#ff4200 79px,#ff2300 81px,#ff3200 85px,#ff1000 87px,#ff1b00 89px,#ff0c00 91px,#ff1500 95px,#f00 97px,#f20 99px,#fe0000 107px,#ff1c00 109px,#fd0000 112px,#fe0100 116px,#e60000 117px,#d00 118px,#e50000 119px,#c70000 121px,#d50000 126px,#ba0000 128px,#c60000 130px,#b80000 138px,#c30000 141px,#d80000 148px,#ff0300 157px,#ff1b00 170px,#f60000 183px,#c70000 217px,#840000 253px,#870000 297px,#b40000 313px,#f30000 329px,#e60000 337px,#a30000 351px,#ac0000 360px,#d00 367px,#ff0200 370px,#ff7c00 377px,#faff05 384px,#7cff83 393px,#39ffc6 401px,#27ffd8 413px,#1fe 436px)"></i>
<i style="height:2px;background:linear-gradient(90deg,#0000b5 0px,#0000f7 1px,#00daff 3px,#00acff 4px,#002fff 5px,#0000c0 6px,#0051ff 7px,#25ffda 8px,#caff35 9px,#009bff 10px,#00d 11px,#0000ba 13px,#0000d3 15px,#0000f9 17px,#0010ff 19px,#0000f7 21px,#0000de 23px,#0000e7 24px,#0001ff 25px,#0df 32px,#00f9ff 33px,#38ffc7 35px,#81ff7e 37px,#b6ff49 39px,#fff400 41px,#ffcd00 42px,#ffb200 44px,#ff7900 47px,#ff7800 49px,#ff6100 51px,#ff6100 55px,#ff5200 57px,#ff7100 59px,#ff5c00 62px,#ff4f00 67px,#ff6b00 69px,#ff5300 71px,#ff5d00 75px,#ff4300 77px,#ff4500 79px,#ff2600 81px,#ff3500 85px,#ff1300 87px,#ff1f00 89px,#ff0f00 91px,#ff1900 95px,#ff0400 97px,#ff2600 99px,#ff0d00 104px,#ff1000 106px,#ff0500 107px,#f20 109px,#ff0500 112px,#ff0800 116px,#e40000 118px,#ec0000 119px,#ce0000 121px,#da0000 126px,#be0000 128px,#c90000 130px,#bd0000 138px,#ca0000 141px,#e10000 148px,#ff0600 155px,#ff2400 169px,#f70000 182px,#c50000 221px,#840000 257px,#870000 300px,#b60000 316px,#e90000 331px,#d30000 340px,#a40000 352px,#b50000 361px,#eb0000 368px,#ff0500 370px,#ff7a00 377px,#fffe00 384px,#76ff89 394px,#41ffbe 401px,#15ffea 434px)"></i>
<i style="height:2px;background:linear-gradient(90deg,#0000b5 0px,#0000f7 1px,#00daff 3px,#00acff 4px,#002fff 5px,#0000c0 6px,#0051ff 7px,#25ffda 8px,#caff35 9px,#009bff 10px,#00d 11px,#0000ba 13px,#0000d3 15px,#0000f9 17px,#0010ff 19px,#0000f7 21px,#0000de 23px,#0000e7 24px,#0001ff 25px,#0df 32px,#00f9ff 33px,#38ffc7 35px,#82ff7d 37px,#b7ff48 39px,#fff200 41px,#ffc800 42px,#ffb300 43px,#ffa000 45px,#ff7300 47px,#ff7200 49px,#ff5a00 51px,#ff5a00 55px,#ff4c00 57px,#ff6a00 59px,#f50 62px,#ff4b00 67px,#ff6700 69px,#ff5100 71px,#ff5e00 75px,#ff4500 77px,#ff4800 79px,#ff2a00 81px,#ff3900 85px,#ff1800 87px,#ff2300 89px,#ff1400 91px,#ff1d00 95px,#ff0800 97px,#ff2a00 99px,#ff1200 104px,#ff1500 106px,#ff0a00 107px,#ff2800 109px,#ff0b00 112px,#ff0f00 116px,#f50000 117px,#ec0000 118px,#f30000 119px,#d50000 121px,#df0000 126px,#c20000 128px,#c00 130px,#c30000 138px,#d10000 141px,#ff0600 153px,#ff2e00 167px,#ff1a00 175px,#fb0000 181px,#ba0000 232px,#860000 259px,#860000 302px,#b70000 319px,#d00 333px,#be0000 344px,#a70000 354px,#c50000 363px,#ff0800 370px,#ff8b00 378px,#fff700 384px,#93ff6c 392px,#54ffab 399px,#3effc1 408px,#1dffe2 431px,#1bffe4 432px)"></i>
<i style="height:2px;background:linear-gradient(90deg,#0000b5 0px,#0000f7 1px,#00daff 3px,#00acff 4px,#002fff 5px,#0000c0 6px,#0051ff 7px,#25ffda 8px,#caff35 9px,#009bff 10px,#00d 11px,#0000ba 13px,#0000d3 15px,#0000f9 17px,#0010ff 19px,#0000f7 21px,#0000de 23px,#0000e7 24px,#0001ff 25px,#0df 32px,#00f9ff 33px,#38ffc7 35px,#82ff7d 37px,#b7ff48 39px,#e2ff1d 40px,#ffef00 41px,#ffc300 42px,#ffad00 43px,#ff9a00 45px,#ff6d00 47px,#ff6b00 49px,#ff5400 51px,#ff5300 55px,#f40 57px,#ff6300 59px,#ff4e00 62px,#ff4600 67px,#ff6400 69px,#ff4f00 71px,#ff5e00 75px,#ff4700 77px,#ff4b00 79px,#ff2e00 81px,#ff3d00 85px,#ff1c00 87px,#ff2700 89px,#ff1800 91px,#ff2100 95px,#ff0c00 97px,#ff2e00 99px,#ff1600 104px,#ff1a00 106px,#ff0e00 107px,#ff2d00 109px,#f10 112px,#ff1600 116px,#fc0000 117px,#f30000 118px,#fa0000 119px,#db0000 121px,#e40000 126px,#c60000 128px,#cf0000 130px,#c70000 138px,#d70000 141px,#ff0500 151px,#ff3400 164px,#ff2f00 172px,#fa0000 182px,#c00000 233px,#800 261px,#850000 304px,#d00000 334px,#a00 354px,#c90000 363px,#fe0000 369px,#f70 377px,#fefe01 385px,#83ff7c 394px,#54ffab 401px,#32ffcd 423px,#1dffe2 430px)"></i>
<i style="height:2px;background:linear-gradient(90deg,#0000b5 0px,#0000f7 1px,#00daff 3px,#00acff 4px,#002fff 5px,#0000c0 6px,#0051ff 7px,#25ffda 8px,#caff35 9px,#009bff 10px,#00d 11px,#0000ba 13px,#0000d3 15px,#0000f9 17px,#0010ff 19px,#0000f7 21px,#0000de 23px,#0000e7 24px,#0001ff 25px,#0df 32px,#00f9ff 33px,#38ffc7 35px,#83ff7c 37px,#b9ff46 39px,#e3ff1c 40px,#ffec00 41px,#ffbe00 42px,#ffa600 43px,#ff9400 45px,#f60 47px,#ff6500 49px,#ff4d00 51px,#ff4c00 55px,#ff3d00 57px,#ff5b00 59px,#ff4600 62px,#ff4000 67px,#ff5f00 69px,#ff4c00 71px,#ff5f00 75px,#ff4900 77px,#ff4e00 79px,#ff3100 81px,#ff4100 85px,#ff1f00 87px,#ff2a00 89px,#ff1b00 91px,#ff2400 95px,#ff0f00 97px,#ff3100 99px,#ff1a00 104px,#ff1d00 106px,#ff1200 107px,#ff3000 109px,#ff1600 112px,#ff1c00 116px,#ff0400 117px,#f60000 120px,#e20000 121px,#e80000 126px,#ca0000 128px,#d30000 130px,#ca0000 138px,#db0000 141px,#ff0600 150px,#ff3800 162px,#ff3900 171px,#fb0000 183px,#c50000 234px,#8a0000 263px,#830000 304px,#a50000 320px,#c40000 336px,#ac0000 354px,#cd0000 363px,#ff0300 369px,#ff8500 378px,#fff800 385px,#81ff7e 395px,#5bffa4 402px,#42ffbd 422px,#3fc 427px)"></i>
<i style="height:2px;background:linear-gradient(90deg,#0000b5 0px,#0000f7 1px,#00deff 3px,#00afff 4px,#0031ff 5px,#0000c0 6px,#0051ff 7px,#2fd 8px,#c6ff39 9px,#009aff 10px,#00d 11px,#0000ba 13px,#0000d3 15px,#0000f9 17px,#01f 19px,#0000f9 21px,#0000e0 23px,#0004ff 25px,#00e0ff 32px,#00fcff 33px,#62ff9d 36px,#bdff42 39px,#e8ff17 40px,#ffe700 41px,#ffb700 42px,#ff9f00 43px,#ff8d00 45px,#ff6000 47px,#ff5e00 49px,#ff4600 51px,#f40 55px,#ff3400 57px,#ff5200 59px,#ff3d00 62px,#ff3a00 67px,#ff5b00 69px,#ff4900 71px,#ff5e00 75px,#ff4900 77px,#ff4f00 79px,#f30 81px,#ff4300 85px,#ff2100 87px,#ff2d00 89px,#ff1d00 91px,#ff2600 95px,#f10 97px,#f30 99px,#ff1400 107px,#f30 109px,#ff1900 112px,#ff2100 116px,#ff0900 117px,#fe0000 118px,#ff0700 119px,#fb0000 120px,#e70000 121px,#ed0000 126px,#ce0000 128px,#d60000 130px,#c00 134px,#cd0000 138px,#d00 141px,#ff0500 149px,#ff3d00 161px,#ff4000 171px,#fe0000 184px,#c90000 236px,#8e0000 265px,#810000 303px,#900 319px,#ba0000 336px,#ad0000 354px,#d90000 364px,#ff0700 369px,#ff9300 379px,#fefe01 386px,#8f7 395px,#6f9 402px,#53ffac 419px,#3effc1 425px)"></i>
<i style="height:2px;background:linear-gradient(90deg,#0000b5 0px,#0000f7 1px,#006dff 2px,#00f4ff 3px,#00c8ff 4px,#003bff 5px,#0000c0 6px,#004fff 7px,#13ffec 8px,#acff53 9px,#0093ff 10px,#00d 11px,#0000bd 13px,#0000d4 15px,#0000fd 17px,#0018ff 19px,#0000f2 23px,#0002fb 24px,#0039ff 26px,#00f2ff 32px,#0dfff2 33px,#9f6 37px,#ceff31 39px,#f8ff07 40px,#ffad00 42px,#ff9700 43px,#ff8500 45px,#ff5800 47px,#ff5700 49px,#ff3f00 51px,#ff3c00 55px,#ff2c00 57px,#ff4a00 59px,#ff3500 62px,#f30 67px,#f50 69px,#f40 71px,#ff5c00 75px,#ff4900 77px,#ff4f00 79px,#f30 81px,#f40 85px,#f20 87px,#ff2d00 89px,#ff1e00 91px,#ff2700 95px,#ff1200 97px,#ff3400 99px,#ff1400 107px,#f30 109px,#ff1a00 112px,#ff2400 116px,#ff0c00 117px,#ff0400 118px,#ff0c00 119px,#ff0100 120px,#ec0000 121px,#f10000 126px,#d20000 128px,#d90000 130px,#cf0000 134px,#d00000 138px,#e10000 141px,#ff0200 148px,#ff4000 160px,#ff4900 170px,#ff0400 185px,#d20000 235px,#910000 267px,#800000 300px,#910000 319px,#b10000 336px,#b10000 355px,#e40000 365px,#f00 368px,#ff8000 378px,#fff800 386px,#90ff6f 395px,#72ff8d 402px,#61ff9e 418px,#50ffaf 423px)"></i>
<i style="height:2px;background:linear-gradient(90deg,#0000b5 0px,#0000f7 1px,#006eff 2px,#10ffef 3px,#00e5ff 4px,#0046ff 5px,#0000c0 6px,#004cff 7px,#03fefc 8px,#8dff72 9px,#008cff 10px,#00d 11px,#0000bf 13px,#0000d6 15px,#0001ff 17px,#001fff 19px,#0008ff 23px,#002fff 25px,#0ef 31px,#08fff7 32px,#64ff9b 35px,#aeff51 37px,#e2ff1d 39px,#fff300 40px,#ffa100 42px,#ff8e00 43px,#ff7d00 45px,#ff5100 47px,#ff5000 49px,#ff3800 51px,#ff3400 55px,#ff2400 57px,#ff4100 59px,#ff2d00 62px,#ff2c00 67px,#ff4f00 69px,#ff3f00 71px,#ff5900 75px,#ff4600 77px,#ff4d00 79px,#ff3100 81px,#ff4200 85px,#ff2100 87px,#ff2c00 89px,#ff1c00 91px,#ff2500 95px,#ff1000 97px,#ff3200 99px,#ff1200 107px,#ff3100 109px,#ff1a00 112px,#ff2500 116px,#ff0e00 117px,#ff0600 118px,#ff0f00 119px,#ff0400 120px,#e00 122px,#fb0000 125px,#f60000 126px,#d60000 128px,#de0000 130px,#d40000 134px,#d70000 138px,#e90000 141px,#ff0a00 148px,#ff4800 160px,#ff5300 170px,#ff0d00 185px,#ed0000 220px,#bc0000 249px,#910000 272px,#800000 299px,#8c0000 320px,#ad0000 337px,#b50000 355px,#e90000 365px,#ff0d00 369px,#ffa900 381px,#feff01 387px,#9aff65 395px,#7fff80 402px,#70ff8f 417px,#65ff9a 420px)"></i>
<i style="height:2px;background:linear-gradient(90deg,#0000b5 0px,#0000f7 1px,#006fff 2px,#2affd5 3px,#05fdfa 4px,#0052ff 5px,#0000c0 6px,#004aff 7px,#00f0ff 8px,#6fff90 9px,#0084ff 10px,#00d 11px,#0000c2 13px,#0000d7 15px,#0005ff 17px,#0026ff 19px,#001dff 23px,#0046ff 25px,#05fffa 31px,#53ffac 34px,#c4ff3b 37px,#f7ff08 39px,#ff9500 42px,#ff7400 45px,#ff4900 47px,#ff4900 49px,#ff3100 51px,#ff2c00 55px,#ff1c00 57px,#ff3900 59px,#ff2400 62px,#ff2500 67px,#ff4800 69px,#ff3900 71px,#ff5300 75px,#ff4100 77px,#ff4800 79px,#ff2d00 81px,#ff3e00 85px,#ff1c00 87px,#ff2800 89px,#ff1800 91px,#ff2100 95px,#ff0b00 97px,#ff2d00 99px,#ff0d00 107px,#ff2d00 109px,#ff1600 112px,#ff2500 116px,#ff0e00 117px,#ff0700 118px,#ff1000 119px,#f10000 122px,#fb0000 126px,#dc0000 128px,#e50000 130px,#de0000 134px,#e40000 138px,#f80000 141px,#ff1300 147px,#ff5600 160px,#ff6300 170px,#ff1800 185px,#f60000 219px,#c30000 250px,#8d0000 279px,#800000 306px,#900000 324px,#ae0000 341px,#bf0000 356px,#ff0700 368px,#f80 379px,#fff900 387px,#a5ff5a 395px,#8dff72 402px,#7eff81 417px,#7bff84 418px)"></i>
<i style="height:2px;background:linear-gradient(90deg,#0000b5 0px,#0000f7 1px,#006fff 2px,#4fb 3px,#20ffdf 4px,#005eff 5px,#0000c0 6px,#0048ff 7px,#00dfff 8px,#50ffaf 9px,#007cff 10px,#00d 11px,#0000c4 13px,#0000d9 15px,#0009ff 17px,#002eff 19px,#0032ff 23px,#005dff 25px,#01fbfe 30px,#67ff98 34px,#daff25 37px,#fff300 39px,#f80 42px,#ff6b00 45px,#ff4200 47px,#ff4200 49px,#ff2a00 51px,#ff2500 55px,#ff1400 57px,#ff3100 59px,#ff1c00 62px,#ff1d00 67px,#ff4100 69px,#ff3100 71px,#ff4d00 75px,#ff3a00 77px,#ff4200 79px,#ff2700 81px,#ff3800 85px,#ff1600 87px,#f20 89px,#ff1200 91px,#ff1b00 95px,#ff0500 97px,#ff2700 99px,#ff0700 107px,#ff2700 109px,#ff1200 112px,#ff2300 116px,#ff0e00 117px,#ff0700 118px,#f10 119px,#f50000 122px,#ff0200 126px,#e40000 128px,#e00 130px,#eb0000 134px,#ff0500 139px,#ff6e00 161px,#f70 170px,#ff2700 185px,#f70000 227px,#be0000 255px,#800000 292px,#800 323px,#b60000 344px,#d50000 359px,#ff0300 367px,#ff6b00 377px,#fdff02 388px,#b2ff4d 395px,#9cff63 403px,#8fff70 416px)"></i>
<i style="height:2px;background:linear-gradient(90deg,#0000b5 0px,#0000f7 1px,#0070ff 2px,#5fffa0 3px,#3dffc2 4px,#0069ff 5px,#0000c0 6px,#0045ff 7px,#00cdff 8px,#31ffce 9px,#0074ff 10px,#00d 11px,#0000c7 13px,#0000da 15px,#000dff 17px,#0035ff 19px,#0047ff 23px,#0074ff 25px,#00f4ff 29px,#31ffce 31px,#5affa5 33px,#efff10 37px,#fff800 38px,#ff7c00 42px,#ff6300 45px,#ff3a00 47px,#ff3b00 49px,#ff2300 51px,#ff1e00 55px,#ff0d00 57px,#ff2900 59px,#ff1500 62px,#ff1600 67px,#ff3a00 69px,#ff2a00 71px,#ff4600 75px,#ff3400 77px,#ff3c00 79px,#ff2100 81px,#ff3200 85px,#f10 87px,#ff1c00 89px,#ff0d00 91px,#ff1500 95px,#fe0000 97px,#ff2100 99px,#ff0100 107px,#f20 109px,#ff0e00 112px,#f20 116px,#ff0e00 117px,#ff0800 118px,#ff1300 119px,#f90000 122px,#ff0a00 126px,#ed0000 128px,#f90000 130px,#ff0d00 138px,#ff2600 141px,#ff8400 160px,#ff8f00 170px,#ff3c00 185px,#f70000 235px,#820000 290px,#870000 325px,#cb0000 350px,#ff0300 366px,#ff5100 375px,#f9ff06 389px,#bf4 396px,#acff53 408px,#a9ff56 413px)"></i>
<i style="height:2px;background:linear-gradient(90deg,#0000b5 0px,#0000f7 1px,#0070ff 2px,#79ff86 3px,#5affa5 4px,#0075ff 5px,#0000c0 6px,#0043ff 7px,#00bcff 8px,#13ffec 9px,#006dff 10px,#00d 11px,#00c 12px,#0000cd 14px,#0000f5 16px,#003cff 19px,#005cff 23px,#008bff 25px,#00edff 28px,#0cfff3 29px,#5dffa2 32px,#6dff92 33px,#e5ff1a 36px,#fff900 37px,#ffc900 39px,#ff8400 41px,#f60 43px,#ff5a00 45px,#ff3200 47px,#ff3400 49px,#ff1c00 51px,#ff1700 55px,#ff0600 57px,#f20 59px,#ff0e00 62px,#ff0f00 67px,#f30 69px,#ff2400 71px,#ff4000 75px,#ff2e00 77px,#ff3600 79px,#ff1b00 81px,#ff2d00 85px,#ff0c00 87px,#ff1700 89px,#ff0700 91px,#ff1000 95px,#f90000 97px,#ff0600 98px,#ff1c00 99px,#ff0200 104px,#ff0700 108px,#ff1c00 109px,#ff0a00 112px,#f20 116px,#ff0e00 117px,#ff0a00 118px,#ff1600 119px,#fd0000 121px,#ff1200 126px,#fd0100 127px,#ff0d00 134px,#f40 142px,#ff9d00 159px,#fa0 169px,#ff5400 185px,#f90000 241px,#820000 292px,#870000 327px,#e50000 355px,#ff0600 365px,#ff4600 374px,#fffd00 389px,#c7ff38 397px,#beff41 411px)"></i>
<i style="height:2px;background:linear-gradient(90deg,#0000b5 0px,#0000f7 1px,#0071ff 2px,#93ff6c 3px,#78ff87 4px,#0081ff 5px,#0000bf 6px,#0041ff 7px,#00abff 8px,#00f3ff 9px,#0065ff 10px,#00d 11px,#00c 12px,#0000cf 14px,#0000f8 16px,#0051ff 20px,#0070ff 23px,#00a2ff 25px,#05fffa 28px,#72ff8d 32px,#80ff7f 33px,#a2ff5d 34px,#fafe05 36px,#ffb400 39px,#ff7200 41px,#ff5c00 43px,#ff5200 45px,#ff2b00 47px,#ff2e00 49px,#ff1600 51px,#f10 55px,#fe0000 57px,#ff1c00 59px,#ff0700 62px,#ff0900 67px,#ff2d00 69px,#ff1e00 71px,#ff3b00 75px,#ff2900 77px,#ff3100 79px,#ff1700 81px,#ff2800 85px,#ff0700 87px,#ff1200 89px,#ff0300 91px,#ff0b00 95px,#f40000 97px,#ff0100 98px,#ff1700 99px,#fc0000 104px,#ff0100 106px,#f60000 107px,#ff0200 108px,#ff1800 109px,#ff0700 112px,#f20 116px,#ff1000 117px,#ff0c00 118px,#ff1900 119px,#ff0300 121px,#ff1b00 126px,#ff0300 128px,#ff1200 130px,#ff1d00 134px,#ff5c00 142px,#ffb500 158px,#ffc300 169px,#ff6c00 186px,#ff0900 241px,#cb0000 263px,#810000 295px,#890000 330px,#f80000 356px,#ff1e00 368px,#ff5b00 376px,#fff500 389px,#dfff20 395px,#d0ff2f 407px,#d0ff2f 409px)"></i>
<i style="height:2px;background:linear-gradient(90deg,#0000b5 0px,#0000f7 1px,#0071ff 2px,#aeff51 3px,#95ff6a 4px,#008cff 5px,#0000bf 6px,#003eff 7px,#09f 8px,#00d4ff 9px,#005dff 10px,#00d 11px,#00c 12px,#0000d1 14px,#0000de 15px,#0000fb 16px,#005cff 20px,#009bff 24px,#01fafe 27px,#87ff78 32px,#93ff6c 33px,#b6ff49 34px,#e9ff16 35px,#ffec00 36px,#ff9f00 39px,#ff6100 41px,#ff4a00 45px,#ff2500 47px,#ff2800 49px,#f10 51px,#ff0c00 55px,#fa0000 57px,#ff1700 59px,#ff0200 62px,#ff0400 67px,#ff2800 69px,#ff1a00 71px,#ff3700 75px,#ff2500 77px,#ff2d00 79px,#ff1300 81px,#ff2500 85px,#ff0300 87px,#ff0f00 89px,#ff0300 92px,#fd0000 96px,#f00000 97px,#fc0000 98px,#ff1300 99px,#f80000 104px,#fc0000 106px,#f20000 107px,#fd0000 108px,#ff1500 109px,#ff0500 112px,#ff2300 116px,#f10 117px,#ff0e00 118px,#ff1c00 119px,#ff0800 121px,#ff2400 126px,#ff0e00 128px,#ff1f00 130px,#ff2e00 134px,#ff4c00 138px,#ff6e00 141px,#ffca00 157px,#ffda00 169px,#ff8700 186px,#ff1f00 239px,#f60000 252px,#820000 295px,#860000 331px,#ba0000 342px,#ff0300 355px,#ff3b00 372px,#f80 380px,#ffec00 389px,#f7ff08 393px,#e2ff1d 403px,#e2ff1d 407px)"></i>
<i style="height:2px;background:linear-gradient(90deg,#0000b5 0px,#0000f7 1px,#0072ff 2px,#c8ff37 3px,#b2ff4d 4px,#0098ff 5px,#0000bf 6px,#003cff 7px,#08f 8px,#00b6ff 9px,#05f 10px,#00d 11px,#00c 12px,#0000e0 15px,#0000fd 16px,#06f 20px,#00b2ff 24px,#00f1ff 26px,#3fc 28px,#89ff76 31px,#a6ff59 33px,#c9ff36 34px,#fcfc03 35px,#ffb700 37px,#ff8b00 39px,#ff5000 41px,#ff4300 45px,#ff2000 47px,#ff2400 49px,#ff0e00 51px,#ff0900 55px,#f60000 57px,#ff1400 59px,#fe0000 62px,#ff0100 67px,#ff2500 69px,#ff1700 71px,#ff3400 75px,#f20 77px,#ff2a00 79px,#ff1000 81px,#f20 85px,#ff0100 87px,#ff0c00 89px,#f00 92px,#fa0000 96px,#e00 97px,#fa0000 98px,#ff1000 99px,#f50000 104px,#f90000 106px,#ef0000 107px,#fb0000 108px,#ff1300 109px,#ff0400 112px,#ff2400 116px,#ff1300 117px,#f10 118px,#ff1f00 119px,#ff0d00 121px,#ff2d00 126px,#ff1800 128px,#ff2b00 130px,#ff3e00 134px,#ff5f00 138px,#ff8300 141px,#ffdf00 157px,#ffef00 169px,#ffa000 187px,#ff3600 237px,#f90000 256px,#a00 283px,#820000 297px,#860000 333px,#b10000 342px,#ff0200 353px,#ff2e00 365px,#ff4c00 374px,#ff9d00 382px,#ffea00 390px,#f9ff06 397px,#f5ff0a 404px)"></i>
<i style="height:2px;background:linear-gradient(90deg,#0000b5 0px,#0000f7 1px,#0072ff 2px,#e2ff1d 3px,#cfff30 4px,#00a4ff 5px,#0000bf 6px,#003aff 7px,#07f 8px,#0097ff 9px,#004dff 10px,#00d 11px,#0000cd 12px,#0000e1 15px,#0001ff 16px,#0071ff 20px,#00c8ff 24px,#09fff6 26px,#9fff60 31px,#b9ff46 33px,#df2 34px,#ffe900 35px,#ffa100 37px,#ff4100 41px,#ff3e00 45px,#ff1c00 47px,#ff2100 49px,#ff0b00 51px,#ff0700 55px,#f40000 57px,#ff1200 59px,#fc0000 62px,#fe0000 67px,#ff2300 69px,#ff1500 71px,#ff3200 75px,#ff2000 77px,#ff2900 79px,#ff0f00 81px,#ff2100 85px,#f00 87px,#ff0b00 89px,#ff0100 94px,#ec0000 97px,#f80000 98px,#ff0f00 99px,#f80000 103px,#f80000 106px,#e00 107px,#fa0000 108px,#f10 109px,#ff0400 112px,#ff2600 116px,#ff1500 117px,#ff1400 118px,#ff2300 119px,#ff1200 121px,#ff3600 126px,#ff2300 128px,#ff3800 130px,#ff4d00 134px,#ff7100 138px,#ff9600 141px,#ffef00 156px,#fbfe04 169px,#ffe300 177px,#ffb300 190px,#ff4b00 236px,#f80000 261px,#b30000 283px,#840000 297px,#870000 335px,#b00000 343px,#ff0600 353px,#ff3700 363px,#f50 375px,#ffd800 389px,#fff400 399px,#fff500 402px)"></i>
<i style="height:2px;background:linear-gradient(90deg,#0000b5 0px,#0000f7 1px,#0073ff 2px,#fafd05 3px,#ecff13 4px,#00afff 5px,#0000bf 6px,#0037ff 7px,#06f 8px,#0078ff 9px,#0046ff 10px,#00d 11px,#0000cd 12px,#0000e2 15px,#0003ff 16px,#0094ff 21px,#02fcfd 25px,#b5ff4a 31px,#cdff32 33px,#f0ff0f 34px,#ffd300 35px,#ff8c00 37px,#ff3200 41px,#ff3f00 44px,#ff2800 46px,#ff1900 47px,#ff2000 49px,#ff0a00 51px,#ff0600 55px,#f30000 57px,#f10 59px,#fb0000 62px,#fd0000 67px,#ff2300 69px,#ff1400 71px,#ff3100 75px,#ff2000 77px,#ff2800 79px,#ff0e00 81px,#ff2000 85px,#fe0000 87px,#ff0a00 89px,#f00 94px,#ec0000 97px,#f70000 98px,#ff0e00 99px,#f70000 103px,#f70000 106px,#ed0000 107px,#f90000 108px,#f10 109px,#ff0400 112px,#ff2800 116px,#ff1700 117px,#ff1600 118px,#ff2600 119px,#ff1600 121px,#ff3f00 126px,#ff2e00 128px,#f40 130px,#ff5c00 134px,#ff8200 138px,#ffa800 141px,#fffb00 155px,#eaff15 169px,#fff400 178px,#fb0 197px,#ff5f00 236px,#fa0000 265px,#bd0000 283px,#850000 298px,#870000 336px,#b30000 344px,#fe0000 352px,#ff3e00 362px,#ff5b00 376px,#ffc900 389px,#ffde00 400px)"></i>
<i style="height:2px;background:linear-gradient(90deg,#0000b5 0px,#0000f7 1px,#0074ff 2px,#ffe700 3px,#fff500 4px,#0bf 5px,#0000bf 6px,#0035ff 7px,#0054ff 8px,#005aff 9px,#003eff 10px,#00d 11px,#0000cd 12px,#0000e4 15px,#0006ff 16px,#00bdff 22px,#00f5ff 24px,#37ffc8 26px,#cbff34 31px,#dfff20 33px,#fffa00 34px,#ffbe00 35px,#ff7900 37px,#ff2500 41px,#ff3b00 44px,#ff2500 46px,#ff1700 47px,#ff1e00 49px,#ff0900 51px,#ff0500 55px,#f30000 57px,#f10 59px,#fb0000 62px,#fd0000 67px,#f20 69px,#ff1400 71px,#ff3100 75px,#ff1f00 77px,#ff2800 79px,#ff0e00 81px,#ff2000 85px,#fe0000 87px,#ff0a00 89px,#f00 94px,#eb0000 97px,#ff0d00 100px,#fc0000 102px,#ed0000 107px,#f90000 108px,#f10 109px,#ff0500 112px,#ff2900 116px,#ff1900 117px,#ff1900 118px,#ff2900 119px,#ff1a00 121px,#ff4700 126px,#ff3700 128px,#ff4f00 130px,#ff6a00 134px,#ff9100 138px,#ffb700 141px,#fdfe02 153px,#dbff24 167px,#f1ff0e 177px,#ffed00 186px,#ff7200 236px,#fc0000 269px,#c60000 283px,#870000 299px,#860000 336px,#b10000 344px,#f00 352px,#ff4100 361px,#ff6300 378px,#ffb900 390px,#ffc500 397px)"></i>
<i style="height:2px;background:linear-gradient(90deg,#0000b5 0px,#0000f7 1px,#0074ff 2px,#ffe100 3px,#fe0 4px,#00beff 5px,#0000bf 6px,#003bff 7px,#05f 8px,#0054ff 9px,#0042ff 10px,#00d 11px,#0000ce 12px,#0000e4 13px,#0000e9 15px,#0005ff 16px,#00dbff 23px,#00f7ff 24px,#c7ff38 31px,#dbff24 33px,#fcfc03 34px,#ffc200 35px,#ff7c00 37px,#ff2600 41px,#ff3a00 44px,#ff2400 46px,#ff1600 47px,#ff1e00 49px,#ff0900 51px,#ff0a00 54px,#f30000 57px,#ff1000 59px,#fb0000 62px,#fd0000 67px,#f20 69px,#ff1400 71px,#ff3100 75px,#ff1f00 77px,#ff2800 79px,#ff0e00 81px,#ff2000 85px,#fe0000 87px,#ff0a00 89px,#f00 94px,#eb0000 97px,#ff0d00 100px,#fc0000 102px,#ed0000 107px,#f90000 108px,#f10 109px,#ff0500 112px,#ff2a00 116px,#ff1a00 117px,#ff1900 118px,#ff2a00 119px,#ff1c00 121px,#ff4c00 126px,#ff3e00 128px,#ff5800 130px,#ff7400 134px,#ff9c00 138px,#ffc300 141px,#fdff02 151px,#d0ff2f 165px,#d7ff28 175px,#fff800 190px,#ff8400 236px,#fd0100 272px,#ca0000 284px,#890000 300px,#810000 333px,#900 341px,#ff0300 352px,#ff4700 361px,#ff6100 379px,#ffa400 391px,#fa0 395px)"></i>
<i style="height:2px;background:linear-gradient(90deg,#0000b5 0px,#0000f7 1px,#0073ff 2px,#ffeb00 3px,#fff700 4px,#0bf 5px,#0000c0 6px,#0049ff 7px,#0065ff 8px,#0064ff 9px,#004fff 10px,#00d 11px,#0000d0 12px,#0000f7 13px,#0000f0 15px,#0002ff 16px,#00e8ff 24px,#05fffa 25px,#adff52 31px,#c5ff3a 33px,#e9ff16 34px,#ffda00 35px,#ff9400 37px,#ff3400 41px,#ff3500 45px,#ff1600 47px,#ff1d00 49px,#ff0900 51px,#ff0a00 54px,#f30000 57px,#ff1000 59px,#fb0000 62px,#fd0000 67px,#f20 69px,#ff1400 71px,#ff3100 75px,#ff1f00 77px,#ff2800 79px,#ff0e00 81px,#ff2000 85px,#fe0000 87px,#ff0a00 89px,#f00 94px,#eb0000 97px,#ff0d00 100px,#fc0000 102px,#ed0000 107px,#f90000 108px,#f10 109px,#ff0400 112px,#ff2900 116px,#ff1900 117px,#ff1800 118px,#ff2900 119px,#ff1b00 121px,#ff4e00 126px,#ff4100 128px,#ff5c00 130px,#ff7a00 134px,#ffa300 138px,#ffcb00 141px,#faff05 150px,#c9ff36 164px,#c9ff36 175px,#fff700 197px,#ff9400 236px,#fe0100 275px,#970000 297px,#800000 312px,#800 338px,#b70000 345px,#ff0600 352px,#ff4700 360px,#ff5700 369px,#ff5d00 380px,#ff8e00 393px)"></i>
<i style="height:2px;background:linear-gradient(90deg,#0000b5 0px,#0000f7 1px,#0073ff 2px,#fff500 3px,#fdff02 4px,#00b8ff 5px,#0000c1 6px,#0056ff 7px,#0075ff 8px,#0074ff 9px,#005cff 10px,#00d 11px,#0000d2 12px,#000bff 13px,#000eff 14px,#0000fe 16px,#00f2ff 25px,#26ffd9 27px,#93ff6c 31px,#aeff51 33px,#fff400 35px,#ffad00 37px,#ff8000 39px,#f40 41px,#ff3700 45px,#ff1700 47px,#ff1e00 49px,#ff0900 51px,#ff0500 55px,#f30000 57px,#ff1000 59px,#fb0000 62px,#fd0000 67px,#f20 69px,#ff1400 71px,#ff3100 75px,#ff1f00 77px,#ff2800 79px,#ff0e00 81px,#ff2000 85px,#fe0000 87px,#ff0a00 89px,#f00 94px,#eb0000 97px,#ff0d00 100px,#fc0000 102px,#ed0000 107px,#f80000 108px,#ff1000 109px,#ff0300 112px,#ff2600 116px,#ff1500 117px,#ff1500 118px,#ff2500 119px,#ff1700 121px,#ff4a00 126px,#ff3e00 128px,#ff5900 130px,#ff7900 134px,#ffa400 138px,#fc0 141px,#f8ff07 150px,#c2ff3d 165px,#c2ff3d 176px,#fff800 201px,#ff9e00 236px,#ff0400 276px,#d40000 285px,#980000 299px,#800000 314px,#800 339px,#bc0000 346px,#ff0600 352px,#ff4600 359px,#ff5b00 367px,#ff5800 381px,#ff7100 390px)"></i>
<i style="height:2px;background:linear-gradient(90deg,#0000b5 0px,#0000f7 1px,#0073ff 2px,#fefe01 3px,#f3ff0c 4px,#00b4ff 5px,#0000c2 6px,#0064ff 7px,#0084ff 8px,#0083ff 9px,#0069ff 10px,#00d 11px,#0000d4 12px,#001fff 13px,#02f 14px,#0001fe 15px,#0000fb 16px,#00f7ff 26px,#3fffc0 29px,#8dff72 32px,#96ff69 33px,#baff45 34px,#f1ff0e 35px,#ffe500 36px,#ff9800 39px,#f50 41px,#ff3f00 43px,#ff3a00 45px,#ff1900 47px,#ff1f00 49px,#ff0900 51px,#ff0500 55px,#f30000 57px,#ff1000 59px,#fb0000 62px,#fd0000 67px,#f20 69px,#ff1400 71px,#ff3100 75px,#ff1f00 77px,#ff2800 79px,#ff0e00 81px,#ff2000 85px,#fe0000 87px,#ff0a00 89px,#f00 94px,#eb0000 97px,#ff0d00 100px,#fc0000 102px,#f70000 106px,#ec0000 107px,#f80000 108px,#ff0f00 109px,#ff0100 112px,#ff2100 116px,#ff1000 117px,#ff0f00 118px,#ff1e00 119px,#ff0f00 121px,#ff4200 126px,#ff3500 128px,#ff5100 130px,#ff7100 134px,#ff9d00 138px,#ffc600 141px,#fcff03 150px,#c3ff3c 165px,#c1ff3e 176px,#fff700 202px,#ff9c00 237px,#f00 278px,#a60000 296px,#800000 314px,#800 340px,#b20000 346px,#fd0100 352px,#ff4c00 360px,#ff5c00 368px,#f50 383px,#ff5d00 388px)"></i>
<i style="height:2px;background:linear-gradient(90deg,#0000b5 0px,#0000f7 1px,#0073ff 2px,#f5ff0a 3px,#e9ff16 4px,#00b1ff 5px,#0000c2 6px,#0072ff 7px,#0094ff 8px,#0093ff 9px,#0076ff 10px,#00d 11px,#0000d6 12px,#0032ff 13px,#0035ff 14px,#0008ff 15px,#0000f8 16px,#0024ff 18px,#0bf 24px,#00f6ff 27px,#24ffdb 29px,#74ff8b 32px,#7fff80 33px,#a2ff5d 34px,#d7ff28 35px,#fcfc03 36px,#ffb000 39px,#ff6800 41px,#ff4900 43px,#ff4100 45px,#ff1d00 47px,#ff2100 49px,#ff0a00 51px,#ff0600 55px,#f30000 57px,#f10 59px,#fb0000 62px,#fd0000 67px,#f20 69px,#ff1400 71px,#ff3100 75px,#ff1f00 77px,#ff2800 79px,#ff0e00 81px,#ff2000 85px,#fe0000 87px,#ff0a00 89px,#f00 94px,#eb0000 97px,#ff0d00 100px,#fc0000 102px,#f60000 106px,#ec0000 107px,#f70000 108px,#ff0e00 109px,#fd0000 112px,#ff1b00 116px,#ff0a00 117px,#ff0800 118px,#ff1600 119px,#ff0600 121px,#ff3500 126px,#ff2800 128px,#ff4300 130px,#ff6300 134px,#ff8f00 138px,#ffb800 141px,#fcff03 152px,#c6ff39 167px,#cdff32 178px,#fff700 199px,#ff9700 236px,#f00 278px,#a00 296px,#810000 317px,#870000 341px,#b00000 347px,#fc0100 353px,#ff4b00 361px,#ff5a00 369px,#ff5100 386px)"></i>
<i style="height:2px;background:linear-gradient(90deg,#0000b5 0px,#0000f7 1px,#0073ff 2px,#ebff14 3px,#dfff20 4px,#00adff 5px,#0000c3 6px,#007fff 7px,#00a4ff 8px,#00a3ff 9px,#0083ff 10px,#00d 11px,#0000d8 12px,#0045ff 13px,#0049ff 14px,#0010ff 15px,#0000f5 16px,#001bff 18px,#00acff 24px,#00f0ff 28px,#09fff6 29px,#5bffa4 32px,#68ff97 33px,#8bff74 34px,#e5ff1a 36px,#fef901 37px,#ffc800 39px,#ff6100 42px,#ff4a00 45px,#f20 47px,#ff2400 49px,#ff0c00 51px,#ff0600 55px,#f30000 57px,#f10 59px,#fb0000 62px,#fd0000 67px,#f20 69px,#ff1400 71px,#ff3100 75px,#ff1f00 77px,#ff2800 79px,#ff0e00 81px,#ff2000 85px,#fe0000 87px,#ff0a00 89px,#f00 94px,#eb0000 97px,#ff0d00 100px,#fc0000 102px,#f60000 106px,#eb0000 107px,#ff0b00 110px,#fa0000 112px,#ff1500 116px,#ff0300 117px,#fe0100 118px,#ff0d00 119px,#fe0200 122px,#ff2600 126px,#ff1800 128px,#ff3100 130px,#ff5000 134px,#ff7c00 138px,#ffa500 141px,#fefb01 154px,#d1ff2e 170px,#fff600 193px,#ff8700 236px,#ff0300 275px,#d90000 286px,#a00 297px,#820000 319px,#860000 342px,#ac0000 348px,#fe0400 355px,#ff4300 362px,#ff5300 370px,#ff4b00 384px)"></i>
<i style="height:2px;background:linear-gradient(90deg,#0000b5 0px,#0000f7 1px,#0072ff 2px,#e1ff1e 3px,#d5ff2a 4px,#0af 5px,#0000c4 6px,#008dff 7px,#00b4ff 8px,#00b2ff 9px,#0090ff 10px,#00d 11px,#0000db 12px,#0059ff 13px,#005dff 14px,#0018ff 15px,#0000f2 16px,#0001fe 17px,#009dff 24px,#00d6ff 28px,#0dfff2 30px,#42ffbd 32px,#51ffae 33px,#73ff8c 34px,#caff35 36px,#fdfb02 38px,#ffe100 39px,#ff7200 42px,#ff5400 45px,#ff2900 47px,#ff2900 49px,#ff1000 51px,#ff0800 55px,#f40000 57px,#f10 59px,#fb0000 62px,#fd0000 67px,#f20 69px,#ff1400 71px,#ff3100 75px,#ff1f00 77px,#ff2800 79px,#ff0d00 81px,#ff2000 85px,#fd0000 87px,#ff0a00 89px,#fe0000 94px,#f80000 96px,#eb0000 97px,#ff0c00 100px,#fb0000 102px,#f50000 106px,#eb0000 107px,#ff0900 110px,#fa0000 113px,#ff0f00 116px,#fb0000 117px,#fd0100 120px,#ef0000 121px,#ff0700 124px,#ff1500 126px,#ff0500 128px,#ff1c00 130px,#ff3800 134px,#ff6300 138px,#ff8c00 141px,#ffef00 156px,#edff12 166px,#ef1 175px,#ffea00 188px,#f70 234px,#ff0b00 268px,#e70000 282px,#ac0000 297px,#9c0000 309px,#850000 321px,#850000 343px,#a60000 349px,#fd0400 357px,#ff3f00 365px,#ff4600 377px,#f40 381px)"></i>
<i style="height:2px;background:linear-gradient(90deg,#0000b5 0px,#0000f7 1px,#0072ff 2px,#d7ff28 3px,#cbff34 4px,#00a6ff 5px,#0000c5 6px,#009aff 7px,#00c4ff 8px,#00c2ff 9px,#009dff 10px,#00d 11px,#00d 12px,#006cff 13px,#0071ff 14px,#001fff 15px,#0000ef 16px,#000aff 18px,#0080ff 23px,#00bcff 28px,#00f2ff 30px,#29ffd6 32px,#3affc5 33px,#d0ff2f 37px,#fef901 39px,#ff8400 42px,#ff6000 45px,#f30 47px,#ff3000 49px,#ff1500 51px,#ff0b00 55px,#f70000 57px,#ff1300 59px,#fc0000 62px,#fd0000 67px,#f20 69px,#ff1300 71px,#ff2f00 75px,#ff1d00 77px,#ff2500 79px,#ff0b00 81px,#ff1d00 85px,#fb0000 87px,#fe0000 90px,#fa0000 92px,#fe0000 95px,#e80000 97px,#ff0b00 99px,#ef0000 104px,#f20000 106px,#e80000 107px,#ff0800 109px,#f50000 113px,#ff0700 116px,#ed0000 118px,#f90000 119px,#e20000 121px,#fd0400 126px,#ed0000 128px,#fd0500 130px,#ff1c00 134px,#f40 138px,#ff6c00 141px,#ffd500 157px,#fef801 170px,#ff5e00 233px,#fe0400 263px,#cb0000 288px,#ac0000 298px,#ab0000 308px,#8c0000 320px,#820000 343px,#9f0000 350px,#fe0600 360px,#ff3400 368px,#ff3a00 379px)"></i>
<i style="height:2px;background:linear-gradient(90deg,#0000b5 0px,#0000f7 1px,#0072ff 2px,#c9ff36 3px,#bfff40 4px,#00a2ff 5px,#0000c6 6px,#00acff 7px,#00d8ff 8px,#00d6ff 9px,#00aeff 10px,#00d 11px,#0000df 12px,#0085ff 13px,#008bff 14px,#0029ff 15px,#0000eb 16px,#0001fd 18px,#006fff 23px,#009aff 28px,#00efff 31px,#09fff6 32px,#1cffe3 33px,#aeff51 37px,#e4ff1b 39px,#ffef00 40px,#ff9800 42px,#ff8200 43px,#ff6e00 45px,#ff3e00 47px,#ff3900 49px,#ff1c00 51px,#ff1000 55px,#fb0000 57px,#ff1700 59px,#fe0000 62px,#fd0000 67px,#ff2100 69px,#f10 71px,#ff2c00 75px,#ff1900 77px,#ff2100 79px,#ff0600 81px,#ff1800 85px,#f60000 87px,#fa0000 90px,#f50000 92px,#f90000 95px,#e30000 97px,#ff0600 99px,#ea0000 104px,#ed0000 106px,#e20000 107px,#ff0200 109px,#eb0000 112px,#fd0000 116px,#e70000 117px,#e20000 118px,#ed0000 119px,#d40000 121px,#ec0000 126px,#d50000 128px,#e70000 130px,#ff0800 135px,#ff2000 138px,#ff4700 141px,#ffaf00 157px,#ffd300 170px,#ff4100 232px,#f90000 256px,#bf0000 290px,#ae0000 299px,#b70000 308px,#970000 320px,#800000 342px,#970000 351px,#fc0400 363px,#ff2900 373px,#ff2b00 377px)"></i>
<i style="height:2px;background:linear-gradient(90deg,#0000b5 0px,#0000f7 1px,#0072ff 2px,#b9ff46 3px,#afff50 4px,#009cff 5px,#0000c7 6px,#00c2ff 7px,#00f2ff 8px,#00f0ff 9px,#00c3ff 10px,#00d 11px,#0000e2 12px,#00a4ff 13px,#00abff 14px,#0036ff 15px,#0000e6 16px,#0003fe 19px,#005aff 23px,#0070ff 28px,#00a5ff 30px,#00f6ff 33px,#17ffe8 34px,#85ff7a 37px,#bdff42 39px,#eaff15 40px,#ffe300 41px,#ffb100 42px,#ff9600 43px,#ff7f00 45px,#ff4d00 47px,#ff4500 49px,#ff2600 51px,#ff1700 55px,#ff0300 57px,#ff1c00 59px,#ff0400 62px,#fe0000 67px,#ff2100 69px,#ff0f00 71px,#ff2800 75px,#ff1400 77px,#ff1b00 79px,#ff0100 81px,#ff1300 85px,#ff0500 86px,#f00000 87px,#fb0000 89px,#eb0000 91px,#f30000 95px,#dc0000 97px,#fd0000 99px,#da0000 107px,#f90000 109px,#e20000 112px,#f20000 116px,#d00 117px,#d60000 118px,#e10000 119px,#c70000 121px,#d70000 126px,#be0000 128px,#c00 130px,#d40000 133px,#f80200 138px,#ff2c00 143px,#ff8a00 159px,#ffa700 171px,#f60 200px,#ff1b00 233px,#f20000 248px,#cf0000 271px,#b50000 292px,#b10000 300px,#c20000 309px,#a60000 321px,#800000 341px,#910000 352px,#fb0300 367px,#ff1500 374px)"></i>
<i style="height:2px;background:linear-gradient(90deg,#0000b5 0px,#0000f7 1px,#0071ff 2px,#a9ff56 3px,#9fff60 4px,#0097ff 5px,#0000c8 6px,#00d8ff 7px,#0cfff3 8px,#0afff5 9px,#00d9ff 10px,#00d 11px,#0000e6 12px,#00c4ff 13px,#0cf 14px,#0042ff 15px,#0000e1 16px,#0000e3 18px,#0008ff 20px,#0045ff 23px,#0045ff 28px,#007aff 30px,#00f0ff 34px,#16ffe9 35px,#96ff69 39px,#f8fe07 41px,#ffce00 42px,#ffb000 43px,#ff9400 45px,#ff5d00 47px,#ff5300 49px,#ff3200 51px,#f20 55px,#ff0c00 57px,#ff2500 59px,#ff0a00 62px,#ff0100 67px,#ff2100 69px,#ff0f00 71px,#ff2500 75px,#ff1000 77px,#ff1700 79px,#fb0000 81px,#ff0e00 85px,#ff0100 86px,#ec0000 87px,#f70000 89px,#e60000 91px,#ed0000 95px,#d60000 97px,#f70000 99px,#d20000 107px,#f10000 109px,#d90000 112px,#e80000 116px,#d20000 117px,#cb0000 118px,#d50000 119px,#ba0000 121px,#c60000 126px,#a90000 128px,#b50000 130px,#b80000 133px,#d70000 138px,#f60100 141px,#ff5f00 161px,#ff7600 171px,#ff4200 195px,#f70000 233px,#c00000 264px,#af0000 293px,#b60000 301px,#ce0000 310px,#a80000 329px,#820000 341px,#8c0000 353px,#f60000 371px,#f90000 372px)"></i>
<i style="height:2px;background:linear-gradient(90deg,#0000b5 0px,#0000f7 1px,#0071ff 2px,#98ff67 3px,#8fff70 4px,#0091ff 5px,#0000c9 6px,#0ef 7px,#26ffd9 8px,#23ffdc 9px,#0ef 10px,#00d 11px,#0000e9 12px,#00e3ff 13px,#00ecff 14px,#004fff 15px,#0000dc 16px,#0000d5 18px,#0000f6 20px,#0030ff 23px,#001bff 28px,#002eff 29px,#00ecff 35px,#1fe 36px,#71ff8e 39px,#d8ff27 41px,#ffeb00 42px,#ffca00 43px,#fa0 45px,#ff7000 47px,#ff6200 49px,#ff4100 51px,#ff2d00 55px,#ff1600 57px,#ff2e00 59px,#f10 62px,#ff0400 67px,#f20 69px,#ff0e00 71px,#ff2300 75px,#ff0e00 77px,#ff1500 79px,#f90000 81px,#ff0d00 85px,#fe0000 86px,#eb0000 87px,#f50000 89px,#e40000 91px,#e90000 95px,#d20000 97px,#f20000 99px,#cb0000 107px,#e90000 109px,#d10000 112px,#de0000 116px,#c80000 117px,#c10000 118px,#cb0000 119px,#af0000 121px,#b80000 126px,#9a0000 128px,#a40000 130px,#a60000 134px,#d70000 142px,#fe0b00 153px,#f40 170px,#ff1600 195px,#e00 223px,#b40000 254px,#af0000 299px,#dc0000 310px,#c60000 328px,#860000 341px,#800 354px,#da0000 370px)"></i>
<i style="height:2px;background:linear-gradient(90deg,#0000b5 0px,#0000f7 1px,#0071ff 2px,#8f7 3px,#7fff80 4px,#008cff 5px,#0000ca 6px,#05fffa 7px,#3fffc0 8px,#3dffc2 9px,#04fefb 10px,#00d 11px,#0000ec 12px,#05fdfa 13px,#0dfff2 14px,#005bff 15px,#0000d8 16px,#0000c7 18px,#0000f8 21px,#001bff 23px,#0000f1 28px,#0007fc 29px,#00e8ff 36px,#0dfff2 37px,#4dffb2 39px,#f8ff07 42px,#ffe200 43px,#ffbf00 45px,#ff8200 47px,#ff7300 49px,#ff5000 51px,#ff3900 55px,#ff2100 57px,#ff3700 59px,#ff1800 62px,#ff0700 67px,#ff2400 69px,#ff0f00 71px,#f20 75px,#ff0d00 77px,#ff1400 79px,#fa0000 81px,#ff1000 85px,#ff0200 86px,#ed0000 87px,#f80000 89px,#e60000 91px,#ea0000 95px,#d20000 97px,#f10000 99px,#c80000 107px,#e50000 109px,#cb0000 112px,#d70000 116px,#c00000 117px,#ba0000 118px,#c30000 119px,#a70000 121px,#b50000 125px,#af0000 126px,#900000 128px,#980000 130px,#950000 134px,#b70000 142px,#fb0800 164px,#ff0f00 174px,#ed0000 195px,#bf0000 231px,#9f0000 260px,#b10000 299px,#ea0000 311px,#e30000 328px,#8a0000 342px,#850000 355px,#ba0000 368px)"></i>
<i style="height:2px;background:linear-gradient(90deg,#0000b5 0px,#0000f6 1px,#006eff 2px,#71ff8e 3px,#61ff9e 4px,#007eff 5px,#0000d6 6px,#12ffed 7px,#56ffa9 8px,#4fffb0 9px,#05fffa 10px,#00d 11px,#0000ec 12px,#04f8fb 13px,#09fcf6 14px,#0057ff 15px,#0000d6 16px,#0000c7 18px,#0001f9 21px,#0020ff 23px,#0002f3 28px,#000afc 29px,#00e7ff 36px,#0bfff4 37px,#4affb5 39px,#e6ff19 42px,#fff700 43px,#ffd300 45px,#ff9600 47px,#ff8500 49px,#ff5f00 51px,#f40 55px,#ff2a00 57px,#ff3e00 59px,#ff1e00 62px,#ff0a00 67px,#ff2600 69px,#ff1000 71px,#ff2100 75px,#ff0d00 77px,#ff1500 79px,#fc0000 81px,#ff1500 85px,#f50000 88px,#fd0000 89px,#ec0000 91px,#ef0000 95px,#d70000 97px,#f60000 99px,#ca0000 107px,#e60000 109px,#cb0000 112px,#d40000 116px,#bd0000 117px,#b60000 118px,#bf0000 119px,#a30000 121px,#b00000 125px,#ab0000 126px,#8b0000 128px,#930000 130px,#8b0000 134px,#a80000 146px,#e40000 172px,#c60000 205px,#940000 253px,#b40000 299px,#f90000 312px,#fa0200 329px,#8f0000 343px,#830000 355px,#9c0000 365px)"></i>
<i style="height:2px;background:linear-gradient(90deg,#0000b5 0px,#0000f5 1px,#006aff 2px,#54ffab 3px,#3fc 4px,#0069ff 5px,#0000ec 6px,#15ffea 7px,#68ff97 8px,#59ffa6 9px,#00efff 10px,#00d 11px,#0000e8 12px,#00cdff 13px,#00d3ff 14px,#0041ff 15px,#0000d9 16px,#0000d6 18px,#0001fa 20px,#003fff 23px,#002cff 28px,#003eff 29px,#00d5ff 34px,#0ef 35px,#10ffef 36px,#8eff71 40px,#dfff20 42px,#f8ff07 43px,#ffe300 45px,#ffa500 47px,#ff9400 49px,#ff6c00 51px,#ff4d00 55px,#ff3100 57px,#f40 59px,#ff2300 62px,#ff0d00 67px,#ff2800 69px,#f10 71px,#ff2100 75px,#ff0d00 77px,#ff1500 79px,#fd0000 81px,#ff1900 85px,#f90000 87px,#fc0000 90px,#f50000 92px,#f60000 95px,#de0000 97px,#fd0000 99px,#d10000 107px,#ed0000 109px,#d00000 112px,#d60000 116px,#bf0000 117px,#b80000 118px,#c00000 119px,#a40000 121px,#b10000 125px,#ab0000 126px,#8c0000 128px,#920000 130px,#800 134px,#a70000 159px,#bd0000 174px,#940000 234px,#920000 266px,#b90000 299px,#ff0200 311px,#ff1d00 328px,#fb0300 333px,#950000 344px,#810000 354px,#8c0000 363px)"></i>
<i style="height:2px;background:linear-gradient(90deg,#0000b5 0px,#0000f3 1px,#06f 2px,#36ffc9 3px,#09fcf6 4px,#0053ff 5px,#0005fe 6px,#18ffe7 7px,#7bff84 8px,#63ff9c 9px,#00d9ff 10px,#00d 11px,#0000e4 12px,#009fff 13px,#00a2ff 14px,#002cff 15px,#0000db 16px,#0000e5 18px,#0000f7 19px,#005fff 23px,#0063ff 28px,#0095ff 30px,#00ebff 33px,#1bffe4 35px,#eaff15 42px,#fdfe02 43px,#ffe400 45px,#ffac00 47px,#ff9c00 49px,#ff7400 51px,#ff5200 55px,#ff3500 57px,#ff4800 59px,#ff2700 62px,#ff1000 67px,#ff2a00 69px,#ff1200 71px,#ff2000 75px,#ff0c00 77px,#ff1500 79px,#fe0000 81px,#ff1b00 85px,#fc0000 87px,#ff0900 89px,#fc0000 95px,#e40000 97px,#ff0500 99px,#e60000 104px,#e60000 106px,#da0000 107px,#f60000 109px,#d90000 112px,#de0000 116px,#c70000 117px,#bf0000 118px,#c80000 119px,#ab0000 121px,#b70000 125px,#b20000 126px,#910000 128px,#970000 130px,#840000 138px,#8e0000 141px,#9e0000 166px,#940000 223px,#8a0000 254px,#ba0000 297px,#f70000 308px,#ff2e00 323px,#ff2e00 330px,#f90100 336px,#9c0000 345px,#820000 354px,#840000 361px)"></i>
<i style="height:2px;background:linear-gradient(90deg,#0000b5 0px,#0000f2 1px,#0062ff 2px,#19ffe6 3px,#00d8ff 4px,#003dff 5px,#001aff 6px,#1cffe3 7px,#8eff71 8px,#6dff92 9px,#00c4ff 10px,#00d 11px,#0000e0 12px,#0070ff 13px,#0071ff 14px,#0016ff 15px,#0000de 16px,#0000f4 18px,#000bff 19px,#007eff 23px,#09f 28px,#08fbf7 32px,#65ff9a 36px,#b3ff4c 39px,#deff21 41px,#fcfd03 42px,#ffd900 45px,#ffa600 47px,#ff9a00 49px,#ff7300 51px,#ff5300 55px,#ff3700 57px,#ff4a00 59px,#ff2a00 62px,#ff1300 67px,#ff2c00 69px,#ff1300 71px,#ff2000 75px,#ff0b00 77px,#ff1400 79px,#fc0000 81px,#ff1b00 85px,#fc0000 87px,#ff0900 89px,#f00 95px,#e80000 97px,#ff0a00 99px,#ec0000 104px,#ed0000 106px,#e10000 107px,#fe0000 109px,#e20000 112px,#e80000 116px,#d10000 117px,#ca0000 118px,#d30000 119px,#b70000 121px,#c40000 125px,#be0000 126px,#9d0000 128px,#a30000 130px,#8b0000 138px,#920000 141px,#8b0000 229px,#940000 263px,#ca0000 299px,#ff0500 309px,#ff3400 319px,#f40 329px,#ff1e00 335px,#fa0100 338px,#a30000 346px,#850000 354px,#810000 358px)"></i>
<i style="height:2px;background:linear-gradient(90deg,#0000b5 0px,#0000f1 1px,#005eff 2px,#01f9fe 3px,#0af 4px,#0028ff 5px,#0031ff 6px,#1fffe0 7px,#a0ff5f 8px,#7f8 9px,#00afff 10px,#00d 11px,#0000dc 12px,#0042ff 13px,#003fff 14px,#0003fc 15px,#0000e0 16px,#0004ff 18px,#009eff 23px,#00d0ff 28px,#07f9f8 30px,#90ff6f 36px,#c9ff36 38px,#f5ff0a 41px,#ffd800 43px,#ffc700 45px,#ff9700 47px,#ff8f00 49px,#ff6c00 51px,#ff5100 55px,#ff3600 57px,#ff4c00 59px,#ff2e00 62px,#ff1700 67px,#ff2f00 69px,#ff1500 71px,#ff2100 75px,#ff0b00 77px,#ff1300 79px,#fb0000 81px,#ff1a00 85px,#fa0000 87px,#ff0800 89px,#ff0100 95px,#e90000 97px,#ff0c00 99px,#ef0000 104px,#f10000 106px,#e50000 107px,#ff0400 109px,#fe0000 110px,#e90000 112px,#f30000 116px,#d00 117px,#d60000 118px,#e10000 119px,#c60000 121px,#d40000 125px,#ce0000 126px,#ae0000 128px,#b30000 130px,#900 138px,#9f0000 141px,#910000 204px,#950000 254px,#c40000 291px,#e60000 303px,#ff0500 308px,#ff3f00 319px,#ff5000 330px,#ff2700 336px,#f70000 340px,#a20000 348px,#850000 356px)"></i>
<i style="height:2px;background:linear-gradient(90deg,#0000b5 0px,#0000ef 1px,#005aff 2px,#0df 3px,#0012ff 5px,#0047ff 6px,#2fd 7px,#b3ff4c 8px,#81ff7e 9px,#009aff 10px,#0000de 11px,#0000d8 12px,#0013ff 13px,#000eff 14px,#0000ea 15px,#0000e3 16px,#0000f9 17px,#0030ff 19px,#00bdff 23px,#0bfcf4 28px,#baff45 36px,#f3ff0c 38px,#fff100 41px,#ffd200 42px,#ffb300 45px,#ff8700 47px,#ff8200 49px,#ff6200 51px,#ff4d00 55px,#ff3600 57px,#ff4d00 59px,#ff3100 62px,#ff1b00 67px,#f30 69px,#ff1900 71px,#ff2400 75px,#ff0d00 77px,#ff1400 79px,#fc0000 81px,#ff1900 85px,#fa0000 87px,#ff0800 89px,#f70000 96px,#ea0000 97px,#ff0b00 100px,#fa0000 102px,#f30000 106px,#e80000 107px,#ff0800 109px,#ef0000 113px,#fc0000 116px,#e70000 117px,#e20000 118px,#ed0000 119px,#d40000 121px,#e50000 125px,#e00000 126px,#c00000 128px,#c70000 130px,#ad0000 138px,#b30000 141px,#950000 196px,#a50000 258px,#d80000 294px,#ff0500 307px,#ff4700 319px,#ff5800 330px,#ff3600 336px,#fc0100 341px,#a80000 349px,#8e0000 354px)"></i>
<i style="height:2px;background:linear-gradient(90deg,#0000b5 0px,#00e 1px,#0056ff 2px,#00bfff 3px,#0050ff 4px,#0001fa 5px,#005dff 6px,#26ffd9 7px,#c6ff39 8px,#8bff74 9px,#0084ff 10px,#0000de 11px,#0000d4 12px,#0000e4 13px,#0000d4 15px,#0003ff 17px,#006aff 20px,#0df 23px,#07fcf8 25px,#6dff92 30px,#aeff51 33px,#cbff34 35px,#fcf803 37px,#ffda00 39px,#ffe300 40px,#ffda00 41px,#ffbc00 42px,#ffa000 45px,#f70 47px,#ff7500 49px,#ff5900 51px,#ff4b00 55px,#ff3500 57px,#ff4f00 59px,#ff3400 62px,#ff2000 67px,#ff3800 69px,#ff1e00 71px,#ff2800 75px,#f10 77px,#ff1700 79px,#fe0000 81px,#ff1a00 85px,#fb0000 87px,#ff0900 89px,#f80000 96px,#eb0000 97px,#ff0c00 100px,#fb0000 102px,#f50000 106px,#ea0000 107px,#ff0a00 109px,#f30000 113px,#ff0300 116px,#ea0000 118px,#f60000 119px,#df0000 121px,#f50000 125px,#f10000 126px,#d30000 128px,#db0000 130px,#c60000 138px,#cd0000 141px,#a00000 193px,#be0000 265px,#f80000 301px,#ff1800 309px,#ff4e00 320px,#ff5b00 331px,#ff2d00 338px,#fe0200 342px,#a50000 351px)"></i>
<i style="height:2px;background:linear-gradient(90deg,#0000b5 0px,#0000ed 1px,#0053ff 2px,#00adff 3px,#03f 4px,#00e 5px,#006cff 6px,#28ffd7 7px,#d1ff2e 8px,#92ff6d 9px,#07f 10px,#0000de 11px,#0000bc 14px,#0000c6 15px,#0009ff 17px,#0078ff 20px,#00f1ff 23px,#08fff7 24px,#cdff32 33px,#e7ff18 35px,#fefe01 36px,#ffc800 38px,#ffc200 39px,#ffd000 40px,#ffcb00 41px,#ffad00 42px,#ff9400 45px,#ff6d00 47px,#ff6d00 49px,#ff5400 51px,#ff4a00 55px,#ff3700 57px,#ff5200 59px,#ff3400 63px,#ff2500 67px,#ff3d00 69px,#ff2300 71px,#ff2c00 75px,#ff1400 77px,#ff1a00 79px,#ff0100 81px,#ff1b00 85px,#fb0000 87px,#ff0900 89px,#f80000 96px,#eb0000 97px,#ff0d00 100px,#fc0000 102px,#f50000 106px,#ea0000 107px,#ff0700 110px,#f50000 113px,#ff0700 116px,#e00 118px,#fb0000 119px,#e60000 121px,#fd0200 126px,#e40000 128px,#ef0000 130px,#e10000 138px,#e90000 141px,#c00 174px,#b50000 189px,#dc0000 271px,#ff0a00 301px,#ff3900 314px,#ff5a00 326px,#ff5100 334px,#ff0c00 342px,#e90000 345px,#c00000 349px)"></i>
<i style="height:2px;background:linear-gradient(90deg,#0000b5 0px,#0000ed 1px,#0053ff 2px,#00acff 3px,#0032ff 4px,#0000ed 5px,#006cff 6px,#28ffd7 7px,#d2ff2d 8px,#92ff6d 9px,#0076ff 10px,#0000de 11px,#0000ba 14px,#0000c6 15px,#0009ff 17px,#0078ff 20px,#00f2ff 23px,#1fffe0 25px,#cfff30 33px,#fffc00 36px,#ffc500 38px,#ffbe00 39px,#fc0 40px,#ffc700 41px,#fa0 42px,#ff9200 45px,#ff6b00 47px,#ff6d00 49px,#ff5400 51px,#ff4d00 55px,#ff3b00 57px,#ff5600 59px,#ff3900 63px,#ff2a00 67px,#ff4200 69px,#ff2800 71px,#ff3000 75px,#ff1800 77px,#ff1d00 79px,#ff0300 81px,#ff1c00 85px,#fc0000 87px,#ff0900 89px,#f00 94px,#eb0000 97px,#f70000 98px,#ff0e00 99px,#f70000 103px,#f60000 106px,#eb0000 107px,#ff0800 110px,#f60000 113px,#ff0900 116px,#f10000 118px,#fe0000 119px,#ec0000 121px,#ff0200 124px,#ff0c00 126px,#f40000 128px,#fb0100 131px,#fc0700 156px,#f00000 174px,#d20000 187px,#ff0800 283px,#f30 311px,#ff5600 324px,#ff5200 334px,#ff1500 342px,#f30000 345px,#de0000 347px)"></i>
<i style="height:2px;background:linear-gradient(90deg,#0000b5 0px,#0000ed 1px,#0053ff 2px,#00acff 3px,#0032ff 4px,#0000ed 5px,#006cff 6px,#28ffd7 7px,#d2ff2d 8px,#92ff6d 9px,#0076ff 10px,#0000de 11px,#0000ba 14px,#0000c6 15px,#0009ff 17px,#0078ff 20px,#00f2ff 23px,#1fffe0 25px,#cfff30 33px,#fffb00 36px,#ffc400 38px,#ffbd00 39px,#ffcb00 40px,#ffc700 41px,#fa0 42px,#ff9400 45px,#ff6e00 47px,#ff7000 49px,#ff5800 51px,#ff5300 55px,#ff4100 57px,#ff5c00 59px,#ff3f00 63px,#ff3000 67px,#ff4800 69px,#ff2d00 71px,#ff3500 75px,#ff1c00 77px,#ff2100 79px,#ff0700 81px,#ff1f00 85px,#fe0000 87px,#ff0b00 89px,#ff0100 93px,#f90000 96px,#ec0000 97px,#f80000 98px,#ff0f00 99px,#f80000 103px,#f70000 106px,#ec0000 107px,#ff0a00 110px,#f80000 113px,#ff0c00 116px,#f50000 118px,#fe0100 120px,#f20000 121px,#ff0b00 124px,#ff1900 126px,#ff0500 128px,#ff1700 130px,#ff2400 142px,#ff2800 170px,#f80400 184px,#ff1f00 266px,#f40 313px,#ff5600 330px,#ff4200 337px,#fb0000 345px)"></i>
<i style="height:2px;background:linear-gradient(90deg,#0000b5 0px,#0000ed 1px,#0053ff 2px,#00acff 3px,#0032ff 4px,#0000ed 5px,#006cff 6px,#28ffd7 7px,#d2ff2d 8px,#92ff6d 9px,#0076ff 10px,#0000de 11px,#0000ba 14px,#0000c6 15px,#0009ff 17px,#0078ff 20px,#00f2ff 23px,#1fffe0 25px,#cfff30 33px,#fffb00 36px,#ffc300 38px,#ffbc00 39px,#ffcb00 40px,#ffc700 41px,#ff9f00 43px,#ff9800 45px,#ff7300 47px,#ff7600 49px,#ff5f00 51px,#ff5a00 55px,#ff4800 57px,#ff6300 59px,#ff4600 63px,#ff3600 67px,#ff4e00 69px,#f30 71px,#ff3b00 75px,#f20 77px,#ff2600 79px,#ff0c00 81px,#ff2300 85px,#ff0300 87px,#ff0f00 89px,#ff0300 92px,#fc0000 96px,#ef0000 97px,#fb0000 98px,#f10 99px,#f70000 104px,#fb0000 106px,#f00000 107px,#fb0000 108px,#ff1200 109px,#fc0000 112px,#ff1200 116px,#fe0100 117px,#ff0800 120px,#fe0300 122px,#ff2700 125px,#ff2900 126px,#ff1800 128px,#ff2c00 130px,#ff4500 142px,#ff5900 170px,#ff2a00 186px,#ff5200 299px,#ff5000 333px,#ff2e00 340px,#ff1d00 342px)"></i>
<i style="height:2px;background:linear-gradient(90deg,#0000b5 0px,#0000ed 1px,#0053ff 2px,#00acff 3px,#0032ff 4px,#0000ed 5px,#006cff 6px,#28ffd7 7px,#d2ff2d 8px,#92ff6d 9px,#0076ff 10px,#0000de 11px,#0000ba 14px,#0000c6 15px,#0009ff 17px,#0078ff 20px,#00f2ff 23px,#1fffe0 25px,#cfff30 33px,#fffb00 36px,#ffc400 38px,#ffbd00 39px,#ffcb00 40px,#ffc800 41px,#ffa200 43px,#ff9d00 45px,#ff7900 47px,#ff7d00 49px,#ff6700 51px,#ff6200 55px,#ff5000 57px,#ff6b00 59px,#ff4d00 63px,#ff3d00 67px,#f50 69px,#ff3b00 71px,#ff4200 75px,#ff2a00 77px,#ff2e00 79px,#ff1400 81px,#ff2c00 85px,#ff0b00 87px,#ff1700 89px,#ff0700 91px,#ff0d00 95px,#f50000 97px,#ff0200 98px,#ff1700 99px,#fd0100 104px,#ff0500 108px,#ff1b00 109px,#ff0800 112px,#ff1e00 116px,#ff0c00 117px,#ff0a00 118px,#ff1a00 119px,#ff0b00 121px,#ff3d00 126px,#ff2e00 128px,#f40 130px,#ff6900 142px,#ff8d00 169px,#ff5e00 187px,#ff7e00 282px,#f50 325px,#ff4100 337px,#ff2e00 340px)"></i>
<i style="height:2px;background:linear-gradient(90deg,#0000b5 0px,#0000ed 1px,#0053ff 2px,#00acff 3px,#0032ff 4px,#0000ed 5px,#006cff 6px,#28ffd7 7px,#d2ff2d 8px,#92ff6d 9px,#0076ff 10px,#0000de 11px,#0000ba 14px,#0000c6 15px,#0009ff 17px,#0078ff 20px,#00f2ff 23px,#1fffe0 25px,#cfff30 33px,#fffb00 36px,#ffc400 38px,#ffbd00 39px,#fc0 40px,#ffc900 41px,#ffa600 43px,#ffa200 45px,#ff8000 47px,#ff8500 49px,#ff6f00 51px,#ff6a00 55px,#ff5800 57px,#ff7400 59px,#ff5600 63px,#ff4600 67px,#ff5e00 69px,#ff4300 71px,#ff4c00 75px,#ff3400 77px,#ff3a00 79px,#ff2100 81px,#ff3a00 85px,#ff1900 87px,#ff2500 89px,#ff1400 91px,#ff1900 95px,#fe0300 97px,#ff2300 99px,#ff0900 107px,#ff2b00 109px,#ff1900 112px,#f30 116px,#ff2100 117px,#ff2000 118px,#ff3000 119px,#ff2300 121px,#ff5900 126px,#ff4b00 128px,#ff6400 130px,#ff9300 142px,#ffc100 168px,#ff9600 187px,#ffb100 278px,#ff6f00 319px,#ff4d00 332px,#ff3b00 338px)"></i>
<i style="height:2px;background:linear-gradient(90deg,#0000b5 0px,#0000ed 1px,#0053ff 2px,#00acff 3px,#0032ff 4px,#0000ed 5px,#006cff 6px,#28ffd7 7px,#d2ff2d 8px,#92ff6d 9px,#0076ff 10px,#0000de 11px,#0000ba 14px,#0000c6 15px,#0009ff 17px,#0078ff 20px,#00f2ff 23px,#1fffe0 25px,#cfff30 33px,#fffb00 36px,#ffc400 38px,#ffbd00 39px,#ffcd00 40px,#ffcb00 41px,#fa0 43px,#ffa700 45px,#ff8700 47px,#ff8d00 49px,#ff7800 51px,#ff7900 54px,#ff6200 57px,#ff7d00 59px,#ff6000 63px,#ff5000 67px,#ff6800 69px,#ff4e00 71px,#ff5700 75px,#ff4100 77px,#ff4800 79px,#ff3100 81px,#ff4c00 85px,#ff2d00 87px,#ff3800 89px,#ff2700 91px,#ff2b00 95px,#ff1400 97px,#ff3500 99px,#ff1e00 107px,#ff4200 109px,#ff3200 112px,#ff4e00 116px,#ff3e00 117px,#ff3d00 118px,#ff4e00 119px,#ff4200 121px,#ff7c00 126px,#ff7000 128px,#ff8a00 130px,#fa0 138px,#ffc000 141px,#fef301 165px,#ffe800 175px,#ffcd00 188px,#ffe200 274px,#ff8d00 317px,#ff5300 329px,#ff4700 335px)"></i>
<i style="height:2px;background:linear-gradient(90deg,#0000b5 0px,#0000ed 1px,#0053ff 2px,#00acff 3px,#0032ff 4px,#0000ed 5px,#006cff 6px,#28ffd7 7px,#d2ff2d 8px,#92ff6d 9px,#0076ff 10px,#0000de 11px,#0000ba 14px,#0000c6 15px,#0009ff 17px,#0078ff 20px,#00f2ff 23px,#1fffe0 25px,#cfff30 33px,#fffb00 36px,#ffc400 38px,#ffbe00 39px,#ffcd00 40px,#fc0 41px,#ffae00 43px,#ffad00 45px,#ff8f00 47px,#ff9600 49px,#ff8100 51px,#ff8300 54px,#ff6d00 57px,#f80 59px,#ff6b00 63px,#ff5b00 67px,#ff7300 69px,#ff5900 71px,#ff6400 75px,#ff5000 77px,#ff5900 79px,#f40 81px,#ff6300 85px,#f40 87px,#ff5000 89px,#ff3f00 91px,#ff4300 95px,#ff2c00 97px,#ff4e00 99px,#ff3a00 104px,#ff4200 106px,#ff3900 107px,#ff5e00 109px,#ff5000 112px,#ff6f00 116px,#ff6000 117px,#ff6000 118px,#ff7100 119px,#ff6700 121px,#ffa400 126px,#ff9a00 128px,#ffb500 130px,#ffda00 138px,#fff000 141px,#e0ff1f 158px,#df2 172px,#f9fa06 185px,#f7fe08 280px,#ffa500 317px,#ff5600 329px,#ff4c00 333px)"></i>
<i style="height:2px;background:linear-gradient(90deg,#0000b5 0px,#0000ed 1px,#0053ff 2px,#00acff 3px,#0032ff 4px,#0000ed 5px,#006cff 6px,#28ffd7 7px,#d2ff2d 8px,#92ff6d 9px,#0076ff 10px,#0000de 11px,#0000ba 14px,#0000c6 15px,#0009ff 17px,#0078ff 20px,#00f2ff 23px,#1fffe0 25px,#cfff30 33px,#fffb00 36px,#ffc400 38px,#ffbe00 39px,#ffce00 40px,#ffce00 41px,#ffb300 43px,#ffb400 45px,#ff9800 47px,#ffa100 49px,#ff8d00 51px,#ff9000 54px,#ff7a00 57px,#ff9500 59px,#ff7800 63px,#ff6700 67px,#ff7f00 69px,#ff6500 71px,#ff7200 75px,#ff5f00 77px,#ff6b00 79px,#ff5800 81px,#ff7b00 85px,#ff5e00 87px,#ff6b00 89px,#ff5b00 91px,#ff6000 95px,#ff4900 97px,#ff6b00 99px,#ff5900 104px,#ff6100 106px,#ff5900 107px,#ff7e00 109px,#ff7200 112px,#ff9400 116px,#ff8500 117px,#ff8600 118px,#ff9800 119px,#ff8f00 121px,#ffcf00 126px,#ffc600 128px,#ffe200 130px,#f4fe0b 138px,#df2 141px,#acff53 160px,#b3ff4c 173px,#d4ff2b 187px,#d1ff2e 279px,#fff600 297px,#ffba00 317px,#ff5a00 329px,#ff5200 331px)"></i>
<i style="height:2px;background:linear-gradient(90deg,#0000b5 0px,#0000ed 1px,#0053ff 2px,#00acff 3px,#0032ff 4px,#0000ed 5px,#006cff 6px,#28ffd7 7px,#d2ff2d 8px,#92ff6d 9px,#0076ff 10px,#0000de 11px,#0000ba 14px,#0000c6 15px,#0009ff 17px,#0078ff 20px,#00f2ff 23px,#1fffe0 25px,#cfff30 33px,#fffb00 36px,#ffc500 38px,#ffbf00 39px,#ffcf00 40px,#ffd100 41px,#fb0 43px,#ffbe00 45px,#ffa400 47px,#ffaf00 49px,#ff9d00 51px,#ffa100 54px,#ff8a00 57px,#ffa500 59px,#ff8600 63px,#ff7400 67px,#ff8c00 69px,#ff7200 71px,#ff8100 75px,#ff7000 77px,#ff7d00 79px,#ff6d00 81px,#ff9500 85px,#ff7a00 87px,#f80 89px,#ff7900 91px,#ff7f00 95px,#ff6900 97px,#ff8c00 99px,#ff7a00 104px,#ff8200 106px,#ff7a00 107px,#ffa000 109px,#ff9500 112px,#ffba00 116px,#ffab00 117px,#ffad00 118px,#ffbf00 119px,#ffb800 121px,#fff300 125px,#fff100 128px,#f0ff0f 131px,#cf3 136px,#c8ff37 138px,#b0ff4f 141px,#7fff80 159px,#8dff72 173px,#adff52 187px,#b0ff4f 279px,#fff900 306px,#ffc300 318px,#ff5e00 329px)"></i>
<i style="height:2px;background:linear-gradient(90deg,#0000b5 0px,#0000ed 1px,#0053ff 2px,#00acff 3px,#0032ff 4px,#0000ed 5px,#006cff 6px,#28ffd7 7px,#d2ff2d 8px,#92ff6d 9px,#0076ff 10px,#0000de 11px,#0000ba 14px,#0000c6 15px,#0009ff 17px,#0078ff 20px,#00f2ff 23px,#1fffe0 25px,#cfff30 33px,#fffb00 36px,#ffc500 38px,#ffc000 39px,#ffd400 41px,#ffc500 43px,#ffcb00 45px,#ffb300 47px,#ffc000 49px,#ffaf00 51px,#ffb500 54px,#ff9e00 57px,#ffb800 59px,#ff9700 63px,#ff8300 67px,#ff9b00 69px,#ff8100 71px,#ff9100 75px,#ff8100 77px,#ff9100 79px,#ff8300 81px,#ffaf00 85px,#ff9500 87px,#ffa500 89px,#ff9700 91px,#ff9f00 95px,#ff8a00 97px,#ffad00 99px,#ff9d00 104px,#ffa500 106px,#ff9d00 107px,#ffc300 109px,#ffb900 112px,#ffde00 116px,#ffd000 117px,#ffd200 118px,#ffe500 119px,#ffde00 121px,#f7fe08 124px,#deff21 126px,#e6ff19 128px,#caff35 130px,#9fff60 138px,#87ff78 141px,#56ffa9 158px,#6aff95 173px,#8bff74 187px,#93ff6c 280px,#e9ff16 305px,#fff400 312px,#ffba00 320px,#ff7900 326px)"></i>
<i style="height:2px;background:linear-gradient(90deg,#0000b5 0px,#0000ed 1px,#0053ff 2px,#00acff 3px,#0032ff 4px,#0000ed 5px,#006cff 6px,#28ffd7 7px,#d2ff2d 8px,#92ff6d 9px,#0076ff 10px,#0000de 11px,#0000ba 14px,#0000c6 15px,#0009ff 17px,#0078ff 20px,#00f2ff 23px,#1fffe0 25px,#cfff30 33px,#fffb00 36px,#ffc600 38px,#ffc100 39px,#ffd800 41px,#ffd100 43px,#ffda00 45px,#ffc400 47px,#ffd300 49px,#ffc400 51px,#ffcb00 54px,#ffb500 57px,#ffce00 59px,#fa0 63px,#ff9400 67px,#ffab00 69px,#ff9100 71px,#ffa300 75px,#ff9400 77px,#ffa500 79px,#f90 81px,#ffc800 85px,#ffb000 87px,#ffc000 89px,#ffb400 91px,#ffbe00 95px,#fa0 97px,#ffce00 99px,#ffbe00 107px,#ffe500 109px,#ffda00 112px,#fbfb04 116px,#fff200 118px,#f8ff07 120px,#f5ff0a 122px,#c3ff3c 125px,#bcff43 126px,#c4ff3b 128px,#a7ff58 130px,#7bff84 138px,#62ff9d 141px,#3fc 157px,#4cffb3 173px,#6cff93 187px,#78ff87 280px,#beff41 301px,#fff900 313px,#ffa900 322px,#ff9200 324px)"></i>
<i style="height:2px;background:linear-gradient(90deg,#0000b5 0px,#0000ed 1px,#0053ff 2px,#00acff 3px,#0032ff 4px,#0000ed 5px,#006cff 6px,#28ffd7 7px,#d2ff2d 8px,#92ff6d 9px,#0076ff 10px,#0000de 11px,#0000ba 14px,#0000c6 15px,#0009ff 17px,#0078ff 20px,#00f2ff 23px,#1fffe0 25px,#cfff30 33px,#fffb00 36px,#ffc600 38px,#ffc200 39px,#ffdc00 41px,#ffe800 45px,#ffd600 47px,#ffe700 49px,#ffda00 51px,#ffe200 54px,#fc0 57px,#ffe500 59px,#ffbe00 63px,#ffa800 67px,#ffbe00 69px,#ffa400 71px,#ffb600 75px,#ffa800 77px,#ffba00 79px,#ffaf00 81px,#ffe000 85px,#ffc800 87px,#ffda00 89px,#ffce00 91px,#ffd900 95px,#ffc500 97px,#ffea00 99px,#ffdc00 107px,#fafd05 109px,#fdfa02 113px,#e4ff1b 116px,#f2ff0d 117px,#f0ff0f 118px,#deff21 119px,#e4ff1b 121px,#9fff60 126px,#a6ff59 128px,#8f7 130px,#5bffa4 138px,#43ffbc 141px,#15ffea 157px,#38ffc7 175px,#4fffb0 189px,#60ff9f 280px,#a6ff59 300px,#fff900 314px,#ffab00 322px)"></i>
<i style="height:2px;background:linear-gradient(90deg,#0000b5 0px,#0000ed 1px,#0053ff 2px,#00acff 3px,#0032ff 4px,#0000ed 5px,#006cff 6px,#28ffd7 7px,#d2ff2d 8px,#92ff6d 9px,#0076ff 10px,#0000de 11px,#0000ba 14px,#0000c6 15px,#0009ff 17px,#0078ff 20px,#00f2ff 23px,#1fffe0 25px,#cfff30 33px,#fffc00 36px,#ffc700 38px,#ffc300 39px,#ffe100 41px,#fff700 45px,#ffe700 47px,#fffa00 49px,#ffef00 51px,#fff800 54px,#ffe200 57px,#fefa01 59px,#ffd300 63px,#ffbc00 67px,#ffd200 69px,#ffb800 71px,#ffca00 75px,#ffbc00 77px,#ffcf00 79px,#ffc300 81px,#fff500 85px,#fd0 87px,#ffef00 89px,#ffe300 91px,#fff000 95px,#ffdc00 97px,#fbfd04 99px,#fff400 107px,#fbfd04 108px,#e4ff1b 109px,#f0ff0f 112px,#cdff32 116px,#dcff23 117px,#dbff24 118px,#c8ff37 119px,#cfff30 121px,#87ff78 126px,#8cff73 128px,#6dff92 130px,#46ffb9 137px,#29ffd6 141px,#02fcfd 155px,#12ffed 170px,#3fc 187px,#49ffb6 279px,#95ff6a 299px,#fffd00 314px,#ffce00 319px)"></i>
<i style="height:2px;background:linear-gradient(90deg,#0000b5 0px,#0000ed 1px,#0053ff 2px,#00acff 3px,#0032ff 4px,#0000ed 5px,#006cff 6px,#28ffd7 7px,#d2ff2d 8px,#92ff6d 9px,#0076ff 10px,#0000de 11px,#0000ba 14px,#0000c6 15px,#0009ff 17px,#0078ff 20px,#00f2ff 23px,#1fffe0 25px,#cfff30 33px,#fffc00 36px,#ffc800 38px,#ffc400 39px,#ffeb00 42px,#f8ff07 45px,#fff800 47px,#f1ff0e 49px,#fbfe04 51px,#f1ff0e 54px,#fff700 57px,#ef1 59px,#ffef00 62px,#ffd000 67px,#ffe600 69px,#fc0 71px,#ffde00 75px,#ffcf00 77px,#ffe100 79px,#ffd500 81px,#fefc01 84px,#fefc01 86px,#ffef00 87px,#fffb00 90px,#fffa00 96px,#fe0 97px,#fefb01 98px,#ebff14 99px,#f7ff08 107px,#d1ff2e 109px,#df2 112px,#bf4 116px,#caff35 117px,#c9ff36 118px,#b6ff49 119px,#bdff42 121px,#73ff8c 126px,#7f8 128px,#57ffa8 130px,#2effd1 136px,#2affd5 138px,#13ffec 141px,#00efff 152px,#0ef 163px,#13ffec 179px,#2affd5 239px,#3bffc4 280px,#8eff71 299px,#ff0 314px,#ffe300 317px)"></i>
<i style="height:2px;background:linear-gradient(90deg,#0000b5 0px,#0000ed 1px,#0053ff 2px,#00acff 3px,#0032ff 4px,#0000ed 5px,#006cff 6px,#28ffd7 7px,#d2ff2d 8px,#92ff6d 9px,#0076ff 10px,#0000de 11px,#0000ba 14px,#0000c6 15px,#0009ff 17px,#0078ff 20px,#00f2ff 23px,#1fffe0 25px,#cfff30 33px,#fffc00 36px,#ffc800 38px,#ffc500 39px,#fff500 42px,#eaff15 45px,#f6ff09 47px,#dfff20 49px,#e9ff16 51px,#dfff20 54px,#f5ff0a 57px,#dcff23 59px,#fcfe03 62px,#ffe200 67px,#fff800 69px,#fd0 71px,#fe0 75px,#ffe000 77px,#fff100 79px,#ffe400 81px,#f3ff0c 84px,#eaff15 85px,#fffc00 87px,#f0ff0f 89px,#fbff04 91px,#ef1 95px,#fefc01 97px,#dbff24 99px,#e6ff19 107px,#c0ff3f 109px,#cf3 112px,#abff54 116px,#baff45 117px,#b9ff46 118px,#a7ff58 119px,#adff52 121px,#62ff9d 126px,#6f9 128px,#46ffb9 130px,#1cffe3 136px,#19ffe6 138px,#03fefc 141px,#00d6ff 158px,#04fefb 184px,#0ffff0 230px,#30ffcf 280px,#92ff6d 300px,#feff01 314px,#fff700 315px)"></i>
<i style="height:2px;background:linear-gradient(90deg,#0000b5 0px,#0000ed 1px,#0053ff 2px,#00acff 3px,#0032ff 4px,#0000ed 5px,#006cff 6px,#28ffd7 7px,#d2ff2d 8px,#92ff6d 9px,#0076ff 10px,#0000de 11px,#0000ba 14px,#0000c6 15px,#0009ff 17px,#0078ff 20px,#00f2ff 23px,#1fffe0 25px,#cfff30 33px,#fffc00 36px,#ffc900 38px,#ffc600 39px,#fdfe02 42px,#dbff24 45px,#e6ff19 47px,#ceff31 49px,#d8ff27 51px,#cdff32 54px,#e4ff1b 57px,#cf3 59px,#f5ff0a 63px,#fff000 67px,#f8ff07 69px,#ffec00 72px,#fffc00 75px,#ffed00 77px,#fefd01 79px,#fff100 81px,#f4ff0b 83px,#deff21 85px,#f6ff09 87px,#e4ff1b 89px,#efff10 91px,#e1ff1e 95px,#f4ff0b 97px,#ceff31 99px,#d7ff28 107px,#b0ff4f 109px,#bdff42 112px,#9cff63 116px,#acff53 117px,#abff54 118px,#98ff67 119px,#9fff60 121px,#5fa 126px,#59ffa6 128px,#38ffc7 130px,#0efff1 136px,#00f2ff 141px,#00c6ff 157px,#00edff 185px,#00f7ff 227px,#2affd5 280px,#92ff6d 300px,#edff12 312px)"></i>
<i style="height:2px;background:linear-gradient(90deg,#0000b5 0px,#0000ed 1px,#0053ff 2px,#00acff 3px,#0032ff 4px,#0000ed 5px,#006cff 6px,#28ffd7 7px,#d2ff2d 8px,#92ff6d 9px,#0076ff 10px,#0000de 11px,#0000ba 14px,#0000c6 15px,#0009ff 17px,#0078ff 20px,#00f2ff 23px,#1fffe0 25px,#cfff30 33px,#fffc00 36px,#ffca00 38px,#ffc800 39px,#fff300 41px,#e1ff1e 43px,#cf3 45px,#d6ff29 47px,#beff41 49px,#c7ff38 51px,#beff41 54px,#d5ff2a 57px,#beff41 59px,#e9ff16 63px,#fffc00 67px,#ecff13 69px,#fff700 72px,#fcff03 76px,#f6ff09 79px,#fffb00 81px,#d4ff2b 85px,#ecff13 87px,#daff25 89px,#e4ff1b 91px,#d5ff2a 95px,#e7ff18 97px,#c1ff3e 99px,#c8ff37 107px,#a2ff5d 109px,#aeff51 112px,#8eff71 116px,#9eff61 117px,#9dff62 118px,#8bff74 119px,#92ff6d 121px,#49ffb6 126px,#4effb1 128px,#2effd1 130px,#04fffb 137px,#00e5ff 141px,#00b8ff 157px,#00dbff 182px,#00e3ff 225px,#09fff6 252px,#27ffd8 280px,#9f6 301px,#df2 310px)"></i>
<i style="height:2px;background:linear-gradient(90deg,#0000b5 0px,#0000ed 1px,#0053ff 2px,#00acff 3px,#0032ff 4px,#0000ed 5px,#006cff 6px,#28ffd7 7px,#d2ff2d 8px,#92ff6d 9px,#0076ff 10px,#0000de 11px,#0000ba 14px,#0000c6 15px,#0009ff 17px,#0078ff 20px,#00f2ff 23px,#1fffe0 25px,#cfff30 33px,#fffc00 36px,#ffca00 38px,#ffc900 39px,#fff700 41px,#c6ff39 44px,#c3ff3c 46px,#c7ff38 47px,#aeff51 49px,#b8ff47 51px,#afff50 54px,#c8ff37 57px,#b2ff4d 59px,#deff21 63px,#f8ff07 67px,#e3ff1c 69px,#fdff02 71px,#edff12 75px,#fdff02 77px,#edff12 79px,#faff05 81px,#cbff34 85px,#e3ff1c 87px,#d0ff2f 89px,#dbff24 91px,#cbff34 95px,#dcff23 97px,#b5ff4a 99px,#bf4 107px,#94ff6b 109px,#a1ff5e 112px,#81ff7e 116px,#91ff6e 117px,#90ff6f 118px,#7eff81 119px,#86ff79 121px,#3fffc0 126px,#4fb 128px,#25ffda 130px,#00f8ff 136px,#00f3ff 138px,#00daff 141px,#00adff 156px,#00caff 180px,#00cfff 222px,#08fff7 256px,#26ffd9 280px,#98ff67 301px,#ceff31 308px)"></i>
<i style="height:2px;background:linear-gradient(90deg,#0000b5 0px,#00e 1px,#0054ff 2px,#00acff 3px,#03f 4px,#0000ed 5px,#006bff 6px,#25ffda 7px,#cfff30 8px,#90ff6f 9px,#0076ff 10px,#0000de 11px,#00b 14px,#0000c6 15px,#000aff 17px,#0078ff 20px,#00f1ff 23px,#08fff7 24px,#cfff30 33px,#fffd00 36px,#ffcb00 38px,#ffca00 39px,#fffc00 41px,#c8ff37 43px,#b1ff4e 45px,#b9ff46 47px,#a0ff5f 49px,#af5 51px,#a2ff5d 54px,#bcff43 57px,#a7ff58 59px,#d5ff2a 63px,#f0ff0f 67px,#daff25 69px,#f5ff0a 71px,#e5ff1a 75px,#f5ff0a 77px,#e5ff1a 79px,#f3ff0c 81px,#c4ff3b 85px,#dbff24 87px,#c8ff37 89px,#d2ff2d 91px,#c1ff3e 95px,#d2ff2d 97px,#abff54 99px,#b0ff4f 107px,#89ff76 109px,#95ff6a 112px,#76ff89 116px,#86ff79 117px,#86ff79 118px,#74ff8b 119px,#7cff83 121px,#37ffc8 126px,#3dffc2 128px,#1effe1 130px,#00f8ff 135px,#00ecff 138px,#00d2ff 141px,#00a4ff 156px,#00bcff 179px,#00bcff 219px,#07fff8 259px,#25ffda 280px,#97ff68 301px,#bdff42 306px)"></i>
<i style="height:2px;background:linear-gradient(90deg,#0000b5 0px,#0000ef 1px,#0057ff 2px,#00afff 3px,#0036ff 4px,#0000eb 5px,#06f 6px,#1affe5 7px,#c3ff3c 8px,#8aff75 9px,#0074ff 10px,#0000de 11px,#0000be 14px,#0000c9 15px,#000bff 17px,#07f 20px,#0ef 23px,#05fffa 24px,#cdff32 33px,#fffe00 36px,#ffcd00 38px,#ffcd00 39px,#ff0 41px,#bfff40 43px,#a7ff58 45px,#aeff51 47px,#94ff6b 49px,#9eff61 51px,#96ff69 54px,#b2ff4d 57px,#9eff61 59px,#cf3 63px,#e7ff18 67px,#d1ff2e 69px,#edff12 71px,#deff21 75px,#ef1 77px,#dfff20 79px,#ecff13 81px,#bdff42 85px,#d4ff2b 87px,#c1ff3e 89px,#caff35 91px,#b8ff47 95px,#c9ff36 97px,#a2ff5d 99px,#a8ff57 107px,#81ff7e 109px,#8dff72 112px,#6eff91 116px,#7eff81 117px,#7eff81 118px,#6cff93 119px,#75ff8a 121px,#30ffcf 126px,#37ffc8 128px,#18ffe7 130px,#00fcff 134px,#00e6ff 138px,#0cf 141px,#009dff 156px,#00b1ff 178px,#00abff 215px,#00e1ff 246px,#05fffa 261px,#28ffd7 281px,#9aff65 302px,#a1ff5e 303px)"></i>
<i style="height:2px;background:linear-gradient(90deg,#0000b4 0px,#0000f2 1px,#00b3ff 3px,#003bff 4px,#0000e8 5px,#005cff 6px,#08fff7 7px,#adff52 8px,#7eff81 9px,#0070ff 10px,#0000df 11px,#0000c2 14px,#0000ce 15px,#000dff 17px,#0075ff 20px,#00e9ff 23px,#01fefe 24px,#caff35 33px,#e5ff1a 35px,#ff0 36px,#ffd100 38px,#ffd200 39px,#fdff02 41px,#bcff43 43px,#a2ff5d 45px,#a6ff59 47px,#8bff74 49px,#93ff6c 51px,#8cff73 54px,#af5 57px,#96ff69 59px,#c4ff3b 63px,#dfff20 67px,#c9ff36 69px,#e5ff1a 71px,#d8ff27 75px,#e9ff16 77px,#daff25 79px,#e8ff17 81px,#b8ff47 85px,#cfff30 87px,#bf4 89px,#c4ff3b 91px,#b1ff4e 95px,#c2ff3d 97px,#9bff64 99px,#a4ff5b 107px,#7cff83 109px,#8f7 112px,#69ff96 116px,#79ff86 117px,#79ff86 118px,#67ff98 119px,#70ff8f 121px,#2cffd3 126px,#35ffca 128px,#16ffe9 130px,#00f9ff 134px,#00e3ff 138px,#00c9ff 140px,#0097ff 156px,#00a9ff 178px,#009fff 211px,#00b8ff 232px,#03fffc 263px,#26ffd9 281px,#8cff73 301px)"></i>
<i style="height:2px;background:linear-gradient(90deg,#0000b4 0px,#0000f6 1px,#00b8ff 3px,#0041ff 4px,#0000e5 5px,#0050ff 6px,#0ef 7px,#90ff6f 8px,#6eff91 9px,#006cff 10px,#0000e0 11px,#0000c9 14px,#0000d4 15px,#0000f2 16px,#002eff 18px,#00e2ff 23px,#00f8ff 24px,#c7ff38 33px,#e2ff1d 35px,#fdff02 36px,#ffd500 38px,#ffd700 39px,#fbff04 41px,#baff45 43px,#9dff62 45px,#a1ff5e 47px,#83ff7c 49px,#8aff75 51px,#7eff81 53px,#a4ff5b 57px,#91ff6e 59px,#b5ff4a 62px,#d8ff27 67px,#c2ff3d 69px,#dfff20 71px,#d3ff2c 75px,#e6ff19 77px,#d8ff27 79px,#e5ff1a 81px,#b4ff4b 85px,#cbff34 87px,#b6ff49 89px,#bfff40 91px,#abff54 95px,#bcff43 97px,#95ff6a 99px,#a3ff5c 107px,#7aff85 109px,#87ff78 112px,#67ff98 116px,#7f8 117px,#7f8 118px,#65ff9a 119px,#6eff91 121px,#2affd5 126px,#34ffcb 128px,#14ffeb 130px,#00f7ff 134px,#00e0ff 138px,#00c5ff 140px,#0092ff 156px,#00a4ff 178px,#0097ff 207px,#00a9ff 228px,#05fffa 265px,#24ffdb 281px,#78ff87 299px)"></i>
<i style="height:2px;background:linear-gradient(90deg,#0000b4 0px,#0000fa 1px,#006aff 2px,#00bfff 3px,#0049ff 4px,#0000e1 5px,#0042ff 6px,#00d0ff 7px,#6eff91 8px,#5bffa4 9px,#06f 10px,#0000e1 11px,#0000d0 14px,#0000dc 15px,#0000f7 16px,#004dff 19px,#00d9ff 23px,#08fff7 25px,#c2ff3d 33px,#dfff20 35px,#faff05 36px,#ffda00 38px,#ffed00 40px,#faff05 41px,#b8ff47 43px,#9aff65 45px,#9bff64 47px,#7cff83 49px,#81ff7e 51px,#74ff8b 53px,#9fff60 57px,#8cff73 59px,#b0ff4f 62px,#d3ff2c 67px,#bcff43 69px,#dbff24 71px,#d0ff2f 75px,#e5ff1a 77px,#d6ff29 79px,#e4ff1b 81px,#b1ff4e 85px,#c8ff37 87px,#b2ff4d 89px,#bf4 91px,#a5ff5a 95px,#b6ff49 97px,#90ff6f 99px,#a3ff5c 104px,#9cff63 106px,#a3ff5c 107px,#7aff85 109px,#87ff78 112px,#6f9 116px,#7f8 117px,#7f8 118px,#65ff9a 119px,#6eff91 121px,#2fffd0 125px,#28ffd7 126px,#35ffca 127px,#34ffcb 128px,#14ffeb 130px,#00f5ff 134px,#00deff 138px,#00c0ff 140px,#008dff 156px,#00a2ff 178px,#0094ff 207px,#009fff 227px,#00deff 253px,#04fffb 267px,#2fd 281px,#5fffa0 296px)"></i>
<i style="height:2px;background:linear-gradient(90deg,#0000b4 0px,#0001fe 1px,#0072ff 2px,#00c7ff 3px,#0052ff 4px,#0000dc 5px,#0031ff 6px,#00afff 7px,#48ffb7 8px,#45ffba 9px,#0060ff 10px,#0000e2 11px,#0000d8 14px,#0000e4 15px,#0000fd 16px,#006cff 20px,#00d0ff 23px,#01fdfe 25px,#bdff42 33px,#dbff24 35px,#f8ff07 36px,#ffe000 38px,#f9ff06 41px,#b7ff48 43px,#95ff6a 45px,#96ff69 47px,#74ff8b 49px,#78ff87 51px,#6aff95 53px,#9aff65 57px,#87ff78 59px,#acff53 62px,#cfff30 67px,#b7ff48 69px,#d7ff28 71px,#cdff32 75px,#e5ff1a 77px,#d6ff29 79px,#e5ff1a 81px,#adff52 85px,#c5ff3a 87px,#aeff51 89px,#b7ff48 91px,#9fff60 95px,#b1ff4e 97px,#8aff75 99px,#a3ff5c 104px,#9dff62 106px,#a5ff5a 107px,#7aff85 109px,#7aff85 110px,#8f7 111px,#7bff84 114px,#69ff96 115px,#65ff9a 116px,#7f8 117px,#78ff87 118px,#64ff9b 119px,#6fff90 121px,#2dffd2 125px,#26ffd9 126px,#35ffca 127px,#36ffc9 128px,#13ffec 130px,#00f3ff 134px,#00e5ff 136px,#00dbff 138px,#0bf 140px,#08f 156px,#009eff 179px,#0095ff 213px,#009aff 224px,#00b6ff 240px,#00d9ff 253px,#01fffe 267px,#20ffdf 281px,#4cffb3 294px)"></i>
<i style="height:2px;background:linear-gradient(90deg,#0000b4 0px,#0006ff 1px,#007bff 2px,#00ceff 3px,#005cff 4px,#0000d7 5px,#0020ff 6px,#008bff 7px,#20ffdf 8px,#2fffd0 9px,#0059ff 10px,#0000e4 11px,#0000e1 14px,#0005ff 16px,#0069ff 20px,#0df 24px,#00f5ff 25px,#3cffc3 28px,#a5ff5a 32px,#d6ff29 35px,#f5ff0a 36px,#ffe600 38px,#f8ff07 41px,#b5ff4a 43px,#91ff6e 45px,#91ff6e 47px,#6cff93 49px,#6fff90 51px,#5fffa0 53px,#97ff68 57px,#82ff7d 59px,#a8ff57 62px,#cf3 67px,#b2ff4d 69px,#d5ff2a 71px,#cbff34 75px,#e6ff19 77px,#d6ff29 79px,#e6ff19 81px,#a9ff56 85px,#c2ff3d 87px,#a9ff56 89px,#b3ff4c 91px,#98ff67 95px,#acff53 97px,#83ff7c 99px,#a3ff5c 104px,#9eff61 106px,#a7ff58 107px,#79ff86 109px,#7aff85 110px,#89ff76 111px,#7cff83 114px,#68ff97 115px,#64ff9b 116px,#78ff87 117px,#79ff86 118px,#64ff9b 119px,#6fff90 121px,#2affd5 125px,#24ffdb 126px,#36ffc9 127px,#37ffc8 128px,#13ffec 130px,#0cfff3 132px,#00f1ff 134px,#00e3ff 135px,#00e4ff 137px,#00b6ff 140px,#00a1ff 148px,#0092ff 151px,#08f 157px,#0091ff 167px,#009eff 179px,#0095ff 213px,#0097ff 219px,#0093ff 223px,#00adff 238px,#00c5ff 248px,#00feff 267px,#0ffff0 276px,#2dffd2 288px,#3cffc3 292px)"></i>
<i style="height:2px;background:linear-gradient(90deg,#0000b4 0px,#000bff 1px,#0085ff 2px,#00d6ff 3px,#06f 4px,#0000d2 5px,#000fff 6px,#0068ff 7px,#00f5ff 8px,#18ffe7 9px,#0053ff 10px,#0000e5 11px,#0000ea 14px,#000cff 16px,#0065ff 20px,#00ebff 25px,#09fff6 26px,#65ff9a 30px,#a0ff5f 32px,#d2ff2d 35px,#f2ff0d 36px,#ffec00 38px,#f7ff08 41px,#b3ff4c 43px,#8bff74 45px,#8cff73 47px,#64ff9b 49px,#67ff98 51px,#54ffab 53px,#6cff93 55px,#93ff6c 57px,#7cff83 59px,#a5ff5a 62px,#c9ff36 67px,#adff52 69px,#d3ff2c 71px,#c9ff36 75px,#e7ff18 77px,#d7ff28 79px,#e7ff18 81px,#a5ff5a 85px,#c0ff3f 87px,#a5ff5a 89px,#afff50 91px,#91ff6e 95px,#a8ff57 97px,#7cff83 99px,#7fff80 100px,#9dff62 103px,#9fff60 106px,#af5 107px,#98ff67 108px,#78ff87 109px,#79ff86 110px,#8bff74 111px,#7cff83 114px,#67ff98 115px,#63ff9c 116px,#79ff86 117px,#7aff85 118px,#63ff9c 119px,#71ff8e 121px,#40ffbf 124px,#28ffd7 125px,#21ffde 126px,#36ffc9 127px,#39ffc6 128px,#1effe1 129px,#13ffec 130px,#17ffe8 131px,#00fbff 133px,#00e0ff 135px,#00e3ff 137px,#00d7ff 138px,#00bcff 139px,#00b2ff 141px,#009fff 148px,#008dff 150px,#0086ff 155px,#0086ff 166px,#0096ff 169px,#009eff 179px,#0095ff 213px,#0096ff 219px,#0090ff 223px,#009eff 233px,#009fff 237px,#00b5ff 242px,#00b6ff 247px,#00c7ff 250px,#02fffd 268px,#0ffff0 278px,#2fd 286px,#2fffd0 289px)"></i>
<i style="height:2px;background:linear-gradient(90deg,#0000b3 0px,#0010ff 1px,#008dff 2px,#00deff 3px,#006fff 4px,#0000cd 5px,#0001fc 6px,#0045ff 7px,#00ceff 8px,#04fdfb 9px,#004cff 10px,#0000e6 11px,#0001fe 15px,#0062ff 20px,#01fefe 26px,#5cffa3 30px,#83ff7c 31px,#cdff32 35px,#efff10 36px,#fff100 37px,#f7ff08 41px,#97ff68 44px,#86ff79 45px,#87ff78 47px,#5cffa3 49px,#5effa1 51px,#4cffb3 52px,#49ffb6 53px,#65ff9a 55px,#8fff70 57px,#7f8 59px,#9aff65 61px,#c7ff38 67px,#a7ff58 69px,#d1ff2e 71px,#c6ff39 75px,#e8ff17 77px,#d7ff28 79px,#e9ff16 81px,#a0ff5f 85px,#beff41 87px,#a0ff5f 89px,#abff54 91px,#8aff75 95px,#a4ff5b 97px,#75ff8a 99px,#78ff87 100px,#92ff6d 102px,#a3ff5c 104px,#a1ff5e 106px,#adff52 107px,#9aff65 108px,#7f8 109px,#78ff87 110px,#8cff73 111px,#7dff82 114px,#65ff9a 115px,#61ff9e 116px,#7aff85 117px,#7bff84 118px,#63ff9c 119px,#72ff8d 121px,#3fffc0 124px,#24ffdb 125px,#1effe1 126px,#37ffc8 127px,#3bffc4 128px,#1effe1 129px,#12ffed 130px,#18ffe7 131px,#00faff 133px,#0df 135px,#00e3ff 137px,#00d5ff 138px,#00b7ff 139px,#00abff 140px,#00a6ff 145px,#009dff 148px,#0089ff 150px,#0084ff 155px,#0083ff 166px,#0094ff 169px,#009fff 179px,#009eff 183px,#009eff 189px,#0098ff 197px,#009fff 204px,#0095ff 207px,#009dff 209px,#0096ff 219px,#008bff 222px,#0096ff 225px,#0097ff 232px,#00a2ff 235px,#009aff 237px,#0af 240px,#00b6ff 245px,#00b0ff 247px,#00c3ff 250px,#00e3ff 260px,#01fffe 268px,#0cfff3 276px,#0cfff3 278px,#1cffe3 286px,#19ffe6 287px)"></i>
<i style="height:2px;background:linear-gradient(90deg,#0000b3 0px,#0015ff 1px,#0095ff 2px,#00e5ff 3px,#07f 4px,#0000c9 5px,#0000ed 6px,#0025ff 7px,#00a9ff 8px,#00ecff 9px,#0046ff 10px,#0000e7 11px,#0007ff 15px,#005eff 20px,#00f7ff 26px,#37ffc8 29px,#7dff82 31px,#c8ff37 35px,#ecff13 36px,#fff400 37px,#f7ff08 41px,#92ff6d 44px,#80ff7f 45px,#83ff7c 47px,#54ffab 49px,#56ffa9 51px,#42ffbd 52px,#3fffc0 53px,#5effa1 55px,#8cff73 57px,#71ff8e 59px,#97ff68 61px,#c4ff3b 67px,#a1ff5e 69px,#ceff31 71px,#c4ff3b 75px,#e9ff16 77px,#d6ff29 79px,#eaff15 81px,#9bff64 85px,#bcff43 87px,#9bff64 89px,#a7ff58 91px,#84ff7b 95px,#a0ff5f 97px,#8eff71 98px,#6eff91 99px,#72ff8d 100px,#8fff70 102px,#a3ff5c 104px,#a2ff5d 106px,#b0ff4f 107px,#9bff64 108px,#75ff8a 109px,#7f8 110px,#8cff73 111px,#7dff82 114px,#64ff9b 115px,#5fffa0 116px,#7aff85 117px,#7cff83 118px,#62ff9d 119px,#63ff9c 120px,#74ff8b 121px,#3dffc2 124px,#21ffde 125px,#1bffe4 126px,#37ffc8 127px,#3cffc3 128px,#1effe1 129px,#1fe 130px,#18ffe7 131px,#00f9ff 133px,#00daff 135px,#00e2ff 137px,#00d3ff 138px,#00b3ff 139px,#00a6ff 140px,#00a3ff 145px,#009bff 148px,#0086ff 150px,#008aff 154px,#007dff 156px,#0085ff 159px,#007fff 166px,#0094ff 168px,#00a1ff 177px,#00a1ff 179px,#009cff 182px,#00a4ff 185px,#009fff 192px,#009eff 195px,#009aff 197px,#00a2ff 204px,#0093ff 206px,#00a0ff 209px,#0095ff 217px,#0097ff 219px,#008aff 222px,#0096ff 225px,#008dff 227px,#0098ff 233px,#00a0ff 235px,#0096ff 237px,#00a9ff 239px,#00b3ff 245px,#0af 247px,#00c0ff 249px,#00d4ff 257px,#00e4ff 259px,#00e0ff 262px,#00f9ff 266px,#10ffef 275px,#04fffb 277px,#18ffe7 282px,#1cffe3 285px)"></i>
<i style="height:2px;background:linear-gradient(90deg,#0000b3 0px,#0019ff 1px,#009cff 2px,#00ebff 3px,#007fff 4px,#0000c5 5px,#0009ff 7px,#08f 8px,#00d9ff 9px,#0041ff 10px,#0000e8 11px,#0002ff 14px,#005bff 20px,#00f0ff 26px,#0bfff4 27px,#30ffcf 29px,#78ff87 31px,#c4ff3b 35px,#e9ff16 36px,#fff600 37px,#f6ff09 41px,#8eff71 44px,#7bff84 45px,#7fff80 47px,#4cffb3 49px,#4fffb0 51px,#39ffc6 52px,#36ffc9 53px,#57ffa8 55px,#89ff76 57px,#6bff94 59px,#93ff6c 61px,#c3ff3c 67px,#9cff63 69px,#cdff32 71px,#c1ff3e 75px,#eaff15 77px,#d6ff29 79px,#ecff13 81px,#96ff69 85px,#baff45 87px,#96ff69 89px,#a4ff5b 91px,#7eff81 95px,#9cff63 97px,#8aff75 98px,#67ff98 99px,#6bff94 100px,#83ff7c 101px,#a3ff5c 104px,#a3ff5c 106px,#b2ff4d 107px,#9cff63 108px,#73ff8c 109px,#76ff89 110px,#8dff72 111px,#7dff82 114px,#62ff9d 115px,#5dffa2 116px,#7bff84 117px,#7dff82 118px,#61ff9e 119px,#63ff9c 120px,#75ff8a 121px,#3cffc3 124px,#1effe1 125px,#18ffe7 126px,#37ffc8 127px,#3effc1 128px,#1dffe2 129px,#10ffef 130px,#19ffe6 131px,#00f8ff 133px,#00d7ff 135px,#00e1ff 137px,#00d2ff 138px,#00aeff 139px,#00a1ff 140px,#00a1ff 145px,#09f 148px,#0083ff 150px,#0089ff 154px,#007bff 156px,#08f 158px,#007dff 166px,#0093ff 168px,#009aff 176px,#00a9ff 178px,#009aff 181px,#00a7ff 185px,#00a3ff 189px,#00a2ff 192px,#00a0ff 195px,#009cff 197px,#00a7ff 202px,#09f 207px,#00a3ff 209px,#0095ff 217px,#0098ff 219px,#0089ff 222px,#0095ff 225px,#008cff 227px,#0092ff 229px,#008cff 231px,#009eff 235px,#0092ff 237px,#00a6ff 239px,#00b0ff 245px,#00a6ff 247px,#00bdff 249px,#00d0ff 257px,#00e2ff 259px,#0df 262px,#00f8ff 265px,#0bfff4 274px,#08fff7 276px,#07fff8 278px,#15ffea 283px)"></i>
<i style="height:2px;background:linear-gradient(90deg,#0000b3 0px,#001cff 1px,#00a2ff 2px,#00f0ff 3px,#0085ff 4px,#0000c1 5px,#0000f0 7px,#006dff 8px,#00caff 9px,#003cff 10px,#0000e9 11px,#0008ff 14px,#0059ff 20px,#00cbff 25px,#06fff9 27px,#29ffd6 29px,#74ff8b 31px,#c0ff3f 35px,#fff800 37px,#efff10 39px,#fdff02 40px,#f6ff09 41px,#8aff75 44px,#7f8 45px,#7cff83 47px,#46ffb9 49px,#49ffb6 51px,#32ffcd 52px,#2effd1 53px,#52ffad 55px,#87ff78 57px,#6f9 59px,#90ff6f 61px,#c1ff3e 67px,#97ff68 69px,#cbff34 71px,#beff41 75px,#ebff14 77px,#d5ff2a 79px,#edff12 81px,#91ff6e 85px,#b8ff47 87px,#92ff6d 89px,#a1ff5e 91px,#79ff86 95px,#9aff65 97px,#86ff79 98px,#61ff9e 99px,#6f9 100px,#80ff7f 101px,#a3ff5c 104px,#a3ff5c 106px,#b4ff4b 107px,#9dff62 108px,#72ff8d 109px,#74ff8b 110px,#8eff71 111px,#7dff82 114px,#60ff9f 115px,#5bffa4 116px,#7bff84 117px,#7dff82 118px,#60ff9f 119px,#62ff9d 120px,#76ff89 121px,#3bffc4 124px,#1bffe4 125px,#15ffea 126px,#37ffc8 127px,#3fffc0 128px,#1cffe3 129px,#0ffff0 130px,#19ffe6 131px,#00f8ff 133px,#00d4ff 135px,#00e0ff 137px,#00d1ff 138px,#00abff 139px,#009dff 140px,#009fff 145px,#0098ff 148px,#0081ff 150px,#0089ff 154px,#007aff 156px,#08f 158px,#007bff 166px,#0093ff 168px,#009aff 176px,#0af 178px,#009bff 181px,#00a9ff 185px,#00a5ff 189px,#00a0ff 191px,#00a9ff 194px,#009aff 196px,#00a7ff 199px,#00a0ff 205px,#0096ff 206px,#00a5ff 209px,#0096ff 217px,#009fff 218px,#08f 221px,#0095ff 225px,#008aff 227px,#0091ff 229px,#008aff 231px,#009cff 235px,#008fff 237px,#00a5ff 239px,#00adff 245px,#00a2ff 247px,#00baff 249px,#00cdff 257px,#00e0ff 259px,#00daff 262px,#00f7ff 265px,#00fcff 268px,#0efff1 275px,#00fdff 277px,#10ffef 280px)"></i>
<i style="height:2px;background:linear-gradient(90deg,#0000b3 0px,#001eff 1px,#00a6ff 2px,#00f3ff 3px,#0089ff 4px,#0000bf 5px,#0000e0 7px,#005bff 8px,#00c0ff 9px,#0039ff 10px,#0000ea 11px,#00f 13px,#0057ff 20px,#00c6ff 25px,#02fffd 27px,#25ffda 29px,#4fb 30px,#71ff8e 31px,#bdff42 35px,#fffa00 37px,#ebff14 39px,#fbff04 40px,#f6ff09 41px,#87ff78 44px,#73ff8c 45px,#7aff85 47px,#42ffbd 49px,#45ffba 51px,#2dffd2 52px,#29ffd6 53px,#4effb1 55px,#86ff79 57px,#62ff9d 59px,#8eff71 61px,#c0ff3f 67px,#93ff6c 69px,#caff35 71px,#c4ff3b 74px,#bcff43 75px,#ebff14 77px,#d5ff2a 79px,#edff12 81px,#8eff71 85px,#b7ff48 87px,#af5 88px,#8fff70 89px,#9fff60 91px,#75ff8a 95px,#98ff67 97px,#83ff7c 98px,#5cffa3 99px,#62ff9d 100px,#7dff82 101px,#a2ff5d 104px,#9cff63 105px,#b5ff4a 107px,#9dff62 108px,#70ff8f 109px,#73ff8c 110px,#8eff71 111px,#7cff83 114px,#5effa1 115px,#59ffa6 116px,#7bff84 117px,#7eff81 118px,#5fffa0 119px,#62ff9d 120px,#7f8 121px,#50ffaf 123px,#18ffe7 125px,#13ffec 126px,#37ffc8 127px,#40ffbf 128px,#1cffe3 129px,#0ffff0 130px,#19ffe6 131px,#00f7ff 133px,#00d3ff 135px,#00e0ff 137px,#00cfff 138px,#00a8ff 139px,#009aff 140px,#00a4ff 144px,#0097ff 148px,#007fff 150px,#08f 154px,#0079ff 156px,#08f 158px,#0086ff 161px,#007aff 166px,#0093ff 168px,#009bff 176px,#00acff 178px,#009cff 181px,#00abff 185px,#00a6ff 189px,#00a1ff 191px,#00abff 194px,#009bff 196px,#00a9ff 199px,#00a2ff 205px,#0097ff 206px,#00a7ff 209px,#0097ff 217px,#00a0ff 218px,#0087ff 221px,#0095ff 225px,#0089ff 227px,#0090ff 229px,#0089ff 231px,#009bff 235px,#008dff 237px,#00a4ff 239px,#00acff 245px,#009fff 247px,#00b9ff 249px,#00cbff 257px,#00dfff 259px,#00d8ff 262px,#00f6ff 265px,#00f2ff 267px,#00feff 271px,#0dfff2 275px,#03fffc 278px)"></i>
<i style="height:14px;background:linear-gradient(90deg,#0000b3 0px,#001fff 1px,#00a7ff 2px,#00f3ff 3px,#008aff 4px,#0000be 5px,#0000d7 7px,#0050ff 8px,#00b9ff 9px,#0037ff 10px,#0000ea 11px,#0001ff 13px,#05f 20px,#00c3ff 25px,#00fdff 27px,#21ffde 29px,#40ffbf 30px,#6eff91 31px,#baff45 35px,#fffd00 37px,#e6ff19 39px,#f8ff07 40px,#f4ff0b 41px,#84ff7b 44px,#70ff8f 45px,#7f8 47px,#3effc1 49px,#42ffbd 51px,#28ffd7 52px,#25ffda 53px,#4affb5 55px,#83ff7c 57px,#5effa1 59px,#8bff74 61px,#bdff42 67px,#8fff70 69px,#c7ff38 71px,#c1ff3e 74px,#b9ff46 75px,#e9ff16 77px,#d2ff2d 79px,#ecff13 81px,#8aff75 85px,#b5ff4a 87px,#a8ff57 88px,#8cff73 89px,#9cff63 91px,#71ff8e 95px,#95ff6a 97px,#80ff7f 98px,#58ffa7 99px,#5effa1 100px,#7aff85 101px,#a1ff5e 104px,#9aff65 105px,#b4ff4b 107px,#9bff64 108px,#6dff92 109px,#70ff8f 110px,#8cff73 111px,#86ff79 113px,#7aff85 114px,#5cffa3 115px,#57ffa8 116px,#79ff86 117px,#7cff83 118px,#5dffa2 119px,#60ff9f 120px,#76ff89 121px,#4effb1 123px,#15ffea 125px,#10ffef 126px,#36ffc9 127px,#3fffc0 128px,#1affe5 129px,#0dfff2 130px,#18ffe7 131px,#00f5ff 133px,#00d1ff 135px,#00dfff 137px,#00ceff 138px,#00a6ff 139px,#0098ff 140px,#00a2ff 144px,#0095ff 148px,#007dff 150px,#0087ff 154px,#07f 156px,#0087ff 158px,#0084ff 161px,#0078ff 166px,#0092ff 168px,#009aff 176px,#00acff 178px,#009bff 181px,#00abff 185px,#00a6ff 189px,#00a1ff 191px,#00abff 194px,#009bff 196px,#00a9ff 199px,#00a1ff 205px,#0097ff 206px,#00a7ff 209px,#0096ff 217px,#009fff 218px,#0086ff 221px,#0094ff 225px,#08f 227px,#008fff 229px,#0087ff 231px,#009aff 235px,#008bff 237px,#00a2ff 239px,#0af 245px,#009dff 247px,#00b7ff 249px,#00c3ff 254px,#00c9ff 257px,#0df 259px,#00d6ff 262px,#00f4ff 265px,#00f0ff 267px,#00fdff 270px,#0bfff4 275px,#03fffc 276px)"></i>
<i style="height:14px;background:linear-gradient(90deg,#0000b2 0px,#001eff 1px,#00a5ff 2px,#00f1ff 3px,#08f 4px,#0000bd 5px,#0000d7 7px,#004eff 8px,#00b7ff 9px,#0036ff 10px,#0000e9 11px,#0001ff 13px,#0054ff 20px,#00c1ff 25px,#00fbff 27px,#1effe1 29px,#3dffc2 30px,#6aff95 31px,#b6ff49 35px,#fdff02 37px,#e2ff1d 39px,#f4ff0b 40px,#f0ff0f 41px,#80ff7f 44px,#6cff93 45px,#73ff8c 47px,#3bffc4 49px,#3fffc0 51px,#26ffd9 52px,#2fd 53px,#47ffb8 55px,#80ff7f 57px,#5bffa4 59px,#8f7 61px,#b9ff46 67px,#8cff73 69px,#c3ff3c 71px,#bdff42 74px,#b5ff4a 75px,#e5ff1a 77px,#ceff31 79px,#e8ff17 81px,#86ff79 85px,#b1ff4e 87px,#a4ff5b 88px,#8f7 89px,#98ff67 91px,#6eff91 95px,#92ff6d 97px,#7dff82 98px,#5fa 99px,#5bffa4 100px,#7f8 101px,#9dff62 104px,#96ff69 105px,#b1ff4e 107px,#98ff67 108px,#6aff95 109px,#6dff92 110px,#8f7 111px,#83ff7c 113px,#7f8 114px,#58ffa7 115px,#54ffab 116px,#76ff89 117px,#79ff86 118px,#59ffa6 119px,#5dffa2 120px,#72ff8d 121px,#4bffb4 123px,#12ffed 125px,#0dfff2 126px,#3fc 127px,#3cffc3 128px,#17ffe8 129px,#0afff5 130px,#15ffea 131px,#00f3ff 133px,#00ceff 135px,#00dcff 137px,#0cf 138px,#00a4ff 139px,#0096ff 140px,#00a0ff 144px,#0093ff 148px,#007bff 150px,#0085ff 154px,#0076ff 156px,#0085ff 158px,#0083ff 161px,#0076ff 166px,#0090ff 168px,#0098ff 176px,#0af 178px,#09f 181px,#00a9ff 185px,#00a4ff 189px,#009fff 191px,#00a9ff 194px,#09f 196px,#00a7ff 199px,#009fff 205px,#0095ff 206px,#00a5ff 209px,#0095ff 217px,#009dff 218px,#0084ff 221px,#0092ff 225px,#0086ff 227px,#008dff 229px,#0085ff 231px,#0098ff 235px,#0089ff 237px,#00a0ff 239px,#00a8ff 245px,#009bff 247px,#00b5ff 249px,#00c1ff 254px,#00c7ff 257px,#00dbff 259px,#00d4ff 260px)"></i>
<i style="height:14px;background:linear-gradient(90deg,#0000b2 0px,#001dff 1px,#00a3ff 2px,#0ef 3px,#0086ff 4px,#0000bd 5px,#0000d6 7px,#004dff 8px,#00b5ff 9px,#0034ff 10px,#0000e8 11px,#00f 13px,#0052ff 20px,#00beff 25px,#00f8ff 27px,#1bffe4 29px,#3affc5 30px,#67ff98 31px,#b2ff4d 35px,#f8ff07 37px,#deff21 39px,#f0ff0f 40px,#ecff13 41px,#7cff83 44px,#68ff97 45px,#70ff8f 47px,#38ffc7 49px,#3cffc3 51px,#23ffdc 52px,#1fffe0 53px,#4fb 55px,#7cff83 57px,#57ffa8 59px,#84ff7b 61px,#b6ff49 67px,#8f7 69px,#bfff40 71px,#b9ff46 74px,#b1ff4e 75px,#e1ff1e 77px,#caff35 79px,#e4ff1b 81px,#83ff7c 85px,#adff52 87px,#a0ff5f 88px,#85ff7a 89px,#95ff6a 91px,#6aff95 95px,#8eff71 97px,#79ff86 98px,#51ffae 99px,#57ffa8 100px,#73ff8c 101px,#9f6 104px,#92ff6d 105px,#adff52 107px,#94ff6b 108px,#6f9 109px,#69ff96 110px,#85ff7a 111px,#7fff80 113px,#74ff8b 114px,#5fa 115px,#50ffaf 116px,#73ff8c 117px,#76ff89 118px,#56ffa9 119px,#5affa5 120px,#6fff90 121px,#48ffb7 123px,#0ffff0 125px,#0afff5 126px,#30ffcf 127px,#39ffc6 128px,#15ffea 129px,#07fff8 130px,#13ffec 131px,#07fff8 132px,#0cf 135px,#00daff 137px,#00caff 138px,#00a2ff 139px,#0094ff 140px,#009eff 144px,#0091ff 148px,#0079ff 150px,#0083ff 154px,#0074ff 156px,#0083ff 158px,#0081ff 161px,#0075ff 166px,#008eff 168px,#0096ff 176px,#00a8ff 178px,#0097ff 181px,#00a7ff 185px,#00a2ff 189px,#009dff 191px,#00a7ff 194px,#0097ff 196px,#00a5ff 199px,#009dff 205px,#0093ff 206px,#00a3ff 209px,#0093ff 217px,#009cff 218px,#0083ff 221px,#0090ff 225px,#0085ff 227px,#008bff 229px,#0084ff 231px,#0096ff 235px,#08f 237px,#009eff 239px,#00a7ff 244px)"></i>
<i style="height:14px;background:linear-gradient(90deg,#0000b1 0px,#001cff 1px,#00a1ff 2px,#00ecff 3px,#0085ff 4px,#0000bc 5px,#0000d5 7px,#004bff 8px,#00b3ff 9px,#03f 10px,#0000e7 11px,#000aff 14px,#0051ff 20px,#00bcff 25px,#00f6ff 27px,#04fffb 28px,#37ffc8 30px,#64ff9b 31px,#aeff51 35px,#f4ff0b 37px,#daff25 39px,#ecff13 40px,#e8ff17 41px,#79ff86 44px,#65ff9a 45px,#6dff92 47px,#35ffca 49px,#39ffc6 51px,#20ffdf 52px,#1cffe3 53px,#41ffbe 55px,#79ff86 57px,#54ffab 59px,#80ff7f 61px,#b2ff4d 67px,#84ff7b 69px,#bf4 71px,#b5ff4a 74px,#adff52 75px,#df2 77px,#c6ff39 79px,#e0ff1f 81px,#7fff80 85px,#a9ff56 87px,#9dff62 88px,#81ff7e 89px,#91ff6e 91px,#67ff98 95px,#8bff74 97px,#76ff89 98px,#4effb1 99px,#54ffab 100px,#70ff8f 101px,#96ff69 104px,#8fff70 105px,#a9ff56 107px,#91ff6e 108px,#63ff9c 109px,#6f9 110px,#81ff7e 111px,#7cff83 113px,#70ff8f 114px,#51ffae 115px,#4dffb2 116px,#6fff90 117px,#72ff8d 118px,#53ffac 119px,#56ffa9 120px,#6cff93 121px,#45ffba 123px,#0cfff3 125px,#07fff8 126px,#2dffd2 127px,#36ffc9 128px,#12ffed 129px,#04fffb 130px,#10ffef 131px,#05fffa 132px,#00caff 135px,#00d8ff 137px,#00c7ff 138px,#00a0ff 139px,#0091ff 140px,#009cff 144px,#0090ff 148px,#0078ff 150px,#0081ff 154px,#0072ff 156px,#0081ff 158px,#007fff 161px,#0073ff 166px,#008cff 168px,#0094ff 176px,#00a6ff 178px,#0095ff 181px,#00a5ff 185px,#00a0ff 189px,#009bff 191px,#00a5ff 194px,#0095ff 196px,#00a3ff 199px,#009bff 205px,#0091ff 206px,#00a1ff 209px,#0091ff 217px,#009aff 218px,#0081ff 221px,#008fff 225px,#0083ff 227px)"></i>
<i style="height:14px;background:linear-gradient(90deg,#0000b1 0px,#001bff 1px,#009fff 2px,#00e9ff 3px,#0083ff 4px,#0000bc 5px,#0000d5 7px,#004aff 8px,#00b0ff 9px,#0032ff 10px,#0000e7 11px,#0009ff 14px,#004fff 20px,#00baff 25px,#00f3ff 27px,#01fffe 28px,#34ffcb 30px,#61ff9e 31px,#af5 35px,#f0ff0f 37px,#d6ff29 39px,#e8ff17 40px,#e4ff1b 41px,#75ff8a 44px,#61ff9e 45px,#69ff96 47px,#32ffcd 49px,#36ffc9 51px,#1dffe2 52px,#19ffe6 53px,#3effc1 55px,#76ff89 57px,#50ffaf 59px,#7dff82 61px,#aeff51 67px,#80ff7f 69px,#b8ff47 71px,#b1ff4e 74px,#a9ff56 75px,#d9ff26 77px,#c2ff3d 79px,#dcff23 81px,#7bff84 85px,#a6ff59 87px,#9f6 88px,#7dff82 89px,#8eff71 91px,#64ff9b 95px,#8f7 97px,#72ff8d 98px,#4affb5 99px,#50ffaf 100px,#6cff93 101px,#92ff6d 104px,#8bff74 105px,#a6ff59 107px,#8dff72 108px,#5fffa0 109px,#62ff9d 110px,#7eff81 111px,#78ff87 113px,#6dff92 114px,#4effb1 115px,#49ffb6 116px,#6cff93 117px,#6fff90 118px,#50ffaf 119px,#53ffac 120px,#69ff96 121px,#42ffbd 123px,#09fff6 125px,#04fffb 126px,#2affd5 127px,#3fc 128px,#0ffff0 129px,#02fffd 130px,#0dfff2 131px,#02fffd 132px,#00c7ff 135px,#00d6ff 137px,#00c5ff 138px,#009eff 139px,#008fff 140px,#009bff 144px,#008eff 148px,#0076ff 150px,#0080ff 154px,#0070ff 156px,#0080ff 158px,#007eff 161px,#0071ff 166px,#008aff 168px,#0092ff 176px,#00a4ff 178px,#0094ff 181px,#00a3ff 185px,#009eff 189px,#09f 191px,#00a3ff 194px,#0093ff 196px,#00a1ff 199px,#09f 205px,#008fff 206px,#009fff 209px,#0096ff 211px)"></i>
<i style="height:14px;background:linear-gradient(90deg,#0000b1 0px,#001aff 1px,#009dff 2px,#00e7ff 3px,#0081ff 4px,#00b 5px,#0000d4 7px,#0049ff 8px,#00aeff 9px,#0031ff 10px,#0000e6 11px,#0009ff 14px,#004eff 20px,#00b8ff 25px,#00f1ff 27px,#00fdff 28px,#31ffce 30px,#5dffa2 31px,#a6ff59 35px,#ecff13 37px,#d1ff2e 39px,#e4ff1b 40px,#e0ff1f 41px,#71ff8e 44px,#5effa1 45px,#6f9 47px,#2fffd0 49px,#3fc 51px,#1affe5 52px,#16ffe9 53px,#3bffc4 55px,#72ff8d 57px,#4dffb2 59px,#79ff86 61px,#abff54 67px,#7cff83 69px,#b4ff4b 71px,#adff52 74px,#a5ff5a 75px,#d5ff2a 77px,#beff41 79px,#d8ff27 81px,#7f8 85px,#a2ff5d 87px,#95ff6a 88px,#7aff85 89px,#8aff75 91px,#60ff9f 95px,#84ff7b 97px,#6fff90 98px,#47ffb8 99px,#4dffb2 100px,#69ff96 101px,#8fff70 104px,#8f7 105px,#a2ff5d 107px,#8aff75 108px,#5bffa4 109px,#5fffa0 110px,#7aff85 111px,#75ff8a 113px,#69ff96 114px,#4bffb4 115px,#46ffb9 116px,#69ff96 117px,#6cff93 118px,#4cffb3 119px,#50ffaf 120px,#6f9 121px,#3fffc0 123px,#06fff9 125px,#01fffe 126px,#27ffd8 127px,#30ffcf 128px,#0cfff3 129px,#00feff 130px,#0bfff4 131px,#00feff 132px,#00c5ff 135px,#00d3ff 137px,#00c3ff 138px,#009bff 139px,#008dff 140px,#09f 144px,#008cff 148px,#0074ff 150px,#007eff 154px,#006fff 156px,#007eff 158px,#007cff 161px,#006fff 166px,#08f 168px,#0090ff 176px,#00a2ff 178px,#0092ff 181px,#00a1ff 185px,#009cff 189px,#0097ff 191px,#00a1ff 194px,#009aff 195px)"></i>
<i style="height:14px;background:linear-gradient(90deg,#0000b0 0px,#0018ff 1px,#009bff 2px,#00e4ff 3px,#007fff 4px,#00b 5px,#0000d4 7px,#0047ff 8px,#00acff 9px,#002fff 10px,#0000e5 11px,#0008ff 14px,#004cff 20px,#00b6ff 25px,#0ef 27px,#00fbff 28px,#0ffff0 29px,#5affa5 31px,#a2ff5d 35px,#e7ff18 37px,#cdff32 39px,#e0ff1f 40px,#dbff24 41px,#6eff91 44px,#5affa5 45px,#63ff9c 47px,#2bffd4 49px,#30ffcf 51px,#17ffe8 52px,#13ffec 53px,#38ffc7 55px,#6fff90 57px,#49ffb6 59px,#76ff89 61px,#a7ff58 67px,#79ff86 69px,#b0ff4f 71px,#a9ff56 74px,#a1ff5e 75px,#d1ff2e 77px,#baff45 79px,#d4ff2b 81px,#73ff8c 85px,#9eff61 87px,#92ff6d 88px,#76ff89 89px,#87ff78 91px,#5dffa2 95px,#81ff7e 97px,#6cff93 98px,#4fb 99px,#49ffb6 100px,#65ff9a 101px,#8bff74 104px,#84ff7b 105px,#9fff60 107px,#86ff79 108px,#58ffa7 109px,#5bffa4 110px,#7f8 111px,#71ff8e 113px,#6f9 114px,#47ffb8 115px,#43ffbc 116px,#65ff9a 117px,#68ff97 118px,#49ffb6 119px,#4dffb2 120px,#62ff9d 121px,#3bffc4 123px,#03fffc 125px,#00fdff 126px,#24ffdb 127px,#2dffd2 128px,#09fff6 129px,#00fbff 130px,#08fff7 131px,#00fcff 132px,#00c3ff 135px,#00d1ff 137px,#00c1ff 138px,#09f 139px,#008bff 140px,#0097ff 144px,#008aff 148px,#0072ff 150px,#007cff 154px,#006dff 156px,#007cff 158px,#007aff 161px,#006eff 166px,#0087ff 168px,#008eff 176px,#00a0ff 178px,#0098ff 179px)"></i>
<i style="height:14px;background:linear-gradient(90deg,#0000b0 0px,#0017ff 1px,#09f 2px,#00e1ff 3px,#007dff 4px,#00b 5px,#0000d3 7px,#0046ff 8px,#0af 9px,#002eff 10px,#0000e4 11px,#0007ff 14px,#004bff 20px,#00b4ff 25px,#00ecff 27px,#0cfff3 29px,#57ffa8 31px,#9eff61 35px,#e3ff1c 37px,#c9ff36 39px,#dcff23 40px,#d7ff28 41px,#6aff95 44px,#57ffa8 45px,#60ff9f 47px,#28ffd7 49px,#2dffd2 51px,#14ffeb 52px,#10ffef 53px,#35ffca 55px,#6cff93 57px,#46ffb9 59px,#72ff8d 61px,#a3ff5c 67px,#75ff8a 69px,#acff53 71px,#a5ff5a 74px,#9dff62 75px,#cdff32 77px,#b6ff49 79px,#d0ff2f 81px,#70ff8f 85px,#9bff64 87px,#8eff71 88px,#73ff8c 89px,#83ff7c 91px,#59ffa6 95px,#7dff82 97px,#68ff97 98px,#40ffbf 99px,#46ffb9 100px,#62ff9d 101px,#87ff78 104px,#80ff7f 105px,#9bff64 107px,#82ff7d 108px,#54ffab 109px,#58ffa7 110px,#73ff8c 111px,#6eff91 113px,#62ff9d 114px,#4fb 115px,#3fffc0 116px,#62ff9d 117px,#65ff9a 118px,#46ffb9 119px,#49ffb6 120px,#5fffa0 121px,#38ffc7 123px,#01fffe 125px,#00faff 126px,#21ffde 127px,#2bffd4 128px,#07fff8 129px,#00f9ff 132px,#00c0ff 135px,#00cfff 137px,#00bfff 138px,#0097ff 139px,#0089ff 140px,#0095ff 144px,#08f 148px,#0070ff 150px,#007aff 154px,#006bff 156px,#007aff 158px,#0078ff 161px,#07f 163px)"></i>
<i style="height:14px;background:linear-gradient(90deg,#0000b0 0px,#0016ff 1px,#0097ff 2px,#00dfff 3px,#007cff 4px,#0000ba 5px,#0000d2 7px,#04f 8px,#00a8ff 9px,#002dff 10px,#0000e4 11px,#0006ff 14px,#0049ff 20px,#00b1ff 25px,#00e9ff 27px,#09fff6 29px,#53ffac 31px,#9aff65 35px,#dfff20 37px,#c5ff3a 39px,#d8ff27 40px,#d3ff2c 41px,#6f9 44px,#53ffac 45px,#5cffa3 47px,#25ffda 49px,#2affd5 51px,#1fe 52px,#0dfff2 53px,#31ffce 55px,#68ff97 57px,#42ffbd 59px,#6fff90 61px,#9fff60 67px,#71ff8e 69px,#a8ff57 71px,#a1ff5e 74px,#9f6 75px,#c9ff36 77px,#b2ff4d 79px,#cf3 81px,#6cff93 85px,#97ff68 87px,#8aff75 88px,#6fff90 89px,#7fff80 91px,#56ffa9 95px,#7aff85 97px,#65ff9a 98px,#3dffc2 99px,#42ffbd 100px,#5effa1 101px,#84ff7b 104px,#7dff82 105px,#97ff68 107px,#7fff80 108px,#51ffae 109px,#54ffab 110px,#70ff8f 111px,#6bff94 113px,#5fffa0 114px,#40ffbf 115px,#3cffc3 116px,#5fffa0 117px,#62ff9d 118px,#42ffbd 119px,#46ffb9 120px,#5cffa3 121px,#35ffca 123px,#00fcff 125px,#00f7ff 126px,#1effe1 127px,#28ffd7 128px,#04fffb 129px,#00f6ff 130px,#02fffd 131px,#00d3ff 134px,#00beff 135px,#0cf 137px,#00bdff 138px,#0095ff 139px,#0087ff 140px,#0093ff 144px,#0089ff 147px)"></i>
<i style="height:14px;background:linear-gradient(90deg,#0000af 0px,#0015ff 1px,#0095ff 2px,#00dcff 3px,#007aff 4px,#0000ba 5px,#0000d2 7px,#0043ff 8px,#00a6ff 9px,#002cff 10px,#0000e3 11px,#0005ff 14px,#0048ff 20px,#00afff 25px,#00e6ff 27px,#06fff9 29px,#50ffaf 31px,#96ff69 35px,#dbff24 37px,#c1ff3e 39px,#d3ff2c 40px,#cfff30 41px,#62ff9d 44px,#4fffb0 45px,#59ffa6 47px,#2fd 49px,#27ffd8 51px,#0ffff0 52px,#0bfff4 53px,#2effd1 55px,#65ff9a 57px,#3fffc0 59px,#6bff94 61px,#9cff63 67px,#6dff92 69px,#a4ff5b 71px,#9dff62 74px,#95ff6a 75px,#c4ff3b 77px,#aeff51 79px,#c8ff37 81px,#68ff97 85px,#93ff6c 87px,#87ff78 88px,#6bff94 89px,#7cff83 91px,#52ffad 95px,#7f8 97px,#61ff9e 98px,#39ffc6 99px,#3fffc0 100px,#5bffa4 101px,#80ff7f 104px,#79ff86 105px,#94ff6b 107px,#7bff84 108px,#4dffb2 109px,#50ffaf 110px,#6cff93 111px,#67ff98 113px,#5cffa3 114px,#3dffc2 115px,#38ffc7 116px,#5bffa4 117px,#5effa1 118px,#3fffc0 119px,#43ffbc 120px,#59ffa6 121px,#32ffcd 123px,#00f9ff 125px,#00f4ff 126px,#1cffe3 127px,#25ffda 128px,#01fffe 129px,#00f3ff 130px,#00feff 131px)"></i>
<i style="height:14px;background:linear-gradient(90deg,#0000af 0px,#0014ff 1px,#0093ff 2px,#00daff 3px,#0078ff 4px,#0000b9 5px,#0000d1 7px,#0042ff 8px,#00a4ff 9px,#002aff 10px,#0000e2 11px,#0004ff 14px,#0047ff 20px,#00adff 25px,#00e4ff 27px,#03fffc 29px,#4dffb2 31px,#92ff6d 35px,#d6ff29 37px,#bcff43 39px,#cfff30 40px,#cbff34 41px,#5fffa0 44px,#4cffb3 45px,#56ffa9 47px,#1fffe0 49px,#24ffdb 51px,#0cfff3 52px,#08fff7 53px,#2bffd4 55px,#62ff9d 57px,#3bffc4 59px,#67ff98 61px,#98ff67 67px,#69ff96 69px,#a0ff5f 71px,#9f6 74px,#91ff6e 75px,#c0ff3f 77px,#a9ff56 79px,#c4ff3b 81px,#64ff9b 85px,#8fff70 87px,#83ff7c 88px,#68ff97 89px,#78ff87 91px,#4fffb0 95px,#73ff8c 97px,#5effa1 98px,#36ffc9 99px,#3bffc4 100px,#57ffa8 101px,#7dff82 104px,#75ff8a 105px,#90ff6f 107px,#78ff87 108px,#4affb5 109px,#4dffb2 110px,#69ff96 111px,#64ff9b 113px,#58ffa7 114px,#3affc5 115px)"></i>
<i style="height:14px;background:linear-gradient(90deg,#0000af 0px,#0013ff 1px,#0091ff 2px,#00d7ff 3px,#0076ff 4px,#0000b9 5px,#0000d1 7px,#0040ff 8px,#00a2ff 9px,#0029ff 10px,#0000e2 11px,#0003ff 14px,#0045ff 20px,#00abff 25px,#00e1ff 27px,#01fffe 29px,#4affb5 31px,#8eff71 35px,#d2ff2d 37px,#b8ff47 39px,#cbff34 40px,#c7ff38 41px,#5bffa4 44px,#48ffb7 45px,#52ffad 47px,#1cffe3 49px,#21ffde 51px,#09fff6 52px,#05fffa 53px,#28ffd7 55px,#5effa1 57px,#38ffc7 59px,#64ff9b 61px,#94ff6b 67px,#6f9 69px,#9cff63 71px,#95ff6a 74px,#8dff72 75px,#bcff43 77px,#a5ff5a 79px,#c0ff3f 81px,#60ff9f 85px,#8cff73 87px,#7fff80 88px,#64ff9b 89px,#75ff8a 91px,#4cffb3 95px,#70ff8f 97px,#5affa5 98px,#32ffcd 99px)"></i>
<i style="height:14px;background:linear-gradient(90deg,#0000ae 0px,#0012ff 1px,#008fff 2px,#00d5ff 3px,#0074ff 4px,#0000b8 5px,#0000d0 7px,#003fff 8px,#009fff 9px,#0028ff 10px,#0000e1 11px,#0002ff 14px,#04f 20px,#00a9ff 25px,#00dfff 27px,#00fcff 29px,#1cffe3 30px,#46ffb9 31px,#8aff75 35px,#ceff31 37px,#b4ff4b 39px,#c7ff38 40px,#c3ff3c 41px,#57ffa8 44px,#45ffba 45px,#4fffb0 47px,#19ffe6 49px,#1effe1 51px,#06fff9 52px,#02fffd 53px,#25ffda 55px,#5bffa4 57px,#34ffcb 59px,#60ff9f 61px,#90ff6f 67px,#62ff9d 69px,#9f6 71px,#91ff6e 74px,#89ff76 75px,#b8ff47 77px,#a1ff5e 79px,#bcff43 81px,#8aff75 83px)"></i>
<i style="height:14px;background:linear-gradient(90deg,#0000ae 0px,#01f 1px,#008dff 2px,#00d2ff 3px,#0073ff 4px,#0000b8 5px,#0000cf 7px,#003dff 8px,#009dff 9px,#0027ff 10px,#0000e0 11px,#0001ff 14px,#0042ff 20px,#00a7ff 25px,#00dcff 27px,#00f9ff 29px,#19ffe6 30px,#43ffbc 31px,#86ff79 35px,#caff35 37px,#b0ff4f 39px,#c3ff3c 40px,#bfff40 41px,#54ffab 44px,#41ffbe 45px,#4cffb3 47px,#16ffe9 49px,#1bffe4 51px,#03fffc 52px,#00feff 53px,#2fd 55px,#58ffa7 57px,#31ffce 59px,#5dffa2 61px,#8dff72 67px)"></i>
<i style="height:16px;background:linear-gradient(90deg,#0000ae 0px,#0010ff 1px,#008bff 2px,#00d0ff 3px,#0071ff 4px,#0000b8 5px,#0000cf 7px,#003cff 8px,#009bff 9px,#0025ff 10px,#0000df 11px,#00f 14px,#0041ff 20px,#00a4ff 25px,#00daff 27px,#00f6ff 29px,#15ffea 30px,#40ffbf 31px,#82ff7d 35px,#c5ff3a 37px,#abff54 39px,#bfff40 40px,#bf4 41px,#50ffaf 44px,#3dffc2 45px,#48ffb7 47px,#12ffed 49px,#18ffe7 51px)"></i>
<i style="height:16px;background:linear-gradient(90deg,#0000ad 0px,#000eff 1px,#08f 2px,#00cdff 3px,#006fff 4px,#0000b7 5px,#0000ce 7px,#003aff 8px,#09f 9px,#0024ff 10px,#0000df 11px,#0009ff 15px,#003fff 20px,#00a2ff 25px,#00d7ff 27px,#00f3ff 29px,#12ffed 30px,#3cffc3 31px,#50ffaf 32px)"></i>
<i style="height:10px;background:linear-gradient(90deg,#0000ad 0px,#000dff 1px,#0087ff 2px,#00caff 3px,#006dff 4px,#0000b7 5px,#0000ce 7px,#0039ff 8px,#0097ff 9px,#0023ff 10px,#0000de 11px,#0000fd 14px)"></i>
</div>
<div class="hm" style="left:137.8px;top:792px;width:707px;height:629px">
<i style="height:1px;background:linear-gradient(90deg,#0042ff 0px,#0042ff 243px,#002eff 244px,#002eff 461px,#004dff 462px,#004dff 706px)"></i>
<i style="height:1px;background:linear-gradient(90deg,#0042ff 0px,#0042ff 243px,#002eff 244px,#002eff 461px,#004dff 462px,#004dff 706px)"></i>
<i style="height:1px;background:linear-gradient(90deg,#0042ff 0px,#0042ff 243px,#002eff 244px,#002eff 461px,#2effd1 462px,#2effd1 706px)"></i>
<i style="height:1px;background:linear-gradient(90deg,#0042ff 0px,#0042ff 243px,#002eff 244px,#002eff 461px,#2effd1 462px,#2effd1 706px)"></i>
<i style="height:1px;background:linear-gradient(90deg,#0042ff 0px,#0042ff 243px,#00f0ff 244px,#00f0ff 461px,#ff9e00 462px,#ff9600 537px,#ff2400 643px,#ff2400 705px)"></i>
<i style="height:1px;background:linear-gradient(90deg,#0042ff 0px,#0042ff 243px,#00f0ff 244px,#00f0ff 461px,#ff9e00 462px,#ff9600 537px,#ff2400 643px,#ff2400 704px)"></i>
<i style="height:1px;background:linear-gradient(90deg,#0042ff 0px,#0042ff 7px,#ff0500 8px,#ff0500 243px,#ff0f00 247px,#ff0f00 461px,#ff9e00 462px,#ff9600 537px,#ff2400 643px,#ff2400 703px)"></i>
<i style="height:1px;background:linear-gradient(90deg,#0042ff 0px,#0042ff 7px,#ff0500 8px,#ff0500 243px,#ff0f00 247px,#ff0f00 461px,#ff9e00 462px,#ff9600 537px,#ff2400 643px,#ff2400 702px)"></i>
<i style="height:1px;background:linear-gradient(90deg,#0042ff 0px,#0042ff 7px,#ff0500 8px,#ff0500 10px,#800000 11px,#ff0500 12px,#ff0500 243px,#ff0f00 247px,#ff0f00 461px,#ff9e00 462px,#ff9600 537px,#ff2400 643px,#ff2400 701px)"></i>
<i style="height:1px;background:linear-gradient(90deg,#0042ff 0px,#0042ff 7px,#ff0500 8px,#ff0500 10px,#800000 11px,#810000 228px,#f90000 237px,#ff4f00 248px,#ff5300 250px,#ff8000 251px,#ffd700 252px,#ff8900 253px,#ff5700 254px,#ff4600 278px,#f60000 293px,#be0000 308px,#a70000 332px,#ad0000 456px,#ff0500 457px,#ff2b00 459px,#ffd100 461px,#ff9e00 462px,#ff9600 537px,#ff2400 643px,#ff2400 699px)"></i>
<i style="height:1px;background:linear-gradient(90deg,#0042ff 0px,#0042ff 7px,#ff0500 8px,#ff0500 10px,#800000 11px,#810000 228px,#f90000 237px,#ff4f00 248px,#ff5300 250px,#ff8000 251px,#ffd700 252px,#ff8900 253px,#ff5700 254px,#ff4600 278px,#f60000 293px,#be0000 308px,#a70000 332px,#ad0000 456px,#ff0400 457px,#ff2b00 459px,#ffd100 461px,#f9ff06 462px,#bdff42 463px,#7bff84 465px,#4affb5 466px,#2bffd4 468px,#00eaff 469px,#00beff 470px,#00d2ff 472px,#00f8ff 473px,#1fffe0 474px,#01fffe 475px,#00edff 477px,#00beff 478px,#00acff 479px,#00cdff 480px,#0cf 481px,#00aeff 482px,#00b0ff 485px,#00bfff 486px,#00b1ff 487px,#00c0ff 488px,#00f5ff 489px,#00f3ff 490px,#00d8ff 491px,#00e8ff 493px,#00cdff 495px,#00afff 496px,#0af 497px,#00beff 498px,#008bff 500px,#0cf 502px,#00bcff 503px,#00cfff 506px,#00f1ff 507px,#00f6ff 509px,#2affd5 510px,#41ffbe 511px,#1fffe0 512px,#1affe5 513px,#5bffa4 516px,#57ffa8 518px,#76ff89 519px,#7cff83 520px,#54ffab 521px,#5effa1 522px,#8aff75 523px,#8fff70 525px,#7dff82 527px,#92ff6d 528px,#92ff6d 529px,#6bff94 530px,#74ff8b 531px,#91ff6e 532px,#5dffa2 534px,#7eff81 536px,#baff45 538px,#b3ff4c 539px,#ecff13 541px,#afff50 543px,#df2 545px,#deff21 547px,#c6ff39 548px,#ebff14 550px,#d5ff2a 551px,#d3ff2c 552px,#fff900 553px,#ffec00 554px,#ff0 555px,#f4ff0b 557px,#fff800 558px,#ffda00 559px,#ffe800 561px,#ffc400 562px,#ffd500 563px,#fbff04 564px,#fffa00 566px,#ffce00 568px,#ffe500 570px,#ffd300 571px,#f2ff0d 573px,#ff9a00 575px,#ff9200 576px,#ffe200 579px,#ffcf00 581px,#ffdf00 582px,#ffa400 584px,#ffc000 585px,#ffca00 586px,#ffb700 588px,#ff9d00 589px,#ffa500 590px,#ffc100 591px,#ffa400 593px,#ffc600 594px,#ffc000 595px,#ff9a00 596px,#ff8600 598px,#ffa600 600px,#ff8e00 602px,#ffb600 603px,#ffb600 604px,#ff9e00 605px,#ffce00 607px,#ffd400 609px,#ffa300 611px,#ffc000 612px,#ffba00 613px,#ff9e00 614px,#ffdc00 616px,#ffc700 619px,#ffd400 620px,#fdff02 621px,#fff700 622px,#ffd100 623px,#ffea00 625px,#ffd100 626px,#ffd200 627px,#ff0 629px,#f1ff0e 630px,#fff700 631px,#ffcf00 632px,#ffe900 634px,#ffd300 635px,#ffdf00 636px,#f8ff07 637px,#f3ff0c 639px,#fe0 641px,#ef1 642px,#d3ff2c 643px,#eaff15 644px,#e3ff1c 645px,#c2ff3d 646px,#e3ff1c 648px,#d1ff2e 650px,#a8ff57 651px,#92ff6d 652px,#adff52 653px,#a4ff5b 654px,#7dff82 655px,#89ff76 657px,#4dffb2 659px,#4fb 661px,#60ff9f 662px,#52ffad 663px,#25ffda 664px,#32ffcd 666px,#0efff1 667px,#05fffa 668px,#19ffe6 670px,#1cffe3 671px,#0ff 672px,#00d6ff 673px,#00faff 675px,#00dbff 676px,#00d7ff 677px,#00ebff 678px,#00c6ff 680px,#00d0ff 682px,#0afff5 683px,#24ffdb 684px,#02fffd 685px,#00faff 686px,#13ffec 687px,#00f0ff 689px,#06fff9 691px,#1dffe2 692px,#1effe1 693px,#00f1ff 694px,#00edff 695px,#10ffef 696px,#00f6ff 698px)"></i>
<i style="height:1px;background:linear-gradient(90deg,#0042ff 0px,#0042ff 7px,#ff0500 8px,#ff0500 10px,#800000 11px,#810000 228px,#f90000 237px,#ff4f00 248px,#ff5300 250px,#ff8000 251px,#ffd700 252px,#ff8900 253px,#ff5700 254px,#ff4600 278px,#f60000 293px,#be0000 308px,#a70000 332px,#ad0000 456px,#ff0400 457px,#ff2b00 459px,#ffd100 461px,#f9ff06 462px,#beff41 463px,#7bff84 465px,#4affb5 466px,#2bffd4 468px,#00eaff 469px,#00beff 470px,#00d1ff 472px,#00f8ff 473px,#1fffe0 474px,#01fffe 475px,#00edff 477px,#00beff 478px,#00acff 479px,#00cdff 480px,#0cf 481px,#00aeff 482px,#00b0ff 485px,#00bfff 486px,#00b1ff 487px,#00c0ff 488px,#00f5ff 489px,#00f3ff 490px,#00d8ff 491px,#00e8ff 493px,#0cf 495px,#00afff 496px,#0af 497px,#00beff 498px,#008aff 500px,#0cf 502px,#00bcff 503px,#00cfff 506px,#00f0ff 507px,#00f5ff 509px,#2affd5 510px,#41ffbe 511px,#1fffe0 512px,#1affe5 513px,#5bffa4 516px,#56ffa9 518px,#76ff89 519px,#7bff84 520px,#54ffab 521px,#5effa1 522px,#8aff75 523px,#8fff70 525px,#7cff83 527px,#92ff6d 528px,#92ff6d 529px,#6bff94 530px,#74ff8b 531px,#91ff6e 532px,#5dffa2 534px,#7eff81 536px,#baff45 538px,#b3ff4c 539px,#ecff13 541px,#afff50 543px,#df2 545px,#deff21 547px,#c6ff39 548px,#ebff14 550px,#d5ff2a 551px,#d3ff2c 552px,#fff900 553px,#ffec00 554px,#ff0 555px,#f4ff0b 557px,#fff800 558px,#ffda00 559px,#ffe800 561px,#ffc400 562px,#ffd500 563px,#fbff04 564px,#fffa00 566px,#ffce00 568px,#ffe500 570px,#ffd300 571px,#f2ff0d 573px,#ff9a00 575px,#ff9200 576px,#ffe200 579px,#ffcf00 581px,#ffdf00 582px,#ffa400 584px,#ffc000 585px,#ffca00 586px,#ffb700 588px,#ff9d00 589px,#ffa500 590px,#ffc100 591px,#ffa400 593px,#ffc600 594px,#ffc000 595px,#ff9a00 596px,#ff8600 598px,#ffa600 600px,#ff8e00 602px,#ffb600 603px,#ffb600 604px,#ff9e00 605px,#ffce00 607px,#ffd400 609px,#ffa300 611px,#ffc000 612px,#ffba00 613px,#ff9e00 614px,#ffdc00 616px,#ffc700 619px,#ffd400 620px,#fdff02 621px,#fff700 622px,#ffd100 623px,#ffea00 625px,#ffd100 626px,#ffd100 627px,#ff0 629px,#f1ff0e 630px,#fff700 631px,#ffcf00 632px,#ffe900 634px,#ffd300 635px,#ffdf00 636px,#f8ff07 637px,#f3ff0c 639px,#fe0 641px,#ef1 642px,#d3ff2c 643px,#eaff15 644px,#e3ff1c 645px,#c2ff3d 646px,#e3ff1c 648px,#d1ff2e 650px,#a8ff57 651px,#92ff6d 652px,#adff52 653px,#a4ff5b 654px,#7dff82 655px,#89ff76 657px,#4dffb2 659px,#4fb 661px,#60ff9f 662px,#52ffad 663px,#25ffda 664px,#32ffcd 666px,#0efff1 667px,#05fffa 668px,#19ffe6 670px,#1cffe3 671px,#0ff 672px,#00d6ff 673px,#00faff 675px,#00dbff 676px,#00d7ff 677px,#00ebff 678px,#00c6ff 680px,#00d0ff 682px,#0afff5 683px,#24ffdb 684px,#02fffd 685px,#00faff 686px,#13ffec 687px,#00f0ff 689px,#06fff9 691px,#1dffe2 692px,#1effe1 693px,#00f1ff 694px,#00edff 695px,#10ffef 696px,#05fffa 697px)"></i>
<i style="height:1px;background:linear-gradient(90deg,#0042ff 0px,#0042ff 7px,#ff0500 8px,#ff0500 10px,#800000 11px,#810000 228px,#f90000 237px,#ff4f00 248px,#ff5300 250px,#ff8000 251px,#ffd700 252px,#ff8900 253px,#ff5700 254px,#ff4600 278px,#f60000 293px,#be0000 308px,#a70000 332px,#ad0000 456px,#ff0400 457px,#ff2b00 459px,#ffd100 461px,#f9ff06 462px,#beff41 463px,#7bff84 465px,#4affb5 466px,#2bffd4 468px,#00eaff 469px,#00beff 470px,#00d1ff 472px,#00f7ff 473px,#1fffe0 474px,#01fffe 475px,#00edff 477px,#00beff 478px,#00acff 479px,#00cdff 480px,#0cf 481px,#00aeff 482px,#00afff 485px,#00beff 486px,#00b0ff 487px,#00c0ff 488px,#00f5ff 489px,#00f2ff 490px,#00d8ff 491px,#00e8ff 493px,#0cf 495px,#00afff 496px,#00a9ff 497px,#00beff 498px,#008aff 500px,#0cf 502px,#00bcff 503px,#00ceff 506px,#00f0ff 507px,#00f5ff 509px,#2affd5 510px,#41ffbe 511px,#1fffe0 512px,#1affe5 513px,#5bffa4 516px,#56ffa9 518px,#76ff89 519px,#7bff84 520px,#54ffab 521px,#5effa1 522px,#8aff75 523px,#8fff70 525px,#7cff83 527px,#92ff6d 528px,#92ff6d 529px,#6bff94 530px,#74ff8b 531px,#91ff6e 532px,#5dffa2 534px,#7eff81 536px,#baff45 538px,#b3ff4c 539px,#ecff13 541px,#afff50 543px,#df2 545px,#deff21 547px,#c6ff39 548px,#ebff14 550px,#d5ff2a 551px,#d3ff2c 552px,#fff900 553px,#ffec00 554px,#ff0 555px,#f4ff0b 557px,#fff800 558px,#ffda00 559px,#ffe800 561px,#ffc400 562px,#ffd500 563px,#fbff04 564px,#fffa00 566px,#ffce00 568px,#ffe500 570px,#ffd300 571px,#f2ff0d 573px,#ff9a00 575px,#ff9200 576px,#ffe200 579px,#ffcf00 581px,#ffdf00 582px,#ffa400 584px,#ffc000 585px,#ffca00 586px,#ffb700 588px,#ff9d00 589px,#ffa500 590px,#ffc100 591px,#ffa400 593px,#ffc600 594px,#ffc000 595px,#ff9a00 596px,#ff8600 598px,#ffa600 600px,#ff8e00 602px,#ffb600 603px,#ffb600 604px,#ff9e00 605px,#ffce00 607px,#ffd400 609px,#ffa300 611px,#ffc000 612px,#ffba00 613px,#ff9e00 614px,#ffdc00 616px,#ffc700 619px,#ffd400 620px,#fdff02 621px,#fff700 622px,#ffd100 623px,#ffea00 625px,#ffd100 626px,#ffd100 627px,#ff0 629px,#f1ff0e 630px,#fff700 631px,#ffcf00 632px,#ffe900 634px,#ffd200 635px,#ffdf00 636px,#f8ff07 637px,#f3ff0c 639px,#fe0 641px,#ef1 642px,#d3ff2c 643px,#eaff15 644px,#e3ff1c 645px,#c2ff3d 646px,#e3ff1c 648px,#d1ff2e 650px,#a8ff57 651px,#92ff6d 652px,#adff52 653px,#a4ff5b 654px,#7dff82 655px,#89ff76 657px,#4dffb2 659px,#4fb 661px,#60ff9f 662px,#52ffad 663px,#25ffda 664px,#32ffcd 666px,#0efff1 667px,#05fffa 668px,#19ffe6 670px,#1cffe3 671px,#0ff 672px,#00d6ff 673px,#00faff 675px,#00dbff 676px,#00d7ff 677px,#00ebff 678px,#00c6ff 680px,#00d0ff 682px,#09fff6 683px,#24ffdb 684px,#02fffd 685px,#00faff 686px,#13ffec 687px,#00f0ff 689px,#06fff9 691px,#1dffe2 692px,#1effe1 693px,#00f1ff 694px,#00edff 695px,#10ffef 696px)"></i>
<i style="height:9px;background:linear-gradient(90deg,#0042ff 0px,#0042ff 7px,#ff0500 8px,#ff0500 10px,#800000 11px,#810000 228px,#f90000 237px,#ff4f00 248px,#ff5300 250px,#ff8100 251px,#ffd700 252px,#ff8a00 253px,#ff5700 254px,#ff4700 278px,#f60000 293px,#be0000 308px,#a70000 332px,#ad0000 456px,#ff0500 457px,#ff2b00 459px,#ffd100 461px,#f9ff06 462px,#beff41 463px,#7aff85 465px,#49ffb6 466px,#2bffd4 468px,#00e9ff 469px,#00bdff 470px,#00cfff 472px,#00f5ff 473px,#1dffe2 474px,#0ff 475px,#00ecff 477px,#00bcff 478px,#00abff 479px,#0cf 480px,#00caff 481px,#00acff 482px,#00adff 485px,#00bcff 486px,#00aeff 487px,#00bdff 488px,#00f2ff 489px,#00f0ff 490px,#00d5ff 491px,#00e6ff 493px,#00caff 495px,#00acff 496px,#00a7ff 497px,#0bf 498px,#08f 500px,#00caff 502px,#00b9ff 503px,#0cf 506px,#0ef 507px,#00f3ff 509px,#28ffd7 510px,#3fffc0 511px,#1dffe2 512px,#18ffe7 513px,#59ffa6 516px,#5fa 518px,#74ff8b 519px,#7aff85 520px,#53ffac 521px,#5dffa2 522px,#89ff76 523px,#8eff71 525px,#7bff84 527px,#91ff6e 528px,#91ff6e 529px,#6bff94 530px,#74ff8b 531px,#90ff6f 532px,#5cffa3 534px,#7dff82 536px,#b9ff46 538px,#b1ff4e 539px,#ebff14 541px,#aeff51 543px,#dcff23 545px,#df2 547px,#c5ff3a 548px,#eaff15 550px,#d4ff2b 551px,#d2ff2d 552px,#fffb00 553px,#ffed00 554px,#feff01 555px,#f3ff0c 557px,#fff900 558px,#ffdb00 559px,#ffe900 561px,#ffc500 562px,#ffd600 563px,#faff05 564px,#fffa00 566px,#ffd000 568px,#ffe500 570px,#ffd400 571px,#f0ff0f 573px,#ff9c00 575px,#ff9300 576px,#ffe300 579px,#ffd000 581px,#ffe100 582px,#ffa500 584px,#ffc100 585px,#ffcb00 586px,#ffb800 588px,#ff9e00 589px,#ffa600 590px,#ffc200 591px,#ffa500 593px,#ffc700 594px,#ffc100 595px,#ff9b00 596px,#ff8700 598px,#ffa700 600px,#ff8f00 602px,#ffb600 603px,#ffb700 604px,#ff9f00 605px,#ffcf00 607px,#ffd500 609px,#ffa500 611px,#ffc100 612px,#fb0 613px,#ff9f00 614px,#fd0 616px,#ffc800 619px,#ffd500 620px,#fcff03 621px,#fff800 622px,#ffd200 623px,#ffeb00 625px,#ffd200 626px,#ffd200 627px,#feff01 629px,#f0ff0f 630px,#fff900 631px,#ffd000 632px,#ffea00 634px,#ffd300 635px,#ffdf00 636px,#f7ff08 637px,#f3ff0c 639px,#ffef00 641px,#edff12 642px,#d2ff2d 643px,#eaff15 644px,#e2ff1d 645px,#c2ff3d 646px,#e2ff1d 648px,#d0ff2f 650px,#a7ff58 651px,#91ff6e 652px,#acff53 653px,#a4ff5b 654px,#7dff82 655px,#89ff76 657px,#4cffb3 659px,#43ffbc 661px,#60ff9f 662px,#51ffae 663px,#24ffdb 664px,#32ffcd 666px,#0efff1 667px,#05fffa 668px,#18ffe7 670px,#1bffe4 671px,#00feff 672px,#00d5ff 673px,#00f9ff 675px,#00daff 676px,#00d6ff 677px,#00eaff 678px,#00c6ff 680px,#00cfff 682px,#08fff7 683px,#24ffdb 684px,#01fffe 685px,#00faff 686px,#12ffed 687px,#00efff 689px,#06fff9 691px,#1cffe3 692px,#1dffe2 693px,#00f0ff 694px,#00ecff 695px)"></i>
<i style="height:2px;background:linear-gradient(90deg,#0042ff 0px,#0042ff 7px,#ff0500 8px,#ff0500 10px,#800000 11px,#810000 228px,#f90000 237px,#ff4f00 248px,#ff5300 250px,#ff8100 251px,#ffd700 252px,#ff8a00 253px,#ff5800 254px,#ff4b00 277px,#f70000 293px,#be0000 308px,#a70000 332px,#ad0000 456px,#d60200 457px,#ff1e00 458px,#ff2c00 459px,#ffd100 461px,#f9ff06 462px,#beff41 463px,#7aff85 465px,#49ffb6 466px,#2affd5 468px,#00e8ff 469px,#00bcff 470px,#0cf 472px,#00f2ff 473px,#1cffe3 474px,#00fdff 475px,#00eaff 477px,#0bf 478px,#00a9ff 479px,#00caff 480px,#00c8ff 481px,#00a9ff 482px,#00abff 485px,#00b9ff 486px,#00abff 487px,#00baff 488px,#00efff 489px,#00ecff 490px,#00d1ff 491px,#00e3ff 493px,#00c8ff 495px,#00a9ff 496px,#00a4ff 497px,#00b9ff 498px,#0085ff 500px,#00c7ff 502px,#00b6ff 503px,#00c9ff 506px,#00ebff 507px,#00f0ff 509px,#3cffc3 511px,#1bffe4 512px,#16ffe9 513px,#57ffa8 516px,#53ffac 518px,#72ff8d 519px,#78ff87 520px,#51ffae 521px,#5bffa4 522px,#87ff78 523px,#8cff73 525px,#7aff85 527px,#8fff70 528px,#90ff6f 529px,#6aff95 530px,#73ff8c 531px,#8fff70 532px,#5affa5 534px,#7bff84 536px,#b7ff48 538px,#b0ff4f 539px,#eaff15 541px,#adff52 543px,#dbff24 545px,#dcff23 547px,#c4ff3b 548px,#e9ff16 550px,#d3ff2c 551px,#d1ff2e 552px,#fffc00 553px,#fe0 554px,#fcff03 555px,#f2ff0d 557px,#fffa00 558px,#fd0 559px,#ffea00 561px,#ffc600 562px,#ffd700 563px,#f9ff06 564px,#fffb00 566px,#ffd100 568px,#ffe600 570px,#ffd500 571px,#ffea00 572px,#ef1 573px,#ffd700 574px,#ff9e00 575px,#ff9400 576px,#ffe400 579px,#ffd200 581px,#ffe200 582px,#ffa700 584px,#ffc300 585px,#ffcd00 586px,#ffb900 588px,#ff9f00 589px,#ffa700 590px,#ffc300 591px,#ffa600 593px,#ffc900 594px,#ffc300 595px,#ff9d00 596px,#f80 598px,#ffa900 600px,#ff9000 602px,#ffb700 603px,#ffb800 604px,#ffa000 605px,#ffd000 607px,#ffd700 609px,#ffa600 611px,#ffc300 612px,#ffbd00 613px,#ffa100 614px,#ffde00 616px,#ffc900 619px,#ffd600 620px,#fbff04 621px,#fff900 622px,#ffd400 623px,#ffec00 625px,#ffd300 626px,#ffd300 627px,#fcff03 629px,#ef1 630px,#fffa00 631px,#ffd100 632px,#ffeb00 634px,#ffd400 635px,#ffe000 636px,#f6ff09 637px,#f2ff0d 639px,#fff000 641px,#d1ff2e 643px,#e9ff16 644px,#e1ff1e 645px,#c1ff3e 646px,#e1ff1e 648px,#d0ff2f 650px,#a7ff58 651px,#91ff6e 652px,#abff54 653px,#a3ff5c 654px,#7cff83 655px,#8f7 657px,#4cffb3 659px,#43ffbc 661px,#5fffa0 662px,#51ffae 663px,#24ffdb 664px,#31ffce 666px,#0dfff2 667px,#04fffb 668px,#18ffe7 670px,#1bffe4 671px,#00feff 672px,#00d5ff 673px,#00f9ff 675px,#00daff 676px,#00d6ff 677px,#00eaff 678px,#00c5ff 680px,#00cdff 682px,#07fff8 683px,#23ffdc 684px,#0ff 685px)"></i>
<i style="height:6px;background:linear-gradient(90deg,#0042ff 0px,#0042ff 7px,#ff0500 8px,#ff0500 10px,#800000 11px,#810000 228px,#f90000 237px,#ff4f00 248px,#ff5400 250px,#ff8100 251px,#ffd700 252px,#ff8a00 253px,#ff5800 254px,#ff4c00 277px,#f70000 293px,#be0000 308px,#a70000 332px,#ad0000 457px,#ff1e00 458px,#ff2c00 459px,#ffd100 461px,#f9ff06 462px,#beff41 463px,#7aff85 465px,#49ffb6 466px,#29ffd6 468px,#00e7ff 469px,#00bcff 470px,#00c9ff 472px,#00efff 473px,#1bffe4 474px,#00fcff 475px,#00e9ff 477px,#00b9ff 478px,#00a7ff 479px,#00c8ff 480px,#00c6ff 481px,#00a7ff 482px,#00a8ff 485px,#00b7ff 486px,#00a9ff 487px,#00b7ff 488px,#00ebff 489px,#00e9ff 490px,#00ceff 491px,#00e1ff 493px,#00c6ff 495px,#00a7ff 496px,#00a1ff 497px,#00b6ff 498px,#0083ff 500px,#00c4ff 502px,#00b3ff 503px,#00c6ff 506px,#00e8ff 507px,#0ef 509px,#23ffdc 510px,#3affc5 511px,#18ffe7 512px,#14ffeb 513px,#5fa 516px,#51ffae 518px,#70ff8f 519px,#76ff89 520px,#4fffb0 521px,#5affa5 522px,#86ff79 523px,#8bff74 525px,#79ff86 527px,#8eff71 528px,#90ff6f 529px,#69ff96 530px,#72ff8d 531px,#8fff70 532px,#59ffa6 534px,#7aff85 536px,#b6ff49 538px,#afff50 539px,#e9ff16 541px,#adff52 543px,#daff25 545px,#dbff24 547px,#c3ff3c 548px,#e8ff17 550px,#d2ff2d 551px,#d0ff2f 552px,#fffd00 553px,#ffef00 554px,#f6ff09 556px,#f1ff0e 557px,#fffb00 558px,#ffde00 559px,#ffeb00 561px,#ffc600 562px,#ffd800 563px,#f8ff07 564px,#fffc00 566px,#ffd200 568px,#ffe700 570px,#ffd500 571px,#ffeb00 572px,#edff12 573px,#ffd900 574px,#ffa000 575px,#ff9400 576px,#ffe400 579px,#ffd300 581px,#ffe300 582px,#ffa800 584px,#ffc400 585px,#ffce00 586px,#ffba00 588px,#ffa000 589px,#ffa800 590px,#ffc400 591px,#ffa700 593px,#ffca00 594px,#ffc400 595px,#ff9e00 596px,#ff8a00 598px,#fa0 600px,#ff9500 601px,#ff9100 602px,#ffb800 603px,#ffb800 604px,#ffa100 605px,#ffd100 607px,#ffd800 609px,#ffa700 611px,#ffc300 612px,#ffbe00 613px,#ffa200 614px,#ffde00 616px,#ffca00 619px,#ffd600 620px,#faff05 621px,#fffa00 622px,#ffd500 623px,#ffec00 625px,#ffd400 626px,#ffd400 627px,#fbff04 629px,#edff12 630px,#fffb00 631px,#ffd200 632px,#ffeb00 634px,#ffd500 635px,#ffe100 636px,#f6ff09 637px,#f1ff0e 639px,#fff000 641px,#d0ff2f 643px,#e8ff17 644px,#e0ff1f 645px,#c0ff3f 646px,#e0ff1f 648px,#cfff30 650px,#a6ff59 651px,#90ff6f 652px,#abff54 653px,#a3ff5c 654px,#7cff83 655px,#8f7 657px,#4bffb4 659px,#43ffbc 661px,#5fffa0 662px,#50ffaf 663px,#23ffdc 664px,#31ffce 666px,#0dfff2 667px,#04fffb 668px,#18ffe7 670px,#1affe5 671px,#00feff 672px,#00d5ff 673px,#00f9ff 675px,#00daff 676px,#00d6ff 677px,#00e9ff 678px,#00c5ff 680px,#00c1ff 681px,#0cf 682px,#06fff9 683px)"></i>
<i style="height:6px;background:linear-gradient(90deg,#0042ff 0px,#0042ff 7px,#ff0500 8px,#ff0500 10px,#800000 11px,#810000 228px,#f90000 237px,#ff4f00 248px,#ff5400 250px,#ff8100 251px,#ffd800 252px,#ff8a00 253px,#ff5800 254px,#ff4e00 277px,#f70000 293px,#be0000 308px,#a70000 332px,#ad0000 457px,#ff1e00 458px,#ff2b00 459px,#ffd000 461px,#faff05 462px,#bfff40 463px,#79ff86 465px,#48ffb7 466px,#28ffd7 468px,#00e6ff 469px,#0bf 470px,#00c8ff 471px,#00c5ff 472px,#00ebff 473px,#16ffe9 474px,#00faff 475px,#00e6ff 477px,#00b7ff 478px,#00a5ff 479px,#00c5ff 480px,#00c2ff 481px,#00a3ff 482px,#00a4ff 485px,#00b3ff 486px,#00a5ff 487px,#00b1ff 488px,#00e6ff 489px,#00e4ff 490px,#00c9ff 491px,#00dbff 492px,#0df 493px,#00c2ff 495px,#00a2ff 496px,#009dff 497px,#00b1ff 498px,#007eff 500px,#00c0ff 502px,#00afff 503px,#00c2ff 506px,#00e4ff 507px,#00eaff 509px,#1effe1 510px,#36ffc9 511px,#15ffea 512px,#10ffef 513px,#52ffad 516px,#4effb1 518px,#6dff92 519px,#74ff8b 520px,#4dffb2 521px,#58ffa7 522px,#83ff7c 523px,#89ff76 525px,#7f8 527px,#8cff73 528px,#8fff70 529px,#68ff97 530px,#71ff8e 531px,#8eff71 532px,#57ffa8 534px,#78ff87 536px,#b4ff4b 538px,#adff52 539px,#e8ff17 541px,#acff53 543px,#d9ff26 545px,#daff25 547px,#c1ff3e 548px,#e6ff19 550px,#d0ff2f 551px,#ceff31 552px,#fffe00 553px,#fff100 554px,#f4ff0b 556px,#efff10 557px,#fffd00 558px,#ffdf00 559px,#ffed00 561px,#ffc700 562px,#ffd900 563px,#f7ff08 564px,#fffd00 566px,#ffd400 568px,#ffe800 570px,#ffd600 571px,#ffec00 572px,#ebff14 573px,#ffdc00 574px,#ffa200 575px,#ff9500 576px,#ffe500 579px,#ffd400 581px,#ffe500 582px,#ffa900 584px,#ffc600 585px,#ffcf00 586px,#fb0 588px,#ffa100 589px,#fa0 590px,#ffc500 591px,#ffa900 593px,#ffcb00 594px,#ffc500 595px,#ffa000 596px,#ff8b00 598px,#ffab00 600px,#ff9600 601px,#ff9200 602px,#ffb900 603px,#ffb900 604px,#ffa200 605px,#ffd300 607px,#ffd900 609px,#ffa800 611px,#ffc500 612px,#ffbf00 613px,#ffa300 614px,#ffdf00 616px,#ffca00 619px,#ffd700 620px,#f9ff06 621px,#fffc00 622px,#ffd700 623px,#ffed00 625px,#ffd500 626px,#ffd500 627px,#faff05 629px,#ecff13 630px,#fffc00 631px,#ffd400 632px,#ffec00 634px,#ffd600 635px,#ffe200 636px,#f5ff0a 637px,#f0ff0f 639px,#fff100 641px,#cfff30 643px,#e7ff18 644px,#dfff20 645px,#bfff40 646px,#dfff20 648px,#ceff31 650px,#a6ff59 651px,#90ff6f 652px,#abff54 653px,#a2ff5d 654px,#7cff83 655px,#87ff78 657px,#4bffb4 659px,#42ffbd 661px,#5effa1 662px,#50ffaf 663px,#23ffdc 664px,#31ffce 666px,#0dfff2 667px,#04fffb 668px,#17ffe8 670px,#1affe5 671px,#00fdff 672px,#00d4ff 673px,#00f8ff 675px,#00d9ff 676px)"></i>
<i style="height:6px;background:linear-gradient(90deg,#0042ff 0px,#0042ff 7px,#ff0500 8px,#ff0500 10px,#800000 11px,#810000 228px,#f90000 237px,#ff5000 248px,#ff5400 250px,#ff8100 251px,#ffd800 252px,#ff8b00 253px,#ff5900 254px,#ff5300 276px,#f70000 293px,#be0000 308px,#a70000 332px,#ad0000 457px,#ff1d00 458px,#ff2b00 459px,#ffce00 461px,#fcff03 462px,#c1ff3e 463px,#79ff86 465px,#48ffb7 466px,#27ffd8 468px,#00e5ff 469px,#00b9ff 470px,#00c6ff 471px,#00c0ff 472px,#00e5ff 473px,#1fe 474px,#00f7ff 475px,#00e3ff 477px,#00b4ff 478px,#00a2ff 479px,#00c2ff 480px,#00bdff 481px,#009fff 482px,#009fff 485px,#00aeff 486px,#00a0ff 487px,#00abff 488px,#00e0ff 489px,#0df 490px,#00c2ff 491px,#00d7ff 492px,#00d9ff 493px,#00bdff 495px,#009dff 496px,#0098ff 497px,#00acff 498px,#0079ff 500px,#0bf 502px,#0af 503px,#00bdff 506px,#00dfff 507px,#00e5ff 509px,#1affe5 510px,#32ffcd 511px,#1fe 512px,#0cfff3 513px,#4effb1 516px,#4bffb4 518px,#6aff95 519px,#71ff8e 520px,#4affb5 521px,#5fa 522px,#81ff7e 523px,#87ff78 525px,#75ff8a 527px,#8aff75 528px,#8dff72 529px,#67ff98 530px,#70ff8f 531px,#8dff72 532px,#5fa 534px,#76ff89 536px,#b2ff4d 538px,#af5 539px,#e6ff19 541px,#af5 543px,#d7ff28 545px,#d9ff26 547px,#c0ff3f 548px,#e5ff1a 550px,#cfff30 551px,#cdff32 552px,#feff01 553px,#fff200 554px,#f3ff0c 556px,#ef1 557px,#fffe00 558px,#ffe100 559px,#fe0 561px,#ffc800 562px,#ffda00 563px,#f6ff09 564px,#fffe00 566px,#ffd700 568px,#ffe900 570px,#ffd700 571px,#ffec00 572px,#eaff15 573px,#ffdf00 574px,#ffa500 575px,#ff9600 576px,#ffe500 579px,#ffd500 580px,#ffe600 582px,#ffab00 584px,#ffc700 585px,#ffd100 586px,#ffbd00 588px,#ffa300 589px,#ffab00 590px,#ffc700 591px,#fa0 593px,#ffcd00 594px,#ffc700 595px,#ffa100 596px,#ff8d00 598px,#ffad00 600px,#ff9700 601px,#ff9200 602px,#ffba00 603px,#ffba00 604px,#ffa200 605px,#ffd400 607px,#ffdb00 609px,#fa0 611px,#ffc600 612px,#ffc100 613px,#ffa500 614px,#ffe000 616px,#ffcb00 619px,#ffd800 620px,#f9ff06 621px,#fffe00 622px,#ffd900 623px,#fe0 625px,#ffd500 626px,#ffd500 627px,#f8ff07 629px,#eaff15 630px,#fffe00 631px,#ffd600 632px,#ffed00 634px,#ffd700 635px,#ffe300 636px,#f4ff0b 637px,#efff10 639px,#fff200 641px,#cfff30 643px,#e6ff19 644px,#deff21 645px,#beff41 646px,#dfff20 648px,#cdff32 650px,#a5ff5a 651px,#90ff6f 652px,#af5 653px,#a2ff5d 654px,#7bff84 655px,#87ff78 657px,#4affb5 659px,#42ffbd 661px,#5effa1 662px,#4fffb0 663px,#23ffdc 664px,#30ffcf 666px,#0cfff3 667px,#03fffc 668px,#13ffec 669px)"></i>
<i style="height:4px;background:linear-gradient(90deg,#0042ff 0px,#0042ff 7px,#ff0500 8px,#ff0500 10px,#800000 11px,#810000 228px,#f90000 237px,#ff5000 248px,#ff5400 250px,#ff8200 251px,#ffd800 252px,#ff8b00 253px,#ff5900 254px,#f50 276px,#f70000 293px,#be0000 308px,#a70000 332px,#ad0000 457px,#ff1c00 458px,#ff2a00 459px,#ffcd00 461px,#fdff02 462px,#c2ff3d 463px,#79ff86 465px,#48ffb7 466px,#26ffd9 468px,#00e4ff 469px,#00b8ff 470px,#00c5ff 471px,#00bdff 472px,#0bfff4 474px,#00e1ff 477px,#00b1ff 478px,#009fff 479px,#00bfff 480px,#00baff 481px,#009bff 482px,#009bff 485px,#00a9ff 486px,#009bff 487px,#00a6ff 488px,#00daff 489px,#00d8ff 490px,#00bdff 491px,#00d3ff 492px,#00d5ff 493px,#00b9ff 495px,#09f 496px,#0093ff 497px,#00a7ff 498px,#0075ff 500px,#00b6ff 502px,#00a5ff 503px,#00b8ff 506px,#00daff 507px,#00e0ff 509px,#15ffea 510px,#2effd1 511px,#0dfff2 512px,#09fff6 513px,#4bffb4 516px,#47ffb8 518px,#67ff98 519px,#6eff91 520px,#48ffb7 521px,#53ffac 522px,#7fff80 523px,#85ff7a 525px,#73ff8c 527px,#89ff76 528px,#8cff73 529px,#6f9 530px,#70ff8f 531px,#8cff73 532px,#53ffac 534px,#74ff8b 536px,#b0ff4f 538px,#a9ff56 539px,#e5ff1a 541px,#a9ff56 543px,#d6ff29 545px,#d8ff27 547px,#bfff40 548px,#e3ff1c 550px,#ceff31 551px,#cf3 552px,#fdff02 553px,#fff400 554px,#edff12 557px,#ff0 558px,#ffe200 559px,#fff000 561px,#ffc900 562px,#ffdb00 563px,#f6ff09 564px,#fff200 567px,#ffd800 568px,#ffe900 570px,#ffd800 571px,#ffed00 572px,#eaff15 573px,#ffe100 574px,#ffa800 575px,#ff9600 576px,#ffe500 579px,#ffd600 580px,#ffe800 582px,#ffad00 584px,#ffc900 585px,#ffd200 586px,#ffbe00 588px,#ffa400 589px,#ffac00 590px,#ffc800 591px,#ffab00 593px,#ffce00 594px,#ffc800 595px,#ffa300 596px,#ff8f00 598px,#ffaf00 600px,#ff9700 601px,#ff9300 602px,#ffba00 603px,#fb0 604px,#ffa300 605px,#ffd500 607px,#ffdc00 609px,#ffab00 611px,#ffc800 612px,#ffc200 613px,#ffa600 614px,#ffe000 616px,#fc0 619px,#ffd800 620px,#f8ff07 621px,#ff0 622px,#ffda00 623px,#fe0 625px,#ffd600 626px,#ffd600 627px,#f7ff08 629px,#e9ff16 630px,#ff0 631px,#ffd700 632px,#fe0 634px,#ffd800 635px,#f4ff0b 637px,#efff10 639px,#fff300 641px,#ceff31 643px,#e5ff1a 644px,#deff21 645px,#beff41 646px,#deff21 648px,#cdff32 650px,#a5ff5a 651px,#8fff70 652px,#af5 653px,#a2ff5d 654px,#7bff84 655px,#87ff78 657px,#4affb5 659px,#41ffbe 661px,#5dffa2 662px)"></i>
<i style="height:4px;background:linear-gradient(90deg,#0042ff 0px,#0042ff 7px,#ff0500 8px,#ff0500 10px,#800000 11px,#810000 228px,#f90000 237px,#ff5000 248px,#ff5400 250px,#ff8200 251px,#ffd900 252px,#ff8c00 253px,#ff5a00 254px,#ff5900 275px,#f80000 293px,#be0000 308px,#a70000 332px,#ad0000 457px,#ff1b00 458px,#ff2900 459px,#ffcb00 461px,#ff0 462px,#98ff67 464px,#79ff86 465px,#48ffb7 466px,#25ffda 468px,#00e3ff 469px,#00b8ff 470px,#00c4ff 471px,#00bcff 472px,#07fff8 474px,#00dfff 477px,#00afff 478px,#009dff 479px,#00bdff 480px,#00b6ff 481px,#0098ff 482px,#0097ff 485px,#00a5ff 486px,#0097ff 487px,#00a1ff 488px,#00d5ff 489px,#00d3ff 490px,#00b8ff 491px,#00d0ff 492px,#00d1ff 493px,#00b6ff 495px,#0096ff 496px,#008eff 497px,#00a3ff 498px,#0071ff 500px,#00b2ff 502px,#00a2ff 503px,#00b4ff 506px,#00d6ff 507px,#00dcff 509px,#1fe 510px,#2affd5 511px,#0afff5 512px,#06fff9 513px,#48ffb7 516px,#45ffba 518px,#65ff9a 519px,#6cff93 520px,#46ffb9 521px,#51ffae 522px,#7dff82 523px,#83ff7c 525px,#71ff8e 527px,#87ff78 528px,#8cff73 529px,#6f9 530px,#6fff90 531px,#8cff73 532px,#51ffae 534px,#73ff8c 536px,#aeff51 538px,#a7ff58 539px,#e4ff1b 541px,#a9ff56 543px,#d6ff29 545px,#d7ff28 547px,#beff41 548px,#e2ff1d 550px,#cdff32 551px,#caff35 552px,#fcff03 553px,#fff500 554px,#ecff13 557px,#fdff02 558px,#ffe300 559px,#fff100 561px,#ffca00 562px,#ffdb00 563px,#f5ff0a 564px,#fff400 567px,#ffda00 568px,#ffea00 570px,#ffd800 571px,#ffed00 572px,#eaff15 573px,#ffe300 574px,#fa0 575px,#ff9700 576px,#ffe600 579px,#ffd600 580px,#ffe900 582px,#ffae00 584px,#ffca00 585px,#ffd400 586px,#ffbf00 588px,#ffa500 589px,#ffad00 590px,#ffc900 591px,#ffac00 593px,#ffd000 594px,#ffca00 595px,#ffa400 596px,#ff9000 598px,#ffb000 600px,#ff9800 601px,#ff9300 602px,#fb0 603px,#fb0 604px,#ffa300 605px,#ffd600 607px,#fd0 609px,#ffac00 611px,#ffc900 612px,#ffc300 613px,#ffa700 614px,#ffe100 616px,#fc0 619px,#ffd900 620px,#f8ff07 621px,#feff01 622px,#ffdb00 623px,#ffef00 625px,#ffd600 626px,#ffd600 627px,#f6ff09 629px,#e8ff17 630px,#feff01 631px,#ffd800 632px,#fe0 634px,#ffd800 635px,#f3ff0c 637px,#ef1 639px,#fff400 641px,#cdff32 643px,#e5ff1a 644px,#df2 645px,#bdff42 646px,#df2 648px,#cf3 650px,#a5ff5a 651px,#8fff70 652px,#af5 653px,#a1ff5e 654px,#7bff84 655px,#87ff78 657px,#62ff9d 658px)"></i>
<i style="height:4px;background:linear-gradient(90deg,#0042ff 0px,#0042ff 7px,#ff0500 8px,#ff0500 10px,#800000 11px,#810000 228px,#f90000 237px,#ff5000 248px,#f50 250px,#ff8200 251px,#ffd900 252px,#ff8c00 253px,#ff5a00 254px,#ff5b00 275px,#f80000 293px,#be0000 308px,#a70000 332px,#ad0000 457px,#ff1a00 458px,#ff2800 459px,#ffca00 461px,#fffe00 462px,#98ff67 464px,#7aff85 465px,#49ffb6 466px,#24ffdb 468px,#00e3ff 469px,#00b7ff 470px,#00c3ff 471px,#0bf 472px,#02fffd 474px,#0df 477px,#00adff 478px,#009bff 479px,#00baff 480px,#00b3ff 481px,#0094ff 482px,#0093ff 485px,#00a1ff 486px,#0093ff 487px,#009cff 488px,#00d0ff 489px,#00ceff 490px,#00b3ff 491px,#0cf 492px,#00ceff 493px,#00b3ff 495px,#0093ff 496px,#008aff 497px,#009fff 498px,#006dff 500px,#00afff 502px,#009eff 503px,#00afff 506px,#00d1ff 507px,#00d8ff 509px,#0dfff2 510px,#27ffd8 511px,#06fff9 512px,#02fffd 513px,#45ffba 516px,#42ffbd 518px,#62ff9d 519px,#6aff95 520px,#4fb 521px,#4fffb0 522px,#7bff84 523px,#81ff7e 525px,#70ff8f 527px,#86ff79 528px,#8bff74 529px,#65ff9a 530px,#6fff90 531px,#8bff74 532px,#4fffb0 534px,#71ff8e 536px,#acff53 538px,#a5ff5a 539px,#e3ff1c 541px,#a8ff57 543px,#d5ff2a 545px,#d6ff29 547px,#bdff42 548px,#e1ff1e 550px,#cbff34 551px,#c9ff36 552px,#faff05 553px,#fff600 554px,#eaff15 557px,#fcff03 558px,#ffe400 559px,#fff200 561px,#ffca00 562px,#ffdc00 563px,#f5ff0a 564px,#fff600 567px,#ffdc00 568px,#ffea00 570px,#ffd800 571px,#fe0 572px,#e9ff16 573px,#ffe600 574px,#ffad00 575px,#f90 576px,#ffe600 579px,#ffd600 580px,#ffea00 582px,#ffaf00 584px,#ffcb00 585px,#ffd500 586px,#ffc000 588px,#ffa600 589px,#ffae00 590px,#ffca00 591px,#ffad00 593px,#ffd100 594px,#ffcb00 595px,#ffa500 596px,#ff9100 598px,#ffb100 600px,#ff9800 601px,#ff9400 602px,#fb0 603px,#fb0 604px,#ffa400 605px,#ffd700 607px,#ffde00 609px,#ffad00 611px,#ffca00 612px,#ffc400 613px,#ffa800 614px,#ffe100 616px,#ffcd00 619px,#ffd900 620px,#f8ff07 621px,#fcff03 622px,#fd0 623px,#ffef00 625px,#ffd700 626px,#ffd700 627px,#f6ff09 629px,#e7ff18 630px,#fcff03 631px,#ffd900 632px,#ffef00 634px,#ffd900 635px,#f3ff0c 637px,#ef1 639px,#fff400 641px,#cdff32 643px,#e4ff1b 644px,#dcff23 645px,#bdff42 646px,#df2 648px,#cf3 650px,#a5ff5a 651px,#8fff70 652px,#af5 653px)"></i>
<i style="height:4px;background:linear-gradient(90deg,#0042ff 0px,#0042ff 7px,#ff0500 8px,#ff0500 10px,#800000 11px,#810000 228px,#f90000 237px,#ff5000 248px,#f50 250px,#ff8300 251px,#ffd900 252px,#ff8c00 253px,#ff5b00 254px,#ff6000 274px,#ff3600 283px,#f80000 293px,#c00000 307px,#a70000 330px,#ad0000 457px,#ff1900 458px,#ff2600 459px,#ffc800 461px,#fffc00 462px,#9f6 464px,#7aff85 465px,#49ffb6 466px,#24ffdb 468px,#00e2ff 469px,#00b6ff 470px,#00c3ff 471px,#00baff 472px,#00d3ff 473px,#00fcff 474px,#00dbff 477px,#00abff 478px,#09f 479px,#00b8ff 480px,#00afff 481px,#0091ff 482px,#008fff 485px,#009dff 486px,#008fff 487px,#0097ff 488px,#00cbff 489px,#00c8ff 490px,#00adff 491px,#00c9ff 492px,#00cbff 493px,#0086ff 497px,#009bff 498px,#0069ff 500px,#00abff 502px,#009aff 503px,#00abff 506px,#00cdff 507px,#00d4ff 509px,#09fff6 510px,#23ffdc 511px,#03fffc 512px,#00feff 513px,#42ffbd 516px,#40ffbf 518px,#60ff9f 519px,#68ff97 520px,#42ffbd 521px,#4dffb2 522px,#79ff86 523px,#7fff80 525px,#6eff91 527px,#8aff75 529px,#65ff9a 530px,#6eff91 531px,#8bff74 532px,#4effb1 534px,#6fff90 536px,#abff54 538px,#a4ff5b 539px,#e3ff1c 541px,#a7ff58 543px,#d4ff2b 545px,#d5ff2a 547px,#bcff43 548px,#e0ff1f 550px,#caff35 551px,#c8ff37 552px,#f9ff06 553px,#fff700 554px,#e9ff16 557px,#fbff04 558px,#ffe600 559px,#fff300 561px,#ffcb00 562px,#ffdc00 563px,#f4ff0b 564px,#fff700 567px,#fd0 568px,#ffea00 570px,#ffd900 571px,#fe0 572px,#e9ff16 573px,#ffe800 574px,#ffaf00 575px,#ff9c00 576px,#ffe600 579px,#ffd600 580px,#ffeb00 582px,#ffb000 584px,#fc0 585px,#ffd600 586px,#ffc100 588px,#ffa700 589px,#ffaf00 590px,#ffca00 591px,#ffae00 593px,#ffd200 594px,#fc0 595px,#ffa700 596px,#ff9200 598px,#ffb200 600px,#f90 601px,#ff9400 602px,#fb0 603px,#ffbc00 604px,#ffa400 605px,#ffd800 607px,#ffdf00 609px,#ffae00 611px,#ffcb00 612px,#ffc500 613px,#ffa900 614px,#ffe100 616px,#ffcd00 619px,#ffd900 620px,#f7ff08 621px,#fbff04 622px,#ffde00 623px,#ffef00 625px,#ffd700 626px,#ffd700 627px,#f6ff09 629px,#e6ff19 630px,#fbff04 631px,#ffdb00 632px,#fff000 634px,#ffd900 635px,#f2ff0d 637px,#ef1 639px,#fff500 641px,#cf3 643px,#e4ff1b 644px,#dcff23 645px,#bcff43 646px,#dcff23 648px,#d6ff29 649px)"></i>
<i style="height:4px;background:linear-gradient(90deg,#0042ff 0px,#0042ff 7px,#ff0500 8px,#ff0500 10px,#800000 11px,#810000 228px,#f90000 237px,#ff5000 248px,#f50 250px,#ff8300 251px,#ffda00 252px,#ff8d00 253px,#ff5b00 254px,#ff6200 274px,#ff3700 283px,#f80000 293px,#c00000 307px,#a70000 330px,#ad0000 457px,#ff1700 458px,#ff2500 459px,#ffc600 461px,#fffa00 462px,#9f6 464px,#7bff84 465px,#4affb5 466px,#24ffdb 468px,#00e2ff 469px,#00b6ff 470px,#00c2ff 471px,#00b9ff 472px,#00ceff 473px,#00f7ff 474px,#00d9ff 477px,#00a9ff 478px,#0097ff 479px,#00b6ff 480px,#00acff 481px,#008dff 482px,#008cff 485px,#009aff 486px,#008bff 487px,#0092ff 488px,#00c6ff 489px,#00c3ff 490px,#00a8ff 491px,#00c5ff 492px,#00c8ff 493px,#0082ff 497px,#0097ff 498px,#0065ff 500px,#00a7ff 502px,#0095ff 504px,#00a7ff 506px,#00c9ff 507px,#00d0ff 509px,#06fff9 510px,#20ffdf 511px,#00feff 512px,#00fbff 513px,#3fffc0 516px,#3dffc2 518px,#5dffa2 519px,#6f9 520px,#40ffbf 521px,#4bffb4 522px,#7f8 523px,#7eff81 525px,#6dff92 527px,#8aff75 529px,#64ff9b 530px,#6eff91 531px,#8aff75 532px,#4cffb3 534px,#6dff92 536px,#a9ff56 538px,#a2ff5d 539px,#e2ff1d 541px,#a6ff59 543px,#d3ff2c 545px,#d4ff2b 547px,#bf4 548px,#dfff20 550px,#c9ff36 551px,#c7ff38 552px,#f8ff07 553px,#fff800 554px,#e8ff17 557px,#faff05 558px,#ffe700 559px,#fff400 561px,#fc0 562px,#fd0 563px,#f4ff0b 564px,#fff900 567px,#ffdf00 568px,#ffeb00 570px,#ffd900 571px,#fe0 572px,#e9ff16 573px,#ffeb00 574px,#ffb200 575px,#ff9e00 576px,#ffb000 577px,#ffe600 579px,#ffd600 580px,#ffec00 582px,#ffb200 584px,#ffce00 585px,#ffd700 586px,#ffc200 588px,#ffa800 589px,#ffb000 590px,#ffcb00 591px,#ffaf00 593px,#ffd300 594px,#ffcd00 595px,#ffa800 596px,#ff9400 598px,#ffb400 600px,#f90 601px,#ff9400 602px,#fb0 603px,#ffbc00 604px,#ffa400 605px,#ffd900 607px,#ffe000 609px,#ffb000 611px,#fc0 612px,#ffc600 613px,#fa0 614px,#ffe200 616px,#ffcd00 619px,#ffda00 620px,#f7ff08 621px,#faff05 622px,#ffdf00 623px,#fff000 625px,#ffd700 626px,#ffd700 627px,#f5ff0a 629px,#e5ff1a 630px,#faff05 631px,#ffdc00 632px,#fff200 634px,#ffda00 635px,#f2ff0d 637px,#edff12 639px,#fff500 641px,#cf3 643px,#e3ff1c 644px)"></i>
<i style="height:4px;background:linear-gradient(90deg,#0042ff 0px,#0042ff 7px,#ff0500 8px,#ff0500 10px,#800000 11px,#810000 228px,#f90000 237px,#ff5100 248px,#f50 250px,#ff8300 251px,#ffda00 252px,#ff8d00 253px,#ff5c00 254px,#ff6500 274px,#ff3900 283px,#f90000 293px,#c00000 307px,#a70000 330px,#ad0000 457px,#ff1500 458px,#ff2300 459px,#ffc300 461px,#fff700 462px,#9aff65 464px,#7cff83 465px,#4affb5 466px,#24ffdb 468px,#00e1ff 469px,#00b5ff 470px,#00c2ff 471px,#00b9ff 472px,#00c9ff 473px,#00f2ff 474px,#00d8ff 477px,#00a8ff 478px,#0095ff 479px,#00b4ff 480px,#00a9ff 481px,#008aff 482px,#08f 485px,#0096ff 486px,#08f 487px,#008eff 488px,#00c1ff 489px,#00bfff 490px,#00a4ff 491px,#00c0ff 492px,#00c5ff 493px,#0af 495px,#008aff 496px,#007fff 497px,#0093ff 498px,#0061ff 500px,#00a3ff 502px,#0091ff 504px,#00a3ff 506px,#00c5ff 507px,#00cdff 509px,#02fffd 510px,#1dffe2 511px,#00fcff 512px,#00f8ff 513px,#3dffc2 516px,#3bffc4 518px,#5bffa4 519px,#64ff9b 520px,#3effc1 521px,#49ffb6 522px,#75ff8a 523px,#7cff83 525px,#6bff94 527px,#89ff76 529px,#64ff9b 530px,#6dff92 531px,#8aff75 532px,#4affb5 534px,#6bff94 536px,#a7ff58 538px,#a0ff5f 539px,#e1ff1e 541px,#a5ff5a 543px,#d2ff2d 545px,#d4ff2b 547px,#bf4 548px,#df2 550px,#c8ff37 551px,#c6ff39 552px,#f7ff08 553px,#fffa00 554px,#e7ff18 557px,#f9ff06 558px,#ffe800 559px,#fff500 561px,#ffcd00 562px,#fd0 563px,#f3ff0c 564px,#fffa00 567px,#ffe100 568px,#ffeb00 570px,#ffd900 571px,#ffef00 572px,#e8ff17 573px,#ffed00 574px,#ffb500 575px,#ffa100 576px,#ffb000 577px,#ffe600 579px,#ffd600 580px,#fe0 582px,#ffb300 584px,#ffcf00 585px,#ffd800 586px,#ffc200 588px,#ffa900 589px,#ffb100 590px,#fc0 591px,#ffb000 593px,#ffd500 594px,#ffce00 595px,#ffa900 596px,#ff9500 598px,#ffb500 600px,#f90 601px,#ff9500 602px,#ffbc00 603px,#ffbc00 604px,#ffa500 605px,#ffda00 607px,#ffe100 609px,#ffb100 611px,#ffcd00 612px,#ffc700 613px,#ffab00 614px,#ffe200 616px,#ffce00 619px,#ffda00 620px,#f7ff08 621px,#f8ff07 622px,#ffe100 623px,#fff000 625px,#ffd800 626px,#ffd800 627px,#f5ff0a 629px,#e3ff1c 630px,#f9ff06 631px,#fd0 632px,#fff300 634px,#ffda00 635px,#f2ff0d 637px,#edff12 639px,#faff05 640px)"></i>
<i style="height:6px;background:linear-gradient(90deg,#0042ff 0px,#0042ff 7px,#ff0500 8px,#ff0500 10px,#800000 11px,#810000 228px,#f90000 237px,#ff5100 248px,#ff5600 250px,#ff8400 251px,#ffdb00 252px,#ff8e00 253px,#ff5d00 254px,#ff6a00 273px,#ff4200 282px,#f90000 293px,#c10000 307px,#a70000 330px,#ad0000 457px,#ff1200 458px,#ff2100 459px,#ffc000 461px,#fff300 462px,#9cff63 464px,#7dff82 465px,#4cffb3 466px,#25ffda 468px,#00e2ff 469px,#00b5ff 470px,#00c2ff 471px,#00b9ff 472px,#00c3ff 473px,#00ecff 474px,#00d7ff 477px,#00a7ff 478px,#0094ff 479px,#00b3ff 480px,#00a6ff 481px,#0087ff 482px,#0085ff 485px,#0093ff 486px,#0084ff 487px,#0089ff 488px,#00bcff 489px,#00b9ff 490px,#009eff 491px,#00baff 492px,#00c3ff 493px,#00a8ff 495px,#08f 496px,#007bff 497px,#008fff 498px,#005eff 500px,#00a0ff 502px,#008cff 504px,#009eff 506px,#00c1ff 507px,#00c8ff 509px,#00fdff 510px,#19ffe6 511px,#00f8ff 512px,#0efff1 514px,#3affc5 516px,#38ffc7 518px,#58ffa7 519px,#61ff9e 520px,#3cffc3 521px,#47ffb8 522px,#73ff8c 523px,#7aff85 525px,#69ff96 527px,#89ff76 529px,#63ff9c 530px,#6dff92 531px,#8aff75 532px,#48ffb7 534px,#69ff96 536px,#a5ff5a 538px,#9dff62 539px,#e0ff1f 541px,#a4ff5b 543px,#d1ff2e 545px,#d3ff2c 547px,#baff45 548px,#c3ff3c 549px,#dcff23 550px,#c7ff38 551px,#c5ff3a 552px,#f5ff0a 553px,#fffb00 554px,#e5ff1a 557px,#f7ff08 558px,#ffea00 559px,#fff700 561px,#ffcf00 562px,#ffde00 563px,#f3ff0c 564px,#fffa00 567px,#ffe300 568px,#ffeb00 570px,#ffda00 571px,#ffef00 572px,#e8ff17 573px,#fff100 574px,#ffb800 575px,#ffa500 576px,#ffb000 577px,#ffe600 579px,#ffd600 580px,#ffef00 582px,#ffb500 584px,#ffd100 585px,#ffda00 586px,#ffc400 588px,#fa0 589px,#ffb200 590px,#ffcd00 591px,#ffb100 593px,#ffd600 594px,#ffd000 595px,#ffab00 596px,#ff9700 598px,#ffb600 600px,#ff9b00 601px,#ff9500 602px,#ffbc00 603px,#ffbc00 604px,#ffa500 605px,#ffdc00 607px,#ffe200 609px,#ffb200 611px,#ffce00 612px,#ffc800 613px,#ffad00 614px,#ffe200 616px,#ffce00 619px,#ffda00 620px,#f7ff08 621px,#f7ff08 622px,#ffe300 623px,#fff200 625px,#ffd800 626px,#ffd800 627px,#f5ff0a 629px,#e2ff1d 630px,#f7ff08 631px,#ffdf00 632px,#fff500 634px,#ffda00 635px)"></i>
<i style="height:6px;background:linear-gradient(90deg,#0042ff 0px,#0042ff 7px,#ff0500 8px,#ff0500 10px,#800000 11px,#810000 228px,#f90000 237px,#ff5100 248px,#ff5600 250px,#ff8400 251px,#ffdb00 252px,#ff8f00 253px,#ff5e00 254px,#ff6e00 273px,#ff4c00 281px,#fa0000 293px,#c10000 307px,#a70000 330px,#ad0000 457px,#ff0f00 458px,#ff1d00 459px,#ffbc00 461px,#fe0 462px,#d5ff2a 463px,#9fff60 464px,#7fff80 465px,#4effb1 466px,#28ffd7 468px,#00e2ff 469px,#00b6ff 470px,#00c2ff 471px,#00bcff 473px,#00e5ff 474px,#00ecff 475px,#00d6ff 477px,#00a6ff 478px,#0093ff 479px,#00b2ff 480px,#00a3ff 481px,#0084ff 482px,#0082ff 485px,#008fff 486px,#0081ff 487px,#0085ff 488px,#00b7ff 489px,#00b4ff 490px,#09f 491px,#00c2ff 493px,#00a7ff 495px,#0087ff 496px,#07f 497px,#008cff 498px,#005bff 500px,#009dff 502px,#08f 504px,#009aff 506px,#00bcff 507px,#00c4ff 509px,#00f9ff 510px,#15ffea 511px,#00f5ff 512px,#00f1ff 513px,#1dffe2 515px,#36ffc9 516px,#35ffca 518px,#5fa 519px,#5fffa0 520px,#3affc5 521px,#45ffba 522px,#71ff8e 523px,#78ff87 525px,#67ff98 527px,#8f7 529px,#63ff9c 530px,#6dff92 531px,#89ff76 532px,#45ffba 534px,#6f9 536px,#a2ff5d 538px,#9bff64 539px,#df2 541px,#a3ff5c 543px,#d0ff2f 545px,#d1ff2e 547px,#b9ff46 548px,#c1ff3e 549px,#daff25 550px,#c5ff3a 551px,#c3ff3c 552px,#f3ff0c 553px,#fffd00 554px,#e4ff1b 557px,#f5ff0a 558px,#ffec00 559px,#fff900 561px,#ffd100 562px,#ffde00 563px,#f2ff0d 564px,#fffb00 567px,#ffe600 568px,#ffed00 570px,#ffda00 571px,#ffef00 572px,#e8ff17 573px,#fff600 574px,#ffbd00 575px,#fa0 576px,#ffb000 577px,#ffe500 579px,#ffd500 580px,#fff100 582px,#ffb700 584px,#ffd300 585px,#ffdc00 586px,#ffc500 588px,#ffab00 589px,#ffb300 590px,#ffcf00 591px,#ffb200 593px,#ffd700 594px,#ffd200 595px,#ffad00 596px,#f90 598px,#ffb900 600px,#ff9d00 601px,#ff9500 602px,#ffbc00 603px,#ffbc00 604px,#ffa500 605px,#fd0 607px,#ffe400 609px,#ffb400 611px,#ffd000 612px,#ffca00 613px,#ffae00 614px,#ffe200 616px,#ffce00 619px,#ffdb00 620px,#f6ff09 621px,#f5ff0a 622px,#ffe500 623px,#fff400 625px,#ffd800 626px,#ffd800 627px,#f5ff0a 629px)"></i>
<i style="height:6px;background:linear-gradient(90deg,#0042ff 0px,#0042ff 7px,#ff0500 8px,#ff0500 10px,#800000 11px,#810000 228px,#fa0000 237px,#ff5100 248px,#ff5600 250px,#ff8500 251px,#ffdc00 252px,#ff8f00 253px,#ff5e00 254px,#ff7200 273px,#ff4e00 281px,#fa0000 293px,#c10000 307px,#a70000 330px,#ad0000 457px,#ff0a00 458px,#ff1800 459px,#ffb800 461px,#ffe900 462px,#dbff24 463px,#a5ff5a 464px,#51ffae 466px,#2bffd4 468px,#00e4ff 469px,#00b8ff 470px,#00c4ff 471px,#00b6ff 473px,#00dfff 474px,#00ecff 475px,#00d6ff 477px,#00a7ff 478px,#0094ff 479px,#00b2ff 480px,#00a4ff 481px,#0083ff 482px,#0080ff 485px,#008eff 486px,#007fff 487px,#0083ff 488px,#00b3ff 489px,#00b0ff 490px,#0095ff 491px,#00c2ff 493px,#00a7ff 495px,#0076ff 497px,#008aff 498px,#0059ff 500px,#009bff 502px,#0085ff 504px,#0097ff 506px,#00b9ff 507px,#00c1ff 509px,#00f5ff 510px,#13ffec 511px,#00f2ff 512px,#00efff 513px,#08fff7 514px,#34ffcb 516px,#32ffcd 518px,#52ffad 519px,#5dffa2 520px,#38ffc7 521px,#43ffbc 522px,#6fff90 523px,#70ff8f 526px,#6f9 527px,#86ff79 529px,#63ff9c 530px,#6dff92 531px,#89ff76 532px,#46ffb9 534px,#63ff9c 536px,#9fff60 538px,#98ff67 539px,#daff25 541px,#a2ff5d 543px,#cfff30 545px,#d0ff2f 547px,#b7ff48 548px,#bfff40 549px,#d8ff27 550px,#c3ff3c 551px,#c1ff3e 552px,#f1ff0e 553px,#ff0 554px,#e6ff19 556px,#e2ff1d 557px,#f4ff0b 558px,#ffed00 559px,#fffb00 561px,#ffd300 562px,#ffdf00 563px,#f2ff0d 564px,#fffb00 567px,#ffe900 568px,#fff000 570px,#ffda00 571px,#fff000 572px,#e8ff17 573px,#fffa00 574px,#ffc200 575px,#ffae00 576px,#ffaf00 577px,#ffe500 579px,#ffd500 580px,#fff300 582px,#ffb900 584px,#ffd500 585px,#ffde00 586px,#ffc600 588px,#ffad00 589px,#ffb500 590px,#ffd000 591px,#ffb400 593px,#ffd900 594px,#ffd400 595px,#ffaf00 596px,#ff9b00 598px,#fb0 600px,#ff9f00 601px,#ff9500 602px,#ffbc00 603px,#ffbd00 604px,#ffa500 605px,#ffdf00 607px,#ffe500 609px,#ffb500 611px,#ffd100 612px,#fc0 613px,#ffb000 614px,#ffe300 616px,#ffce00 619px,#ffdb00 620px,#f6ff09 621px,#f2ff0d 622px)"></i>
<i style="height:4px;background:linear-gradient(90deg,#0042ff 0px,#0042ff 7px,#ff0500 8px,#ff0500 10px,#800000 11px,#810000 228px,#fa0000 237px,#ff5100 248px,#ff5700 250px,#ff8500 251px,#ffdc00 252px,#ff9000 253px,#ff5f00 254px,#ff7600 272px,#ff5700 280px,#fa0000 293px,#c10000 307px,#a70000 330px,#ad0000 457px,#ff0600 458px,#ff1400 459px,#ffb300 461px,#ffe300 462px,#e0ff1f 463px,#af5 464px,#54ffab 466px,#2effd1 468px,#00e6ff 469px,#00baff 470px,#00c6ff 471px,#00b1ff 473px,#00daff 474px,#0ef 475px,#00d8ff 477px,#00a8ff 478px,#0095ff 479px,#00b4ff 480px,#00a5ff 481px,#0082ff 482px,#0080ff 485px,#008dff 486px,#007fff 487px,#0083ff 488px,#00b1ff 489px,#00aeff 490px,#0094ff 491px,#00c4ff 493px,#00a9ff 495px,#0076ff 497px,#008aff 498px,#0059ff 500px,#009bff 502px,#0083ff 504px,#0095ff 506px,#00b7ff 507px,#00bfff 509px,#00f3ff 510px,#1fe 511px,#00f1ff 512px,#0ef 513px,#07fff8 514px,#3fc 516px,#31ffce 518px,#51ffae 519px,#5bffa4 520px,#37ffc8 521px,#42ffbd 522px,#6eff91 523px,#6fff90 526px,#65ff9a 527px,#85ff7a 529px,#64ff9b 530px,#6dff92 531px,#8aff75 532px,#46ffb9 534px,#61ff9e 536px,#9cff63 538px,#95ff6a 539px,#d7ff28 541px,#a1ff5e 543px,#ceff31 545px,#cfff30 547px,#b6ff49 548px,#bdff42 549px,#d7ff28 550px,#c1ff3e 551px,#bfff40 552px,#f0ff0f 553px,#fdff02 554px,#e5ff1a 556px,#e0ff1f 557px,#ffef00 559px,#fffc00 561px,#ffd400 562px,#ffdf00 563px,#f1ff0e 564px,#fffc00 567px,#ffec00 568px,#fff300 570px,#ffdb00 571px,#fff000 572px,#e8ff17 573px,#fffe00 574px,#ffc600 575px,#ffaf00 577px,#ffe400 579px,#ffd500 580px,#fff500 582px,#fb0 584px,#ffd600 585px,#ffe000 586px,#ffc700 588px,#ffae00 589px,#ffb600 590px,#ffd100 591px,#ffb500 593px,#ffda00 594px,#ffd600 595px,#ffb100 596px,#ff9d00 598px,#ffbc00 600px,#ffa100 601px,#ff9500 602px,#ffbc00 603px,#ffbd00 604px,#ffa500 605px,#ffdf00 607px,#ffe600 609px,#ffb700 611px,#ffd300 612px,#ffcd00 613px,#ffb200 614px,#ffc900 615px)"></i>
<i style="height:2px;background:linear-gradient(90deg,#0042ff 0px,#0042ff 7px,#ff0500 8px,#ff0500 10px,#800000 11px,#810000 228px,#fa0000 237px,#ff5100 248px,#ff5700 250px,#ff8500 251px,#ffdc00 252px,#ff9000 253px,#ff5f00 254px,#ff7800 272px,#ff5900 280px,#fa0000 293px,#c10000 307px,#a70000 330px,#ad0000 457px,#ff0300 458px,#f10 459px,#ffb000 461px,#ffdf00 462px,#e4ff1b 463px,#57ffa8 466px,#30ffcf 468px,#00e7ff 469px,#0bf 470px,#00c7ff 471px,#00aeff 473px,#00d7ff 474px,#00efff 475px,#00d9ff 477px,#00a9ff 478px,#0097ff 479px,#00b5ff 480px,#00a7ff 481px,#0083ff 482px,#0080ff 485px,#008eff 486px,#007fff 487px,#0083ff 488px,#00b1ff 489px,#00aeff 490px,#0093ff 491px,#00c6ff 493px,#00abff 495px,#0076ff 497px,#008bff 498px,#005aff 500px,#009cff 502px,#0082ff 504px,#0094ff 506px,#00b7ff 507px,#00bfff 509px,#00f3ff 510px,#1fe 511px,#00f0ff 512px,#00edff 513px,#07fff8 514px,#32ffcd 516px,#30ffcf 518px,#50ffaf 519px,#5bffa4 520px,#36ffc9 521px,#42ffbd 522px,#6dff92 523px,#6fff90 526px,#64ff9b 527px,#84ff7b 529px,#64ff9b 530px,#6eff91 531px,#8aff75 532px,#46ffb9 534px,#5fffa0 536px,#9aff65 538px,#93ff6c 539px,#d6ff29 541px,#a1ff5e 543px,#cdff32 545px,#cfff30 547px,#b6ff49 548px,#bcff43 549px,#d6ff29 550px,#c0ff3f 551px,#beff41 552px,#efff10 553px,#fcff03 554px,#e4ff1b 556px,#dfff20 557px,#fff000 559px,#fffe00 561px,#ffd600 562px,#ffe000 563px,#f1ff0e 564px,#fffc00 567px,#ffed00 568px,#fff500 570px,#ffdb00 571px,#fff000 572px,#e8ff17 573px,#fdff02 574px,#ffc900 575px,#ffaf00 577px,#ffe400 579px,#ffd400 580px,#fff600 582px,#ffbc00 584px,#ffd800 585px,#ffe100 586px,#ffc800 588px,#ffae00 589px,#ffb700 590px,#ffd200 591px,#ffb600 593px,#ffda00 594px,#ffd700 595px,#ffb200 596px,#ff9e00 598px,#ffbd00 600px,#ff9500 602px,#ffbc00 603px,#ffbc00 604px,#ffa500 605px,#ffdf00 607px,#ffe700 609px,#ffb800 611px)"></i>
<i style="height:4px;background:linear-gradient(90deg,#0042ff 0px,#0042ff 7px,#ff0500 8px,#ff0500 10px,#800000 11px,#810000 228px,#fa0000 237px,#ff5200 248px,#ff5700 250px,#ff8500 251px,#fd0 252px,#ff9000 253px,#ff6000 254px,#ff7900 272px,#ff5900 280px,#fb0000 293px,#c10000 307px,#a70000 330px,#ad0000 458px,#ff0e00 459px,#ffad00 461px,#ffdc00 462px,#e8ff17 463px,#59ffa6 466px,#3fc 468px,#00e9ff 469px,#00bdff 470px,#00c9ff 471px,#00acff 473px,#00efff 475px,#00dbff 477px,#00abff 478px,#0098ff 479px,#00b7ff 480px,#00a8ff 481px,#0083ff 482px,#0081ff 485px,#008fff 486px,#0080ff 487px,#0084ff 488px,#00b0ff 489px,#00aeff 490px,#0093ff 491px,#00c8ff 493px,#00adff 495px,#07f 497px,#008cff 498px,#005bff 500px,#009cff 502px,#0082ff 504px,#0094ff 506px,#00b6ff 507px,#00beff 509px,#00f2ff 510px,#10ffef 511px,#00f0ff 512px,#00edff 513px,#06fff9 514px,#31ffce 516px,#30ffcf 518px,#50ffaf 519px,#5affa5 520px,#36ffc9 521px,#41ffbe 522px,#6dff92 523px,#6eff91 526px,#63ff9c 527px,#83ff7c 529px,#65ff9a 530px,#6eff91 531px,#8aff75 532px,#47ffb8 534px,#5effa1 536px,#9f6 538px,#92ff6d 539px,#d4ff2b 541px,#a0ff5f 543px,#cdff32 545px,#ceff31 547px,#b5ff4a 548px,#bf4 549px,#d5ff2a 550px,#bfff40 551px,#bdff42 552px,#ef1 553px,#fbff04 554px,#e3ff1c 556px,#deff21 557px,#fff100 559px,#ff0 561px,#ffd700 562px,#ffe000 563px,#f1ff0e 564px,#fffc00 567px,#ffef00 568px,#fff600 570px,#ffdb00 571px,#fff000 572px,#e8ff17 573px,#fbff04 574px,#ffcb00 575px,#ffaf00 577px,#ffe400 579px,#ffd400 580px,#fff700 582px,#ffbd00 584px,#ffd900 585px,#ffe200 586px,#ffc900 588px,#ffaf00 589px,#ffb700 590px,#ffd200 591px,#ffb600 593px,#ffdb00 594px,#ffd800 595px,#ffb300 596px,#ff9f00 598px,#ffbf00 600px,#ff9500 602px,#ffbc00 603px,#ffbc00 604px,#ffa500 605px,#ffdf00 607px,#ffe800 608px)"></i>
<i style="height:4px;background:linear-gradient(90deg,#0042ff 0px,#0042ff 7px,#ff0500 8px,#ff0500 10px,#800000 11px,#810000 228px,#fa0000 237px,#f50 249px,#ff5700 250px,#ff8500 251px,#fd0 252px,#ff9100 253px,#ff6000 254px,#ff7b00 272px,#ff5a00 280px,#fb0000 293px,#c30000 306px,#a80000 328px,#ad0000 458px,#ff0a00 459px,#ffa900 461px,#ffd600 462px,#edff12 463px,#5dffa2 466px,#37ffc8 468px,#00ebff 469px,#00bfff 470px,#00cbff 471px,#00c3ff 472px,#00a8ff 473px,#00ecff 475px,#0df 477px,#00aeff 478px,#009bff 479px,#00baff 480px,#00abff 481px,#0085ff 482px,#0083ff 485px,#0090ff 486px,#0082ff 487px,#0086ff 488px,#00b1ff 489px,#00aeff 490px,#0093ff 491px,#0cf 493px,#00b1ff 495px,#007aff 497px,#008eff 498px,#005dff 500px,#009eff 502px,#0084ff 504px,#0094ff 506px,#00b6ff 507px,#00beff 509px,#00f2ff 510px,#10ffef 511px,#00edff 513px,#06fff9 514px,#31ffce 516px,#2fffd0 518px,#4fffb0 519px,#59ffa6 520px,#36ffc9 521px,#41ffbe 522px,#6cff93 523px,#6dff92 526px,#63ff9c 527px,#83ff7c 529px,#65ff9a 530px,#6fff90 531px,#8bff74 532px,#47ffb8 534px,#5cffa3 536px,#97ff68 538px,#90ff6f 539px,#d2ff2d 541px,#a0ff5f 543px,#cf3 545px,#cdff32 547px,#b5ff4a 548px,#baff45 549px,#d3ff2c 550px,#beff41 551px,#bcff43 552px,#ecff13 553px,#faff05 554px,#e2ff1d 556px,#df2 557px,#fff300 559px,#feff01 561px,#ffd800 562px,#ffe000 563px,#f1ff0e 564px,#fff100 568px,#fff900 570px,#ffdb00 571px,#fff000 572px,#e8ff17 573px,#faff05 574px,#ffcf00 575px,#ffae00 577px,#ffe300 579px,#ffd300 580px,#fff900 582px,#ffbf00 584px,#ffda00 585px,#ffe400 586px,#ffca00 588px,#ffb000 589px,#ffb800 590px,#ffd300 591px,#ffb700 593px,#ffdc00 594px,#ffd900 595px,#ffb400 596px,#ffa000 598px,#ffc000 600px,#ff9500 602px,#ffbc00 603px,#ffbc00 604px)"></i>
<i style="height:4px;background:linear-gradient(90deg,#0042ff 0px,#0042ff 7px,#ff0500 8px,#ff0500 10px,#800000 11px,#810000 228px,#fa0000 237px,#f50 249px,#ff5700 250px,#ff8500 251px,#fd0 252px,#ff9100 253px,#ff6000 254px,#ff7c00 272px,#ff5b00 280px,#fb0000 293px,#c30000 306px,#a80000 328px,#ad0000 458px,#ff0600 459px,#ffa400 461px,#f3ff0c 463px,#60ff9f 466px,#3bffc4 468px,#0ef 469px,#00c2ff 470px,#00ceff 471px,#00c6ff 472px,#0af 473px,#00e9ff 475px,#00e0ff 477px,#00b1ff 478px,#009eff 479px,#00bdff 480px,#00afff 481px,#0086ff 482px,#0085ff 485px,#0092ff 486px,#0084ff 487px,#08f 488px,#00b1ff 489px,#00afff 490px,#0094ff 491px,#00d1ff 493px,#00b6ff 495px,#007eff 497px,#0090ff 498px,#005fff 500px,#00a0ff 502px,#0086ff 504px,#0095ff 506px,#00b7ff 507px,#00beff 509px,#00f2ff 510px,#10ffef 511px,#00edff 513px,#06fff9 514px,#31ffce 516px,#2fffd0 518px,#4fffb0 519px,#59ffa6 520px,#36ffc9 521px,#41ffbe 522px,#6cff93 523px,#6dff92 526px,#62ff9d 527px,#82ff7d 529px,#6f9 530px,#6fff90 531px,#8cff73 532px,#48ffb7 534px,#48ffb7 535px,#5affa5 536px,#95ff6a 538px,#8eff71 539px,#cfff30 541px,#9fff60 543px,#cbff34 545px,#cdff32 547px,#b4ff4b 548px,#b9ff46 549px,#d2ff2d 550px,#bdff42 551px,#bf4 552px,#ebff14 553px,#f8ff07 554px,#e0ff1f 556px,#dcff23 557px,#fff400 559px,#fdff02 561px,#ffd900 562px,#ffe000 563px,#f1ff0e 564px,#fff300 568px,#fffb00 570px,#ffdb00 571px,#fff000 572px,#e8ff17 573px,#faff05 574px,#ffd300 575px,#ffaf00 577px,#ffe300 579px,#ffd300 580px,#fffa00 582px,#ffc000 584px,#ffdc00 585px,#ffe500 586px,#ffcb00 588px,#ffb100 589px,#ffb900 590px,#ffd400 591px,#ffb800 593px,#fd0 594px,#ffdb00 595px,#ffb600 596px,#ffa200 598px,#ffaf00 599px)"></i>
<i style="height:4px;background:linear-gradient(90deg,#0042ff 0px,#0042ff 7px,#ff0500 8px,#ff0500 10px,#800000 11px,#810000 228px,#fa0000 237px,#f50 249px,#ff5700 250px,#ff8600 251px,#fd0 252px,#ff9100 253px,#ff6000 254px,#ff7c00 272px,#ff5c00 280px,#fb0000 293px,#c30000 306px,#a80000 328px,#ad0000 458px,#ff0100 459px,#ff9f00 461px,#faff05 463px,#64ff9b 466px,#3fffc0 468px,#00f1ff 469px,#00c5ff 470px,#00d2ff 471px,#00c9ff 472px,#00aeff 473px,#00e6ff 475px,#00e3ff 477px,#00b4ff 478px,#00a2ff 479px,#00c1ff 480px,#00b2ff 481px,#08f 482px,#0087ff 485px,#0095ff 486px,#0086ff 487px,#008bff 488px,#00b2ff 489px,#00b0ff 490px,#0095ff 491px,#00d5ff 493px,#00baff 495px,#0083ff 497px,#0093ff 498px,#0062ff 500px,#00a3ff 502px,#0089ff 504px,#0096ff 506px,#00b7ff 507px,#00bfff 509px,#00f2ff 510px,#10ffef 511px,#0ef 513px,#07fff8 514px,#31ffce 516px,#2fffd0 518px,#4effb1 519px,#58ffa7 520px,#36ffc9 521px,#41ffbe 522px,#6cff93 523px,#6cff93 526px,#62ff9d 527px,#81ff7e 529px,#67ff98 530px,#70ff8f 531px,#8cff73 532px,#49ffb6 534px,#46ffb9 535px,#58ffa7 536px,#92ff6d 538px,#8bff74 539px,#cdff32 541px,#9eff61 543px,#cbff34 545px,#cf3 547px,#b3ff4c 548px,#b8ff47 549px,#d1ff2e 550px,#bf4 551px,#b9ff46 552px,#eaff15 553px,#f7ff08 554px,#dfff20 556px,#daff25 557px,#fff500 559px,#fbff04 561px,#ffdb00 562px,#ffe100 563px,#f1ff0e 564px,#fff600 568px,#fffd00 570px,#ffdb00 571px,#fff000 572px,#e8ff17 573px,#faff05 574px,#ffd700 575px,#ffb200 577px,#ffe200 579px,#ffd200 580px,#fffc00 582px,#ffc200 584px,#fd0 585px,#ffe700 586px,#ffb200 589px,#ffba00 590px,#ffd500 591px,#ffb900 593px,#ffde00 594px,#ffdc00 595px)"></i>
<i style="height:4px;background:linear-gradient(90deg,#0042ff 0px,#0042ff 7px,#ff0500 8px,#ff0500 10px,#800000 11px,#810000 228px,#fa0000 237px,#f50 249px,#ff5700 250px,#ff8600 251px,#fd0 252px,#ff9100 253px,#ff6000 254px,#ff7c00 272px,#ff5c00 280px,#fb0000 293px,#c30000 306px,#a80000 328px,#ad0000 458px,#fb0000 459px,#ff9a00 461px,#fffe00 463px,#69ff96 466px,#43ffbc 468px,#00f5ff 469px,#00c9ff 470px,#00d5ff 471px,#0cf 472px,#00b1ff 473px,#00e3ff 475px,#00efff 476px,#00e7ff 477px,#00b8ff 478px,#00a6ff 479px,#00c5ff 480px,#00b7ff 481px,#008bff 482px,#008aff 485px,#0097ff 486px,#0089ff 487px,#008dff 488px,#00b4ff 489px,#00b1ff 490px,#0097ff 491px,#00d7ff 493px,#00c0ff 495px,#0089ff 497px,#0096ff 498px,#0065ff 500px,#00a6ff 502px,#008bff 504px,#0097ff 506px,#00b8ff 507px,#00bfff 509px,#00f2ff 510px,#10ffef 511px,#00f2ff 512px,#0ef 513px,#07fff8 514px,#31ffce 516px,#2fffd0 518px,#4effb1 519px,#58ffa7 520px,#36ffc9 521px,#41ffbe 522px,#6cff93 523px,#6cff93 526px,#61ff9e 527px,#81ff7e 529px,#68ff97 530px,#71ff8e 531px,#8dff72 532px,#49ffb6 534px,#4fb 535px,#56ffa9 536px,#90ff6f 538px,#89ff76 539px,#cbff34 541px,#9eff61 543px,#caff35 545px,#cbff34 547px,#b3ff4c 548px,#b8ff47 549px,#cfff30 550px,#baff45 551px,#b8ff47 552px,#e8ff17 553px,#f5ff0a 554px,#df2 556px,#d9ff26 557px,#fff700 559px,#faff05 561px,#ffdc00 562px,#ffe200 563px,#f0ff0f 564px,#feff01 570px,#ffdb00 571px,#fff000 572px,#e8ff17 573px,#faff05 574px,#ffdb00 575px,#ffb600 577px,#ffe100 579px,#ffd200 580px,#fffd00 582px,#ffc300 584px,#ffdf00 585px,#ffe800 586px,#ffb300 589px,#fb0 590px)"></i>
<i style="height:4px;background:linear-gradient(90deg,#0042ff 0px,#0042ff 7px,#ff0500 8px,#ff0500 10px,#800000 11px,#810000 228px,#fa0000 237px,#f50 249px,#ff5700 250px,#ff8500 251px,#fd0 252px,#ff9100 253px,#ff6000 254px,#ff7c00 272px,#ff5b00 280px,#fb0000 293px,#c30000 306px,#a80000 328px,#ad0000 458px,#f60000 459px,#ff9400 461px,#fff700 463px,#6dff92 466px,#48ffb7 468px,#00faff 469px,#0cf 470px,#00d8ff 471px,#00d0ff 472px,#00b5ff 473px,#00f2ff 476px,#00eaff 477px,#00bcff 478px,#0af 479px,#00c9ff 480px,#0bf 481px,#008dff 482px,#008cff 485px,#009aff 486px,#008cff 487px,#0091ff 488px,#00b5ff 489px,#00b2ff 490px,#0098ff 491px,#00d9ff 493px,#00c5ff 495px,#008eff 497px,#009aff 498px,#0068ff 500px,#00a9ff 502px,#008dff 505px,#0098ff 506px,#00b9ff 507px,#00c0ff 509px,#00f3ff 510px,#10ffef 511px,#00f3ff 512px,#00efff 513px,#19ffe6 515px,#31ffce 516px,#2fffd0 518px,#4effb1 519px,#58ffa7 520px,#36ffc9 521px,#41ffbe 522px,#6cff93 523px,#6cff93 526px,#61ff9e 527px,#80ff7f 529px,#69ff96 530px,#72ff8d 531px,#8eff71 532px,#4affb5 534px,#42ffbd 535px,#53ffac 536px,#8eff71 538px,#87ff78 539px,#c8ff37 541px,#9dff62 543px,#c9ff36 545px,#caff35 547px,#b2ff4d 548px,#b7ff48 549px,#ceff31 550px,#b9ff46 551px,#b7ff48 552px,#e7ff18 553px,#f4ff0b 554px,#dcff23 556px,#d7ff28 557px,#fff800 559px,#f8ff07 561px,#ffde00 562px,#ffe300 563px,#f0ff0f 564px,#fff700 568px,#fcff03 570px,#ffdb00 571px,#fff000 572px,#e8ff17 573px,#faff05 574px,#fc0 576px,#ffba00 577px,#ffe000 579px,#ffd100 580px,#ff0 582px,#ffc500 584px,#ffe000 585px,#ffea00 586px)"></i>
<i style="height:4px;background:linear-gradient(90deg,#0042ff 0px,#0042ff 7px,#ff0500 8px,#ff0500 10px,#800000 11px,#810000 228px,#fa0000 237px,#f50 249px,#ff5700 250px,#ff8500 251px,#fd0 252px,#ff9100 253px,#ff6000 254px,#ff7b00 272px,#ff5b00 280px,#fb0000 293px,#c30000 306px,#a80000 328px,#ad0000 458px,#f10000 459px,#ff8f00 461px,#fff000 463px,#d9ff26 464px,#72ff8d 466px,#4dffb2 468px,#00feff 469px,#00d0ff 470px,#00dcff 471px,#00d4ff 472px,#00b9ff 473px,#00c0ff 474px,#00f6ff 476px,#0ef 477px,#00c0ff 478px,#00aeff 479px,#00cdff 480px,#00bfff 481px,#0090ff 482px,#008fff 485px,#009dff 486px,#008fff 487px,#0094ff 488px,#00b8ff 489px,#00b4ff 490px,#09f 491px,#00daff 493px,#00cbff 495px,#0094ff 497px,#009dff 498px,#006cff 500px,#00acff 502px,#008eff 505px,#09f 506px,#00baff 507px,#00c0ff 509px,#00f3ff 510px,#1fe 511px,#00f4ff 512px,#00f0ff 513px,#19ffe6 515px,#32ffcd 516px,#2fffd0 518px,#4effb1 519px,#57ffa8 520px,#36ffc9 521px,#41ffbe 522px,#6bff94 523px,#6bff94 526px,#60ff9f 527px,#7fff80 529px,#68ff97 530px,#73ff8c 531px,#8fff70 532px,#4bffb4 534px,#41ffbe 535px,#51ffae 536px,#8cff73 538px,#84ff7b 539px,#c6ff39 541px,#9dff62 543px,#c9ff36 545px,#caff35 547px,#b1ff4e 548px,#b6ff49 549px,#cf3 550px,#b7ff48 551px,#b5ff4a 552px,#e5ff1a 553px,#f2ff0d 554px,#daff25 556px,#d6ff29 557px,#fffa00 559px,#f7ff08 561px,#ffe000 562px,#ffe500 563px,#f0ff0f 564px,#fff800 568px,#f9ff06 570px,#fd0 571px,#ffef00 572px,#e8ff17 573px,#fbff04 574px,#ffbf00 577px,#ffe000 579px,#ffd000 580px,#ffe200 581px)"></i>
<i style="height:4px;background:linear-gradient(90deg,#0042ff 0px,#0042ff 7px,#ff0500 8px,#ff0500 10px,#800000 11px,#810000 228px,#fa0000 237px,#f50 249px,#ff5700 250px,#ff8500 251px,#fd0 252px,#ff9000 253px,#ff6000 254px,#ff7a00 272px,#ff5a00 280px,#fb0000 293px,#c10000 307px,#a70000 330px,#ad0000 458px,#eb0000 459px,#ff3b00 460px,#ff8900 461px,#ffe900 463px,#e0ff1f 464px,#76ff89 466px,#52ffad 468px,#05fffa 469px,#00d3ff 470px,#00e0ff 471px,#00d8ff 472px,#00bdff 473px,#00bcff 474px,#00f9ff 476px,#00f2ff 477px,#00c3ff 478px,#00b2ff 479px,#00d1ff 480px,#00c3ff 481px,#0095ff 482px,#0092ff 485px,#00a0ff 486px,#0092ff 487px,#0097ff 488px,#0bf 489px,#00b5ff 490px,#009bff 491px,#00dbff 493px,#00d1ff 495px,#09f 497px,#00a0ff 498px,#006fff 500px,#00afff 502px,#008fff 505px,#009aff 506px,#0bf 507px,#00c1ff 509px,#00f4ff 510px,#1fe 511px,#00f4ff 512px,#00f0ff 513px,#19ffe6 515px,#32ffcd 516px,#2fffd0 518px,#4dffb2 519px,#57ffa8 520px,#36ffc9 521px,#40ffbf 522px,#6bff94 523px,#6bff94 526px,#60ff9f 527px,#7fff80 529px,#68ff97 530px,#90ff6f 532px,#4cffb3 534px,#42ffbd 535px,#4fffb0 536px,#89ff76 538px,#82ff7d 539px,#c3ff3c 541px,#9cff63 543px,#c8ff37 545px,#c9ff36 547px,#b0ff4f 548px,#b5ff4a 549px,#cbff34 550px,#b6ff49 551px,#b4ff4b 552px,#e4ff1b 553px,#f1ff0e 554px,#d9ff26 556px,#d4ff2b 557px,#fffb00 559px,#f5ff0a 561px,#ffe100 562px,#ffe600 563px,#f0ff0f 564px,#fff800 568px,#f7ff08 570px,#ffe000 571px,#ffef00 572px,#e9ff16 573px,#fbff04 574px,#ffc300 577px)"></i>
<i style="height:4px;background:linear-gradient(90deg,#0042ff 0px,#0042ff 7px,#ff0500 8px,#ff0500 10px,#800000 11px,#810000 228px,#fa0000 237px,#ff5100 248px,#ff5700 250px,#ff8500 251px,#ffdc00 252px,#ff9000 253px,#ff5f00 254px,#ff7800 272px,#ff5900 280px,#fa0000 293px,#c10000 307px,#a70000 330px,#ad0000 458px,#e60000 459px,#ff3500 460px,#ff8300 461px,#ffe100 463px,#e8ff17 464px,#7bff84 466px,#57ffa8 468px,#0afff5 469px,#00d7ff 470px,#00e3ff 471px,#00dbff 472px,#00c1ff 473px,#00b9ff 474px,#00fdff 476px,#00f6ff 477px,#00c7ff 478px,#00b6ff 479px,#00d5ff 480px,#00c8ff 481px,#09f 482px,#0094ff 485px,#00a2ff 486px,#0095ff 487px,#09f 488px,#00bdff 489px,#00b6ff 490px,#009cff 491px,#00dcff 493px,#00e2ff 494px,#00d6ff 495px,#009fff 497px,#00a3ff 498px,#0072ff 500px,#00b2ff 502px,#0090ff 505px,#009aff 506px,#0bf 507px,#00c1ff 509px,#00f4ff 510px,#1fe 511px,#00f5ff 512px,#00f1ff 513px,#1affe5 515px,#32ffcd 516px,#2effd1 518px,#4dffb2 519px,#57ffa8 520px,#35ffca 521px,#40ffbf 522px,#6bff94 523px,#6aff95 526px,#5fffa0 527px,#7eff81 529px,#67ff98 530px,#91ff6e 532px,#4dffb2 534px,#43ffbc 535px,#4dffb2 536px,#87ff78 538px,#80ff7f 539px,#c1ff3e 541px,#9bff64 543px,#c7ff38 545px,#c8ff37 547px,#b0ff4f 548px,#c9ff36 550px,#b4ff4b 551px,#b2ff4d 552px,#e2ff1d 553px,#efff10 554px,#d7ff28 556px,#d3ff2c 557px,#fffd00 559px,#f4ff0b 561px,#ffe300 562px,#ffe800 563px,#f0ff0f 564px,#fff800 568px,#f4ff0b 570px,#ffe200 571px,#ffef00 572px)"></i>
<i style="height:4px;background:linear-gradient(90deg,#0042ff 0px,#0042ff 7px,#ff0500 8px,#ff0500 10px,#800000 11px,#810000 228px,#fa0000 237px,#ff5100 248px,#ff5700 250px,#ff8500 251px,#ffdc00 252px,#ff9000 253px,#ff5f00 254px,#ff7600 272px,#ff5700 280px,#fa0000 293px,#c10000 307px,#a70000 330px,#ad0000 459px,#ff2f00 460px,#ff7d00 461px,#ffda00 463px,#f0ff0f 464px,#80ff7f 466px,#5cffa3 468px,#0ffff0 469px,#00daff 470px,#00e7ff 471px,#00dfff 472px,#00b4ff 474px,#00d0ff 475px,#00fdff 476px,#00f9ff 477px,#00cbff 478px,#00baff 479px,#00d9ff 480px,#0cf 481px,#009dff 482px,#0091ff 484px,#00a5ff 486px,#0097ff 487px,#009cff 488px,#00c0ff 489px,#00b7ff 490px,#009cff 491px,#0df 493px,#00e7ff 494px,#00dbff 495px,#00a4ff 497px,#00a6ff 498px,#0075ff 500px,#00b5ff 502px,#0091ff 505px,#009bff 506px,#00bcff 507px,#00c1ff 509px,#00f4ff 510px,#1fe 511px,#00f5ff 512px,#00f1ff 513px,#19ffe6 515px,#32ffcd 516px,#2effd1 518px,#4dffb2 519px,#56ffa9 520px,#35ffca 521px,#40ffbf 522px,#6bff94 523px,#6aff95 526px,#5fffa0 527px,#7dff82 529px,#6f9 530px,#92ff6d 532px,#4effb1 534px,#4fb 535px,#4affb5 536px,#84ff7b 538px,#7dff82 539px,#beff41 541px,#9bff64 543px,#c6ff39 545px,#c8ff37 547px,#afff50 548px,#c8ff37 550px,#b3ff4c 551px,#b1ff4e 552px,#e1ff1e 553px,#ef1 554px,#d6ff29 556px,#d1ff2e 557px,#ff0 559px,#f2ff0d 561px,#ffe400 562px,#f0ff0f 564px,#fff800 568px)"></i>
<i style="height:4px;background:linear-gradient(90deg,#0042ff 0px,#0042ff 7px,#ff0500 8px,#ff0500 10px,#800000 11px,#810000 228px,#fa0000 237px,#ff5100 248px,#ff5700 250px,#ff8500 251px,#ffdc00 252px,#ff8f00 253px,#ff5e00 254px,#ff7300 273px,#ff4e00 281px,#fa0000 293px,#c10000 307px,#a70000 330px,#ad0000 459px,#ff2900 460px,#ff7600 461px,#f8ff07 464px,#85ff7a 466px,#61ff9e 468px,#14ffeb 469px,#00deff 470px,#00ebff 471px,#00e3ff 472px,#00b4ff 474px,#0cf 475px,#00f9ff 476px,#00fcff 477px,#00cfff 478px,#00bdff 479px,#0df 480px,#00cfff 481px,#00a1ff 482px,#0093ff 484px,#00a7ff 486px,#09f 487px,#009eff 488px,#00c2ff 489px,#009dff 491px,#0df 493px,#00ecff 494px,#00e0ff 495px,#00a9ff 497px,#00abff 498px,#07f 500px,#00b7ff 502px,#0093ff 505px,#009bff 506px,#00bcff 507px,#00c1ff 509px,#00f3ff 510px,#10ffef 511px,#00f1ff 513px,#19ffe6 515px,#31ffce 516px,#2dffd2 518px,#4cffb3 519px,#5fa 520px,#34ffcb 521px,#40ffbf 522px,#6aff95 523px,#69ff96 526px,#5effa1 527px,#7cff83 529px,#65ff9a 530px,#93ff6c 532px,#4fffb0 534px,#48ffb7 536px,#81ff7e 538px,#7aff85 539px,#bf4 541px,#9aff65 543px,#c6ff39 545px,#c7ff38 547px,#aeff51 548px,#c6ff39 550px,#b1ff4e 551px,#afff50 552px,#dfff20 553px,#ecff13 554px,#d4ff2b 556px,#d0ff2f 557px,#feff01 559px,#f1ff0e 561px,#ffe600 562px,#ffeb00 563px)"></i>
<i style="height:4px;background:linear-gradient(90deg,#0042ff 0px,#0042ff 7px,#ff0500 8px,#ff0500 10px,#800000 11px,#810000 228px,#f90000 237px,#ff5100 248px,#ff5600 250px,#ff8400 251px,#ffdc00 252px,#ff8f00 253px,#ff5e00 254px,#ff7000 273px,#ff4d00 281px,#fa0000 293px,#c10000 307px,#a70000 330px,#ad0000 459px,#ff2300 460px,#ff7000 461px,#fefe01 464px,#8aff75 466px,#6f9 468px,#1affe5 469px,#00e1ff 470px,#0ef 471px,#00e6ff 472px,#00b7ff 474px,#00c7ff 475px,#00f4ff 476px,#01fffe 477px,#00d2ff 478px,#00c1ff 479px,#00e0ff 480px,#00d3ff 481px,#00a5ff 482px,#0095ff 484px,#00a9ff 486px,#009bff 487px,#00a0ff 488px,#00c4ff 489px,#009dff 491px,#0df 493px,#00f0ff 494px,#00e5ff 495px,#00aeff 497px,#00afff 498px,#0079ff 500px,#00b9ff 502px,#0094ff 505px,#009bff 506px,#0bf 507px,#00c1ff 509px,#00f3ff 510px,#0ffff0 511px,#00f1ff 513px,#19ffe6 515px,#31ffce 516px,#2dffd2 518px,#4bffb4 519px,#54ffab 520px,#3fc 521px,#3fffc0 522px,#6aff95 523px,#68ff97 526px,#5dffa2 527px,#7bff84 529px,#64ff9b 530px,#93ff6c 532px,#50ffaf 534px,#45ffba 536px,#7fff80 538px,#78ff87 539px,#b8ff47 541px,#9f6 543px,#c5ff3a 545px,#c6ff39 547px,#aeff51 548px,#c6ff39 550px,#b0ff4f 551px,#aeff51 552px,#df2 553px,#ebff14 554px,#d3ff2c 556px,#ceff31 557px,#fcff03 559px)"></i>
<i style="height:4px;background:linear-gradient(90deg,#0042ff 0px,#0042ff 7px,#ff0500 8px,#ff0500 10px,#800000 11px,#810000 228px,#f90000 237px,#ff5100 248px,#ff5600 250px,#ff8400 251px,#ffdb00 252px,#ff8f00 253px,#ff5d00 254px,#ff6e00 273px,#ff4b00 281px,#f90000 293px,#c10000 307px,#a70000 330px,#ad0000 459px,#ff1c00 460px,#ff6900 461px,#fff600 464px,#d3ff2c 465px,#8eff71 466px,#6bff94 468px,#1fffe0 469px,#00e6ff 470px,#00f2ff 471px,#00eaff 472px,#0bf 474px,#00c2ff 475px,#00efff 476px,#04fffb 477px,#00d5ff 478px,#00c4ff 479px,#00e4ff 480px,#00d7ff 481px,#00a9ff 482px,#0097ff 483px,#0af 486px,#009dff 487px,#00a1ff 488px,#00c5ff 489px,#009cff 491px,#00dcff 493px,#00f0ff 494px,#00e9ff 495px,#00b3ff 497px,#00b4ff 498px,#007bff 500px,#00baff 502px,#0096ff 505px,#009aff 506px,#0bf 507px,#00c0ff 509px,#00f2ff 510px,#0efff1 511px,#00f0ff 513px,#18ffe7 515px,#30ffcf 516px,#2cffd3 518px,#4affb5 519px,#53ffac 520px,#32ffcd 521px,#3fffc0 522px,#69ff96 523px,#67ff98 526px,#5cffa3 527px,#7aff85 529px,#63ff9c 530px,#94ff6b 532px,#51ffae 534px,#42ffbd 536px,#7cff83 538px,#75ff8a 539px,#b5ff4a 541px,#9f6 543px,#c4ff3b 545px,#c5ff3a 547px,#adff52 548px,#c5ff3a 550px,#aeff51 551px,#acff53 552px,#dcff23 553px,#e9ff16 554px)"></i>
<i style="height:4px;background:linear-gradient(90deg,#0042ff 0px,#0042ff 7px,#ff0500 8px,#ff0500 10px,#800000 11px,#810000 228px,#f90000 237px,#ff5100 248px,#ff5600 250px,#ff8400 251px,#ffdb00 252px,#ff8e00 253px,#ff5d00 254px,#ff6b00 273px,#ff4900 281px,#f90000 293px,#c10000 307px,#a70000 330px,#ad0000 459px,#ff1600 460px,#ff6300 461px,#fe0 464px,#dbff24 465px,#94ff6b 466px,#70ff8f 468px,#24ffdb 469px,#00ebff 470px,#00f5ff 471px,#00edff 472px,#00bfff 474px,#00bcff 475px,#00e9ff 476px,#07fff8 477px,#00d8ff 478px,#00c7ff 479px,#00e7ff 480px,#00daff 481px,#00acff 482px,#0098ff 483px,#009dff 485px,#00abff 486px,#009eff 487px,#00a3ff 488px,#00c7ff 489px,#009bff 491px,#00dbff 493px,#00efff 494px,#0ef 495px,#00b7ff 497px,#00b8ff 498px,#007dff 500px,#00bcff 502px,#0097ff 505px,#09f 506px,#00b9ff 507px,#00beff 509px,#00f0ff 510px,#0dfff2 511px,#00f0ff 513px,#17ffe8 515px,#2fffd0 516px,#2bffd4 518px,#49ffb6 519px,#52ffad 520px,#31ffce 521px,#3effc1 522px,#68ff97 523px,#67ff98 526px,#5bffa4 527px,#79ff86 529px,#62ff9d 530px,#95ff6a 532px,#52ffad 534px,#40ffbf 536px,#79ff86 538px,#72ff8d 539px,#b2ff4d 541px,#97ff68 543px,#c3ff3c 545px,#c5ff3a 547px,#acff53 548px,#c4ff3b 550px)"></i>
<i style="height:4px;background:linear-gradient(90deg,#0042ff 0px,#0042ff 7px,#ff0500 8px,#ff0500 10px,#800000 11px,#810000 228px,#f90000 237px,#ff5100 248px,#ff5600 250px,#ff8300 251px,#ffda00 252px,#ff8e00 253px,#ff5c00 254px,#f60 274px,#ff3900 283px,#f90000 293px,#c00000 307px,#a70000 330px,#ad0000 459px,#ff0f00 460px,#ff5c00 461px,#ffe500 464px,#e4ff1b 465px,#9cff63 466px,#75ff8a 468px,#29ffd6 469px,#00f1ff 470px,#00f1ff 472px,#00b6ff 475px,#00e3ff 476px,#0afff5 477px,#00dbff 478px,#00caff 479px,#00eaff 480px,#0df 481px,#00afff 482px,#009bff 483px,#009dff 485px,#00acff 486px,#009fff 487px,#00a3ff 488px,#00c7ff 489px,#009aff 491px,#00daff 493px,#0ef 494px,#00f1ff 495px,#0bf 497px,#00bcff 498px,#007eff 500px,#00bdff 502px,#0098ff 505px,#0098ff 506px,#00b8ff 507px,#00bdff 509px,#00efff 510px,#0bfff4 511px,#00efff 513px,#06fff9 514px,#2effd1 516px,#29ffd6 518px,#47ffb8 519px,#50ffaf 520px,#2fffd0 521px,#3dffc2 522px,#67ff98 523px,#6f9 526px,#5affa5 527px,#78ff87 529px,#61ff9e 530px,#96ff69 532px,#53ffac 534px,#41ffbe 536px,#76ff89 538px,#6fff90 539px,#afff50 541px,#94ff6b 543px,#c3ff3c 545px)"></i>
<i style="height:2px;background:linear-gradient(90deg,#0042ff 0px,#0042ff 7px,#ff0500 8px,#ff0500 10px,#800000 11px,#810000 228px,#f90000 237px,#ff5000 248px,#f50 250px,#ff8300 251px,#ffda00 252px,#ff8d00 253px,#ff5c00 254px,#ff6400 274px,#ff3800 283px,#f90000 293px,#c00000 307px,#a70000 330px,#ad0000 459px,#ff0a00 460px,#ff5700 461px,#ffdf00 464px,#eaff15 465px,#a3ff5c 466px,#79ff86 468px,#2dffd2 469px,#00f5ff 470px,#00f3ff 472px,#00b1ff 475px,#0cfff3 477px,#0df 478px,#0cf 479px,#00ecff 480px,#00dfff 481px,#00b1ff 482px,#0098ff 484px,#00acff 486px,#009fff 487px,#00a4ff 488px,#00c8ff 489px,#09f 491px,#00d9ff 493px,#00f4ff 495px,#00bdff 497px,#00bfff 498px,#007fff 500px,#00bdff 502px,#09f 505px,#0097ff 506px,#00b7ff 507px,#00bcff 509px,#00edff 510px,#0afff5 511px,#0ef 512px,#0ef 513px,#05fffa 514px,#2dffd2 516px,#28ffd7 518px,#46ffb9 519px,#4fffb0 520px,#2effd1 521px,#3cffc3 522px,#67ff98 523px,#65ff9a 526px,#59ffa6 527px,#7f8 529px,#60ff9f 530px,#97ff68 532px,#54ffab 534px,#42ffbd 536px,#74ff8b 538px,#6dff92 539px,#adff52 541px)"></i>
<i style="height:2px;background:linear-gradient(90deg,#0042ff 0px,#0042ff 7px,#ff0500 8px,#ff0500 10px,#800000 11px,#810000 228px,#f90000 237px,#ff5000 248px,#f50 250px,#ff8300 251px,#ffda00 252px,#ff8d00 253px,#ff5c00 254px,#ff6300 274px,#ff3800 283px,#f90000 293px,#c00000 307px,#a70000 330px,#ad0000 459px,#d60400 460px,#ff5300 461px,#ffdb00 464px,#ef1 465px,#a8ff57 466px,#7cff83 468px,#30ffcf 469px,#00f8ff 470px,#00f5ff 472px,#00aeff 475px,#0dfff2 477px,#00ceff 479px,#00edff 480px,#00e0ff 481px,#00b3ff 482px,#0098ff 484px,#00acff 486px,#009fff 487px,#00a4ff 488px,#00c8ff 489px,#0098ff 491px,#00d8ff 493px,#00f6ff 495px,#00bfff 497px,#00c0ff 498px,#007fff 500px,#00beff 502px,#0096ff 506px,#00b6ff 507px,#0bf 509px,#00ecff 510px,#09fff6 511px,#00edff 512px,#00edff 513px,#05fffa 514px,#2cffd3 516px,#28ffd7 518px,#46ffb9 519px,#4fffb0 520px,#2dffd2 521px,#3bffc4 522px,#6f9 523px,#64ff9b 526px,#59ffa6 527px,#7f8 529px,#60ff9f 530px,#98ff67 532px,#54ffab 534px,#42ffbd 536px,#72ff8d 538px,#6bff94 539px)"></i>
<i style="height:4px;background:linear-gradient(90deg,#0042ff 0px,#0042ff 7px,#ff0500 8px,#ff0500 10px,#800000 11px,#810000 228px,#f90000 237px,#ff5000 248px,#f50 250px,#ff8300 251px,#ffda00 252px,#ff8d00 253px,#ff5b00 254px,#ff6100 274px,#ff3600 283px,#f80000 293px,#c00000 307px,#a70000 330px,#ad0000 460px,#ff4e00 461px,#f5ff0a 465px,#aeff51 466px,#7fff80 468px,#34ffcb 469px,#00fcff 470px,#00f7ff 472px,#0af 475px,#0afff5 477px,#00d0ff 479px,#00efff 480px,#00e2ff 481px,#00b5ff 482px,#0098ff 484px,#00adff 486px,#009fff 487px,#00a4ff 488px,#00c8ff 489px,#00b8ff 490px,#0096ff 491px,#00d6ff 493px,#00f9ff 495px,#00c2ff 497px,#00c3ff 498px,#007fff 500px,#00beff 502px,#0096ff 506px,#00b5ff 507px,#00b9ff 509px,#00ebff 510px,#07fff8 511px,#00ebff 512px,#00ebff 513px,#04fffb 514px,#2bffd4 516px,#26ffd9 518px,#4fb 519px,#4dffb2 520px,#2cffd3 521px,#3affc5 522px,#65ff9a 523px,#63ff9c 526px,#58ffa7 527px,#76ff89 529px,#5fffa0 530px,#98ff67 532px,#5fa 534px,#43ffbc 536px)"></i>
<i style="height:4px;background:linear-gradient(90deg,#0042ff 0px,#0042ff 7px,#ff0500 8px,#ff0500 10px,#800000 11px,#810000 228px,#f90000 237px,#ff5000 248px,#f50 250px,#ff8200 251px,#ffd900 252px,#ff8c00 253px,#ff5b00 254px,#ff5c00 275px,#ff0a00 290px,#da0000 299px,#ab0000 320px,#ad0000 460px,#ff4700 461px,#fdfe02 465px,#b7ff48 466px,#85ff7a 468px,#39ffc6 469px,#02fffd 470px,#00fbff 472px,#00abff 475px,#03fffc 477px,#00d2ff 479px,#00f2ff 480px,#00e5ff 481px,#00b8ff 482px,#0098ff 484px,#00adff 486px,#009fff 487px,#00a4ff 488px,#00c8ff 489px,#00b8ff 490px,#0094ff 491px,#00d4ff 493px,#00fcff 495px,#00c5ff 497px,#00c6ff 498px,#0080ff 500px,#00beff 502px,#0096ff 506px,#00b3ff 507px,#00b7ff 509px,#00e9ff 510px,#05fffa 511px,#00e9ff 512px,#00e9ff 513px,#02fffd 514px,#29ffd6 516px,#25ffda 518px,#43ffbc 519px,#4cffb3 520px,#2affd5 521px,#38ffc7 522px,#64ff9b 523px,#62ff9d 526px,#57ffa8 527px,#75ff8a 529px,#5effa1 530px,#9f6 532px)"></i>
<i style="height:4px;background:linear-gradient(90deg,#0042ff 0px,#0042ff 7px,#ff0500 8px,#ff0500 10px,#800000 11px,#810000 228px,#f90000 237px,#ff5000 248px,#f50 250px,#ff8200 251px,#ffd900 252px,#ff8c00 253px,#ff5a00 254px,#ff5a00 275px,#f80000 293px,#be0000 308px,#a70000 332px,#ad0000 460px,#ff3f00 461px,#fff700 465px,#c1ff3e 466px,#9cff63 467px,#8aff75 468px,#3fffc0 469px,#08fff7 470px,#00feff 472px,#00aeff 475px,#00c9ff 476px,#00faff 477px,#00d5ff 479px,#00f4ff 480px,#00e8ff 481px,#00baff 482px,#0098ff 484px,#00acff 486px,#009fff 487px,#00a4ff 488px,#00c8ff 489px,#00b8ff 490px,#0091ff 491px,#00d1ff 493px,#00fcff 495px,#00c9ff 497px,#00caff 498px,#0080ff 500px,#00beff 502px,#0096ff 506px,#00b0ff 507px,#00b5ff 509px,#00e6ff 510px,#02fffd 511px,#00e6ff 512px,#00e7ff 513px,#0ff 514px,#28ffd7 516px,#23ffdc 518px,#41ffbe 519px,#4affb5 520px,#28ffd7 521px,#36ffc9 522px,#63ff9c 523px,#61ff9e 526px,#56ffa9 527px)"></i>
<i style="height:2px;background:linear-gradient(90deg,#0042ff 0px,#0042ff 7px,#ff0500 8px,#ff0500 10px,#800000 11px,#810000 228px,#f90000 237px,#ff5000 248px,#ff5400 250px,#ff8200 251px,#ffd900 252px,#ff8c00 253px,#ff5a00 254px,#ff5800 275px,#f80000 293px,#be0000 308px,#a70000 332px,#ad0000 460px,#ff3a00 461px,#fff000 465px,#a0ff5f 467px,#8eff71 468px,#43ffbc 469px,#0cfff3 470px,#01fffe 472px,#00b1ff 475px,#00c3ff 476px,#00f5ff 477px,#00d7ff 479px,#00f6ff 480px,#00e9ff 481px,#00bcff 482px,#0098ff 484px,#00acff 486px,#009fff 487px,#00a4ff 488px,#00c8ff 489px,#00b7ff 490px,#008fff 491px,#00cfff 493px,#00f9ff 495px,#00cbff 497px,#0cf 498px,#0080ff 500px,#00beff 502px,#0096ff 506px,#00aeff 507px,#00b3ff 509px,#00e4ff 510px,#0ff 511px,#00e4ff 512px,#00e5ff 513px,#00feff 514px,#26ffd9 516px,#2fd 518px,#3fffc0 519px,#48ffb7 520px,#27ffd8 521px,#35ffca 522px,#62ff9d 523px)"></i>
<i style="height:2px;background:linear-gradient(90deg,#0042ff 0px,#0042ff 7px,#ff0500 8px,#ff0500 10px,#800000 11px,#810000 228px,#f90000 237px,#ff5000 248px,#ff5400 250px,#ff8200 251px,#ffd800 252px,#ff8b00 253px,#ff5900 254px,#f50 276px,#f80000 293px,#be0000 308px,#a70000 332px,#ad0000 460px,#ff3600 461px,#ffeb00 465px,#cdff32 466px,#a3ff5c 467px,#91ff6e 468px,#46ffb9 469px,#0ffff0 470px,#03fffc 472px,#00d4ff 474px,#00b3ff 475px,#00bfff 476px,#00f1ff 477px,#00d8ff 479px,#00f8ff 480px,#00ebff 481px,#00bdff 482px,#0098ff 484px,#00acff 486px,#009fff 487px,#00a4ff 488px,#00c8ff 489px,#00b7ff 490px,#008fff 491px,#00e1ff 494px,#00f8ff 495px,#00cdff 497px,#00ceff 498px,#0080ff 500px,#00beff 502px,#0096ff 506px,#00adff 507px,#00b2ff 509px,#00e3ff 510px,#00feff 511px,#00e3ff 512px,#00e3ff 513px,#00fdff 514px,#25ffda 516px,#21ffde 518px,#3effc1 519px,#47ffb8 520px,#26ffd9 521px)"></i>
<i style="height:2px;background:linear-gradient(90deg,#0042ff 0px,#0042ff 7px,#ff0500 8px,#ff0500 10px,#800000 11px,#810000 228px,#f90000 237px,#ff5000 248px,#ff5400 250px,#ff8200 251px,#ffd800 252px,#ff8b00 253px,#ff5900 254px,#ff5400 276px,#f70000 293px,#be0000 308px,#a70000 332px,#ad0000 460px,#ff3200 461px,#ffe600 465px,#d2ff2d 466px,#a8ff57 467px,#94ff6b 468px,#49ffb6 469px,#12ffed 470px,#05fffa 472px,#00d6ff 474px,#00b4ff 475px,#0bf 476px,#00edff 477px,#00d9ff 479px,#00f9ff 480px,#00ecff 481px,#00bfff 482px,#09f 484px,#00acff 486px,#009fff 487px,#00a4ff 488px,#00c8ff 489px,#00b7ff 490px,#008fff 491px,#00e0ff 494px,#00f6ff 495px,#00ceff 497px,#00cfff 498px,#0080ff 500px,#00beff 502px,#0096ff 506px,#00acff 507px,#00b0ff 509px,#00e2ff 510px,#00fcff 511px,#00e2ff 512px,#00e2ff 513px,#00fcff 514px,#24ffdb 516px,#20ffdf 518px)"></i>
<i style="height:2px;background:linear-gradient(90deg,#0042ff 0px,#0042ff 7px,#ff0500 8px,#ff0500 10px,#800000 11px,#810000 228px,#f90000 237px,#ff5000 248px,#ff5400 250px,#ff8200 251px,#ffd800 252px,#ff8b00 253px,#ff5900 254px,#ff5300 276px,#f70000 293px,#be0000 308px,#a70000 332px,#ad0000 460px,#ff2e00 461px,#ffe100 465px,#d6ff29 466px,#adff52 467px,#96ff69 468px,#4bffb4 469px,#14ffeb 470px,#06fff9 472px,#00d8ff 474px,#00b6ff 475px,#00b8ff 476px,#00e9ff 477px,#00ebff 478px,#00dbff 479px,#00faff 480px,#00edff 481px,#00c0ff 482px,#009bff 484px,#00acff 486px,#009fff 487px,#00a4ff 488px,#00c7ff 489px,#00b7ff 490px,#008fff 491px,#00deff 494px,#00f5ff 495px,#00d0ff 497px,#00d1ff 498px,#0080ff 500px,#00beff 502px,#0096ff 506px,#00b0ff 508px,#00afff 509px,#00e0ff 510px,#00fbff 511px,#00e0ff 512px,#00e1ff 513px,#00fbff 514px,#23ffdc 516px)"></i>
<i style="height:2px;background:linear-gradient(90deg,#0042ff 0px,#0042ff 7px,#ff0500 8px,#ff0500 10px,#800000 11px,#810000 228px,#f90000 237px,#ff5000 248px,#ff5400 250px,#ff8100 251px,#ffd800 252px,#ff8b00 253px,#ff5900 254px,#ff5200 276px,#f70000 293px,#be0000 308px,#a70000 332px,#ad0000 460px,#ff2a00 461px,#ffdc00 465px,#dbff24 466px,#b2ff4d 467px,#9f6 468px,#4effb1 469px,#17ffe8 470px,#08fff7 472px,#00d9ff 474px,#00b8ff 475px,#00b4ff 476px,#00e6ff 477px,#00ecff 478px,#00dcff 479px,#00fbff 480px,#0ef 481px,#00c1ff 482px,#009cff 484px,#00acff 486px,#009eff 487px,#00a3ff 488px,#00c7ff 489px,#00b7ff 490px,#008fff 491px,#0df 494px,#00f3ff 495px,#00d1ff 497px,#00d2ff 498px,#0080ff 500px,#00beff 502px,#0096ff 506px,#00afff 508px,#00aeff 509px,#00dfff 510px,#00faff 511px,#00dfff 512px,#00dfff 513px,#00faff 514px)"></i>
<i style="height:2px;background:linear-gradient(90deg,#0042ff 0px,#0042ff 7px,#ff0500 8px,#ff0500 10px,#800000 11px,#810000 228px,#f90000 237px,#ff5000 248px,#ff5400 250px,#ff8100 251px,#ffd800 252px,#ff8b00 253px,#ff5900 254px,#ff5200 276px,#f70000 293px,#be0000 308px,#a70000 332px,#ad0000 461px,#ff4f00 462px,#ffd700 465px,#e0ff1f 466px,#9cff63 468px,#51ffae 469px,#1affe5 470px,#0afff5 472px,#00dbff 474px,#00baff 475px,#00b0ff 476px,#00e2ff 477px,#00edff 478px,#0df 479px,#00fcff 480px,#00f0ff 481px,#00c3ff 482px,#009dff 484px,#00abff 486px,#009eff 487px,#00a3ff 488px,#00c7ff 489px,#00b6ff 490px,#008eff 491px,#00f2ff 495px,#00d3ff 497px,#00d4ff 498px,#0080ff 500px,#00beff 502px,#0095ff 506px,#00adff 508px,#00acff 509px,#0df 510px,#00f8ff 511px,#0df 512px)"></i>
<i style="height:2px;background:linear-gradient(90deg,#0042ff 0px,#0042ff 7px,#ff0500 8px,#ff0500 10px,#800000 11px,#810000 228px,#f90000 237px,#ff4f00 248px,#ff5400 250px,#ff8100 251px,#ffd800 252px,#ff8a00 253px,#ff5800 254px,#ff4f00 277px,#f70000 293px,#be0000 308px,#a70000 332px,#ad0000 461px,#ff4a00 462px,#ffd200 465px,#e5ff1a 466px,#9fff60 468px,#54ffab 469px,#1dffe2 470px,#1dffe2 471px,#00f1ff 473px,#00acff 476px,#00deff 477px,#00e9ff 478px,#00deff 479px,#00feff 480px,#00f1ff 481px,#00c4ff 482px,#009eff 484px,#009dff 485px,#00abff 486px,#009eff 487px,#00a3ff 488px,#00c7ff 489px,#00b6ff 490px,#008eff 491px,#00a2ff 492px,#00c6ff 493px,#00f0ff 495px,#00ecff 496px,#00d4ff 497px,#00d5ff 498px,#0080ff 500px,#00beff 502px,#0095ff 506px,#00acff 508px,#00abff 509px)"></i>
<i style="height:2px;background:linear-gradient(90deg,#0042ff 0px,#0042ff 7px,#ff0500 8px,#ff0500 10px,#800000 11px,#810000 228px,#f90000 237px,#ff4f00 248px,#ff5400 250px,#ff8100 251px,#ffd800 252px,#ff8a00 253px,#ff5800 254px,#ff4e00 277px,#f70000 293px,#be0000 308px,#a70000 332px,#ad0000 461px,#ff4600 462px,#ffcd00 465px,#ebff14 466px,#a2ff5d 468px,#57ffa8 469px,#20ffdf 470px,#20ffdf 471px,#00f3ff 473px,#00adff 476px,#00d9ff 477px,#00e5ff 478px,#00e0ff 479px,#0ff 480px,#00f2ff 481px,#00c5ff 482px,#00a0ff 484px,#009cff 485px,#00abff 486px,#009eff 487px,#00a3ff 488px,#00c6ff 489px,#00b6ff 490px,#008eff 491px,#00a0ff 492px,#00c4ff 493px,#0ef 495px,#00edff 496px,#00d6ff 497px,#00d7ff 498px,#0082ff 500px,#00beff 502px,#0095ff 506px,#00a7ff 507px)"></i>
<i style="height:2px;background:linear-gradient(90deg,#0042ff 0px,#0042ff 7px,#ff0500 8px,#ff0500 10px,#800000 11px,#810000 228px,#f90000 237px,#ff4f00 248px,#ff5400 250px,#ff8100 251px,#ffd800 252px,#ff8a00 253px,#ff5800 254px,#ff4d00 277px,#f70000 293px,#be0000 308px,#a70000 332px,#ad0000 461px,#ff4200 462px,#ffc800 465px,#f0ff0f 466px,#a5ff5a 468px,#5affa5 469px,#23ffdc 470px,#23ffdc 471px,#00f4ff 473px,#00aeff 476px,#00d5ff 477px,#00e1ff 479px,#01fffe 480px,#00f3ff 481px,#00c6ff 482px,#00a1ff 484px,#009cff 485px,#0af 486px,#009dff 487px,#00a2ff 488px,#00c6ff 489px,#00b6ff 490px,#008eff 491px,#009eff 492px,#00c3ff 493px,#00edff 495px,#00efff 496px,#00d7ff 497px,#00d9ff 498px,#0083ff 500px,#00bdff 502px,#09f 505px)"></i>
<i style="height:2px;background:linear-gradient(90deg,#0042ff 0px,#0042ff 7px,#ff0500 8px,#ff0500 10px,#800000 11px,#810000 228px,#f90000 237px,#ff4f00 248px,#ff5400 250px,#ff8100 251px,#ffd700 252px,#ff8a00 253px,#ff5800 254px,#ff4d00 277px,#f70000 293px,#be0000 308px,#a70000 332px,#ad0000 461px,#ff3e00 462px,#ffc300 465px,#f5ff0a 466px,#a8ff57 468px,#5dffa2 469px,#26ffd9 470px,#26ffd9 471px,#00f6ff 473px,#00b0ff 476px,#00d1ff 477px,#00e2ff 479px,#02fffd 480px,#00f5ff 481px,#00c8ff 482px,#00a2ff 484px,#009cff 485px,#0af 486px,#009dff 487px,#00a2ff 488px,#00c6ff 489px,#00b5ff 490px,#008dff 491px,#009dff 492px,#00c1ff 493px,#00ebff 495px,#0ef 496px,#00d9ff 497px,#00daff 498px,#0085ff 500px,#00bdff 502px,#00acff 503px)"></i>
<i style="height:2px;background:linear-gradient(90deg,#0042ff 0px,#0042ff 7px,#ff0500 8px,#ff0500 10px,#800000 11px,#810000 228px,#f90000 237px,#ff4f00 248px,#ff5400 250px,#ff8100 251px,#ffd700 252px,#ff8a00 253px,#ff5800 254px,#ff4c00 277px,#f70000 293px,#be0000 308px,#a70000 332px,#ad0000 461px,#ff3a00 462px,#ffbe00 465px,#faff05 466px,#abff54 468px,#60ff9f 469px,#29ffd6 470px,#29ffd6 471px,#00f8ff 473px,#00b2ff 476px,#00d8ff 478px,#00e3ff 479px,#04fffb 480px,#00f6ff 481px,#00c9ff 482px,#009cff 485px,#0af 486px,#009dff 487px,#00a2ff 488px,#00c6ff 489px,#00b5ff 490px,#008dff 491px,#009bff 492px,#00bfff 493px,#00e9ff 495px,#00ecff 496px,#00dbff 497px,#00dcff 498px,#0087ff 500px)"></i>
<i style="height:2px;background:linear-gradient(90deg,#0042ff 0px,#0042ff 7px,#ff0500 8px,#ff0500 10px,#800000 11px,#810000 228px,#f90000 237px,#ff4f00 248px,#ff5300 250px,#ff8100 251px,#ffd700 252px,#ff8a00 253px,#ff5800 254px,#ff4c00 277px,#f70000 293px,#be0000 308px,#a70000 332px,#ad0000 461px,#ff3500 462px,#ffba00 465px,#fffe00 466px,#aeff51 468px,#63ff9c 469px,#2cffd3 470px,#2cffd3 471px,#00faff 473px,#00b4ff 476px,#05fffa 480px,#00f7ff 481px,#00caff 482px,#009bff 485px,#0af 486px,#009dff 487px,#00a2ff 488px,#00c5ff 489px,#00b5ff 490px,#008dff 491px,#009aff 492px,#00bdff 493px,#00e7ff 495px,#00eaff 496px,#0df 498px)"></i>
<i style="height:2px;background:linear-gradient(90deg,#0042ff 0px,#0042ff 7px,#ff0500 8px,#ff0500 10px,#800000 11px,#810000 228px,#f90000 237px,#ff4f00 248px,#ff5300 250px,#ff8100 251px,#ffd700 252px,#ff8a00 253px,#ff5800 254px,#ff4b00 277px,#f70000 293px,#be0000 308px,#a70000 332px,#ad0000 461px,#ff3100 462px,#ffb600 465px,#fff900 466px,#b3ff4c 468px,#6f9 469px,#30ffcf 470px,#2fffd0 471px,#00fcff 473px,#00b6ff 476px,#00e6ff 479px,#06fff9 480px,#00f8ff 481px,#0cf 482px,#009cff 485px,#00a9ff 486px,#009cff 487px,#00a1ff 488px,#00c5ff 489px,#00b4ff 490px,#008cff 491px,#09f 492px,#00cfff 494px,#00e5ff 495px,#00e9ff 496px)"></i>
<i style="height:2px;background:linear-gradient(90deg,#0042ff 0px,#0042ff 7px,#ff0500 8px,#ff0500 10px,#800000 11px,#810000 228px,#f90000 237px,#ff4f00 248px,#ff5300 250px,#ff8100 251px,#ffd700 252px,#ff8a00 253px,#ff5800 254px,#ff4700 278px,#f70000 293px,#be0000 308px,#a70000 332px,#ad0000 461px,#ff2d00 462px,#ffb100 465px,#fff400 466px,#b8ff47 468px,#69ff96 469px,#3fc 470px,#32ffcd 471px,#00fdff 473px,#00b7ff 476px,#0cf 478px,#07fff8 480px,#00faff 481px,#00cdff 482px,#009dff 485px,#00a9ff 486px,#009cff 487px,#00a1ff 488px,#00c5ff 489px,#00b4ff 490px,#008cff 491px,#09f 492px,#00cdff 494px)"></i>
<i style="height:2px;background:linear-gradient(90deg,#0042ff 0px,#0042ff 7px,#ff0500 8px,#ff0500 10px,#800000 11px,#810000 228px,#f90000 237px,#ff4f00 248px,#ff5300 250px,#ff8100 251px,#ffd700 252px,#ff8a00 253px,#ff5700 254px,#ff4700 278px,#f70000 293px,#be0000 308px,#a70000 332px,#ad0000 461px,#ff2800 462px,#ffad00 465px,#fe0 466px,#e7ff18 467px,#beff41 468px,#6cff93 469px,#36ffc9 470px,#35ffca 471px,#0ff 473px,#00b9ff 476px,#00c7ff 478px,#09fff6 480px,#00fbff 481px,#00ceff 482px,#009fff 485px,#00a9ff 486px,#009cff 487px,#00a1ff 488px,#00c4ff 489px,#00b4ff 490px,#008cff 491px)"></i>
<i style="height:2px;background:linear-gradient(90deg,#0042ff 0px,#0042ff 7px,#ff0500 8px,#ff0500 10px,#800000 11px,#810000 228px,#f90000 237px,#ff4f00 248px,#ff5300 250px,#ff8100 251px,#ffd700 252px,#ff8a00 253px,#ff5700 254px,#ff4700 278px,#f60000 293px,#be0000 308px,#a70000 332px,#ad0000 461px,#d61300 462px,#ff5300 463px,#ffa800 465px,#ffe900 466px,#ecff13 467px,#c3ff3c 468px,#70ff8f 469px,#39ffc6 470px,#38ffc7 471px,#02fffd 473px,#0bf 476px,#00c3ff 478px,#00e9ff 479px,#0afff5 480px,#00fcff 481px,#00d0ff 482px,#00a0ff 485px,#00a8ff 486px,#009bff 487px,#00a0ff 488px,#00c4ff 489px)"></i>
<i style="height:2px;background:linear-gradient(90deg,#0042ff 0px,#0042ff 7px,#ff0500 8px,#ff0500 10px,#800000 11px,#810000 228px,#f90000 237px,#ff4f00 248px,#ff5300 250px,#ff8100 251px,#ffd700 252px,#ff8900 253px,#ff5700 254px,#ff4600 278px,#f60000 293px,#be0000 308px,#a70000 332px,#ad0000 462px,#ff4e00 463px,#ffa300 465px,#ffe300 466px,#f2ff0d 467px,#c9ff36 468px,#73ff8c 469px,#3cffc3 470px,#3cffc3 471px,#04fffb 473px,#00efff 474px,#00ceff 475px,#00b3ff 477px,#00beff 478px,#0bfff4 480px,#00feff 481px,#00d1ff 482px,#00a1ff 485px,#00a8ff 486px,#009bff 487px)"></i>
<i style="height:2px;background:linear-gradient(90deg,#0042ff 0px,#0042ff 7px,#ff0500 8px,#ff0500 10px,#800000 11px,#810000 228px,#f90000 237px,#ff4f00 248px,#ff5300 250px,#ff8000 251px,#ffd700 252px,#ff8900 253px,#ff5700 254px,#ff4600 278px,#f60000 293px,#be0000 308px,#a70000 332px,#ad0000 462px,#ff4a00 463px,#ff9f00 465px,#ffde00 466px,#f7ff08 467px,#ceff31 468px,#76ff89 469px,#40ffbf 470px,#3fffc0 471px,#06fff9 473px,#00f1ff 474px,#00d0ff 475px,#00b3ff 477px,#00baff 478px,#0dfff2 480px,#0ff 481px,#00d2ff 482px,#00a3ff 485px)"></i>
<i style="height:2px;background:linear-gradient(90deg,#0042ff 0px,#0042ff 7px,#ff0500 8px,#ff0500 10px,#810000 11px,#800 229px,#ed0000 236px,#ff0e00 239px,#ff4e00 248px,#ff5200 250px,#ff7f00 251px,#ffd600 252px,#f80 253px,#ff5600 254px,#ff4500 278px,#fa0000 292px,#bf0000 307px,#a60000 330px,#ac0000 462px,#ff4500 463px,#ff9a00 465px,#ffd800 466px,#fdff02 467px,#d4ff2b 468px,#7aff85 469px,#43ffbc 470px,#43ffbc 471px,#2effd1 472px,#08fff7 473px,#00f3ff 474px,#00d2ff 475px,#00b6ff 477px,#00b6ff 478px,#0efff1 480px,#02fffd 481px,#00d4ff 482px)"></i>
<i style="height:2px;background:linear-gradient(90deg,#0042ff 0px,#0042ff 7px,#ff0500 8px,#ff0500 10px,#960000 11px,#950000 228px,#800 230px,#f70100 239px,#ff3b00 249px,#ff3d00 250px,#ff6a00 251px,#ffc000 252px,#ff7300 253px,#ff4000 254px,#ff2f00 278px,#f50000 289px,#ac0000 306px,#910000 328px,#970000 462px,#ff3f00 463px,#ff9400 465px,#ffd200 466px,#fffa00 467px,#dbff24 468px,#7dff82 469px,#47ffb8 470px,#46ffb9 471px,#31ffce 472px,#0bfff4 473px,#00f5ff 474px,#00d4ff 475px,#00b1ff 478px,#10ffef 480px)"></i>
<i style="height:2px;background:linear-gradient(90deg,#0042ff 0px,#0042ff 7px,#ff0500 8px,#ff0500 10px,#bd0000 11px,#bc0000 228px,#890000 232px,#f30000 243px,#ff1600 250px,#ff4300 251px,#ff9a00 252px,#ff4c00 253px,#ff1a00 254px,#fc0700 279px,#890000 305px,#950000 378px,#8f0000 462px,#ff3a00 463px,#fff400 467px,#e1ff1e 468px,#81ff7e 469px,#4affb5 470px,#4affb5 471px,#35ffca 472px,#0efff1 473px,#00f7ff 474px,#00d6ff 475px,#00adff 478px)"></i>
<i style="height:2px;background:linear-gradient(90deg,#0042ff 0px,#0042ff 7px,#ff0500 8px,#ff0500 10px,#dc0000 11px,#db0000 228px,#860000 234px,#9d0000 237px,#eb0000 247px,#f30000 250px,#ff1c00 251px,#ff6900 252px,#ff2400 253px,#f70000 254px,#e40000 278px,#860000 298px,#b00000 323px,#ad0000 462px,#ff3500 463px,#fe0 467px,#e7ff18 468px,#85ff7a 469px,#4effb1 470px,#4effb1 471px,#39ffc6 472px,#12ffed 473px,#00f9ff 474px,#00d8ff 475px,#00c8ff 476px)"></i>
<i style="height:2px;background:linear-gradient(90deg,#0042ff 0px,#0042ff 7px,#ff0500 8px,#f60000 28px,#f50000 228px,#870000 236px,#a90000 241px,#d70000 250px,#f70100 251px,#ff3800 252px,#fb0400 253px,#da0000 254px,#c50000 279px,#850000 293px,#c10000 315px,#c90000 388px,#c40000 462px,#ff2f00 463px,#ffe700 467px,#ef1 468px,#8cff73 469px,#52ffad 470px,#51ffae 471px,#3dffc2 472px,#16ffe9 473px)"></i>
<i style="height:2px;background:linear-gradient(90deg,#0042ff 0px,#0042ff 7px,#ff0500 8px,#ff0f00 25px,#ff0e00 228px,#f60000 230px,#9e0000 236px,#850000 239px,#bd0000 249px,#be0000 250px,#ff0b00 252px,#c10000 254px,#ac0000 279px,#850000 289px,#c80000 308px,#de0000 335px,#d70000 462px,#ff2a00 463px,#ff7f00 465px,#ffbc00 466px,#f4ff0b 468px,#92ff6d 469px,#56ffa9 470px,#5fa 471px)"></i>
<i style="height:2px;background:linear-gradient(90deg,#0042ff 0px,#0042ff 7px,#ff0500 8px,#ff0500 10px,#ff2400 11px,#f20 228px,#fa0000 231px,#9b0000 238px,#860000 242px,#a90000 250px,#bc0000 251px,#e00000 252px,#ad0000 254px,#980000 279px,#860000 286px,#d40000 306px,#ec0000 330px,#e70000 462px,#f41300 463px,#ff4e00 464px,#ff7a00 465px,#ffb600 466px,#faff05 468px,#98ff67 469px)"></i>
<i style="height:2px;background:linear-gradient(90deg,#0038ff 0px,#0038ff 4px,#09f 5px,#09f 7px,#ff0a00 8px,#ff0a00 10px,#ff3400 11px,#f30 228px,#f90000 232px,#980000 240px,#830000 244px,#a60000 251px,#bc0000 252px,#9d0000 254px,#890000 279px,#8c0000 284px,#df0000 306px,#f70000 331px,#f10000 463px,#ff4900 464px,#ff7400 465px,#ffb100 466px,#ffd400 467px)"></i>
<i style="height:2px;background:linear-gradient(90deg,#002eff 0px,#002eff 4px,#00f0ff 5px,#00f0ff 7px,#ff0f00 8px,#ff0f00 10px,#ff4300 11px,#ff4200 228px,#f70000 233px,#950000 242px,#820000 246px,#9a0000 252px,#8f0000 260px,#860000 280px,#e60000 305px,#fe0000 330px,#f90000 463px,#ff4300 464px)"></i>
<i style="height:2px;background:linear-gradient(90deg,#002eff 0px,#002eff 4px,#00f0ff 5px,#00f0ff 7px,#ff0f00 8px,#ff0f00 10px,#ff4f00 11px,#ff4d00 228px,#ff0300 233px,#9f0000 242px,#820000 249px,#800 278px,#ec0000 306px,#ff0300 329px,#fd0000 462px)"></i>
<i style="height:2px;background:linear-gradient(90deg,#002eff 0px,#002eff 4px,#00f0ff 5px,#00f0ff 7px,#ff0f00 8px,#ff0f00 10px,#ff5d00 11px,#ff5c00 228px,#fc0600 234px,#980000 244px,#800000 251px,#8e0000 278px,#ef0000 306px,#ff0400 330px,#fe0100 460px)"></i>
<i style="height:2px;background:linear-gradient(90deg,#002eff 0px,#002eff 4px,#00f0ff 5px,#00f0ff 7px,#ff0f00 8px,#ff0f00 10px,#ffab00 11px,#fa0 228px,#ff5e00 233px,#f60a00 238px,#9e0000 245px,#850000 248px,#8a0000 264px,#bf0000 285px,#fa0500 304px,#ff1900 345px,#ff1300 458px)"></i>
<i style="height:2px;background:linear-gradient(90deg,#002eff 0px,#002eff 4px,#00f0ff 5px,#00f0ff 7px,#ff0f00 8px,#ff0f00 10px,#ff5700 11px,#ff5b00 182px,#ff5600 228px,#fc0000 234px,#a60000 242px,#820000 250px,#8f0000 279px,#e70000 307px,#fa0000 342px,#f40000 455px)"></i>
<i style="height:2px;background:linear-gradient(90deg,#002eff 0px,#002eff 4px,#00f0ff 5px,#00f0ff 7px,#ff0f00 8px,#ff0f00 10px,#ff5700 11px,#ff6100 160px,#ff5600 228px,#fc0000 234px,#a60000 242px,#820000 250px,#8e0000 279px,#e20000 307px,#f40000 345px,#e00 453px)"></i>
<i style="height:2px;background:linear-gradient(90deg,#002eff 0px,#002eff 4px,#00f0ff 5px,#00f0ff 7px,#ff0f00 8px,#ff0f00 10px,#ff5700 11px,#ff6700 149px,#ff5600 228px,#fc0000 234px,#a60000 242px,#820000 250px,#8e0000 279px,#e00000 307px,#f20000 346px,#ec0000 451px)"></i>
<i style="height:2px;background:linear-gradient(90deg,#002eff 0px,#002eff 4px,#00f0ff 5px,#00f0ff 7px,#ff0f00 8px,#ff0f00 10px,#ff5700 11px,#ff6d00 141px,#ff5600 228px,#fb0000 234px,#a50000 242px,#810000 250px,#8d0000 279px,#e00000 307px,#f20000 346px,#ec0000 449px)"></i>
<i style="height:2px;background:linear-gradient(90deg,#002eff 0px,#002eff 4px,#00f0ff 5px,#00f0ff 7px,#ff0f00 8px,#ff0f00 10px,#ff5600 11px,#ff7300 136px,#f50 228px,#fa0000 234px,#a40000 242px,#800000 250px,#8e0000 252px,#810000 257px,#900000 280px,#df0000 307px,#f10000 346px,#eb0000 446px)"></i>
<i style="height:2px;background:linear-gradient(90deg,#002eff 0px,#002eff 4px,#00f0ff 5px,#00f0ff 7px,#ff0f00 8px,#ff0f00 10px,#f50 11px,#ff7800 133px,#ff5400 228px,#f90000 234px,#a30000 242px,#800000 250px,#940000 252px,#820000 255px,#8c0000 279px,#de0000 307px,#f00000 346px,#ea0000 444px)"></i>
<i style="height:2px;background:linear-gradient(90deg,#002eff 0px,#002eff 4px,#00f0ff 5px,#00f0ff 7px,#ff0f00 8px,#ff0f00 10px,#ff5400 11px,#ff7b00 131px,#ff5300 228px,#f70000 234px,#a20000 242px,#800000 249px,#900 252px,#830000 255px,#8b0000 279px,#d00 307px,#ef0000 346px,#ea0000 442px)"></i>
<i style="height:2px;background:linear-gradient(90deg,#002eff 0px,#002eff 4px,#00f0ff 5px,#00f0ff 7px,#ff0f00 8px,#ff0f00 10px,#ff5200 11px,#ff7c00 130px,#ff5100 228px,#ff1700 232px,#f60000 234px,#a00000 242px,#810000 249px,#8c0000 251px,#a00000 252px,#840000 254px,#870000 278px,#dc0000 307px,#e00 346px,#e90000 440px)"></i>
<i style="height:2px;background:linear-gradient(90deg,#002eff 0px,#002eff 4px,#00f0ff 5px,#00f0ff 7px,#ff0f00 8px,#ff0f00 10px,#ff5000 11px,#ff7a00 130px,#ff4f00 228px,#ff1500 232px,#ff0200 233px,#9e0000 242px,#810000 248px,#900000 251px,#a60000 252px,#860000 254px,#800 279px,#db0000 307px,#ed0000 346px,#e70000 437px)"></i>
<i style="height:2px;background:linear-gradient(90deg,#002eff 0px,#002eff 4px,#00f0ff 5px,#00f0ff 7px,#ff0f00 8px,#ff0f00 10px,#ff4d00 11px,#ff7500 131px,#ff4c00 228px,#fe0000 233px,#9b0000 242px,#830000 248px,#860000 250px,#ad0000 252px,#800 254px,#860000 279px,#d90000 307px,#eb0000 346px,#e50000 435px)"></i>
<i style="height:2px;background:linear-gradient(90deg,#002eff 0px,#002eff 4px,#00f0ff 5px,#00f0ff 7px,#ff0f00 8px,#ff0f00 10px,#ff4800 11px,#ff6c00 133px,#ff4700 228px,#fa0000 233px,#980000 242px,#830000 247px,#890000 250px,#b10000 252px,#8b0000 254px,#870000 280px,#d60000 307px,#e80000 346px,#e20000 433px)"></i>
<i style="height:2px;background:linear-gradient(90deg,#002eff 0px,#002eff 4px,#00f0ff 5px,#00f0ff 7px,#ff0f00 8px,#ff0f00 10px,#ff4000 11px,#ff5e00 136px,#ff3f00 228px,#ff0500 232px,#980000 241px,#820000 245px,#8f0000 250px,#b70000 252px,#910000 254px,#800 282px,#d20000 308px,#e30000 353px,#d00 431px)"></i>
<i style="height:2px;background:linear-gradient(90deg,#002eff 0px,#002eff 4px,#00f0ff 5px,#00f0ff 7px,#ff0f00 8px,#ff0f00 10px,#ff3400 11px,#ff4c00 140px,#f30 228px,#f80000 232px,#960000 240px,#850000 244px,#980000 250px,#c00000 252px,#900 254px,#800 284px,#cb0000 308px,#db0000 353px,#d50000 428px)"></i>
<i style="height:2px;background:linear-gradient(90deg,#002eff 0px,#002eff 4px,#00f0ff 5px,#00f0ff 7px,#ff0f00 8px,#ff0f00 10px,#ff2800 11px,#ff3900 147px,#ff2700 228px,#fd0100 231px,#9e0000 238px,#830000 242px,#a10000 250px,#c80000 252px,#a10000 254px,#860000 286px,#c40000 309px,#d30000 363px,#ce0000 426px)"></i>
<i style="height:2px;background:linear-gradient(90deg,#002eff 0px,#002eff 4px,#00f0ff 5px,#00f0ff 7px,#ff0f00 8px,#ff1c00 16px,#ff2600 158px,#ff1b00 228px,#ff0500 230px,#940000 238px,#820000 240px,#a90000 249px,#b70000 251px,#d10000 252px,#a90000 254px,#910000 281px,#860000 288px,#be0000 310px,#cb0000 375px,#c60000 424px)"></i>
<i style="height:2px;background:linear-gradient(90deg,#002eff 0px,#002eff 4px,#00f0ff 5px,#00f0ff 7px,#ff0f00 8px,#ff1500 175px,#ff0f00 228px,#f80000 230px,#9e0000 236px,#820000 239px,#b20000 249px,#c00000 251px,#d90000 252px,#b10000 254px,#900 281px,#820000 289px,#b70000 310px,#c30000 375px,#bf0000 422px)"></i>
<i style="height:2px;background:linear-gradient(90deg,#002eff 0px,#002eff 4px,#00f0ff 5px,#00f0ff 7px,#ff0f00 8px,#ff0400 17px,#ff0300 228px,#da0000 231px,#800 237px,#8b0000 239px,#c90000 251px,#e20000 252px,#ba0000 254px,#a00000 281px,#840000 292px,#b30000 313px,#b80000 407px,#b70000 420px)"></i>
<i style="height:2px;background:linear-gradient(90deg,#002eff 0px,#002eff 4px,#00f0ff 5px,#00f0ff 7px,#ff0f00 8px,#f70000 14px,#f60000 228px,#800 236px,#8c0000 238px,#c20000 247px,#c40000 250px,#ea0000 252px,#c20000 254px,#a80000 281px,#830000 294px,#af0000 317px,#af0000 417px)"></i>
<i style="height:2px;background:linear-gradient(90deg,#002eff 0px,#002eff 4px,#00f0ff 5px,#00f0ff 7px,#ff0f00 8px,#ff0f00 10px,#ec0000 11px,#eb0000 228px,#890000 235px,#820000 236px,#bf0000 244px,#cd0000 250px,#f20000 252px,#ca0000 254px,#af0000 281px,#820000 296px,#a00 321px,#a80000 415px)"></i>
<i style="height:2px;background:linear-gradient(90deg,#002eff 0px,#002eff 4px,#00f0ff 5px,#00f0ff 7px,#ff0f00 8px,#ff0f00 10px,#e10000 11px,#e00000 228px,#820000 235px,#c40000 243px,#d50000 250px,#fa0000 252px,#d10000 254px,#b60000 281px,#820000 298px,#a40000 324px,#a10000 413px)"></i>
<i style="height:2px;background:linear-gradient(90deg,#002eff 0px,#002eff 4px,#00f0ff 5px,#00f0ff 7px,#ff0f00 8px,#ff0f00 10px,#d70000 11px,#d50000 228px,#820000 234px,#c00 243px,#d00 250px,#ff0300 252px,#d90000 254px,#bd0000 281px,#830000 301px,#9e0000 329px,#9b0000 411px)"></i>
<i style="height:2px;background:linear-gradient(90deg,#002eff 0px,#002eff 4px,#00f0ff 5px,#00f0ff 7px,#ff0f00 8px,#ff0f00 10px,#ce0000 11px,#cd0000 228px,#830000 233px,#d40000 243px,#e30000 250px,#ff0900 252px,#de0000 254px,#c20000 281px,#820000 303px,#900 333px,#960000 408px)"></i>
<i style="height:2px;background:linear-gradient(90deg,#002eff 0px,#002eff 4px,#00f0ff 5px,#00f0ff 7px,#ff0f00 8px,#ff0f00 10px,#c80000 11px,#c70000 228px,#820000 233px,#d40000 242px,#e80000 250px,#ff0e00 252px,#e30000 254px,#c60000 281px,#810000 305px,#960000 337px,#920000 406px)"></i>
<i style="height:2px;background:linear-gradient(90deg,#002eff 0px,#002eff 4px,#00f0ff 5px,#00f0ff 7px,#ff0f00 8px,#ff0f00 10px,#c20000 11px,#c10000 228px,#870000 232px,#9f0000 235px,#de0000 243px,#ec0000 250px,#f90000 251px,#ff1200 252px,#f80000 253px,#e50000 255px,#ca0000 281px,#800000 306px,#930000 348px,#8e0000 404px)"></i>
<i style="height:2px;background:linear-gradient(90deg,#002eff 0px,#002eff 4px,#00f0ff 5px,#00f0ff 7px,#ff0f00 8px,#ff0f00 10px,#bd0000 11px,#bc0000 228px,#820000 232px,#d80000 241px,#f10000 249px,#fd0000 251px,#ff1600 252px,#fc0000 253px,#e80000 255px,#ce0000 281px,#820000 307px,#8d0000 383px,#8b0000 402px)"></i>
<i style="height:4px;background:linear-gradient(90deg,#002eff 0px,#002eff 4px,#00f0ff 5px,#00f0ff 7px,#ff0f00 8px,#ff0f00 10px,#b60000 11px,#b50000 228px,#840000 232px,#d80000 240px,#f70000 249px,#ff0300 251px,#ff1b00 252px,#ff0200 253px,#ed0000 255px,#d20000 281px,#870000 307px,#870000 399px)"></i>
<i style="height:6px;background:linear-gradient(90deg,#002eff 0px,#002eff 4px,#00f0ff 5px,#00f0ff 7px,#ff0f00 8px,#ff0f00 10px,#ad0000 11px,#ac0000 228px,#850000 231px,#e00000 240px,#fd0000 249px,#ff0900 251px,#ff2100 252px,#ff0800 253px,#ec0000 261px,#d80000 281px,#8c0000 307px,#830000 331px,#820000 395px)"></i>
<i style="height:16px;background:linear-gradient(90deg,#002eff 0px,#002eff 4px,#00f0ff 5px,#00f0ff 7px,#ff0f00 8px,#ff0f00 10px,#a80000 11px,#a70000 228px,#810000 231px,#c30000 236px,#f90000 244px,#ff0100 250px,#ff2500 252px,#f90000 254px,#db0000 281px,#900000 307px,#810000 338px,#800000 388px)"></i>
<i style="height:16px;background:linear-gradient(90deg,#002eff 0px,#002eff 4px,#00f0ff 5px,#00f0ff 7px,#ff0f00 8px,#ff0f00 10px,#a50000 11px,#a30000 228px,#830000 231px,#c60000 236px,#fb0000 244px,#ff0400 250px,#ff2700 252px,#fb0000 254px,#d00 281px,#920000 307px,#800000 345px,#800000 370px)"></i>
<i style="height:16px;background:linear-gradient(90deg,#002eff 0px,#002eff 4px,#00f0ff 5px,#00f0ff 7px,#ff0f00 8px,#ff0f00 10px,#a50000 11px,#a40000 228px,#820000 231px,#c50000 236px,#fb0000 244px,#ff0300 250px,#ff2700 252px,#fb0000 254px,#d00 281px,#910000 307px,#800000 344px,#800000 352px)"></i>
<i style="height:16px;background:linear-gradient(90deg,#002eff 0px,#002eff 4px,#00f0ff 5px,#00f0ff 7px,#ff0f00 8px,#ff0f00 10px,#a80000 11px,#a70000 228px,#800000 231px,#c30000 236px,#f90000 244px,#ff0100 250px,#ff2500 252px,#f90000 254px,#db0000 281px,#900000 307px,#800000 334px)"></i>
<i style="height:16px;background:linear-gradient(90deg,#002eff 0px,#002eff 4px,#00f0ff 5px,#00f0ff 7px,#ff0f00 8px,#ff0f00 10px,#ab0000 11px,#a00 228px,#820000 231px,#db0000 239px,#ff0100 248px,#ff0b00 251px,#ff2300 252px,#f70000 254px,#d90000 281px,#8e0000 307px,#820000 316px)"></i>
<i style="height:16px;background:linear-gradient(90deg,#002eff 0px,#002eff 4px,#00f0ff 5px,#00f0ff 7px,#ff0f00 8px,#ff0f00 10px,#ad0000 11px,#ac0000 228px,#840000 231px,#e00000 240px,#fd0000 249px,#ff0900 251px,#ff2100 252px,#ff0800 253px,#ec0000 261px,#d80000 281px,#9f0000 298px)"></i>
<i style="height:16px;background:linear-gradient(90deg,#002eff 0px,#002eff 4px,#00f0ff 5px,#00f0ff 7px,#ff0f00 8px,#ff0f00 10px,#ad0000 11px,#ac0000 228px,#850000 231px,#e60000 241px,#ff0900 251px,#ff2100 252px,#ff0800 253px,#ec0000 261px,#db0000 280px)"></i>
<i style="height:8px;background:linear-gradient(90deg,#002eff 0px,#002eff 4px,#00f0ff 5px,#00f0ff 7px,#ff0f00 8px,#ff0f00 10px,#ad0000 11px,#ac0000 228px,#850000 231px,#e60000 241px,#ff0900 251px,#ff2100 252px,#ff0800 253px,#ec0000 261px,#ec0000 262px)"></i>
<i style="height:2px;background:linear-gradient(90deg,#002eff 0px,#002eff 4px,#00f0ff 5px,#00f0ff 7px,#ff0f00 8px,#ff0f00 10px,#d60d00 11px,#d60800 75px,#ad0000 76px,#ac0000 228px,#850000 231px,#e60000 241px,#ff0900 251px,#ff2100 252px,#ff0800 253px)"></i>
<i style="height:2px;background:linear-gradient(90deg,#002eff 0px,#002eff 4px,#00f0ff 5px,#00f0ff 7px,#ff0f00 8px,#ff0f00 10px,#ff4300 11px,#ff3000 91px,#f41700 128px,#d61600 129px,#d40000 165px,#ad0000 166px,#ac0000 228px,#850000 231px,#e60000 241px,#ff0900 251px)"></i>
<i style="height:2px;background:linear-gradient(90deg,#003dff 0px,#003dff 2px,#1796e8 3px,#1796e8 4px,#17f7e8 5px,#80c780 6px,#80c780 7px,#ff5700 8px,#ff5700 10px,#ffb400 11px,#fbe504 12px,#ffd300 85px,#ff6200 174px,#ff3e00 195px,#d62a00 196px,#d61200 221px,#ad0000 222px,#a40000 229px,#850000 231px,#e60000 241px,#fd0000 249px)"></i>
<i style="height:2px;background:linear-gradient(90deg,#004dff 0px,#004dff 2px,#2effd1 3px,#2effd1 5px,#ff9e00 6px,#ff9e00 11px,#a3ff5c 12px,#b7ff48 92px,#eef411 140px,#ffc700 175px,#ff3b00 244px,#fb2700 245px,#fd2600 246px)"></i>
<i style="height:2px;background:linear-gradient(90deg,#004dff 0px,#004dff 2px,#2effd1 3px,#2effd1 5px,#ff9e00 6px,#ff9e00 11px,#51ffae 12px,#5dffa2 98px,#a4ff5b 163px,#e6f519 202px,#ffca00 231px,#ffa800 244px)"></i>
<i style="height:2px;background:linear-gradient(90deg,#004dff 0px,#004dff 2px,#2effd1 3px,#2effd1 5px,#ff9e00 6px,#ff9e00 11px,#1afde5 12px,#25ffda 113px,#a4ff5b 216px,#d9f626 242px)"></i>
<i style="height:2px;background:linear-gradient(90deg,#004dff 0px,#004dff 2px,#2effd1 3px,#2effd1 5px,#ff9e00 6px,#ff9e00 11px,#00c6ff 12px,#00c3ff 102px,#09fff6 184px,#58ffa7 240px)"></i>
<i style="height:2px;background:linear-gradient(90deg,#004dff 0px,#004dff 2px,#2effd1 3px,#2effd1 5px,#ff9e00 6px,#ff9e00 11px,#02ebfd 12px,#00b9ff 109px,#0afbf5 214px,#23ffdc 237px)"></i>
<i style="height:2px;background:linear-gradient(90deg,#004dff 0px,#004dff 2px,#2effd1 3px,#2effd1 5px,#ff9e00 6px,#ff9e00 11px,#0afaf5 12px,#00d6ff 139px,#00b9ff 184px,#0df 235px)"></i>
<i style="height:2px;background:linear-gradient(90deg,#004dff 0px,#004dff 2px,#2effd1 3px,#2effd1 5px,#ff9e00 6px,#ff9e00 11px,#00dfff 12px,#00cbff 99px,#00f4ff 173px,#00d9ff 202px,#00baff 226px,#00b6ff 233px)"></i>
<i style="height:2px;background:linear-gradient(90deg,#004dff 0px,#004dff 2px,#2effd1 3px,#2effd1 5px,#ff9e00 6px,#ff9e00 11px,#00bcff 12px,#00a5ff 98px,#03f2fc 215px,#08e7f7 231px)"></i>
<i style="height:2px;background:linear-gradient(90deg,#004dff 0px,#004dff 2px,#2effd1 3px,#2effd1 5px,#ff9e00 6px,#ff9e00 11px,#00b9ff 12px,#008fff 99px,#00e4ff 228px)"></i>
<i style="height:2px;background:linear-gradient(90deg,#004dff 0px,#004dff 2px,#2effd1 3px,#2effd1 5px,#ff9e00 6px,#ff9e00 11px,#0af 12px,#007dff 100px,#00afff 226px)"></i>
<i style="height:2px;background:linear-gradient(90deg,#004dff 0px,#004dff 2px,#2effd1 3px,#2effd1 5px,#ff9e00 6px,#ff9e00 11px,#00b9ff 12px,#0087ff 99px,#00a7ff 185px,#00a2ff 224px)"></i>
<i style="height:2px;background:linear-gradient(90deg,#004dff 0px,#004dff 2px,#2effd1 3px,#2effd1 5px,#ff9e00 6px,#ff9e00 11px,#00d8ff 12px,#0098ff 99px,#00b4ff 191px,#00b0ff 222px)"></i>
<i style="height:2px;background:linear-gradient(90deg,#004dff 0px,#004dff 2px,#2effd1 3px,#2effd1 5px,#ff9e00 6px,#ff9e00 11px,#00e4ff 12px,#009fff 102px,#00a2ff 185px,#009cff 219px)"></i>
<i style="height:2px;background:linear-gradient(90deg,#004dff 0px,#004dff 2px,#2effd1 3px,#2effd1 5px,#ff9e00 6px,#ff9e00 11px,#00e5ff 12px,#00bfff 97px,#00d7ff 157px,#00b4ff 217px)"></i>
<i style="height:2px;background:linear-gradient(90deg,#004dff 0px,#004dff 2px,#2effd1 3px,#2effd1 5px,#ff9e00 6px,#ff9e00 11px,#00c4ff 12px,#00a0ff 93px,#0ef 180px,#00e3ff 215px)"></i>
<i style="height:2px;background:linear-gradient(90deg,#004dff 0px,#004dff 2px,#2effd1 3px,#2effd1 5px,#ff9e00 6px,#ff9e00 11px,#00b3ff 12px,#007fff 98px,#00deff 213px)"></i>
<i style="height:2px;background:linear-gradient(90deg,#004dff 0px,#004dff 2px,#2effd1 3px,#2effd1 5px,#ff9e00 6px,#ff9e00 11px,#0098ff 12px,#0067ff 98px,#009aff 210px)"></i>
<i style="height:2px;background:linear-gradient(90deg,#004dff 0px,#004dff 2px,#2effd1 3px,#2effd1 5px,#ff9e00 6px,#ff9e00 11px,#00c3ff 12px,#0092ff 99px,#00b5ff 185px,#00b4ff 208px)"></i>
<i style="height:2px;background:linear-gradient(90deg,#004dff 0px,#004dff 2px,#2effd1 3px,#2effd1 5px,#ff9e00 6px,#ff9e00 11px,#00c0ff 12px,#0086ff 100px,#00a0ff 198px,#00a0ff 206px)"></i>
<i style="height:2px;background:linear-gradient(90deg,#004dff 0px,#004dff 2px,#2effd1 3px,#2effd1 5px,#ff9e00 6px,#ff9e00 11px,#00deff 12px,#00a3ff 105px,#00a0ff 193px,#009eff 204px)"></i>
<i style="height:2px;background:linear-gradient(90deg,#004dff 0px,#004dff 2px,#2effd1 3px,#2effd1 5px,#ff9e00 6px,#ff9e00 11px,#00f9ff 12px,#00c1ff 107px,#00b9ff 183px,#00aeff 201px)"></i>
<i style="height:2px;background:linear-gradient(90deg,#004dff 0px,#004dff 2px,#2effd1 3px,#2effd1 5px,#ff9e00 6px,#ff9e00 11px,#37ffc8 12px,#05fffa 110px,#00f4ff 189px,#0ef 199px)"></i>
<i style="height:2px;background:linear-gradient(90deg,#004dff 0px,#004dff 2px,#2effd1 3px,#2effd1 5px,#ff9e00 6px,#ff9e00 11px,#21ffde 12px,#00f4ff 113px,#00e9ff 192px,#00e6ff 197px)"></i>
<i style="height:2px;background:linear-gradient(90deg,#004dff 0px,#004dff 2px,#2effd1 3px,#2effd1 5px,#ff9e00 6px,#ff9e00 11px,#4dffb2 12px,#23ffdc 115px,#16ffe9 195px)"></i>
<i style="height:2px;background:linear-gradient(90deg,#004dff 0px,#004dff 2px,#2effd1 3px,#2effd1 5px,#ff9e00 6px,#ff9e00 11px,#5cffa3 12px,#3fc 121px,#25ffda 192px)"></i>
<i style="height:2px;background:linear-gradient(90deg,#004dff 0px,#004dff 2px,#2effd1 3px,#2effd1 5px,#ff9e00 6px,#ff9e00 11px,#74ff8b 12px,#50ffaf 131px,#40ffbf 190px)"></i>
<i style="height:2px;background:linear-gradient(90deg,#004dff 0px,#004dff 2px,#2effd1 3px,#2effd1 5px,#ff9e00 6px,#ff9e00 11px,#69ff96 12px,#4bffb4 134px,#3fffc0 188px)"></i>
<i style="height:2px;background:linear-gradient(90deg,#004dff 0px,#004dff 2px,#2effd1 3px,#2effd1 5px,#ff9e00 6px,#ff9e00 11px,#91ff6e 12px,#68ff97 186px)"></i>
<i style="height:2px;background:linear-gradient(90deg,#004dff 0px,#004dff 2px,#2effd1 3px,#2effd1 5px,#ff9e00 6px,#ff9e00 11px,#83ff7c 12px,#5cffa3 183px)"></i>
<i style="height:2px;background:linear-gradient(90deg,#004dff 0px,#004dff 2px,#2effd1 3px,#2effd1 5px,#ff9e00 6px,#ff9e00 11px,#8dff72 12px,#6eff91 181px)"></i>
<i style="height:2px;background:linear-gradient(90deg,#004dff 0px,#004dff 2px,#2effd1 3px,#2effd1 5px,#ff9c00 6px,#ff9c00 11px,#7bff84 12px,#7cff83 140px,#7dff82 179px)"></i>
<i style="height:2px;background:linear-gradient(90deg,#004dff 0px,#004dff 2px,#2effd1 3px,#2effd1 5px,#ff9a00 6px,#ff9a00 11px,#6bff94 12px,#60ff9f 121px,#6cff93 177px)"></i>
<i style="height:2px;background:linear-gradient(90deg,#004dff 0px,#004dff 2px,#2effd1 3px,#2effd1 5px,#ff9700 6px,#ff9700 11px,#79ff86 12px,#46ffb9 173px,#46ffb9 174px)"></i>
<i style="height:2px;background:linear-gradient(90deg,#004dff 0px,#004dff 2px,#2effd1 3px,#2effd1 5px,#ff9500 6px,#ff9500 11px,#b3ff4c 12px,#6bff94 172px)"></i>
<i style="height:2px;background:linear-gradient(90deg,#004dff 0px,#004dff 2px,#2effd1 3px,#2effd1 5px,#ff9200 6px,#ff9200 11px,#d3ff2c 12px,#9aff65 152px,#8eff71 170px)"></i>
<i style="height:2px;background:linear-gradient(90deg,#004dff 0px,#004dff 2px,#2effd1 3px,#2effd1 5px,#ff9000 6px,#ff9000 11px,#c0ff3f 12px,#9bff64 165px,#9f6 168px)"></i>
<i style="height:2px;background:linear-gradient(90deg,#004dff 0px,#004dff 2px,#2effd1 3px,#2effd1 5px,#ff8d00 6px,#ff8d00 11px,#d6ff29 12px,#bcff43 165px)"></i>
<i style="height:2px;background:linear-gradient(90deg,#004dff 0px,#004dff 2px,#2effd1 3px,#2effd1 5px,#ff8a00 6px,#ff8a00 11px,#dbff24 12px,#c1ff3e 163px)"></i>
<i style="height:2px;background:linear-gradient(90deg,#004dff 0px,#004dff 2px,#2effd1 3px,#2effd1 5px,#f80 6px,#f80 11px,#d7ff28 12px,#b6ff49 161px)"></i>
<i style="height:2px;background:linear-gradient(90deg,#004dff 0px,#004dff 2px,#2effd1 3px,#2effd1 5px,#ff8500 6px,#ff8500 11px,#d6ff29 12px,#aeff51 159px)"></i>
<i style="height:2px;background:linear-gradient(90deg,#004dff 0px,#004dff 2px,#2effd1 3px,#2effd1 5px,#ff8300 6px,#ff8300 11px,#fff300 12px,#eaff15 136px,#e2ff1d 156px)"></i>
<i style="height:2px;background:linear-gradient(90deg,#004dff 0px,#004dff 2px,#2effd1 3px,#2effd1 5px,#ff8000 6px,#ff8000 11px,#f9ff06 12px,#d2ff2d 154px)"></i>
<i style="height:2px;background:linear-gradient(90deg,#004dff 0px,#004dff 2px,#2effd1 3px,#2effd1 5px,#ff7d00 6px,#ff7d00 11px,#fcef03 12px,#e5ff1a 152px)"></i>
<i style="height:2px;background:linear-gradient(90deg,#004dff 0px,#004dff 2px,#2effd1 3px,#2effd1 5px,#ff7b00 6px,#ff7b00 11px,#ffe600 12px,#f3ff0c 146px,#f1ff0e 150px)"></i>
<i style="height:2px;background:linear-gradient(90deg,#004dff 0px,#004dff 2px,#2effd1 3px,#2effd1 5px,#ff7800 6px,#ff7800 11px,#ffd100 12px,#ffeb00 147px)"></i>
<i style="height:2px;background:linear-gradient(90deg,#004dff 0px,#004dff 2px,#2effd1 3px,#2effd1 5px,#ff7600 6px,#ff7600 11px,#faff05 12px,#f0ff0f 145px)"></i>
<i style="height:2px;background:linear-gradient(90deg,#004dff 0px,#004dff 2px,#2effd1 3px,#2effd1 5px,#ff7300 6px,#ff7300 11px,#ffe500 12px,#fefb01 143px)"></i>
<i style="height:2px;background:linear-gradient(90deg,#004dff 0px,#004dff 2px,#2effd1 3px,#2effd1 5px,#ff7000 6px,#ff7000 11px,#ffdc00 12px,#f6ff09 137px,#f3ff0c 141px)"></i>
<i style="height:2px;background:linear-gradient(90deg,#004dff 0px,#004dff 2px,#2effd1 3px,#2effd1 5px,#ff6e00 6px,#ff6e00 11px,#ffe200 12px,#ffec00 139px)"></i>
<i style="height:2px;background:linear-gradient(90deg,#004dff 0px,#004dff 2px,#2effd1 3px,#2effd1 5px,#ff6b00 6px,#ff6b00 11px,#feda01 12px,#f4fa0b 136px)"></i>
<i style="height:2px;background:linear-gradient(90deg,#004dff 0px,#004dff 2px,#2effd1 3px,#2effd1 5px,#ff6900 6px,#ff6900 11px,#ff9800 12px,#ffbf00 114px,#ffd100 134px)"></i>
<i style="height:2px;background:linear-gradient(90deg,#004dff 0px,#004dff 2px,#2effd1 3px,#2effd1 5px,#f60 6px,#f60 11px,#ffd500 12px,#ffd200 132px)"></i>
<i style="height:2px;background:linear-gradient(90deg,#004dff 0px,#004dff 2px,#2effd1 3px,#2effd1 5px,#ff6300 6px,#ff6300 11px,#ffd200 12px,#fd0 130px)"></i>
<i style="height:4px;background:linear-gradient(90deg,#004dff 0px,#004dff 2px,#2effd1 3px,#2effd1 5px,#ff6000 6px,#ff6000 11px,#ffc000 12px,#ffe100 127px)"></i>
<i style="height:2px;background:linear-gradient(90deg,#004dff 0px,#004dff 2px,#2effd1 3px,#2effd1 5px,#ff5c00 6px,#ff5c00 11px,#ffbe00 12px,#ffd700 123px)"></i>
<i style="height:2px;background:linear-gradient(90deg,#004dff 0px,#004dff 2px,#2effd1 3px,#2effd1 5px,#ff5900 6px,#ff5900 11px,#ffa300 12px,#ffb900 121px)"></i>
<i style="height:2px;background:linear-gradient(90deg,#004dff 0px,#004dff 2px,#2effd1 3px,#2effd1 5px,#ff5600 6px,#ff5600 11px,#ffb100 12px,#ffc600 118px)"></i>
<i style="height:2px;background:linear-gradient(90deg,#004dff 0px,#004dff 2px,#2effd1 3px,#2effd1 5px,#ff5400 6px,#ff5400 11px,#ffc000 12px,#ffd800 116px)"></i>
<i style="height:2px;background:linear-gradient(90deg,#004dff 0px,#004dff 2px,#2effd1 3px,#2effd1 5px,#ff5100 6px,#ff5100 11px,#ff9700 12px,#ffb300 114px)"></i>
<i style="height:2px;background:linear-gradient(90deg,#004dff 0px,#004dff 2px,#2effd1 3px,#2effd1 5px,#ff4f00 6px,#ff4f00 11px,#ff8e00 12px,#fa0 112px)"></i>
<i style="height:2px;background:linear-gradient(90deg,#004dff 0px,#004dff 2px,#2effd1 3px,#2effd1 5px,#ff4c00 6px,#ff4c00 11px,#ff9700 12px,#fa0 109px)"></i>
<i style="height:2px;background:linear-gradient(90deg,#004dff 0px,#004dff 2px,#2effd1 3px,#2effd1 5px,#ff4900 6px,#ff4900 11px,#ffb000 12px,#ffb600 107px)"></i>
<i style="height:2px;background:linear-gradient(90deg,#004dff 0px,#004dff 2px,#2effd1 3px,#2effd1 5px,#ff4700 6px,#ff4700 11px,#fa0 12px,#ffb000 105px)"></i>
<i style="height:2px;background:linear-gradient(90deg,#004dff 0px,#004dff 2px,#2effd1 3px,#2effd1 5px,#f40 6px,#f40 11px,#ffd200 12px,#ffe400 103px)"></i>
<i style="height:4px;background:linear-gradient(90deg,#004dff 0px,#004dff 2px,#2effd1 3px,#2effd1 5px,#ff4000 6px,#ff4000 11px,#fb0 12px,#ffce00 100px)"></i>
<i style="height:2px;background:linear-gradient(90deg,#004dff 0px,#004dff 2px,#2effd1 3px,#2effd1 5px,#ff3c00 6px,#ff3c00 11px,#ffab00 12px,#ffbd00 96px)"></i>
<i style="height:2px;background:linear-gradient(90deg,#004dff 0px,#004dff 2px,#2effd1 3px,#2effd1 5px,#ff3a00 6px,#ff3a00 11px,#ffd600 12px,#fd0 94px)"></i>
<i style="height:2px;background:linear-gradient(90deg,#004dff 0px,#004dff 2px,#2effd1 3px,#2effd1 5px,#ff3700 6px,#ff3700 11px,#ffc900 12px,#ffd000 91px)"></i>
<i style="height:2px;background:linear-gradient(90deg,#004dff 0px,#004dff 2px,#2effd1 3px,#2effd1 5px,#ff3500 6px,#ff3500 11px,#fef501 12px,#f5f80a 89px)"></i>
<i style="height:2px;background:linear-gradient(90deg,#004dff 0px,#004dff 2px,#2effd1 3px,#2effd1 5px,#ff3200 6px,#ff3200 11px,#ffd900 12px,#ffed00 87px)"></i>
<i style="height:2px;background:linear-gradient(90deg,#004dff 0px,#004dff 2px,#2effd1 3px,#2effd1 5px,#ff3000 6px,#ff3000 11px,#ffdc00 12px,#ffe500 85px)"></i>
<i style="height:2px;background:linear-gradient(90deg,#004dff 0px,#004dff 2px,#2effd1 3px,#2effd1 5px,#ff2d00 6px,#ff2d00 11px,#ffe600 12px,#ffec00 82px)"></i>
<i style="height:2px;background:linear-gradient(90deg,#004dff 0px,#004dff 2px,#2effd1 3px,#2effd1 5px,#ff2a00 6px,#ff2a00 11px,#f8ff07 12px,#e8ff17 80px)"></i>
<i style="height:2px;background:linear-gradient(90deg,#004dff 0px,#004dff 2px,#2effd1 3px,#2effd1 5px,#ff2800 6px,#ff2800 11px,#ffd700 12px,#ffe700 78px)"></i>
<i style="height:2px;background:linear-gradient(90deg,#004dff 0px,#004dff 2px,#2effd1 3px,#2effd1 5px,#ff2500 6px,#ff2500 11px,#fd0 12px,#ffe600 76px)"></i>
<i style="height:2px;background:linear-gradient(90deg,#004dff 0px,#004dff 2px,#2effd1 3px,#2effd1 5px,#ff2400 6px,#ff2400 11px,#f8f407 12px,#f5f80a 73px)"></i>
<i style="height:2px;background:linear-gradient(90deg,#004dff 0px,#004dff 2px,#2effd1 3px,#2effd1 5px,#ff2400 6px,#ff2400 11px,#f6ff09 12px,#efff10 71px)"></i>
<i style="height:2px;background:linear-gradient(90deg,#004dff 0px,#004dff 2px,#2effd1 3px,#2effd1 5px,#ff2400 6px,#ff2400 11px,#faf605 12px,#f6fa09 69px)"></i>
<i style="height:2px;background:linear-gradient(90deg,#004dff 0px,#004dff 2px,#2effd1 3px,#2effd1 5px,#ff2400 6px,#ff2400 11px,#e0ff1f 12px,#d9ff26 67px)"></i>
<i style="height:2px;background:linear-gradient(90deg,#004dff 0px,#004dff 2px,#2effd1 3px,#2effd1 5px,#ff2400 6px,#ff2400 11px,#ceff31 12px,#c7ff38 64px)"></i>
<i style="height:2px;background:linear-gradient(90deg,#004dff 0px,#004dff 2px,#2effd1 3px,#2effd1 5px,#ff2400 6px,#ff2400 11px,#dfff20 12px,#d8ff27 62px)"></i>
<i style="height:2px;background:linear-gradient(90deg,#004dff 0px,#004dff 2px,#2effd1 3px,#2effd1 5px,#ff2400 6px,#ff2400 11px,#c2ff3d 12px,#beff41 60px)"></i>
<i style="height:2px;background:linear-gradient(90deg,#004dff 0px,#004dff 2px,#2effd1 3px,#2effd1 5px,#ff2400 6px,#ff2400 11px,#a0ff5f 12px,#9eff61 58px)"></i>
<i style="height:2px;background:linear-gradient(90deg,#004dff 0px,#004dff 2px,#2effd1 3px,#2effd1 5px,#ff2400 6px,#ff2400 11px,#8aff75 12px,#8f7 55px)"></i>
<i style="height:2px;background:linear-gradient(90deg,#004dff 0px,#004dff 2px,#2effd1 3px,#2effd1 5px,#ff2400 6px,#ff2400 11px,#81ff7e 12px,#7eff81 53px)"></i>
<i style="height:2px;background:linear-gradient(90deg,#004dff 0px,#004dff 2px,#2effd1 3px,#2effd1 5px,#ff2400 6px,#ff2400 11px,#4affb5 12px,#47ffb8 51px)"></i>
<i style="height:2px;background:linear-gradient(90deg,#004dff 0px,#004dff 2px,#2effd1 3px,#2effd1 5px,#ff2400 6px,#ff2400 11px,#53ffac 12px,#50ffaf 49px)"></i>
<i style="height:2px;background:linear-gradient(90deg,#004dff 0px,#004dff 2px,#2effd1 3px,#2effd1 5px,#ff2400 6px,#ff2400 11px,#34ffcb 12px,#31ffce 46px)"></i>
<i style="height:2px;background:linear-gradient(90deg,#004dff 0px,#004dff 2px,#2effd1 3px,#2effd1 5px,#ff2400 6px,#ff2400 11px,#29ffd6 12px,#27ffd8 44px)"></i>
<i style="height:2px;background:linear-gradient(90deg,#004dff 0px,#004dff 2px,#2effd1 3px,#2effd1 5px,#ff2400 6px,#ff2400 11px,#0bfff4 12px,#09fff6 42px)"></i>
<i style="height:2px;background:linear-gradient(90deg,#004dff 0px,#004dff 2px,#2effd1 3px,#2effd1 5px,#ff2400 6px,#ff2400 11px,#1affe5 12px,#18ffe7 40px)"></i>
<i style="height:2px;background:linear-gradient(90deg,#004dff 0px,#004dff 2px,#2effd1 3px,#2effd1 5px,#ff2400 6px,#ff2400 11px,#00e4ff 12px,#00e3ff 37px)"></i>
<i style="height:2px;background:linear-gradient(90deg,#004dff 0px,#004dff 2px,#2effd1 3px,#2effd1 5px,#ff2400 6px,#ff2400 11px,#00f0ff 12px,#00efff 35px)"></i>
<i style="height:2px;background:linear-gradient(90deg,#004dff 0px,#004dff 2px,#2effd1 3px,#2effd1 5px,#ff2400 6px,#ff2400 11px,#00deff 12px,#00dcff 33px)"></i>
<i style="height:4px;background:linear-gradient(90deg,#004dff 0px,#004dff 2px,#2effd1 3px,#2effd1 5px,#ff2400 6px,#ff2400 11px,#00d1ff 12px,#00cfff 31px)"></i>
<i style="height:2px;background:linear-gradient(90deg,#004dff 0px,#004dff 2px,#2effd1 3px,#2effd1 5px,#ff2400 6px,#ff2400 11px,#19ffe6 12px,#18ffe7 26px)"></i>
<i style="height:2px;background:linear-gradient(90deg,#004dff 0px,#004dff 2px,#2effd1 3px,#2effd1 5px,#ff2400 6px,#ff2400 11px,#09faf6 12px,#08faf7 24px)"></i>
<i style="height:2px;background:linear-gradient(90deg,#004dff 0px,#004dff 2px,#2effd1 3px,#2effd1 5px,#ff2400 6px,#ff2400 11px,#02f8fd 12px,#01f7fe 22px)"></i>
<i style="height:2px;background:linear-gradient(90deg,#004dff 0px,#004dff 2px,#2effd1 3px,#2effd1 5px,#ff2400 6px,#ff2400 11px,#06fef9 12px,#06fef9 19px)"></i>
<i style="height:2px;background:linear-gradient(90deg,#004dff 0px,#004dff 2px,#2effd1 3px,#2effd1 5px,#ff2400 6px,#ff2400 11px,#15ffea 12px,#14ffeb 17px)"></i>
<i style="height:2px;background:linear-gradient(90deg,#004dff 0px,#004dff 2px,#2effd1 3px,#2effd1 5px,#ff2400 6px,#ff2400 11px,#06f2f9 12px,#06f2f9 15px)"></i>
<i style="height:9px;background:linear-gradient(90deg,#004dff 0px,#004dff 2px,#2effd1 3px,#2effd1 5px,#ff2400 6px,#ff2400 11px,#0bfaf4 12px,#0bfaf4 13px)"></i>
</div>
<svg width="944" height="1450" viewBox="0 0 944 1450" style="position:absolute;left:0;top:0">
<defs><linearGradient id="jg" x1="0" y1="0" x2="0" y2="1"><stop offset="0" stop-color="#800000"/><stop offset="0.125" stop-color="#f00"/><stop offset="0.375" stop-color="#ff0"/><stop offset="0.625" stop-color="#0ff"/><stop offset="0.875" stop-color="#00f"/><stop offset="1" stop-color="#000080"/></linearGradient></defs>
<polygon points="93.3,665 807.2,41.5 810,41.5 810,665" fill="#000080"/>
<polygon points="139.3,1422.5 845.2,792.5 848,792.5 848,1422.5" fill="#000080"/>
<rect x="807" y="40.5" width="4" height="626" fill="#fff"/>
<rect x="92.5" y="663.5" width="717.5" height="3" fill="#fff"/>
<rect x="844.8" y="791" width="4" height="633" fill="#fff"/>
<rect x="136.8" y="1421" width="711" height="3" fill="#fff"/>
<rect x="140" y="793" width="4.5" height="3.2" fill="#e01000"/><rect x="143" y="795.8" width="3.6" height="3" fill="#ffe000"/>
<rect x="818" y="41.5" width="22" height="622.5" fill="url(#jg)"/>
<rect x="818.5" y="42" width="21" height="621.5" fill="none" stroke="#3a2a2a" stroke-opacity="0.55" stroke-width="1"/>
<line x1="834.5" y1="601.75" x2="840" y2="601.75" stroke="#222" stroke-opacity="0.7" stroke-width="1"/>
<line x1="834.5" y1="539.5" x2="840" y2="539.5" stroke="#222" stroke-opacity="0.7" stroke-width="1"/>
<line x1="834.5" y1="477.25" x2="840" y2="477.25" stroke="#222" stroke-opacity="0.7" stroke-width="1"/>
<line x1="834.5" y1="415" x2="840" y2="415" stroke="#222" stroke-opacity="0.7" stroke-width="1"/>
<line x1="834.5" y1="352.75" x2="840" y2="352.75" stroke="#222" stroke-opacity="0.7" stroke-width="1"/>
<line x1="834.5" y1="290.5" x2="840" y2="290.5" stroke="#222" stroke-opacity="0.7" stroke-width="1"/>
<line x1="834.5" y1="228.25" x2="840" y2="228.25" stroke="#222" stroke-opacity="0.7" stroke-width="1"/>
<line x1="834.5" y1="166" x2="840" y2="166" stroke="#222" stroke-opacity="0.7" stroke-width="1"/>
<line x1="834.5" y1="103.75" x2="840" y2="103.75" stroke="#222" stroke-opacity="0.7" stroke-width="1"/>
<rect x="855" y="793" width="20.8" height="632.5" fill="url(#jg)"/>
<rect x="855.5" y="793.5" width="19.8" height="631.5" fill="none" stroke="#3a2a2a" stroke-opacity="0.55" stroke-width="1"/>
<line x1="870.3" y1="1362.25" x2="875.8" y2="1362.25" stroke="#222" stroke-opacity="0.7" stroke-width="1"/>
<line x1="870.3" y1="1299" x2="875.8" y2="1299" stroke="#222" stroke-opacity="0.7" stroke-width="1"/>
<line x1="870.3" y1="1235.75" x2="875.8" y2="1235.75" stroke="#222" stroke-opacity="0.7" stroke-width="1"/>
<line x1="870.3" y1="1172.5" x2="875.8" y2="1172.5" stroke="#222" stroke-opacity="0.7" stroke-width="1"/>
<line x1="870.3" y1="1109.25" x2="875.8" y2="1109.25" stroke="#222" stroke-opacity="0.7" stroke-width="1"/>
<line x1="870.3" y1="1046" x2="875.8" y2="1046" stroke="#222" stroke-opacity="0.7" stroke-width="1"/>
<line x1="870.3" y1="982.75" x2="875.8" y2="982.75" stroke="#222" stroke-opacity="0.7" stroke-width="1"/>
<line x1="870.3" y1="919.5" x2="875.8" y2="919.5" stroke="#222" stroke-opacity="0.7" stroke-width="1"/>
<line x1="870.3" y1="856.25" x2="875.8" y2="856.25" stroke="#222" stroke-opacity="0.7" stroke-width="1"/>
<text x="846.5" y="672.5" font-size="23" text-anchor="start" fill="#2a2a2a">0</text>
<text x="883" y="1434" font-size="23" text-anchor="start" fill="#2a2a2a">0</text>
<text x="846.5" y="610.25" font-size="23" text-anchor="start" fill="#2a2a2a">0.1</text>
<text x="883" y="1370.75" font-size="23" text-anchor="start" fill="#2a2a2a">0.1</text>
<text x="846.5" y="548" font-size="23" text-anchor="start" fill="#2a2a2a">0.2</text>
<text x="883" y="1307.5" font-size="23" text-anchor="start" fill="#2a2a2a">0.2</text>
<text x="846.5" y="485.75" font-size="23" text-anchor="start" fill="#2a2a2a">0.3</text>
<text x="883" y="1244.25" font-size="23" text-anchor="start" fill="#2a2a2a">0.3</text>
<text x="846.5" y="423.5" font-size="23" text-anchor="start" fill="#2a2a2a">0.4</text>
<text x="883" y="1181" font-size="23" text-anchor="start" fill="#2a2a2a">0.4</text>
<text x="846.5" y="361.25" font-size="23" text-anchor="start" fill="#2a2a2a">0.5</text>
<text x="883" y="1117.75" font-size="23" text-anchor="start" fill="#2a2a2a">0.5</text>
<text x="846.5" y="299" font-size="23" text-anchor="start" fill="#2a2a2a">0.6</text>
<text x="883" y="1054.5" font-size="23" text-anchor="start" fill="#2a2a2a">0.6</text>
<text x="846.5" y="236.75" font-size="23" text-anchor="start" fill="#2a2a2a">0.7</text>
<text x="883" y="991.25" font-size="23" text-anchor="start" fill="#2a2a2a">0.7</text>
<text x="846.5" y="174.5" font-size="23" text-anchor="start" fill="#2a2a2a">0.8</text>
<text x="883" y="928" font-size="23" text-anchor="start" fill="#2a2a2a">0.8</text>
<text x="846.5" y="112.25" font-size="23" text-anchor="start" fill="#2a2a2a">0.9</text>
<text x="883" y="864.75" font-size="23" text-anchor="start" fill="#2a2a2a">0.9</text>
<text x="849" y="50" font-size="23" text-anchor="start" fill="#2a2a2a">1</text>
<text x="884" y="801.5" font-size="23" text-anchor="start" fill="#2a2a2a">1</text>
<text x="31" y="33" font-size="29.6" text-anchor="start" fill="#111">(a)</text>
<text x="70" y="33" font-size="24.6" text-anchor="start" fill="#111">400nm</text>
<text x="273.3" y="34.4" font-size="24.6" text-anchor="start" fill="#111">550nm</text>
<text x="434.5" y="35.3" font-size="24.6" text-anchor="start" fill="#111">700nm</text>
<text x="593.5" y="32.8" font-size="24.6" text-anchor="start" fill="#111">850nm</text>
<text x="788.5" y="33" font-size="24.6" text-anchor="start" fill="#111">1000nm</text>
<text x="20.6" y="215.2" font-size="24.6" text-anchor="start" fill="#111">550nm</text>
<text x="21.8" y="363.3" font-size="24.6" text-anchor="start" fill="#111">700nm</text>
<text x="22.9" y="499.9" font-size="24.6" text-anchor="start" fill="#111">850nm</text>
<text x="9.5" y="663.3" font-size="24.6" text-anchor="start" fill="#111">1000nm</text>
<text x="29.8" y="760.3" font-size="31.7" text-anchor="start" fill="#111">(b)</text>
<text transform="translate(137.2,793) scale(1.135,1)" font-size="25" text-anchor="end" fill="#111">1000 nm</text>
<text transform="translate(132.4,871.6) scale(1.135,1)" font-size="25" text-anchor="end" fill="#111">1200 nm</text>
<text transform="translate(136.5,958) scale(1.135,1)" font-size="25" text-anchor="end" fill="#111">1400 nm</text>
<text transform="translate(133.3,1049.6) scale(1.135,1)" font-size="25" text-anchor="end" fill="#111">1600 nm</text>
<text transform="translate(131,1144) scale(1.135,1)" font-size="25" text-anchor="end" fill="#111">1800 nm</text>
<text transform="translate(127.7,1241.5) scale(1.135,1)" font-size="25" text-anchor="end" fill="#111">2000 nm</text>
<text transform="translate(127.7,1335) scale(1.135,1)" font-size="25" text-anchor="end" fill="#111">2200 nm</text>
<text transform="translate(127.7,1426) scale(1.135,1)" font-size="25" text-anchor="end" fill="#111">2400 nm</text>
<text transform="translate(233.5,793.5) scale(1.135,1) rotate(-25)" font-size="25" fill="#111">1200 nm</text>
<text transform="translate(323.5,793) scale(1.135,1) rotate(-25)" font-size="25" fill="#111">1400 nm</text>
<text transform="translate(424,788.5) scale(1.135,1) rotate(-25)" font-size="25" fill="#111">1600 nm</text>
<text transform="translate(518.5,792.5) scale(1.135,1) rotate(-25)" font-size="25" fill="#111">1800 nm</text>
<text transform="translate(628,792.5) scale(1.135,1) rotate(-25)" font-size="25" fill="#111">2000 nm</text>
<text transform="translate(730,793) scale(1.135,1) rotate(-25)" font-size="25" fill="#111">2200 nm</text>
<text transform="translate(837,793) scale(1.135,1) rotate(-25)" font-size="25" fill="#111">2400 nm</text>
</svg>
</body></html>
